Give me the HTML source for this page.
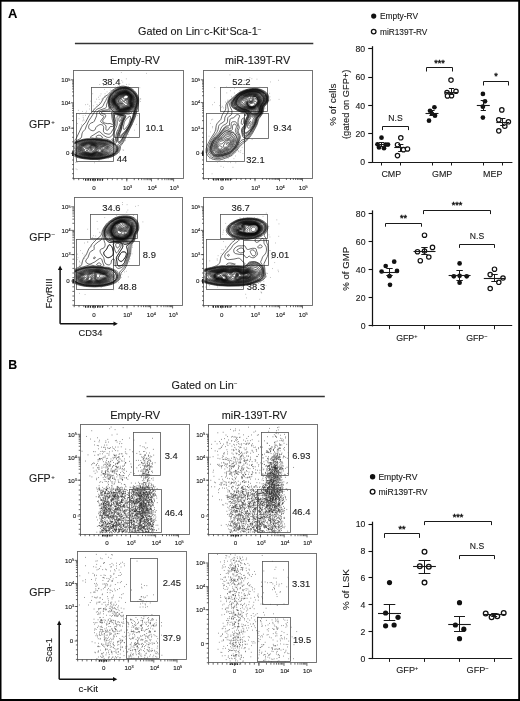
<!DOCTYPE html>
<html><head><meta charset="utf-8"><style>
html,body{margin:0;padding:0;background:#fff;}
body{width:520px;height:701px;overflow:hidden;position:relative;}
svg{position:absolute;left:0;top:0;will-change:transform;font-family:"Liberation Sans", sans-serif;}
text{stroke:#1a1a1a;stroke-width:0.12px;}
</style></head><body>
<svg width="520" height="701" viewBox="0 0 520 701" fill="#1a1a1a">
<rect x="0" y="0" width="520" height="1.7" fill="#000"/>
<rect x="0" y="0" width="1.5" height="701" fill="#000"/>
<rect x="518.2" y="0" width="1.8" height="701" fill="#000"/>
<rect x="0" y="699" width="520" height="2" fill="#000"/>
<text x="8.1" y="17.7" font-size="13" font-weight="bold" fill="#000">A</text>
<text x="8.3" y="368.9" font-size="12.4" font-weight="bold" fill="#000">B</text>
<text x="138" y="35.4" font-size="10.85">Gated on Lin<tspan font-size="6.5" dy="-3.6">&#8722;</tspan><tspan dy="3.6">c-Kit</tspan><tspan font-size="6.5" dy="-3.6">+</tspan><tspan dy="3.6">Sca-1</tspan><tspan font-size="6.5" dy="-3.6">&#8722;</tspan></text>
<path d="M74.9 43.5L313.3 43.5" stroke="#333" stroke-width="1.3"/>
<text x="134.9" y="64" font-size="11" text-anchor="middle">Empty-RV</text>
<text x="257.5" y="64" font-size="10.8" text-anchor="middle">miR-139T-RV</text>
<text x="28.9" y="127.6" font-size="10.6">GFP<tspan font-size="6" dy="-3.2" dx="0.6">+</tspan></text>
<text x="29.2" y="240.6" font-size="10.6">GFP<tspan font-size="6.5" dy="-3.6" dx="0.6">&#8722;</tspan></text>
<rect x="73.5" y="70.5" width="110" height="108" fill="none" stroke="#666" stroke-width="0.9"/>
<path d="M73.9 79.8h-3M73.9 102.8h-3M73.9 128.2h-3M73.9 153.3h-3M73.9 95.88h-1.8M73.9 91.83h-1.8M73.9 88.95h-1.8M73.9 86.72h-1.8M73.9 84.9h-1.8M73.9 83.36h-1.8M73.9 82.03h-1.8M73.9 80.85h-1.8M73.9 120.55h-1.8M73.9 116.08h-1.8M73.9 112.91h-1.8M73.9 110.45h-1.8M73.9 108.43h-1.8M73.9 106.73h-1.8M73.9 105.26h-1.8M73.9 103.96h-1.8M73.9 128.2h-1.8M73.9 132.75h-1.8M73.9 137.29h-1.8M73.9 141.84h-1.8M73.9 146.38h-1.8M73.9 150.93h-1.8M73.9 155.47h-1.8M73.9 160.02h-1.8M73.9 164.56h-1.8M73.9 169.11h-1.8M73.9 173.65h-1.8M73.9 178.2h-1.8M94 178.2v3.2M126.8 178.2v3.2M151.5 178.2v3.2M173.6 178.2v3.2M134.24 178.2v2M138.58 178.2v2M141.67 178.2v2M144.06 178.2v2M146.02 178.2v2M147.67 178.2v2M149.11 178.2v2M150.37 178.2v2M158.15 178.2v2M162.04 178.2v2M164.81 178.2v2M166.95 178.2v2M168.7 178.2v2M170.18 178.2v2M171.46 178.2v2M172.59 178.2v2M73.9 178.2v2M78.71 178.2v2M83.52 178.2v2M88.33 178.2v2M93.14 178.2v2M97.95 178.2v2M102.75 178.2v2M107.56 178.2v2M112.37 178.2v2M117.18 178.2v2M121.99 178.2v2M126.8 178.2v2" stroke="#444" stroke-width="0.8"/>
<path d="M72.9 151.3L72.9 155.9" stroke="#222" stroke-width="1.6"/>
<path d="M85 179.8H103" stroke="#222" stroke-width="2" stroke-dasharray="1.3 1.1"/>
<text x="70.3" y="82.1" font-size="6.2" text-anchor="end">10<tspan font-size="3.8" dy="-1.6">5</tspan></text>
<text x="70.3" y="105.1" font-size="6.2" text-anchor="end">10<tspan font-size="3.8" dy="-1.6">4</tspan></text>
<text x="70.3" y="130.5" font-size="6.2" text-anchor="end">10<tspan font-size="3.8" dy="-1.6">3</tspan></text>
<text x="69.5" y="155.3" font-size="6.2" text-anchor="end">0</text>
<text x="94" y="189.8" font-size="6.2" text-anchor="middle">0</text>
<text x="123" y="190" font-size="6.2">10<tspan font-size="3.8" dy="-1.6">3</tspan></text>
<text x="147.7" y="190" font-size="6.2">10<tspan font-size="3.8" dy="-1.6">4</tspan></text>
<text x="169.8" y="190" font-size="6.2">10<tspan font-size="3.8" dy="-1.6">5</tspan></text>
<rect x="203.5" y="70.5" width="109" height="108" fill="none" stroke="#666" stroke-width="0.9"/>
<path d="M203.8 79.8h-3M203.8 102.6h-3M203.8 128.4h-3M203.8 153.2h-3M203.8 95.74h-1.8M203.8 91.72h-1.8M203.8 88.87h-1.8M203.8 86.66h-1.8M203.8 84.86h-1.8M203.8 83.33h-1.8M203.8 82.01h-1.8M203.8 80.84h-1.8M203.8 120.63h-1.8M203.8 116.09h-1.8M203.8 112.87h-1.8M203.8 110.37h-1.8M203.8 108.32h-1.8M203.8 106.6h-1.8M203.8 105.1h-1.8M203.8 103.78h-1.8M203.8 128.4h-1.8M203.8 132.91h-1.8M203.8 137.42h-1.8M203.8 141.93h-1.8M203.8 146.44h-1.8M203.8 150.95h-1.8M203.8 155.45h-1.8M203.8 159.96h-1.8M203.8 164.47h-1.8M203.8 168.98h-1.8M203.8 173.49h-1.8M203.8 178h-1.8M222 178v3.2M255 178v3.2M279.5 178v3.2M302.5 178v3.2M262.38 178v2M266.69 178v2M269.75 178v2M272.12 178v2M274.06 178v2M275.7 178v2M277.13 178v2M278.38 178v2M286.42 178v2M290.47 178v2M293.35 178v2M295.58 178v2M297.4 178v2M298.94 178v2M300.27 178v2M301.45 178v2M203.8 178v2M208.45 178v2M213.11 178v2M217.76 178v2M222.42 178v2M227.07 178v2M231.73 178v2M236.38 178v2M241.04 178v2M245.69 178v2M250.35 178v2M255 178v2" stroke="#444" stroke-width="0.8"/>
<path d="M202.8 151.2L202.8 155.8" stroke="#222" stroke-width="1.6"/>
<path d="M213 179.6H231" stroke="#222" stroke-width="2" stroke-dasharray="1.3 1.1"/>
<text x="200.2" y="82.1" font-size="6.2" text-anchor="end">10<tspan font-size="3.8" dy="-1.6">5</tspan></text>
<text x="200.2" y="104.9" font-size="6.2" text-anchor="end">10<tspan font-size="3.8" dy="-1.6">4</tspan></text>
<text x="200.2" y="130.7" font-size="6.2" text-anchor="end">10<tspan font-size="3.8" dy="-1.6">3</tspan></text>
<text x="199.4" y="155.2" font-size="6.2" text-anchor="end">0</text>
<text x="222" y="189.6" font-size="6.2" text-anchor="middle">0</text>
<text x="251.2" y="189.8" font-size="6.2">10<tspan font-size="3.8" dy="-1.6">3</tspan></text>
<text x="275.7" y="189.8" font-size="6.2">10<tspan font-size="3.8" dy="-1.6">4</tspan></text>
<text x="298.7" y="189.8" font-size="6.2">10<tspan font-size="3.8" dy="-1.6">5</tspan></text>
<rect x="74.5" y="197.5" width="108" height="108" fill="none" stroke="#666" stroke-width="0.9"/>
<path d="M74.2 206.8h-3M74.2 230.4h-3M74.2 254.6h-3M74.2 281h-3M74.2 223.3h-1.8M74.2 219.14h-1.8M74.2 216.19h-1.8M74.2 213.9h-1.8M74.2 212.04h-1.8M74.2 210.46h-1.8M74.2 209.09h-1.8M74.2 207.88h-1.8M74.2 247.32h-1.8M74.2 243.05h-1.8M74.2 240.03h-1.8M74.2 237.68h-1.8M74.2 235.77h-1.8M74.2 234.15h-1.8M74.2 232.75h-1.8M74.2 231.51h-1.8M74.2 254.6h-1.8M74.2 259.2h-1.8M74.2 263.8h-1.8M74.2 268.4h-1.8M74.2 273h-1.8M74.2 277.6h-1.8M74.2 282.2h-1.8M74.2 286.8h-1.8M74.2 291.4h-1.8M74.2 296h-1.8M74.2 300.6h-1.8M74.2 305.2h-1.8M94 305.2v3.2M127 305.2v3.2M150.6 305.2v3.2M172.6 305.2v3.2M134.1 305.2v2M138.26 305.2v2M141.21 305.2v2M143.5 305.2v2M145.36 305.2v2M146.94 305.2v2M148.31 305.2v2M149.52 305.2v2M157.22 305.2v2M161.1 305.2v2M163.85 305.2v2M165.98 305.2v2M167.72 305.2v2M169.19 305.2v2M170.47 305.2v2M171.59 305.2v2M74.2 305.2v2M79 305.2v2M83.8 305.2v2M88.6 305.2v2M93.4 305.2v2M98.2 305.2v2M103 305.2v2M107.8 305.2v2M112.6 305.2v2M117.4 305.2v2M122.2 305.2v2M127 305.2v2" stroke="#444" stroke-width="0.8"/>
<path d="M73.2 279L73.2 283.6" stroke="#222" stroke-width="1.6"/>
<path d="M85 306.8H103" stroke="#222" stroke-width="2" stroke-dasharray="1.3 1.1"/>
<text x="70.6" y="209.1" font-size="6.2" text-anchor="end">10<tspan font-size="3.8" dy="-1.6">5</tspan></text>
<text x="70.6" y="232.7" font-size="6.2" text-anchor="end">10<tspan font-size="3.8" dy="-1.6">4</tspan></text>
<text x="70.6" y="256.9" font-size="6.2" text-anchor="end">10<tspan font-size="3.8" dy="-1.6">3</tspan></text>
<text x="69.8" y="283" font-size="6.2" text-anchor="end">0</text>
<text x="94" y="316.8" font-size="6.2" text-anchor="middle">0</text>
<text x="123.2" y="317" font-size="6.2">10<tspan font-size="3.8" dy="-1.6">3</tspan></text>
<text x="146.8" y="317" font-size="6.2">10<tspan font-size="3.8" dy="-1.6">4</tspan></text>
<text x="168.8" y="317" font-size="6.2">10<tspan font-size="3.8" dy="-1.6">5</tspan></text>
<rect x="203.5" y="197.5" width="109" height="108" fill="none" stroke="#666" stroke-width="0.9"/>
<path d="M203.8 206.8h-3M203.8 230.4h-3M203.8 254.6h-3M203.8 281h-3M203.8 223.3h-1.8M203.8 219.14h-1.8M203.8 216.19h-1.8M203.8 213.9h-1.8M203.8 212.04h-1.8M203.8 210.46h-1.8M203.8 209.09h-1.8M203.8 207.88h-1.8M203.8 247.32h-1.8M203.8 243.05h-1.8M203.8 240.03h-1.8M203.8 237.68h-1.8M203.8 235.77h-1.8M203.8 234.15h-1.8M203.8 232.75h-1.8M203.8 231.51h-1.8M203.8 254.6h-1.8M203.8 259.2h-1.8M203.8 263.8h-1.8M203.8 268.4h-1.8M203.8 273h-1.8M203.8 277.6h-1.8M203.8 282.2h-1.8M203.8 286.8h-1.8M203.8 291.4h-1.8M203.8 296h-1.8M203.8 300.6h-1.8M203.8 305.2h-1.8M221.7 305.2v3.2M254.6 305.2v3.2M279.6 305.2v3.2M302.5 305.2v3.2M262.13 305.2v2M266.53 305.2v2M269.65 305.2v2M272.07 305.2v2M274.05 305.2v2M275.73 305.2v2M277.18 305.2v2M278.46 305.2v2M286.49 305.2v2M290.53 305.2v2M293.39 305.2v2M295.61 305.2v2M297.42 305.2v2M298.95 305.2v2M300.28 305.2v2M301.45 305.2v2M203.8 305.2v2M208.42 305.2v2M213.04 305.2v2M217.65 305.2v2M222.27 305.2v2M226.89 305.2v2M231.51 305.2v2M236.13 305.2v2M240.75 305.2v2M245.36 305.2v2M249.98 305.2v2M254.6 305.2v2" stroke="#444" stroke-width="0.8"/>
<path d="M202.8 279L202.8 283.6" stroke="#222" stroke-width="1.6"/>
<path d="M212.7 306.8H230.7" stroke="#222" stroke-width="2" stroke-dasharray="1.3 1.1"/>
<text x="200.2" y="209.1" font-size="6.2" text-anchor="end">10<tspan font-size="3.8" dy="-1.6">5</tspan></text>
<text x="200.2" y="232.7" font-size="6.2" text-anchor="end">10<tspan font-size="3.8" dy="-1.6">4</tspan></text>
<text x="200.2" y="256.9" font-size="6.2" text-anchor="end">10<tspan font-size="3.8" dy="-1.6">3</tspan></text>
<text x="199.4" y="283" font-size="6.2" text-anchor="end">0</text>
<text x="221.7" y="316.8" font-size="6.2" text-anchor="middle">0</text>
<text x="250.8" y="317" font-size="6.2">10<tspan font-size="3.8" dy="-1.6">3</tspan></text>
<text x="275.8" y="317" font-size="6.2">10<tspan font-size="3.8" dy="-1.6">4</tspan></text>
<text x="298.7" y="317" font-size="6.2">10<tspan font-size="3.8" dy="-1.6">5</tspan></text>
<rect x="91.5" y="87.5" width="47" height="24" fill="none" stroke="#555" stroke-width="0.8"/>
<rect x="114.5" y="113.5" width="25" height="24" fill="none" stroke="#555" stroke-width="0.8"/>
<rect x="76.5" y="113.5" width="37" height="48" fill="none" stroke="#555" stroke-width="0.8"/>
<rect x="220.5" y="87.5" width="47" height="24" fill="none" stroke="#555" stroke-width="0.8"/>
<rect x="244.5" y="113.5" width="24" height="25" fill="none" stroke="#555" stroke-width="0.8"/>
<rect x="206.5" y="113.5" width="38" height="48" fill="none" stroke="#555" stroke-width="0.8"/>
<rect x="90.5" y="214.5" width="47" height="24" fill="none" stroke="#555" stroke-width="0.8"/>
<rect x="113.5" y="241.5" width="26" height="24" fill="none" stroke="#555" stroke-width="0.8"/>
<rect x="76.5" y="239.5" width="37" height="50" fill="none" stroke="#555" stroke-width="0.8"/>
<rect x="220.5" y="214.5" width="47" height="24" fill="none" stroke="#555" stroke-width="0.8"/>
<rect x="243.5" y="240.5" width="25" height="25" fill="none" stroke="#555" stroke-width="0.8"/>
<rect x="206.5" y="239.5" width="37" height="50" fill="none" stroke="#555" stroke-width="0.8"/>
<text x="102.15" y="84.8" font-size="9.4">38.4</text>
<text x="145.55" y="131" font-size="9.4">10.1</text>
<text x="116.75" y="162.1" font-size="9.4">44</text>
<text x="232.25" y="85" font-size="9.4">52.2</text>
<text x="273.35" y="130.5" font-size="9.4">9.34</text>
<text x="246.35" y="162.6" font-size="9.4">32.1</text>
<text x="102.25" y="211" font-size="9.4">34.6</text>
<text x="142.85" y="258" font-size="9.4">8.9</text>
<text x="118.35" y="289.6" font-size="9.4">48.8</text>
<text x="231.55" y="211" font-size="9.4">36.7</text>
<text x="271.05" y="258" font-size="9.4">9.01</text>
<text x="246.85" y="289.6" font-size="9.4">38.3</text>
<clipPath id="cA1"><rect x="74.3" y="70.4" width="108.1" height="106.6"/></clipPath>
<path clip-path="url(#cA1)" d="M126.05 98.68L124.55 98.84L123.55 98.73L123.27 98.4L123.28 97.9L123.67 96.9L124.52 95.9L125.55 95.32L126.55 95.24L127.3 95.49L127.8 95.88L128.11 96.4L128.17 96.9L128.01 97.4L127.55 97.95L126.8 98.43L126.05 98.68M121.3 101.94L120.8 101.88L120.3 101.56L120.07 101.15L120.08 100.65L120.39 100.15L120.8 99.84L121.3 99.62L122.05 99.55L122.3 99.65L122.44 99.9L122.39 100.9L121.98 101.65L121.3 101.94M122.55 102.68L121.8 102.88L121.05 102.86L120.3 102.65L119.55 102.18L119.14 101.65L118.99 101.15L119.05 100.57L119.39 99.9L120.05 99.26L121.8 98.13L123.55 96.15L124.8 95.19L125.55 94.89L126.3 94.83L127.05 94.98L127.8 95.37L128.33 95.9L128.63 96.65L128.55 97.35L128.25 97.9L127.05 98.94L124.17 100.15L123.77 100.65L123.13 102.15L122.55 102.68M126.55 105.47L126.05 105.57L125.3 105.4L124.68 104.9L123.95 103.9L123.55 103.62L121.05 103.41L119.8 102.98L118.73 102.15L118.33 101.15L118.57 100.15L119.4 99.15L121.55 97.62L124.05 95.33L125.05 94.77L125.8 94.59L126.8 94.66L127.8 95.1L128.55 95.8L128.91 96.65L128.8 97.54L128.25 98.4L127.05 99.45L125 100.65L124.52 101.4L124.47 102.15L124.8 102.64L126.3 103.16L127.06 103.9L127.24 104.4L127.18 104.9L126.55 105.47M126.05 106.17L125.55 106.14L124.8 105.88L122.8 104.43L120.55 103.84L119.05 103.15L117.96 102.15L117.63 101.15L117.69 100.65L118.04 99.9L119.24 98.65L124.19 94.9L125.05 94.48L126.05 94.32L127.3 94.59L128.24 95.15L128.91 95.9L129.21 96.9L129.08 97.65L128.8 98.2L126.84 100.4L126.39 101.15L126.55 101.9L127.84 103.9L127.99 104.65L127.88 105.15L127.55 105.58L127.08 105.9L126.05 106.17M126.55 106.66L125.55 106.75L124.8 106.6L122.55 105.37L120.3 104.53L119.05 103.9L118.05 103.26L117.41 102.65L116.95 101.9L116.78 101.15L116.83 100.65L117.19 99.9L119.05 98.04L123.93 94.65L124.8 94.21L125.8 94L127.05 94.21L128.35 94.9L129.25 95.9L129.56 96.9L129.3 98.09L127.94 100.15L127.61 101.15L127.7 101.9L128.61 104.15L128.65 105.15L128.05 105.98L126.55 106.66M126.3 107.15L125.3 107.22L124.55 107.09L120.55 105.6L117.98 103.9L117.09 103.15L116.39 102.15L116.1 101.15L116.2 100.4L116.63 99.65L119.3 97.16L124.05 94.21L125.55 93.72L127.05 93.94L128.4 94.65L129.4 95.65L129.87 96.9L129.75 97.9L128.54 100.15L128.29 101.15L128.43 102.15L129.21 104.4L129.17 105.4L128.89 105.9L128.29 106.4L126.3 107.15M93.55 150.4L92.79 150.4L92.51 150.15L92.36 149.65L92.58 148.65L92.8 148.34L93.3 148.08L93.73 148.15L94.05 148.37L94.42 149.15L94.22 149.9L93.55 150.4M126.55 107.44L124.8 107.57L122.55 107.06L121.05 106.95L120.55 106.73L118.96 105.15L116.76 103.4L116.05 102.4L115.63 101.15L115.77 100.15L116.26 99.4L119.3 96.58L124.05 93.91L125.55 93.48L127.05 93.73L128.71 94.65L129.8 95.9L130.14 97.15L129.97 98.15L128.97 100.15L128.75 101.15L128.88 102.15L129.61 104.4L129.55 105.61L129.21 106.15L128.55 106.65L126.55 107.44M92.8 151.43L92.05 151.29L91.66 150.9L91.48 150.15L91.55 149.4L91.88 148.4L92.34 147.65L92.8 147.29L93.55 147.2L94.3 147.58L94.82 148.15L95.16 148.9L95.19 149.65L94.81 150.4L94.3 150.85L93.55 151.24L92.8 151.43M125.8 107.9L124.8 107.94L122.55 107.67L121.05 107.81L120.3 107.6L118.81 105.65L116.3 103.4L115.54 102.15L115.22 100.9L115.34 100.15L115.8 99.36L119.3 96.04L124.05 93.64L125.55 93.25L127.05 93.52L128.8 94.5L129.88 95.65L130.24 96.4L130.39 97.15L130.26 98.15L129.36 100.15L129.15 101.15L129.27 102.15L130.01 104.65L130 105.4L129.83 105.9L129.3 106.53L128.55 106.99L127.05 107.59L125.8 107.9M92.55 152.17L91.69 152.15L91.05 151.76L90.72 151.15L90.71 150.15L91.26 148.4L91.98 147.15L92.66 146.65L93.55 146.58L94.31 146.9L95.12 147.65L95.69 148.65L95.84 149.65L95.56 150.4L94.8 151.15L93.55 151.84L92.55 152.17M121.3 108.42L120.44 108.4L119.8 108.02L118.45 105.9L116.55 104.17L115.89 103.4L115.3 102.4L114.94 101.4L114.86 100.65L115.03 99.9L115.97 98.65L118.55 96.11L119.55 95.37L124.64 93.15L125.8 93.03L127.05 93.32L128.3 93.94L129.3 94.69L130.11 95.65L130.55 96.65L130.65 97.4L130.56 98.15L129.75 100.15L129.55 101.15L129.66 102.15L130.35 104.65L130.22 105.9L129.92 106.4L129.3 106.93L126.55 108.05L125.3 108.29L122.8 108.19L121.3 108.42M92.8 152.69L91.8 152.89L90.78 152.65L89.94 151.9L89.64 150.9L89.92 149.9L91.46 146.9L92.3 146.16L93.3 145.99L94.3 146.31L95.35 147.15L96.2 148.4L96.53 149.65L96.33 150.4L95.66 151.15L94.5 151.9L92.8 152.69M120.8 108.91L120.05 108.76L119.55 108.4L118.19 106.15L116.3 104.32L115.56 103.4L115.01 102.4L114.65 101.4L114.56 100.65L114.7 99.9L115.55 98.65L118.3 95.86L119.3 95.09L124.55 92.94L125.8 92.82L127.05 93.13L128.3 93.75L129.5 94.65L130.32 95.65L130.77 96.65L130.89 97.4L130.84 98.15L130.1 100.15L129.91 101.15L130.01 102.15L130.65 104.65L130.54 105.9L130.09 106.65L129.45 107.15L126.55 108.32L125.3 108.58L122.8 108.61L120.8 108.91M92.8 153.15L91.55 153.38L90.47 153.15L89.59 152.65L87.8 151.26L86.45 150.65L86.38 150.4L87.8 150.22L88.8 149.75L89.8 148.72L91.42 146.15L92.24 145.65L93.05 145.53L94.42 145.9L95.71 146.9L96.96 148.65L97.33 149.9L97.06 150.65L96.54 151.15L94.88 152.15L92.8 153.15M121.05 109.18L120.05 109.07L119.42 108.65L117.89 106.15L115.55 103.73L114.52 101.65L114.35 100.65L114.47 99.9L115.3 98.62L118.17 95.65L119.15 94.9L124.55 92.78L125.55 92.66L126.8 92.9L128.3 93.61L129.55 94.54L130.48 95.65L130.93 96.65L131.03 98.15L130.29 100.4L130.17 101.15L130.26 102.15L130.86 104.65L130.75 105.9L130.36 106.65L129.8 107.15L126.8 108.43L125.3 108.79L122.8 108.89L121.05 109.18M91.8 153.67L90.3 153.45L88.05 152.33L85.3 151.44L84.53 150.65L84.43 149.65L84.8 148.97L85.3 148.75L87.8 149.08L88.8 148.86L89.55 148.23L90.71 146.4L91.3 145.75L92.3 145.29L93.55 145.29L94.8 145.78L96.17 146.9L98.65 150.15L98.81 150.4L98.75 150.65L93.3 153.24L91.8 153.67M120.8 109.41L120.05 109.3L119.3 108.83L117.83 106.4L116.05 104.6L115.31 103.65L114.64 102.4L114.29 101.4L114.2 100.4L114.38 99.65L115.05 98.64L117.8 95.73L119.19 94.65L124.55 92.64L125.8 92.56L127.05 92.87L128.55 93.65L129.8 94.64L130.61 95.65L131.06 96.65L131.2 98.15L130.39 101.15L130.47 102.15L131.03 104.65L131.03 105.4L130.84 106.15L130.35 106.9L129.7 107.4L126.55 108.68L125.3 108.97L123.05 109.08L120.8 109.41M91.55 153.9L90.3 153.71L88.05 152.77L85.55 152.1L84.3 151.43L83.71 150.65L83.49 149.9L83.5 148.4L83.8 147.68L84.3 147.41L84.8 147.41L87.3 148.34L88.05 148.41L88.55 148.31L89.3 147.82L90.44 146.15L91.05 145.53L92.05 145.07L93.3 145L94.05 145.18L95.05 145.65L96.33 146.65L98.3 148.65L99.05 149.07L100.3 149.41L100.87 149.9L101.01 150.4L100.9 151.15L100.61 151.65L100.3 151.87L99.8 151.98L98.3 151.74L97.3 151.79L95.8 152.31L92.86 153.65L91.55 153.9M122.3 109.41L121.05 109.61L120.3 109.58L119.55 109.3L119.05 108.88L117.76 106.65L115.64 104.4L114.82 103.15L114.12 101.4L114.02 100.65L114.11 99.9L114.44 99.15L115.02 98.4L117.8 95.44L118.8 94.64L119.8 94.16L121.8 93.55L124.3 92.56L125.3 92.4L126.3 92.51L127.8 93.09L129.42 94.15L130.4 95.15L131.12 96.4L131.37 97.4L131.38 98.15L130.76 100.4L130.63 101.4L131.18 104.4L131.11 105.9L130.8 106.61L130.34 107.15L128.8 108L125.8 109.06L122.3 109.41M92.8 153.9L91.55 154.12L90.55 154.01L87.8 153.06L85.19 152.4L84.1 151.9L83.27 151.15L82.77 150.15L82.48 148.15L82.8 147.18L83.8 146.48L84.8 146.34L85.55 146.57L87.3 147.57L88.3 147.66L89.05 147.25L90.3 145.66L90.97 145.15L92.05 144.78L93.3 144.76L94.3 145.01L95.54 145.65L98.55 148.05L99.3 148.33L101.05 148.65L101.71 149.15L101.81 149.9L101.58 151.15L101.22 151.9L100.64 152.4L99.8 152.56L97.8 152.22L96.8 152.31L95.55 152.71L92.8 153.9M122.05 109.68L120.8 109.83L120.05 109.74L119.33 109.4L118.81 108.9L117.51 106.65L115.62 104.65L114.77 103.4L113.95 101.4L113.85 100.65L113.93 99.9L114.24 99.15L114.8 98.38L117.55 95.4L118.8 94.41L124.3 92.41L125.3 92.27L126.3 92.38L127.8 92.97L129.55 94.12L130.55 95.15L131.26 96.4L131.53 97.4L131.57 98.15L130.87 101.4L131.37 104.4L131.28 105.9L130.98 106.65L130.55 107.19L129.05 108.07L125.8 109.24L122.05 109.68M92.55 154.18L91.55 154.32L90.3 154.17L87.55 153.3L84.85 152.65L83.55 152.04L82.6 151.15L82.1 150.15L81.78 148.4L81.85 147.65L82.06 147.15L82.48 146.65L83.24 146.15L84.8 145.71L85.8 145.8L87.55 146.7L88.3 146.73L88.8 146.46L89.86 145.4L90.65 144.9L91.8 144.55L92.8 144.48L94.05 144.68L95.2 145.15L98.8 147.48L99.8 147.73L102.3 147.94L102.85 148.15L102.96 148.65L102.01 151.4L101.63 152.15L101.05 152.7L100.55 152.91L99.8 152.98L97.8 152.64L96.55 152.71L92.55 154.18M121.8 109.94L120.8 110.03L120.05 109.94L119.3 109.62L118.76 109.15L117.3 106.72L115.39 104.65L114.58 103.4L113.78 101.4L113.75 99.9L114.05 99.12L114.77 98.15L117.3 95.37L118.55 94.33L119.55 93.84L124.05 92.32L125.3 92.13L126.3 92.25L127.8 92.83L129.55 93.97L130.7 95.15L131.41 96.4L131.7 97.4L131.76 98.15L131.13 101.4L131.55 104.4L131.46 105.9L131.17 106.65L130.8 107.17L130.24 107.65L129.27 108.15L125.8 109.42L121.8 109.94M92.3 154.44L91.3 154.5L90.05 154.32L84.61 152.9L83.01 152.15L81.99 151.15L81.44 149.9L81.22 148.15L81.37 147.4L81.64 146.9L82.8 145.95L84.3 145.37L85.8 145.18L87.8 145.52L88.3 145.49L90.8 144.47L92.55 144.23L93.8 144.37L94.8 144.7L98.05 146.49L99.3 146.97L101.05 147.15L103.55 147.03L104.17 147.15L104.48 147.4L104.57 147.9L104.36 148.4L103.2 149.9L102.05 152.27L101.3 152.99L100.05 153.33L97.55 152.99L96.55 153.03L92.3 154.44M121.8 110.17L120.8 110.25L119.8 110.09L119.05 109.71L118.48 109.15L117.14 106.9L115.3 104.88L114.49 103.65L113.59 101.4L113.55 99.9L113.81 99.15L114.55 98.09L117.2 95.15L118.43 94.15L119.55 93.61L124.05 92.14L125.3 91.97L126.3 92.09L128.05 92.81L129.8 94.01L130.88 95.15L131.69 96.65L131.98 98.15L131.44 101.4L131.77 104.4L131.66 105.9L131.05 107.18L130.55 107.66L129.55 108.23L125.8 109.63L121.8 110.17M92.05 154.68L90.3 154.59L84.8 153.28L83.62 152.9L82.55 152.33L81.54 151.4L80.92 150.15L80.68 148.15L80.83 147.4L81.08 146.9L81.51 146.4L82.3 145.82L84.55 144.93L86.05 144.67L88.55 144.58L90.8 144.11L92.3 143.96L93.55 144.06L94.55 144.32L97.8 145.76L99.3 146.25L101.05 146.47L104.3 146.37L104.8 146.51L105.3 146.9L105.5 147.65L105.28 148.4L103.55 150.48L102.31 152.65L101.55 153.29L100.8 153.58L100.05 153.68L97.3 153.37L96.3 153.42L92.05 154.68M121.8 110.43L120.8 110.48L119.8 110.33L118.93 109.9L118.3 109.29L117 107.15L115.05 104.94L114.25 103.65L113.39 101.4L113.28 100.4L113.39 99.65L113.8 98.73L114.55 97.75L117.05 94.96L118.41 93.9L119.55 93.37L124.05 91.94L125.3 91.8L126.3 91.92L128.05 92.64L129.9 93.9L131.08 95.15L131.89 96.65L132.23 98.4L131.78 101.4L132 104.4L131.87 105.9L131.62 106.65L131.14 107.4L130.55 107.92L129.68 108.4L126.05 109.8L121.8 110.43M92.05 154.9L90.3 154.81L84.55 153.53L83.29 153.15L81.92 152.4L80.8 151.25L80.29 149.9L80.19 147.9L80.41 147.15L80.72 146.65L81.53 145.9L82.37 145.4L84.8 144.5L86.55 144.18L92.3 143.68L94.3 143.95L97.3 145.04L99.3 145.54L101.3 145.81L104.8 145.88L105.47 146.15L105.95 146.65L106.18 147.65L105.8 148.9L104.05 150.87L102.87 152.65L102.05 153.42L101.05 153.87L100.05 154.02L97.3 153.76L96.05 153.83L92.05 154.9M122.05 110.68L120.8 110.74L119.8 110.58L118.8 110.12L118.05 109.4L116.8 107.38L114.87 105.15L114.05 103.79L113.15 101.4L113.05 100.4L113.15 99.65L113.57 98.65L114.55 97.36L116.73 94.9L118.3 93.67L119.55 93.1L123.8 91.78L125.05 91.6L126.3 91.73L128.05 92.44L130.05 93.81L131.31 95.15L132.12 96.65L132.42 97.65L132.52 98.65L132.15 101.65L132.26 104.4L132.11 105.9L131.87 106.65L131.44 107.4L130.8 108.04L130.05 108.49L126.05 110.06L122.05 110.68M91.55 155.15L90.05 155L83.8 153.68L82.37 153.15L81.3 152.5L80.24 151.4L79.75 150.15L79.64 148.15L79.78 147.4L80.16 146.65L80.89 145.9L81.8 145.32L84.8 144.15L87.05 143.71L92.05 143.37L94.05 143.58L97.05 144.49L98.3 144.74L101.8 145.22L105.05 145.39L105.8 145.69L106.51 146.4L106.78 147.15L106.82 147.9L106.38 149.4L103.29 152.9L102.3 153.72L101.55 154.07L100.55 154.31L99.3 154.37L96.3 154.18L92.8 155.02L91.55 155.15M122.55 110.91L121.05 111.02L119.8 110.85L118.76 110.4L117.9 109.65L116.55 107.58L114.8 105.55L113.93 104.15L112.96 101.65L112.85 99.9L113.28 98.65L114.05 97.54L116.33 94.9L117.85 93.65L119.55 92.82L123.55 91.6L124.8 91.39L126.05 91.47L127.8 92.09L130.05 93.56L131.37 94.9L132.27 96.4L132.7 97.65L132.85 98.9L132.55 101.65L132.42 105.65L132.14 106.65L131.75 107.4L131.07 108.15L130.3 108.65L126.3 110.27L122.55 110.91M93.3 155.18L91.55 155.39L89.8 155.2L83.55 153.96L82.3 153.53L81.11 152.9L79.94 151.9L79.27 150.65L79.11 148.4L79.27 147.4L79.6 146.65L80.26 145.9L81.39 145.15L84.55 143.88L87.05 143.34L91.55 143.06L93.8 143.21L97.55 144.14L102.3 144.71L105.05 144.9L106.3 145.39L107.02 146.15L107.33 146.9L107.47 147.9L107.41 148.9L107.1 149.9L106.55 150.65L103.05 153.7L101.8 154.34L100.55 154.65L99.3 154.73L96.3 154.57L93.3 155.18M123.05 111.18L121.3 111.32L119.91 111.15L118.65 110.65L117.73 109.9L116.16 107.65L114.55 105.77L113.8 104.57L112.75 101.9L112.57 100.9L112.58 99.9L112.97 98.65L113.8 97.39L115.9 94.9L117.55 93.52L119.3 92.62L123.05 91.46L124.55 91.18L125.8 91.2L127.55 91.72L129.8 93.1L131.3 94.46L132.43 96.15L133.01 97.65L133.2 98.9L132.78 105.15L132.5 106.4L132.07 107.4L131.55 108.09L130.8 108.69L126.55 110.5L123.05 111.18M93.55 155.41L91.8 155.63L89.8 155.45L83.3 154.24L82.05 153.83L80.71 153.15L79.24 151.9L78.65 150.65L78.57 148.4L78.73 147.4L79.04 146.65L79.63 145.9L80.65 145.15L82.19 144.4L84.22 143.65L87.05 142.99L91.05 142.75L93.3 142.82L97.3 143.66L105.3 144.49L106.55 144.97L107.5 145.9L107.96 146.9L108.23 148.4L108.21 149.65L107.94 150.4L107.05 151.35L103.5 153.9L102.05 154.61L100.55 154.98L99.05 155.08L96.05 154.98L93.55 155.41M123.8 111.43L121.8 111.64L120.05 111.49L118.55 110.93L117.52 110.15L114.35 106.15L113.58 104.9L112.51 102.15L112.27 100.15L112.55 98.87L113.4 97.4L115.44 94.9L117.19 93.4L118.8 92.5L121.05 91.73L123.8 91L125.55 90.92L127.05 91.25L128.55 91.98L130.3 93.18L131.58 94.4L132.47 95.65L133.19 97.15L133.55 98.65L133.56 100.15L133 105.65L132.53 107.15L131.91 108.15L130.55 109.21L127.55 110.5L125.8 111.05L123.8 111.43M93.8 155.67L91.8 155.89L89.8 155.72L83.05 154.54L81.8 154.14L80.27 153.4L78.71 152.15L78.05 150.9L77.93 149.9L78.02 148.15L78.23 147.15L78.57 146.4L79.21 145.65L80.29 144.9L81.88 144.15L84.05 143.36L87.01 142.65L90.8 142.41L93.3 142.47L97.05 143.19L100.05 143.39L105.3 144.03L106.95 144.65L108.01 145.65L108.75 147.15L109.28 149.4L109.19 150.15L108.97 150.65L107.97 151.65L103.55 154.35L101.8 155.05L99.55 155.43L96.05 155.38L93.8 155.67M123.05 111.93L121.3 112L119.55 111.69L118.05 111.02L117.01 110.15L114.18 106.65L113.25 105.15L112.16 102.15L111.95 100.9L111.97 99.9L112.39 98.4L113.3 96.94L115.17 94.65L116.98 93.15L119.05 92.04L121.8 91.14L124.05 90.66L125.8 90.66L127.8 91.26L129.8 92.46L131.52 93.9L132.83 95.65L133.65 97.4L133.98 98.9L133.98 100.4L133.6 104.15L133.29 105.9L132.8 107.35L132.15 108.4L131.35 109.15L130.05 109.87L127.05 111.09L125.3 111.55L123.05 111.93M92.3 156.16L90.05 156.04L83.05 154.91L80.8 154.15L79.02 153.15L77.77 151.9L77.3 150.65L77.26 149.65L77.43 147.9L77.67 146.9L78.04 146.15L78.8 145.33L80.05 144.54L82.05 143.68L84.55 142.83L87.3 142.26L91.8 142.05L93.55 142.14L97.05 142.75L100.3 142.96L105.8 143.67L106.8 144.03L107.8 144.65L108.56 145.4L109.24 146.4L110.3 148.65L110.44 149.9L110.17 150.65L109.82 151.15L108.56 152.15L103.88 154.65L101.55 155.47L99.3 155.82L95.55 155.8L92.3 156.16M122.8 112.4L120.8 112.34L118.8 111.81L117.3 110.98L116.17 109.9L113.8 107.04L112.8 105.29L112.18 103.65L111.71 101.9L111.57 100.65L111.63 99.65L112.21 97.9L113.38 96.15L115.05 94.18L116.8 92.82L118.8 91.74L121.55 90.8L123.8 90.33L125.8 90.33L127.55 90.79L129.8 92.05L131.75 93.65L133.1 95.4L133.99 97.15L134.43 98.9L134.44 100.65L134.13 103.65L133.69 105.9L133.2 107.4L132.49 108.65L131.55 109.56L130.3 110.27L127.3 111.5L125.3 112.01L122.8 112.4M93.3 156.41L90.55 156.42L83.3 155.35L80.8 154.63L78.55 153.47L77.13 152.15L76.71 151.4L76.51 150.65L76.49 149.4L76.71 147.65L76.97 146.65L77.36 145.9L78.3 144.98L79.75 144.15L82.05 143.23L85.05 142.29L88.3 141.78L93.3 141.71L97.05 142.27L104.8 143L106.55 143.4L107.8 144L108.96 144.9L110.43 146.65L111.57 148.4L111.83 149.4L111.72 150.15L111.34 150.9L110.67 151.65L109.19 152.65L104.3 154.95L102.3 155.67L100.05 156.14L98.55 156.26L95.3 156.23L93.3 156.41M122.8 112.91L121.55 112.9L120.3 112.7L117.8 111.83L116.13 110.65L114.28 108.65L112.97 106.9L111.97 104.65L111.24 101.9L111.2 99.65L111.71 97.9L112.98 95.9L114.55 94.01L116.3 92.63L118.55 91.39L121.05 90.47L123.55 89.95L125.8 89.95L127.8 90.47L129.8 91.57L131.82 93.15L133.28 94.9L134.38 96.9L134.9 98.65L134.98 100.4L134.73 103.15L134.36 105.15L133.69 107.4L132.92 108.9L132.05 109.88L130.55 110.81L127.55 112.03L125.3 112.55L122.8 112.91M99.05 156.67L95.3 156.67L92.05 156.86L90.55 156.79L83.05 155.73L81.3 155.29L79.55 154.62L78.2 153.9L77.16 153.15L76.42 152.4L75.81 151.4L75.56 150.4L75.56 149.4L75.83 147.4L76.21 146.15L76.95 145.15L78.45 144.15L80.55 143.25L84.05 142.1L87.55 141.42L93.05 141.25L104.55 142.45L106.55 142.86L108.05 143.51L109.39 144.4L111.31 146.15L112.6 147.65L113.18 148.9L113.13 150.15L112.35 151.4L111.05 152.5L109.55 153.31L103.8 155.65L101.55 156.28L99.05 156.67M124.3 113.4L121.8 113.52L119.3 113L117.05 112.08L115.09 110.65L113.19 108.65L111.99 106.65L110.9 103.4L110.57 100.65L110.77 98.9L111.46 97.15L113.18 94.65L114.8 93.02L117.05 91.54L119.8 90.28L122.3 89.58L124.55 89.38L126.55 89.59L128.55 90.26L130.55 91.45L132.3 92.87L133.76 94.65L134.89 96.65L135.48 98.4L135.62 100.15L135.38 103.15L134.85 105.65L133.91 108.4L132.8 110.23L131.55 111.3L128.8 112.56L127.3 112.98L124.3 113.4M74.3 149.44L74.61 147.15L75.15 145.65L76.04 144.65L77.55 143.75L80.8 142.49L85.3 141.22L88.05 140.85L92.3 140.7L94.3 140.79L104.55 141.85L106.05 142.11L107.3 142.49L110.01 143.9L112.92 146.15L113.8 147.14L114.27 147.9L114.54 148.65L114.64 149.4L114.34 150.65L113.63 151.65L112.3 152.79L110.8 153.69L103.3 156.35L100.3 157.02L98.05 157.23L90.8 157.26L83.8 156.37L81.05 155.77L78.3 154.67L76.01 153.15L74.75 151.65L74.44 150.9L74.3 150M128.55 114.17L125.8 114.03L121.55 114.04L119.3 113.54L117.05 112.72L115.05 111.54L113.05 109.73L111.89 108.15L111.02 106.15L110.23 103.4L110 101.15L110.21 98.9L110.98 96.9L112.68 94.4L114.3 92.73L117.05 90.96L119.8 89.72L122.3 89.05L124.55 88.91L127.05 89.23L129.05 89.97L131.3 91.37L133.05 92.92L134.67 95.15L135.77 97.4L136.09 98.65L136.19 99.65L135.97 103.15L135.36 105.9L134.23 109.15L133.14 111.15L132.05 112.42L130.05 113.71L128.55 114.17M124.05 129.42L123.55 129.18L123.3 128.74L123.18 127.15L124.33 122.4L124.8 121.16L125.8 119.69L128.05 117.28L129.55 116.31L130.05 116.24L130.3 116.34L130.59 116.9L130.55 117.9L129.6 121.65L128.8 123.78L128.05 125.06L125.55 128.4L124.8 129.14L124.05 129.42M74.3 145.12L75.32 144.15L77.05 143.23L80.3 142.02L84.05 140.97L86.3 140.54L88.55 140.34L92.3 140.22L94.8 140.33L105.05 141.38L106.8 141.76L108.3 142.32L111.3 143.9L113.8 145.67L114.55 146.44L115.2 147.4L115.59 148.4L115.69 149.15L115.5 150.4L114.77 151.65L113.3 153L111.3 154.25L109.8 154.84L103.8 156.69L101.3 157.27L99.05 157.62L91.05 157.69L82.3 156.55L80.05 155.95L77.8 155.02L75.91 153.9L74.3 152.58M120.55 137.72L120.05 137.73L119.8 137.55L119.32 136.65L119.15 135.4L119.3 134.07L119.76 132.65L120.96 129.9L121.75 126.15L123.12 121.65L123.63 120.4L125.19 117.4L125.43 116.65L125.43 115.9L125.09 115.4L124.55 115.13L120.3 114.52L116.3 113.28L114.3 112.31L112.37 110.9L111.48 109.9L110.88 108.9L109.66 105.4L109.19 103.15L109.22 100.4L109.61 98.15L110.41 96.4L112.37 93.65L114.05 92.04L116.8 90.33L119.8 88.99L122.55 88.33L125.05 88.31L127.55 88.74L129.55 89.51L132.05 91.11L133.9 92.9L135.43 95.15L136.58 97.65L136.91 99.65L136.79 102.4L136.19 105.65L133.87 112.65L132.94 116.4L129.78 124.4L128.85 126.15L125.8 130.92L124.8 132.17L122.85 134.15L121.3 136.98L120.55 137.72M74.3 143.69L76.55 142.52L80.05 141.27L83.8 140.28L86.8 139.8L93.8 139.63L104.8 140.67L106.8 141.06L108.8 141.77L111.55 143.07L114.4 144.65L115.36 145.4L116.16 146.4L116.75 147.65L116.96 148.9L116.7 150.4L115.84 151.9L114.3 153.31L112.05 154.77L110.05 155.58L104.8 157.01L99.55 158.1L97.8 158.22L91.3 158.22L83.05 157.26L80.8 156.78L78.55 156.06L76.3 155.01L74.3 153.82M119.05 142.46L118.55 142.5L118.05 142.34L117.65 141.9L117.43 141.15L117.42 140.15L117.99 134.4L118.66 132.15L120.16 128.9L120.99 125.65L122.41 121.4L124.03 117.65L124.21 116.9L124.09 116.15L123.8 115.84L123.05 115.53L120.05 114.99L114.8 113.65L113.8 113.5L113.05 113.66L112.69 114.4L112.72 116.4L113.08 118.15L114.1 120.9L114.5 122.4L114.57 123.65L114.3 124.82L113.8 125.7L113.05 126.32L112.3 126.52L110.8 126.5L110.05 126.78L109.5 127.4L108.8 128.97L108.32 129.65L107.55 130.15L106.8 130.28L106.3 130.12L105.98 129.65L105.9 128.9L106.05 126.65L105.91 125.9L105.51 125.15L104.55 124.31L101.34 122.4L100.65 121.65L100.68 121.15L100.93 120.65L103.59 117.15L103.77 116.65L103.72 116.15L103.12 115.65L101.3 115.02L100.3 114.4L99.55 113.46L99.44 112.65L99.67 112.15L100.2 111.65L101.77 110.9L103.8 110.3L107.8 109.69L108.48 109.4L108.8 109.08L109.02 108.4L109.02 107.65L108.34 104.9L108.18 103.65L108.74 98.9L109.22 97.4L109.9 96.15L111.69 93.65L112.8 92.41L114.05 91.41L115.8 90.31L117.8 89.26L119.55 88.55L121.3 88.04L122.55 87.84L125.55 87.92L128.3 88.51L130.55 89.54L132.8 91.13L134.49 92.9L136.24 95.65L137.16 97.9L137.41 99.9L137.21 103.15L136.71 105.65L135.01 111.4L133.84 116.15L130.23 124.9L126.3 131.78L123.84 135.4L122.3 139.03L121.55 140.46L121.05 141.16L120.3 141.87L119.05 142.46M74.3 142.95L76.8 141.78L80.3 140.56L83.55 139.72L86.55 139.27L94.05 139.18L105.3 140.24L106.8 140.54L108.8 141.22L116.05 144.49L116.71 145.15L117.25 146.15L117.68 147.4L117.84 148.65L117.51 150.4L117.01 151.4L116.46 152.15L115.05 153.44L112.55 155.07L111.05 155.77L109.55 156.23L103.3 157.75L99.55 158.45L97.55 158.58L91.3 158.57L83.55 157.72L81.05 157.24L78.55 156.52L76.8 155.8L74.3 154.51M74.3 140.5L75.35 139.65L76.14 138.65L81.55 127.13L82.8 125.32L85.55 122.38L89.02 115.65L89.8 114.4L93.05 110.96L95.8 107.55L96.8 106.64L99.05 104.98L100.13 103.9L101.3 102.26L103.38 98.4L104.3 97.1L105.3 96.24L107.3 95.11L108.3 94.37L110.72 91.65L111.8 90.67L114.8 88.72L117.3 87.51L121.05 86.29L123.3 86.12L127.05 86.75L130.05 87.78L131.55 88.58L133.05 89.62L134.3 90.72L135.35 91.9L136.73 93.9L137.94 96.15L138.59 98.15L138.77 99.9L138.67 102.4L138.38 104.65L135.71 115.65L134.93 117.9L132.48 123.65L126.55 135.58L124.42 140.4L123.14 142.65L120.8 145.68L120.48 146.65L120.27 148.9L119.94 150.15L119.29 151.4L118.32 152.65L117.05 153.8L115.55 154.82L113.05 156.25L111.3 156.99L109.3 157.54L105.8 158.26L100.55 159.25L98.8 159.46L91.3 159.53L84.05 158.82L78.55 157.81L74.3 156.34M119.66 121.4L120.55 120.21L121.44 118.15L121.39 117.4L120.8 116.99L120.05 116.92L119.55 117.04L119.09 117.4L118.89 117.9L118.85 119.4L119.01 120.9L119.3 121.45L119.66 121.4M102.24 138.15L102.55 137.9L102.61 137.65L102.4 137.15L101.95 136.65L100.55 135.65L99.3 135.23L98.3 135.26L97.23 135.65L96.17 136.4L95.74 137.15L96.19 137.65L97.94 138.15L100.55 138.4L102.24 138.15M113.13 140.65L113.61 140.4L113.77 139.65L113.55 138.93L113.05 138.68L112.05 139.15L111.76 139.65L111.8 139.9L112.29 140.4L113.13 140.65M74.3 141.72L79.83 138.9L81.13 137.9L81.58 136.9L81.96 133.9L82.5 132.4L83.3 131.24L85.14 129.4L86.41 125.9L89 120.4L91.24 117.15L93.59 113.4L95.56 110.65L96.8 109.42L98.05 108.73L101.09 107.65L102.55 106.57L103.15 105.65L104.27 103.15L105.76 100.65L106.59 98.65L107.15 97.65L111.16 92.65L112.55 91.29L115.3 89.49L118.3 88.02L121.3 87.1L123.8 86.92L126.8 87.33L129.8 88.28L132.55 89.93L133.8 90.98L134.88 92.15L136.42 94.4L137.46 96.4L138.03 98.15L138.22 100.15L138.09 102.65L137.75 104.9L135 115.9L134.37 117.65L131.13 125.15L125.57 135.65L123.24 140.9L122.11 142.65L120.07 144.65L119.55 145.4L119.36 146.15L119.35 148.4L119.15 149.65L118.51 151.15L117.38 152.65L116.05 153.79L114.3 154.96L112.55 155.94L111.05 156.57L104.8 158.04L101.05 158.79L98.8 159.09L91.05 159.13L83.55 158.33L78.55 157.28L74.3 155.57M114.71 141.9L115.05 141.5L115.24 140.9L115.89 135.9L116.88 131.65L118.55 128.34L119.62 124.9L120.8 122.3L122.53 117.9L122.6 117.15L122.36 116.65L121.3 116.16L118.3 115.86L117.55 116.01L117.08 116.4L116.95 117.15L117.33 123.15L117.01 125.15L115.22 129.9L114.61 131.15L112.39 135.15L111.55 136.14L110.8 136.73L109.8 137.21L108.8 137.42L107.55 137.35L106.55 137.04L105.05 136.25L103.3 135.02L100.05 131.96L99.55 131.68L99.05 131.61L98.05 131.99L93.8 134.79L91.08 136.4L90.26 137.15L90.28 137.4L90.62 137.65L91.53 137.9L98.55 138.9L101.51 139.15L105.3 139.08L106.8 139.23L108.3 139.74L112.8 141.85L114.05 142.09L114.71 141.9M74.3 142.49L78.8 140.56L83.3 139.24L86.55 138.78L91.3 138.77L94.3 138.89L100.55 139.58L106.05 139.99L108.55 140.72L113.8 142.95L115.3 143.22L116.05 143.02L116.36 142.4L116.55 139.65L117.15 135.4L117.57 133.4L118.16 131.65L119.55 128.76L120.66 124.9L123.36 117.9L123.55 117.15L123.52 116.65L123.05 116.05L121.8 115.65L116.3 114.67L115.3 114.69L114.8 114.9L114.58 115.15L114.43 115.65L114.47 116.4L115.37 119.4L115.79 121.9L115.84 123.4L115.63 124.65L114.55 127.13L112.68 129.9L111.05 132.74L110.3 133.6L109.3 134.13L108.05 134.15L105.8 133.6L104.73 133.15L103.88 132.4L103.5 131.65L103.36 130.9L103.67 127.65L103.58 126.65L103.05 125.64L102.53 125.15L101.8 124.74L100.8 124.52L99.8 124.67L98.74 125.15L97.14 126.15L96.05 127.24L95.2 129.4L94.8 130.03L94.05 130.56L93.3 130.72L92.3 130.65L91.05 130.26L90.05 129.7L89.3 129.01L88.8 128.17L88.61 127.4L88.62 126.65L88.85 125.65L89.5 124.4L90.3 123.49L91.05 123.01L93.3 122.21L94.32 121.15L96.61 115.9L96.8 112.9L97.08 112.15L97.6 111.4L98.8 110.55L104.68 108.4L105.67 107.9L106.24 107.4L106.53 106.65L106.44 105.15L106.56 104.4L107.55 101.87L108.23 98.65L108.68 97.4L109.41 96.15L111.41 93.4L112.3 92.39L113.55 91.32L116.55 89.5L119.3 88.27L122.05 87.56L124.3 87.49L127.55 87.99L129.8 88.81L132.55 90.53L134.47 92.4L135.87 94.4L137.15 96.9L137.58 98.4L137.73 100.15L137.59 102.65L137.23 104.9L135.37 111.65L134.44 115.65L133.82 117.4L130.4 125.4L126.66 132.15L124.52 135.65L122.3 140.73L121.03 142.4L120.05 143.14L118.55 143.99L118.05 144.5L117.94 145.15L118.4 147.9L118.38 149.15L117.82 150.9L116.77 152.4L115.67 153.4L114.05 154.54L112.3 155.55L111.05 156.09L104.3 157.77L100.55 158.53L98.55 158.77L91.05 158.79L83.55 157.96L81.05 157.49L78.55 156.82L76.55 156.03L74.3 154.92M119.55 141.48L119.05 141.58L118.55 141.44L118.29 141.15L118.14 140.65L118.16 136.15L118.35 134.4L118.93 132.4L120.42 129.15L121.28 125.65L122.67 121.4L124.44 117.4L124.59 116.4L124.39 115.9L123.51 115.4L119.8 114.75L116.3 113.77L112.3 112.4L111.55 112.39L111.43 112.9L112.08 118.65L112.45 120.4L113.29 123.15L113.27 123.65L113.05 124.16L112.8 124.36L112.3 124.43L110.05 123.48L107.8 123.7L105.55 123.26L104.05 122.73L103.05 122.01L102.67 121.15L102.83 120.4L103.42 119.4L105.3 117.11L105.69 116.15L105.69 115.4L105.52 114.9L105.05 114.35L104.3 114.02L102.8 113.79L102.05 113.54L101.6 113.15L101.51 112.65L101.8 112.22L102.23 111.9L103.61 111.4L107.05 111.03L109.55 111.05L109.98 110.9L110.07 110.4L109.79 108.65L108.63 103.9L108.61 102.15L108.86 99.65L109.18 98.15L109.7 96.9L111.16 94.65L112.56 92.9L113.8 91.8L115.3 90.8L117.55 89.57L119.3 88.82L120.8 88.33L122.3 88.04L125.3 88.04L127.8 88.51L129.8 89.3L132.05 90.72L134.09 92.65L135.93 95.4L136.92 97.65L137.24 99.65L137.1 102.65L136.6 105.4L134.63 111.9L133.59 116.15L130.13 124.65L129.22 126.4L126.21 131.4L123.49 135.15L122.05 138.43L121.3 139.83L120.44 140.9L119.55 141.48M74.3 143.19L76.8 142L80.3 140.78L83.3 140L86.55 139.47L93.8 139.32L104.8 140.35L106.8 140.72L108.55 141.31L115.3 144.49L116.12 145.15L116.83 146.15L117.34 147.4L117.54 148.65L117.24 150.4L116.39 151.9L114.8 153.4L112.3 155.02L111.05 155.59L109.55 156.07L103.8 157.52L99.8 158.3L97.8 158.46L91.3 158.45L83.3 157.56L80.55 156.99L78.3 156.28L76.55 155.51L74.3 154.29M120.8 136.18L120.3 136.34L120.05 136.18L119.8 135.7L119.71 134.9L119.84 133.9L121.18 130.4L121.93 126.4L123.25 121.9L123.86 120.4L125.62 117.15L125.84 116.4L125.78 115.65L125.3 115.15L124.8 114.96L120.8 114.5L116.8 113.31L114.45 112.15L112.55 110.67L111.18 108.9L109.88 105.4L109.36 102.9L109.39 100.15L109.77 98.15L110.57 96.4L112.54 93.65L114.3 92.01L117.3 90.21L120.05 89.03L122.55 88.46L125.3 88.45L127.55 88.85L129.8 89.77L132.22 91.4L133.95 93.15L135.44 95.4L136.46 97.65L136.78 99.65L136.66 102.4L136.42 104.15L135.98 105.9L135.12 108.65L133.54 112.9L132.61 116.65L129.58 124.4L128.62 126.15L125.55 130.81L124.55 131.94L122.26 133.9L120.8 136.18M74.3 143.9L76.3 142.79L79.55 141.58L83.3 140.54L86.55 139.96L90.05 139.75L93.8 139.74L104.8 140.79L106.8 141.19L108.55 141.8L111.3 143.1L114.05 144.66L115.05 145.44L115.87 146.4L116.5 147.65L116.73 148.9L116.49 150.4L115.62 151.9L114.05 153.32L111.8 154.74L110.05 155.44L104.3 157.04L99.3 158.03L91.05 158.11L82.8 157.11L80.3 156.54L78.3 155.84L76.55 155.01L74.3 153.63" fill="none" stroke="#111" stroke-width="0.62" stroke-linejoin="round"/>
<path d="M99.19 102.8h.7M75.86 157.3h.7M75.7 158.22h.7M77.97 110.33h.7M86.03 111.21h.7M98.12 97.28h.7M107.81 158.51h.7M122.65 149.89h.7M82.47 120.92h.7M99.4 84.47h.7M128.7 84.28h.7M94.77 102.01h.7M96.66 104.51h.7M87.43 104.37h.7M104.06 89.49h.7M136.02 124.4h.7M76.65 162.53h.7M90.06 101.16h.7M99.71 95.85h.7M85.19 104.67h.7M81.08 124.88h.7M112.46 78.66h.7M103.27 85.46h.7M137.19 115.57h.7M92.42 93.72h.7M119.32 152.92h.7M80.55 128.81h.7M96.2 99.2h.7M126.21 84.46h.7M105.13 96.72h.7M77.16 123.57h.7M109.98 87.66h.7M111.15 91.23h.7M102.3 98.37h.7M101.61 99.12h.7M120.92 118.64h.7M78.68 118.66h.7M128.04 86.65h.7M92.48 111.21h.7M98.66 160.56h.7M110.98 81.1h.7M113.12 79.31h.7M146.11 73.39h.7M125.14 140.61h.7M122.43 82.15h.7M115 87.1h.7M132.24 124.41h.7M104.98 96.74h.7M82.31 111.43h.7M140.21 98.88h.7M83.64 120.27h.7M119.26 85.67h.7M94.07 162.77h.7M106.65 85.02h.7M98.78 99.38h.7M139.97 101.45h.7M104.72 93.73h.7M75.7 168.89h.7M104.03 96.33h.7M82.75 115.78h.7M98.38 135.3h.7M101.65 136.56h.7M83.25 119.1h.7M117.51 86.38h.7M76.17 121.29h.7M121.4 80.64h.7M120.95 72.49h.7M126.15 137.31h.7M79.2 113.98h.7M128.66 137.11h.7M134.15 130.16h.7M89.29 109h.7M75.42 162.39h.7M125.91 78.84h.7M109.89 90.05h.7M85.59 112.59h.7M85.08 115.43h.7M93.07 109.22h.7M100.66 93.89h.7M92.88 105.84h.7M76.71 169.62h.7M139.5 87.72h.7M89.15 106.01h.7M82.83 117.6h.7M106.69 91.89h.7M123.37 150.25h.7M119.43 121.42h.7M140.44 98.98h.7M127.78 134.6h.7M100.51 135.16h.7" stroke="#888" stroke-width="0.7"/>
<clipPath id="cA2"><rect x="204.2" y="70.4" width="107.6" height="106.4"/></clipPath>
<path clip-path="url(#cA2)" d="M252.7 106.22L251.45 106.34L250.45 106.01L249.98 105.65L249.64 105.15L249.6 104.4L250.05 103.9L250.95 103.56L253.45 102.92L254.45 102.99L254.7 103.2L254.84 103.65L254.57 104.65L253.77 105.65L252.7 106.22M252.7 106.7L251.2 106.76L250.45 106.56L249.7 106.15L249.16 105.65L248.71 104.9L248.61 104.15L248.78 103.65L249.45 103.12L251.95 102.56L254.7 101.4L255.45 101.27L255.98 101.4L256.41 101.9L256.48 102.4L256.31 103.15L255.81 104.15L255.11 105.15L254.36 105.9L253.56 106.4L252.7 106.7M252.95 106.91L251.2 107.02L250.45 106.85L249.54 106.4L248.93 105.9L248.34 105.15L248.06 104.4L248.07 103.65L248.43 102.9L248.95 102.52L251.63 102.15L252.7 101.67L253.45 101.15L254.64 99.9L254.87 99.4L254.95 98.19L255.2 97.95L255.57 98.15L256.05 99.15L257.22 100.65L257.46 101.4L257.4 102.15L256.74 103.65L255.42 105.4L254.21 106.4L252.95 106.91M252.45 107.18L251.45 107.22L250.45 107.04L249.57 106.65L248.87 106.15L248.16 105.4L247.76 104.65L247.63 103.9L247.74 103.15L248.2 102.25L248.7 101.89L251.2 101.81L251.95 101.56L252.6 101.15L253.11 100.65L253.53 99.9L253.53 98.15L253.69 97.65L254.45 97.02L255.45 96.89L256.21 97.4L257.7 100.27L257.96 101.15L257.84 102.15L256.95 103.94L255.28 105.9L253.95 106.77L252.45 107.18M249.95 98.15L249.2 98.32L248.45 98.25L247.95 97.99L247.84 97.65L248.11 97.15L248.7 96.59L249.2 96.35L249.95 96.36L250.75 96.9L250.95 97.4L250.7 97.78L249.95 98.15M253.2 107.18L251.95 107.36L250.95 107.29L249.95 106.99L248.95 106.42L248.11 105.65L247.59 104.9L247.36 104.15L247.39 103.15L247.83 101.9L248.45 101.18L248.95 101.05L250.95 101.4L251.7 101.18L252.13 100.9L252.56 100.4L252.79 99.65L252.44 98.15L252.52 97.65L253.13 97.15L254.2 96.65L255.45 96.51L256.2 96.86L256.77 97.65L258.13 100.4L258.27 101.15L258.2 101.83L257.45 103.57L256.07 105.4L254.7 106.56L253.2 107.18M252.2 107.41L250.7 107.31L249.2 106.69L247.96 105.65L247.25 104.4L247.18 103.4L247.45 102.13L247.95 100.89L248.55 99.9L248.06 99.4L246.69 98.65L246.31 98.15L246.67 97.65L248.02 96.65L249.2 96.03L250.2 96.08L251.45 96.78L252.2 97.01L254.7 96.35L255.45 96.34L255.95 96.5L256.7 97.19L258.31 100.4L258.41 101.4L258.16 102.4L257.45 103.79L256.45 105.15L255.45 106.15L254.45 106.81L253.45 107.19L252.2 107.41M251.48 100.9L252.06 100.4L252.25 99.65L251.95 98.96L251.45 98.66L250.7 98.71L249.95 99L249.24 99.4L248.83 99.9L250.2 100.92L250.95 101.03L251.48 100.9M252.95 107.42L251.2 107.5L249.7 107.08L248 105.9L247.1 104.65L246.93 103.4L247.28 101.15L247.25 100.4L246.76 99.65L245.48 98.65L245.39 98.15L245.7 97.68L246.08 97.4L248.7 95.87L249.95 95.7L252.45 96.51L254.95 96.11L255.95 96.27L256.45 96.59L256.92 97.15L258.45 100.15L258.62 101.15L258.42 102.15L257.72 103.65L256.95 104.78L255.96 105.9L255.01 106.65L253.96 107.15L252.95 107.42M252.7 107.67L251.2 107.69L249.95 107.41L248.53 106.65L247.32 105.65L246.75 104.9L246.48 104.15L246.51 101.65L246.35 100.9L246.05 100.4L244.9 99.4L244.54 98.9L244.51 98.15L245.05 97.4L248.75 95.4L249.95 95.26L252.45 95.92L255.2 95.76L256.2 95.99L256.7 96.34L257.2 96.94L258.85 100.15L258.97 101.15L258.7 102.25L257.95 103.79L256.95 105.26L256.13 106.15L255.13 106.9L253.95 107.4L252.7 107.67M252.7 107.91L251.2 107.93L249.7 107.56L248.42 106.9L246.74 105.65L246.28 105.15L245.9 104.4L245.75 102.15L245.54 101.4L245.2 100.89L244.11 99.9L243.81 99.4L243.75 98.4L243.94 97.9L244.45 97.28L245.38 96.65L248.7 95.03L250.2 94.88L252.7 95.45L255.2 95.39L256.32 95.65L256.95 96.07L257.45 96.66L259.2 99.96L259.32 101.15L258.97 102.4L257.95 104.36L256.95 105.78L256.09 106.65L255.2 107.24L254.1 107.65L252.7 107.91M252.7 108.17L251.2 108.17L249.7 107.82L248.31 107.15L246.03 105.65L245.51 105.15L245.08 104.4L244.66 102.15L244.3 101.65L243.41 100.9L243.02 100.15L242.97 99.4L243.17 98.4L243.56 97.65L244 97.15L245.11 96.4L248.7 94.7L250.2 94.56L252.7 95.05L255.45 95.09L256.45 95.35L257.2 95.85L257.7 96.43L259.12 98.9L259.56 99.9L259.65 101.15L259.27 102.4L258.2 104.48L256.95 106.28L256.2 107.02L255.2 107.62L254.2 107.93L252.7 108.17M252.7 108.41L251.2 108.39L249.7 108.05L246.05 106.15L244.64 105.15L243.45 103.34L242.1 102.15L241.85 101.65L241.84 101.15L242.5 98.9L243.13 97.65L244.16 96.65L247.95 94.7L249.7 94.29L252.95 94.76L255.95 94.9L256.95 95.31L257.84 96.15L259.45 98.86L259.87 99.9L259.92 101.15L259.53 102.4L257.95 105.35L256.45 107.22L255.7 107.74L254.95 108.04L252.7 108.41M253.45 108.66L250.95 108.63L249.95 108.41L248.7 107.92L244.11 105.65L241.45 103.14L240.84 102.15L240.85 101.15L242.31 98.15L243.31 96.9L244.45 96.11L247.37 94.65L248.45 94.22L249.45 94.03L255.95 94.58L256.95 94.93L257.95 95.76L259.46 98.15L260.09 99.4L260.3 100.65L260.03 101.9L258.2 105.48L256.82 107.4L256.2 107.93L255.45 108.3L253.45 108.66M255.2 108.92L252.2 109.1L249.95 108.75L243.95 106.29L242.32 105.15L240.45 103.15L240.07 102.4L239.98 101.65L240.51 100.15L241.73 98.15L242.5 97.15L243.35 96.4L244.6 95.65L247.7 94.16L249.2 93.75L250.45 93.71L252.95 94.03L255.95 94.22L256.95 94.52L257.9 95.15L258.72 96.15L260.33 98.9L260.68 100.15L260.62 101.15L259.93 102.9L257.45 107.33L256.45 108.4L255.2 108.92M255.95 109.45L254.95 109.62L253.2 109.61L250.45 109.27L246.45 107.67L243.45 106.66L241.95 105.68L239.79 103.4L239.4 102.65L239.29 101.9L239.41 101.15L239.84 100.15L241.7 97.4L242.73 96.4L243.95 95.61L247.2 94.03L248.95 93.48L250.45 93.38L255.7 93.81L256.95 94.1L257.95 94.66L259.06 95.9L260.58 98.4L261.05 99.65L261.07 100.9L260.55 102.4L257.95 107.34L256.95 108.76L255.95 109.45M255.7 110.43L254.7 110.44L252.7 110.19L250.2 109.64L246.45 108.1L243.2 107.11L242.2 106.58L241.05 105.65L239.7 104.3L239.01 103.4L238.7 102.65L238.65 101.9L238.88 100.9L239.36 99.9L241.33 97.15L242.45 96.14L244.09 95.15L247.27 93.65L249.2 93.12L250.95 93.07L256.2 93.49L257.52 93.9L258.6 94.65L259.61 95.9L261.12 98.4L261.53 99.65L261.51 100.9L261.07 102.15L257.7 108.75L256.7 110.02L255.7 110.43M255.95 111.45L254.45 111.43L252.45 110.97L250.45 110.27L246.7 108.63L242.95 107.56L241.34 106.65L239.64 105.15L238.7 104.15L238.22 103.4L237.99 102.65L237.99 101.9L238.26 100.9L238.95 99.5L239.86 98.15L240.92 96.9L242.2 95.82L243.95 94.81L247.2 93.31L249.2 92.78L250.95 92.71L256.2 93.06L257.7 93.49L259.04 94.4L260.08 95.65L261.62 98.15L262.04 99.4L262.05 100.65L261.65 101.9L259.86 105.15L257.7 110.14L256.95 111.02L255.95 111.45M256.2 112.41L254.2 112.49L252.45 112.07L247.2 109.29L245.95 108.85L243.2 108.18L241.95 107.68L240.45 106.7L238.69 105.15L237.52 103.65L237.29 102.9L237.33 101.9L237.73 100.65L238.36 99.4L239.19 98.15L240.25 96.9L241.7 95.65L243.7 94.5L246.95 93.02L249.2 92.43L251.45 92.34L256.45 92.64L258.2 93.19L259.56 94.15L261 95.9L262.21 97.9L262.66 99.4L262.62 100.65L262.19 101.9L259.95 105.89L258.14 110.9L257.3 111.9L256.2 112.41M255.95 113.46L253.7 113.62L252.2 113.23L249.16 110.9L247.45 109.91L245.95 109.34L242.7 108.57L241.2 107.92L239.36 106.65L237.43 104.9L236.88 104.15L236.59 103.4L236.54 102.4L236.77 101.4L237.3 100.15L238.15 98.65L239.1 97.4L240.2 96.25L242.05 94.9L245.2 93.34L247.45 92.45L249.7 91.99L254.45 91.99L256.95 92.25L258.95 93L260.66 94.4L262.07 96.15L262.92 97.65L263.34 99.15L263.27 100.65L262.8 101.9L261.18 104.4L260.41 105.9L259.79 107.65L259 110.65L258.55 111.65L257.98 112.4L257.45 112.84L255.95 113.46M226.7 144.47L226.45 144.49L226.19 144.15L226.22 143.65L226.53 142.9L227.27 142.15L227.7 141.95L228.2 141.93L228.45 142.13L228.49 142.4L228.2 143.1L227.45 143.96L226.7 144.47M255.45 113.93L253.45 114.07L252.2 113.72L251.2 113.03L249.13 111.15L248 110.4L246.2 109.61L242.95 108.85L241.45 108.29L239.29 106.9L237.05 104.9L236.54 104.15L236.25 103.15L236.31 102.15L236.61 101.15L237.3 99.65L238.07 98.4L239.06 97.15L240.33 95.9L242.45 94.49L246.2 92.75L248.45 92.04L250.7 91.78L255.2 91.84L257.7 92.25L258.7 92.65L259.7 93.25L261.66 95.15L262.75 96.65L263.41 98.15L263.64 99.65L263.38 101.15L262.9 102.15L261.45 104.28L260.69 105.65L260.05 107.4L259.24 110.65L258.7 111.9L258.2 112.56L257.45 113.19L256.45 113.67L255.45 113.93M225.95 147.16L224.45 147.28L223.64 147.15L223.23 146.9L223.28 146.15L224.61 143.15L225.49 141.9L226.76 140.9L228.2 140.39L228.95 140.39L229.45 140.55L229.87 140.9L230.06 141.4L230.01 142.15L229.7 142.92L227.63 146.15L226.95 146.74L225.95 147.16M220.45 149.2L219.2 149L218.64 148.65L218.2 148.12L218.01 147.4L218.08 146.9L218.45 146.16L218.95 145.78L219.45 145.68L220.2 145.88L222.15 147.15L222.2 147.65L221.79 148.4L221.25 148.9L220.45 149.2M254.7 114.44L253.2 114.5L251.95 114.05L250.95 113.25L249.1 111.4L247.15 110.15L245.7 109.63L242.7 108.97L240.95 108.25L238.28 106.4L236.51 104.65L236.12 103.9L235.97 102.9L236.12 101.9L236.58 100.65L237.35 99.15L238.4 97.65L239.53 96.4L240.7 95.4L241.95 94.6L243.95 93.59L247.7 92.09L250.2 91.68L254.2 91.64L256.95 91.89L258.95 92.57L260.81 93.9L262.6 95.9L263.34 97.15L263.8 98.65L263.85 100.15L263.52 101.4L262.97 102.4L261.45 104.57L260.75 105.9L260.2 107.49L259.39 110.9L258.7 112.32L257.95 113.14L257.2 113.65L256.2 114.08L254.7 114.44M221.45 149.9L220.45 150.07L219.34 149.9L218.29 149.4L217.54 148.65L217.23 147.9L217.23 146.9L217.56 145.9L218.2 144.91L218.95 144.25L219.7 143.92L221.45 143.93L222.2 143.68L224.85 141.15L225.95 140.34L226.95 139.82L227.95 139.53L228.95 139.48L229.74 139.65L230.45 140.11L230.86 140.9L230.77 142.15L228.94 145.9L228.24 146.9L227.12 147.65L223.95 148.59L221.45 149.9M254.95 114.9L253.45 115.13L252.2 114.82L250.95 113.84L248.96 111.65L247.7 110.69L245.95 109.93L242.7 109.22L240.95 108.54L238.2 106.74L236.23 104.9L235.81 104.15L235.62 103.15L235.8 101.9L236.27 100.65L237.05 99.15L238.09 97.65L239.22 96.4L240.45 95.33L241.7 94.52L243.7 93.5L247.45 91.99L249.95 91.52L253.95 91.42L256.7 91.62L258.95 92.32L260.96 93.65L262.87 95.65L263.74 97.15L264.15 98.65L264.17 100.15L263.83 101.4L263.28 102.4L261.64 104.65L260.97 105.9L260.45 107.4L259.66 110.9L258.99 112.4L258.39 113.15L257.45 113.89L256.45 114.4L254.95 114.9M221.45 150.71L219.95 150.77L218.57 150.4L217.32 149.65L216.59 148.65L216.4 147.4L216.65 146.15L217.45 144.38L218.45 142.95L219.45 141.92L220.2 141.42L220.95 141.12L223.45 140.51L225.95 139.03L227.2 138.51L228.2 138.35L229.2 138.43L230.2 138.73L230.89 139.15L231.6 140.15L231.75 140.9L231.7 141.65L231.29 142.9L229.77 146.4L229.32 147.15L228.7 147.74L227.95 148.18L224.7 149.24L222.37 150.4L221.45 150.71M253.7 115.9L252.7 115.88L251.7 115.33L250.7 114.31L248.74 111.9L247.2 110.72L245.7 110.13L241.95 109.3L240.7 108.76L239.22 107.9L236.31 105.65L235.69 104.9L235.26 103.9L235.28 102.4L236.14 100.15L237.34 98.15L239.11 96.15L240.7 94.86L242.7 93.73L245.95 92.28L248.2 91.59L250.7 91.25L254.7 91.18L256.95 91.41L258.7 91.92L260.51 92.9L262.57 94.65L263.74 96.15L264.43 97.9L264.61 99.65L264.31 101.15L263.81 102.15L261.95 104.64L261.2 105.98L260.7 107.45L259.98 110.9L259.37 112.4L258.63 113.4L257.45 114.35L255.45 115.33L253.7 115.9M221.45 151.44L219.7 151.46L217.95 150.97L216.57 150.15L215.82 149.15L215.57 147.9L215.79 146.4L216.64 144.15L217.7 142.28L218.7 141.15L219.7 140.41L220.7 139.93L223.45 139.01L225.95 137.31L227.2 136.71L227.95 136.61L228.7 136.73L229.95 137.23L231.2 137.94L231.95 138.64L232.39 139.4L232.6 140.15L232.64 141.15L232.28 142.65L230.33 147.4L229.64 148.15L228.45 148.86L225.2 149.89L222.7 151.07L221.45 151.44M253.45 117L252.7 117.14L251.95 116.83L248.68 112.4L247.45 111.24L245.7 110.43L241.7 109.56L239.45 108.48L237.44 107.15L235.9 105.9L235.1 104.9L234.75 103.9L234.71 103.15L234.9 102.15L236 99.65L237.32 97.65L239.2 95.69L240.7 94.55L243.2 93.22L246.2 91.95L248.7 91.27L251.45 90.97L254.95 90.92L257.2 91.18L258.95 91.71L261.1 92.9L263.18 94.65L264.28 96.15L264.89 97.9L265.03 99.65L264.72 101.15L264.07 102.4L262.2 104.77L261.45 106.08L260.95 107.62L260.32 110.9L259.62 112.65L258.88 113.65L257.7 114.65L253.45 117M250.45 124.23L249.95 124.28L249.67 124.15L249.45 123.87L249.32 123.15L249.7 121.89L250.2 121.35L250.45 121.28L250.7 121.38L250.95 121.75L251.2 122.9L250.95 123.79L250.45 124.23M221.2 152.16L219.45 152.13L217.45 151.63L216.01 150.9L215.13 149.9L214.73 148.65L214.76 147.4L215.22 145.65L216.2 143.21L217.12 141.65L218.45 140.28L219.95 139.29L222.86 137.9L225.99 135.4L226.7 135.03L227.45 134.84L228.2 134.85L229.2 135.16L231.2 136.36L232.44 137.4L233.13 138.4L233.53 139.65L233.6 140.9L233.4 142.15L231.5 147.15L230.6 148.4L229.13 149.4L225.45 150.6L222.7 151.82L221.2 152.16M250.2 125.91L249.45 125.98L248.95 125.76L248.45 125.06L248.22 124.15L248.28 122.65L248.7 121.15L249.2 120.12L250.57 118.15L250.76 117.4L250.68 116.65L250.3 115.65L248.8 113.15L247.79 111.9L246.7 111.11L245.45 110.64L242.45 110.09L241.2 109.7L239.2 108.72L236.95 107.27L235.55 106.15L234.72 105.15L234.28 103.9L234.35 102.65L234.76 101.4L235.5 99.9L237.18 97.4L239.48 95.15L241.95 93.59L245.95 91.83L248.95 91.02L253.7 90.66L255.7 90.72L257.2 90.93L258.95 91.44L260.7 92.29L262.63 93.65L263.93 94.9L264.74 96.15L265.18 97.4L265.4 98.9L265.3 100.4L264.6 102.15L262.45 104.85L261.69 106.15L261.21 107.65L260.54 111.15L259.8 112.9L258.45 114.49L255.33 116.65L253.78 118.15L253.06 119.65L252.57 122.9L252.2 124.09L251.42 125.15L250.2 125.91M221.7 152.68L219.7 152.78L217.2 152.32L215.7 151.71L214.7 150.8L214.06 149.4L213.97 147.9L214.34 146.15L215.26 143.65L216.3 141.65L217.63 140.15L219.2 138.96L222.27 137.15L225.45 134.41L226.45 133.91L227.45 133.73L228.45 133.85L229.45 134.19L231.28 135.15L232.7 136.21L233.66 137.4L234.28 138.9L234.46 140.4L234.27 142.15L232.4 146.9L231.45 148.46L230.7 149.16L229.7 149.82L228.45 150.39L225.45 151.3L222.95 152.35L221.7 152.68M248.95 128.16L248.2 128.12L247.8 127.65L247.45 126.32L247.27 124.4L247.39 122.65L247.82 120.9L248.36 119.65L249.45 117.78L249.72 116.9L249.55 115.65L248.7 113.89L247.7 112.4L246.46 111.4L245.2 110.95L242.45 110.5L240.7 109.94L238.45 108.81L235.7 106.99L234.5 105.9L233.88 104.9L233.65 103.9L233.76 102.65L234.11 101.65L235 99.9L236.72 97.4L239.31 94.9L241.95 93.28L245.95 91.56L249.2 90.73L254.2 90.36L256.2 90.46L257.7 90.73L259.45 91.29L261.2 92.17L263.2 93.54L264.45 94.76L265.17 95.9L265.68 97.4L265.87 99.15L265.69 100.65L264.91 102.4L262.7 105.06L261.95 106.35L261.55 107.65L260.91 111.15L260.07 113.15L258.95 114.55L256.29 116.65L255.15 117.9L254.5 119.4L253.4 123.65L252.63 125.15L250.95 126.86L249.7 127.8L248.95 128.16M221.7 153.43L219.2 153.56L216.2 153.1L214.74 152.4L213.7 151.18L213.09 149.65L213.07 147.65L213.64 145.4L214.91 142.4L215.87 140.9L217.05 139.65L221.45 136.44L224.2 133.77L225.45 132.93L226.7 132.56L227.95 132.63L229.45 133.09L231.95 134.15L233.2 134.99L234.42 136.4L235.18 137.9L235.56 139.65L235.51 141.4L235.13 143.15L233.13 147.4L232.49 148.4L231.7 149.26L229.45 150.83L223.2 153.06L221.7 153.43M245.95 132.7L245.4 132.65L244.83 132.15L244.55 131.4L244.56 130.4L244.85 129.4L246.04 126.65L246.55 122.65L247.02 120.65L248.78 116.9L248.83 115.9L248.44 114.65L247.45 112.89L246.77 112.15L246.2 111.77L245.2 111.39L241.7 110.81L240.2 110.28L237.7 109.02L234.85 107.15L233.76 106.15L233.14 105.15L232.87 103.9L233.04 102.65L233.57 101.4L234.75 99.4L236.66 96.9L239.45 94.39L242.2 92.81L246.45 91.1L249.95 90.34L252.7 90.08L254.95 90.03L256.7 90.19L258.45 90.58L260.2 91.23L262.2 92.3L263.95 93.54L265.01 94.65L265.84 96.15L266.24 97.65L266.35 99.4L266.11 100.9L265.24 102.65L263.09 105.15L262.32 106.4L261.92 107.65L261.31 111.15L260.88 112.4L260.37 113.4L259.42 114.65L256.86 116.9L255.89 118.15L255.49 119.15L254.37 123.4L253.45 125.32L249.2 130.54L246.95 132.23L245.95 132.7M220.95 154.41L217.95 154.49L216.2 154.31L215.2 154.05L214.45 153.67L213.82 153.15L212.59 151.4L212 149.65L212.06 147.65L212.86 144.65L214.13 141.9L215.18 140.4L216.37 139.15L220.71 135.65L223.7 132.46L225.2 131.5L226.45 131.12L227.45 131.19L230.12 132.15L233.2 133.06L234.25 133.9L235.62 135.65L236.32 136.9L236.8 138.4L236.88 139.9L236.61 141.9L236.16 143.65L235.57 144.9L233.82 147.9L233.09 148.9L231.95 150.02L230.2 151.36L228.2 152.36L222.95 154.01L220.95 154.41M245.95 135.42L245.45 135.59L244.95 135.54L244.45 135.24L243.95 134.65L243.08 132.65L242.88 130.65L243.31 128.9L245.08 125.65L246.12 120.65L246.57 119.4L247.9 116.65L247.98 115.65L247.7 114.63L246.72 112.9L245.77 112.15L244.7 111.82L241.95 111.51L240.2 110.97L237.2 109.52L233.95 107.48L232.79 106.4L232.21 105.4L231.9 104.15L232.04 102.9L232.5 101.9L233.81 99.9L235.04 98.15L236.12 96.9L238.95 94.36L240.2 93.5L241.7 92.71L245.7 91.04L247.7 90.46L249.7 90.08L252.45 89.78L254.7 89.69L256.45 89.81L258.45 90.22L260.7 91.05L262.7 92.11L264.23 93.15L265.45 94.4L266.3 95.9L266.71 97.4L266.84 99.15L266.59 100.9L265.75 102.65L263.45 105.31L262.7 106.47L262.31 107.65L261.65 111.4L260.82 113.4L259.7 114.94L257.15 117.4L256.5 118.4L255.2 123.15L254.21 125.4L249.95 131.59L246.95 134.66L245.95 135.42M220.7 155.41L217.7 155.62L215.2 155.32L213.7 154.59L212.97 153.9L212.21 152.9L211.11 150.9L210.85 149.15L211.35 146.15L212.4 143.15L213.5 141.15L214.87 139.4L216.7 137.59L219.95 134.79L222.45 131.73L223.7 130.57L225.7 129.03L226.7 128.74L227.45 128.97L229.2 130.14L229.95 130.47L230.7 130.6L231.56 130.4L232.1 129.9L232.31 129.4L232.46 126.65L232.95 125.08L233.45 124.46L233.95 124.17L234.7 124.09L235.2 124.26L236.04 125.15L236.42 126.4L236.3 127.4L235.43 129.65L235.35 130.4L235.46 131.15L236.07 132.65L237.95 135.66L238.33 136.65L238.51 137.65L238.52 138.65L238.34 139.9L237.06 144.15L236.39 145.4L234.08 148.9L232.61 150.4L230.2 152.38L229.2 152.97L227.95 153.46L223.2 154.86L220.7 155.41M244.95 137.7L244.2 137.73L243.7 137.57L243.13 137.15L242.64 136.4L241.65 132.4L241.49 129.9L241.87 128.4L243.7 126.06L244.45 124.62L245.52 119.9L247.13 116.4L247.2 115.4L246.92 114.4L246.2 113.17L245.45 112.61L244.45 112.35L241.95 112.32L240.7 112.02L236.95 110.28L233.2 108.04L232.16 107.15L231.36 105.9L230.91 104.4L231.01 103.15L231.89 101.65L234.59 98.15L235.94 96.65L238.95 94.03L240.2 93.21L241.95 92.32L244.45 91.25L246.45 90.57L250.2 89.78L254.95 89.44L256.7 89.58L258.7 90.01L260.95 90.84L263.2 92.02L264.7 93.07L265.74 94.15L266.62 95.65L267.06 97.15L267.21 99.15L266.95 100.9L266.57 101.9L265.96 102.9L263.7 105.47L262.95 106.64L262.62 107.65L262.04 111.15L261.63 112.4L261.02 113.65L259.95 115.12L257.69 117.4L257.03 118.4L256.66 119.4L255.64 123.4L254.47 125.9L250.2 132.47L246.7 136.63L245.7 137.4L244.95 137.7M219.2 156.42L216.2 156.42L214.95 156.18L213.95 155.8L212.45 154.65L210.5 151.9L209.96 150.4L210 148.65L210.76 145.4L211.82 142.65L212.8 140.9L213.91 139.4L216.2 136.91L219.45 133.89L221.57 130.9L224.7 126.95L225.45 126.42L226.45 126.02L227.45 125.85L228.95 125.84L229.28 125.65L229.47 125.15L229.53 122.65L229.78 120.65L230 119.65L230.45 118.83L231.2 118.36L232.95 117.96L233.95 117.55L234.7 116.89L235.79 115.4L236.45 114.87L237.45 114.64L238.81 114.9L239.46 115.4L239.61 116.15L238.2 119.65L238 122.65L238.22 124.15L239.18 126.65L239.33 127.65L239.14 128.4L238.28 130.15L238.19 131.15L238.53 132.4L240.07 135.65L240.32 136.65L240.35 137.4L239.85 139.4L237.87 144.15L237.02 145.65L234.64 149.15L232.95 150.86L230.2 153.2L229.2 153.75L227.7 154.3L221.95 155.93L219.2 156.42M219.45 159.92L215.95 159.79L213.45 159.37L211.2 158.49L209.19 157.15L207.78 155.65L206.75 153.65L206.14 151.15L206.13 148.9L206.78 146.4L207.88 143.9L210.36 139.15L214.19 133.15L215.01 131.65L215.61 129.65L216.22 125.65L216.86 123.9L217.95 122.34L219.95 120.58L220.7 119.67L221.14 118.65L221.82 116.15L222.45 114.68L223.45 112.9L225.39 110.15L225.72 108.9L225.76 106.4L225.91 105.15L226.32 103.9L226.87 102.9L228.45 101.13L231.45 98.88L234.95 95.72L238.45 92.98L239.95 92.08L241.7 91.25L245.7 89.76L248.7 89.01L251.7 88.57L254.45 88.36L256.45 88.44L258.45 88.78L260.95 89.52L263.2 90.47L265.2 91.61L266.21 92.4L267.16 93.4L267.83 94.4L268.38 95.65L268.65 96.9L268.75 98.4L268.66 99.9L268.39 101.15L267.39 103.15L264.95 105.96L264.3 106.9L263.95 107.9L263.5 110.9L262.74 113.15L261.59 115.15L258.94 118.65L258.45 119.87L257.33 123.9L256.63 125.65L253.31 131.9L251.77 134.4L249.66 137.4L247.98 139.4L246.2 141.03L242.67 143.65L240.95 145.16L239.2 147.15L236.32 151.15L232.2 155.08L230.7 156.07L228.95 156.85L221.7 159.5L219.45 159.92M220.45 158.42L217.95 158.62L215.2 158.4L213.2 157.87L211.41 156.9L209.7 155.34L208.18 153.15L207.54 151.15L207.55 149.15L207.88 147.65L208.57 145.65L210.83 140.65L214.04 135.9L216.65 132.65L217.37 131.4L218.11 129.4L218.6 126.4L218.97 125.4L219.45 124.73L220.1 124.15L223.7 121.93L224.47 120.9L224.66 120.15L224.78 118.15L225.03 117.15L225.71 115.9L227.51 113.4L228.19 111.65L228.31 109.4L227.65 106.15L227.57 105.15L227.81 103.9L228.32 102.9L229.38 101.65L232.2 99.29L235.02 96.4L238.45 93.55L241.2 91.95L245.45 90.25L248.2 89.51L250.95 89.07L253.7 88.8L255.95 88.82L257.7 89.06L260.2 89.75L262.2 90.56L264.45 91.77L265.62 92.65L266.45 93.5L267.1 94.4L267.7 95.65L268.01 96.9L268.15 98.4L268.08 99.9L267.8 101.15L266.77 103.15L264.35 105.9L263.71 106.9L263.4 107.9L262.88 111.15L262.28 112.9L261.14 114.9L258.8 117.65L258.2 118.58L257.71 119.9L256.81 123.4L256.14 125.15L251.78 132.9L248.74 137.15L247.2 138.89L245.45 140.26L242.2 142.08L240.95 143.14L238.45 146.39L235.83 150.15L231.7 154.17L230.45 155.04L228.95 155.72L220.45 158.42M220.2 157.18L217.95 157.39L215.7 157.26L213.95 156.81L212.45 155.96L210.94 154.4L209.26 151.9L208.88 150.4L209.02 148.65L210.36 144.15L211.35 141.9L212.37 140.15L215.2 136.57L218.7 132.9L219.75 131.15L221.6 127.15L222.1 126.4L223.2 125.45L225.95 123.95L226.85 123.15L227.27 122.4L227.49 121.65L227.65 118.65L228.06 117.4L228.95 116.41L230.95 115.14L231.7 114.18L231.91 113.15L231.87 110.4L230.2 106.76L229.55 104.65L229.62 103.65L230.07 102.65L235.22 96.9L238.45 94.06L239.95 93.04L241.45 92.26L245.95 90.47L248.45 89.82L250.7 89.46L253.7 89.18L256.2 89.24L258.2 89.59L260.2 90.2L262.2 91.08L264.2 92.22L265.2 93L266.06 93.9L266.72 94.9L267.16 95.9L267.47 97.15L267.6 98.65L267.54 99.9L267.26 101.15L266.84 102.15L266.2 103.15L263.44 106.4L262.95 107.7L262.38 111.15L261.66 113.15L260.57 114.9L258.25 117.4L257.56 118.4L257.17 119.4L256.22 123.15L255.56 124.9L251.2 132.27L247.71 136.9L246.45 138.19L244.7 139.22L241.95 139.96L240.95 140.7L239.95 141.98L238.15 145.15L235.45 149.16L234.35 150.4L230.95 153.53L229.7 154.32L228.45 154.84L220.2 157.18M245.42 115.65L245.53 115.15L245.45 114.66L245.2 114.34L244.95 114.34L244.95 115.45L245.2 115.84L245.42 115.65M242.59 124.4L243.2 123.71L243.57 122.4L244.08 118.65L244.04 118.15L243.7 117.94L242.95 118.23L242.2 118.85L241.76 119.65L241.58 120.4L241.26 122.65L241.32 123.65L241.83 124.4L242.2 124.51L242.59 124.4M245.2 136.9L244.7 136.92L244.2 136.74L243.7 136.27L243.33 135.65L242.33 132.65L242.16 130.4L242.58 128.65L244.2 126.14L244.68 125.15L245.81 120.15L247.43 116.65L247.55 115.65L247.22 114.4L246.51 113.15L245.6 112.4L244.7 112.12L241.7 111.87L240.45 111.5L237.2 109.99L233.45 107.71L232.45 106.82L231.72 105.65L231.35 104.4L231.43 103.15L232.39 101.4L234.58 98.4L235.87 96.9L238.95 94.16L241.7 92.55L245.95 90.82L249.45 89.98L252.7 89.62L254.7 89.54L256.7 89.69L258.45 90.06L260.45 90.75L262.7 91.88L264.45 93.06L265.54 94.15L266.33 95.4L266.9 97.15L267.06 99.15L266.81 100.9L266.41 101.9L265.81 102.9L263.6 105.4L262.93 106.4L262.49 107.65L261.84 111.4L261.03 113.4L259.98 114.9L257.69 117.15L256.82 118.4L255.43 123.4L254.4 125.65L250.2 132.01L246.7 135.97L245.95 136.59L245.2 136.9M220.45 155.92L217.45 156.14L214.95 155.81L213.95 155.39L213.2 154.87L211.75 153.15L210.59 151.15L210.37 150.4L210.3 149.4L210.81 146.4L211.81 143.4L212.83 141.4L214.3 139.4L216.45 137.16L219.7 134.23L221.95 131.24L225.2 127.69L226.2 127.11L227.2 127.07L227.95 127.41L229.7 128.86L230.45 128.87L230.7 128.63L230.96 127.9L231.28 123.4L231.61 122.4L232.2 121.97L233.2 121.74L234.45 121.66L235.45 121.85L236.2 122.36L236.7 123.08L237.88 126.15L237.95 127.4L237.07 129.65L236.94 130.4L236.99 131.15L237.4 132.4L239.03 135.4L239.47 137.15L239.47 138.15L239.23 139.4L237.65 143.9L236.86 145.4L234.33 149.15L232.7 150.77L230.2 152.87L229.2 153.44L227.95 153.91L222.95 155.36L220.45 155.92M245.95 133.7L245.2 133.69L244.45 133.07L243.95 131.9L243.87 130.65L244.2 129.34L245.72 126.15L246.34 122.15L246.79 120.4L248.45 116.9L248.55 115.9L248.2 114.65L247.22 112.9L246.07 111.9L244.95 111.51L241.95 111.08L240.2 110.5L237.7 109.27L234.7 107.36L233.6 106.4L232.92 105.4L232.57 104.15L232.67 102.9L233.05 101.9L234.07 100.15L235.22 98.4L236.24 97.15L239.2 94.43L241.95 92.81L246.2 91.07L249.7 90.27L252.45 89.99L254.95 89.92L256.7 90.07L258.45 90.45L260.45 91.2L262.45 92.28L264.05 93.4L265.23 94.65L265.94 95.9L266.38 97.4L266.53 99.15L266.28 100.9L265.42 102.65L263.2 105.22L262.46 106.4L262.06 107.65L261.38 111.4L260.53 113.4L259.45 114.82L257.13 116.9L256.16 118.15L255.76 119.15L254.65 123.4L253.7 125.4L249.45 131L246.95 133.14L245.95 133.7M218.95 154.9L216.2 154.74L215.2 154.51L214.45 154.17L213.7 153.6L213.09 152.9L212.28 151.65L211.83 150.65L211.57 148.9L211.89 146.65L212.77 143.9L214.06 141.4L215.7 139.37L220.45 135.36L223.2 132.27L224.2 131.47L225.45 130.76L226.45 130.47L227.2 130.52L230.2 131.69L232.95 132.09L233.7 132.42L234.95 133.7L236.5 135.9L237.17 137.4L237.42 138.9L237.23 140.9L236.56 143.65L235.98 144.9L234.17 147.9L233.22 149.15L231.95 150.36L230.2 151.72L228.95 152.42L222.45 154.45L220.7 154.78L218.95 154.9" fill="none" stroke="#111" stroke-width="0.62" stroke-linejoin="round"/>
<path d="M227.78 101.89h.7M243.35 90.09h.7M217.01 162.08h.7M269.35 93.34h.7M210.08 138.44h.7M234.13 88.6h.7M212.07 127.74h.7M206.23 131.64h.7M270.12 81.94h.7M221.51 107.3h.7M219.14 105.63h.7M226.21 86.92h.7M227.59 102.28h.7M235.46 162.78h.7M232.6 167.31h.7M224.28 160.59h.7M209.97 131.91h.7M226.48 92.89h.7M251.52 78.71h.7M210.11 123.41h.7M227.43 100.97h.7M230.04 99.86h.7M243.87 80.24h.7M235.43 152.12h.7M239.53 90.61h.7M239.87 152.29h.7M212.41 119.28h.7M212.28 159.32h.7M234.08 93.05h.7M223.19 107.93h.7M214.25 102.4h.7M211.06 119.83h.7M235.19 156h.7M212.34 126.54h.7M228.22 157.03h.7M209.08 158.78h.7M225.72 158.22h.7M219.94 102.65h.7M251.74 139.53h.7M278.7 99.36h.7M221.99 159.39h.7M249.52 77.68h.7M230.9 155.86h.7M208.67 136.19h.7M215.62 130.28h.7M219.58 160.15h.7M222.81 161.14h.7M278.06 80.31h.7M211.7 173.8h.7M212.12 104.72h.7M223.14 167.31h.7M259.6 87.25h.7M240.45 150.64h.7M248.64 158.08h.7M227.63 162.01h.7M225.26 102.05h.7M231.35 96.44h.7M264.75 108.28h.7M231.27 98.09h.7M214.43 87.56h.7M241.76 147.33h.7M230.06 162.64h.7M256.62 79.2h.7M222.07 106.3h.7M229.99 90.76h.7M229.59 74.85h.7M270.22 99.88h.7M242.57 153.51h.7M269.41 100.74h.7M269.61 96.82h.7M220.62 166.26h.7M227.72 158.35h.7M215.92 129.05h.7M227.57 100.03h.7M211.14 137.39h.7M233.59 158.66h.7M205.32 152.25h.7M238.45 151.63h.7M248.46 89.02h.7M237.92 150.84h.7" stroke="#888" stroke-width="0.7"/>
<clipPath id="cA3"><rect x="74.6" y="197.9" width="107.3" height="106.9"/></clipPath>
<path clip-path="url(#cA3)" d="M120.85 233.68L120.1 233.82L119.35 233.78L118.6 233.53L118.05 233.15L117.66 232.65L117.37 231.9L117.35 231.15L117.6 230.62L118.1 230.4L118.85 230.57L121.96 232.4L122.18 232.65L122.19 232.9L121.55 233.4L120.85 233.68M126.35 233.73L125.6 233.87L124.6 233.7L123.97 233.4L123.5 232.9L123.96 232.4L124.6 232.09L125.6 231.8L126.35 231.8L126.96 232.15L127.17 232.65L126.89 233.4L126.35 233.73M121.85 234.41L120.6 234.58L119.6 234.51L118.42 234.15L117.6 233.61L117.07 232.9L116.69 231.65L116.73 230.65L117.1 229.95L117.6 229.66L118.35 229.72L121.1 231.06L122.6 231.47L123.6 231.48L125.85 231.12L126.6 231.18L127.1 231.4L127.6 232.03L127.71 232.65L127.6 233.17L127.29 233.65L126.6 234.12L125.35 234.37L123.1 234.26L121.85 234.41M121.35 235.41L120.1 235.34L118.6 234.93L117.52 234.4L116.73 233.65L116.16 232.4L115.98 230.9L116.22 229.9L116.85 229.08L117.35 228.83L118.1 228.88L120.35 230.1L121.85 230.6L123.35 230.7L126.35 230.4L127.26 230.65L127.85 231.21L128.14 231.9L128.16 232.9L127.84 233.65L127.1 234.33L125.6 234.83L121.35 235.41M121.6 236.16L120.1 236.03L117.85 235.25L116.6 234.48L115.95 233.65L115.37 231.9L115.35 230.44L115.86 229.15L116.85 228.06L117.35 227.87L117.85 227.92L120.1 229.36L121.35 229.86L122.85 230.01L126.6 229.65L127.6 229.96L128.23 230.65L128.58 231.65L128.61 232.65L128.28 233.65L127.63 234.4L126.1 235.14L121.6 236.16M122.1 236.69L120.35 236.64L117.6 235.7L116.2 234.9L115.35 233.83L114.68 231.65L114.77 230.15L115.17 229.15L115.85 228.02L116.6 227.1L117.1 226.7L117.6 226.58L117.85 226.65L119.64 228.4L121.1 229.2L122.6 229.36L125.35 228.89L126.85 228.91L127.85 229.24L128.6 230.08L128.93 231.15L129 232.4L128.76 233.4L128.11 234.4L127.48 234.9L126.6 235.34L122.1 236.69M121.85 237.17L120.85 237.15L119.61 236.9L116.46 235.65L115.25 234.65L114.47 233.15L114.05 231.15L114.35 229.65L116.16 226.4L116.85 225.62L117.6 225.18L118.1 225.05L118.6 225.15L118.85 225.52L119.15 226.65L119.53 227.4L120.1 228.04L120.85 228.5L122.1 228.74L124.85 228.1L126.85 228.21L127.67 228.4L128.35 228.75L128.85 229.35L129.08 229.9L129.34 231.4L129.28 232.65L128.96 233.65L128.24 234.65L127.6 235.16L126.6 235.67L123.17 236.9L121.85 237.17M122.6 237.42L121.35 237.53L119.85 237.32L117.79 236.65L116.1 235.91L115.35 235.39L114.69 234.65L113.79 232.65L113.53 231.4L113.66 230.15L114.04 229.15L115.35 226.61L115.97 225.65L116.6 225.03L117.6 224.42L118.6 224.04L119.85 223.84L120.14 223.9L120.35 224.13L119.97 225.65L119.94 226.4L120.35 227.35L121.07 227.9L121.6 228.04L122.35 228L124.1 227.21L125.1 227.16L128.35 228.01L129.06 228.65L129.4 229.4L129.64 230.9L129.59 232.4L129.23 233.65L128.6 234.63L127.85 235.29L126.85 235.86L123.85 237.06L122.6 237.42M122.85 237.65L121.35 237.79L119.85 237.59L117.63 236.9L115.85 236.13L114.86 235.4L114.26 234.65L113.64 233.4L113.17 231.9L113.11 230.9L113.41 229.65L114.99 226.4L115.6 225.45L116.35 224.72L117.35 224.1L118.93 223.4L120.35 223L121.1 222.96L121.9 223.15L122.59 223.65L123.01 224.4L123.04 224.65L122.85 224.88L121.85 225.05L121.06 225.65L120.87 226.4L121.09 226.9L121.35 227.09L121.85 227.18L122.35 227.02L122.96 226.4L123.35 225.55L123.6 225.42L123.85 225.48L126.1 226.75L128.24 227.4L128.85 227.71L129.43 228.4L129.81 229.65L129.91 231.15L129.77 232.65L129.45 233.65L128.84 234.65L128.1 235.36L127.1 235.99L124.35 237.19L122.85 237.65M123.1 237.91L121.6 238.07L119.85 237.88L117.37 237.15L115.6 236.39L114.6 235.67L113.95 234.9L113.16 233.4L112.68 231.9L112.63 230.9L112.93 229.65L114.46 226.4L115.29 225.15L116.12 224.4L117.35 223.67L119.1 222.87L120.6 222.42L122.1 222.48L123.49 223.15L124.33 223.9L126.1 225.9L127.03 226.4L128.64 226.9L129.35 227.35L129.85 228.12L130.13 229.15L130.22 230.9L130.08 232.4L129.71 233.65L129.1 234.68L128.35 235.46L127.1 236.29L124.72 237.4L123.1 237.91M123.35 238.16L121.6 238.33L119.85 238.15L117.35 237.46L115.35 236.63L114.33 235.9L113.51 234.9L112.6 233.15L112.2 231.9L112.2 230.65L112.57 229.4L113.99 226.4L114.79 225.15L115.6 224.37L116.85 223.57L119.35 222.4L120.6 222.04L121.6 221.98L122.35 222.09L124.12 222.9L125.01 223.65L126.61 225.4L127.35 225.83L129.02 226.4L129.6 226.8L130.1 227.51L130.44 228.65L130.54 230.4L130.38 232.15L129.95 233.65L129.35 234.71L128.35 235.77L127.1 236.6L124.96 237.65L123.35 238.16M98.1 277.68L97.6 277.65L97.1 277.34L96.65 276.65L96.46 275.9L96.48 275.15L96.75 274.4L97.1 273.99L97.6 273.78L98.1 273.8L98.85 274.16L99.6 274.9L99.96 275.65L99.89 276.15L99.35 276.9L98.6 277.49L98.1 277.68M122.85 238.43L121.1 238.47L119.1 238.15L116.6 237.4L114.98 236.65L114.02 235.9L113.23 234.9L112.2 232.9L111.86 231.65L111.96 230.4L112.39 229.15L113.83 226.15L114.71 224.9L115.85 223.94L117.23 223.15L119.35 222.19L120.85 221.79L122.35 221.85L123.85 222.4L125 223.15L127.04 225.15L129.4 226.15L129.85 226.53L130.26 227.15L130.68 228.65L130.74 230.4L130.5 232.4L130 233.9L129.35 234.95L128.35 235.96L126.6 237.09L124.6 238.01L122.85 238.43M98.35 278.7L97.6 278.72L97.02 278.4L96.41 277.65L95.99 276.65L95.82 275.65L95.92 274.65L96.35 273.69L96.85 273.25L97.6 273.06L98.35 273.18L101.1 274.86L103.6 275.15L104.46 275.65L104.56 276.15L104.1 276.65L103.1 276.97L100.85 277.19L98.35 278.7M121.85 238.65L120.1 238.51L118.1 238.07L116.06 237.4L114.59 236.65L113.6 235.78L112.65 234.4L111.79 232.65L111.53 231.4L111.73 230.15L112.43 228.4L113.68 225.9L114.65 224.65L115.94 223.65L118.35 222.41L120.1 221.75L121.35 221.55L122.85 221.74L124.35 222.36L125.53 223.15L127.35 224.78L129.74 225.9L130.2 226.4L130.6 227.17L130.86 228.15L130.97 229.4L130.84 231.4L130.45 233.15L129.85 234.47L128.92 235.65L127.6 236.71L125.35 237.94L123.6 238.49L121.85 238.65M98.6 279.68L97.6 279.69L96.85 279.32L96.1 278.44L95.52 277.15L95.22 275.9L95.26 274.65L95.6 273.63L96.35 272.83L97.35 272.53L98.35 272.65L101.1 274.05L104.35 274.66L105.1 275.05L105.6 275.64L105.69 276.4L105.1 277.16L103.85 277.69L100.85 278.39L98.6 279.68M90.1 277.79L89.85 277.64L89.83 276.9L90.08 276.4L90.35 276.33L90.53 276.9L90.35 277.47L90.1 277.79M123.35 238.66L121.35 238.75L119.35 238.49L116.85 237.82L114.85 236.98L113.74 236.15L112.92 235.15L111.78 233.15L111.36 231.9L111.39 230.65L111.79 229.4L113.2 226.4L114.21 224.9L115.33 223.9L116.85 223L119.24 221.9L120.85 221.46L122.35 221.48L124.1 222.04L125.59 222.9L127.6 224.52L129.6 225.43L130.47 226.4L131.03 228.15L131.12 229.9L130.84 232.15L130.38 233.65L129.6 235.03L128.35 236.31L126.85 237.34L125.1 238.21L123.35 238.66M98.85 280.18L97.6 280.2L96.6 279.74L95.83 278.9L95.23 277.65L94.76 276.15L94.69 274.9L95.04 273.65L95.36 273.15L95.9 272.65L97.1 272.24L98.35 272.35L101.35 273.72L104.66 274.4L105.56 274.9L106.01 275.4L106.29 276.15L106.26 276.65L105.98 277.15L105.6 277.47L104.35 278.03L101.35 278.93L98.85 280.18M89.35 280.16L88.6 280.1L88.32 279.65L88.77 276.15L89.1 275.54L89.6 275.11L90.35 274.81L91.1 274.84L91.55 275.15L91.77 275.65L91.77 276.4L91.51 277.4L90.6 279.35L89.99 279.9L89.35 280.16M124.1 238.65L122.1 238.87L120.1 238.72L117.5 238.15L115.1 237.26L114.1 236.64L113.1 235.64L111.83 233.65L111.19 232.15L111.13 230.9L111.5 229.65L113.02 226.4L114.03 224.9L115.1 223.91L116.31 223.15L118.85 221.93L120.35 221.43L121.6 221.29L122.6 221.39L123.85 221.77L125.18 222.4L127.6 224.12L129.85 225.26L130.6 226.19L131.11 227.65L131.28 229.4L131.1 231.4L130.67 233.15L129.97 234.65L128.97 235.9L127.6 237.02L125.85 238.04L124.1 238.65M99.35 280.47L98.35 280.65L97.6 280.58L96.85 280.34L96.15 279.9L95.17 278.65L93.94 275.9L93.8 275.15L94.25 273.9L94.98 272.9L96.1 272.19L97.1 271.99L98.35 272.1L101.6 273.46L104.8 274.15L105.85 274.71L106.61 275.65L106.79 276.4L106.72 276.9L106.1 277.7L105.1 278.2L101.85 279.32L99.35 280.47M89.35 280.66L88.12 280.65L87.57 280.15L87.52 279.65L87.87 277.9L87.93 275.9L88.4 275.15L89.6 274.36L90.85 274.02L91.89 274.15L92.6 274.65L92.91 275.15L92.78 276.15L91.26 279.4L90.52 280.15L89.35 280.66M82.35 277.01L81.85 277.1L81.38 276.9L81.27 276.65L81.35 276.31L81.85 276.01L82.67 276.15L82.84 276.4L82.79 276.65L82.35 277.01M123.1 238.91L121.1 238.92L118.85 238.58L116.37 237.9L114.66 237.15L113.63 236.4L112.76 235.4L111.39 233.15L110.94 231.9L111 230.65L111.54 229.15L113 226.15L114.1 224.65L115.29 223.65L116.85 222.76L119.31 221.65L120.85 221.25L122.35 221.25L124.1 221.74L125.51 222.4L127.85 223.93L129.6 224.77L130.35 225.46L130.78 226.15L131.34 228.15L131.39 229.9L131.05 232.15L130.47 233.9L129.6 235.33L128.35 236.58L126.35 237.92L124.85 238.57L123.1 238.91M98.6 280.9L97.1 280.72L95.96 280.15L95.17 279.4L93.85 277.43L93.35 277.28L92.85 277.68L91.6 279.65L90.73 280.4L89.1 280.99L87.7 280.9L87.1 280.4L86.97 279.9L87.21 277.9L86.89 276.15L87.04 275.65L88.08 274.65L89.6 273.88L91.1 273.49L93.35 273.56L95.55 272.15L97.1 271.79L98.6 271.97L101.6 273.2L104.85 273.94L105.85 274.41L106.66 275.15L107.06 275.9L107.18 276.65L106.94 277.4L106.47 277.9L105.6 278.37L102.35 279.54L99.85 280.62L98.6 280.9M82.6 277.7L81.6 277.79L80.85 277.41L80.54 276.65L80.81 275.9L81.35 275.56L82.35 275.39L83.35 275.55L84.1 275.9L84.33 276.4L84.02 276.9L83.32 277.4L82.6 277.7M123.85 238.92L121.85 239.04L119.6 238.81L116.85 238.16L114.85 237.38L113.73 236.65L112.79 235.65L111.2 233.15L110.74 231.9L110.76 230.9L111.26 229.4L112.85 226.15L113.94 224.65L115.1 223.66L116.6 222.77L119.04 221.65L120.6 221.19L122.1 221.11L123.85 221.51L125.38 222.15L129.35 224.3L130.1 224.85L130.6 225.45L131.1 226.48L131.4 227.65L131.54 229.4L131.31 231.4L130.77 233.4L130.01 234.9L128.85 236.28L127.1 237.62L125.35 238.53L123.85 238.92M89.35 281.18L87.85 281.24L87.35 281.09L86.76 280.65L86.45 279.9L86.39 278.15L86.11 277.65L85.85 277.47L85.1 277.44L82.35 278.26L81.6 278.28L80.85 278.02L80.35 277.5L80.12 276.9L80.1 276.4L80.28 275.9L80.85 275.37L81.85 275.06L82.85 275.01L85.1 275.21L85.85 275.12L89.85 273.37L91.1 273.07L93.35 272.86L95.6 271.87L97.35 271.61L98.85 271.85L101.85 273.03L105.35 273.9L106.26 274.4L106.81 274.9L107.48 276.15L107.53 276.9L107.39 277.4L106.6 278.23L99.85 280.91L98.35 281.15L96.85 280.9L95.43 280.15L93.85 278.68L93.35 278.57L92.85 278.9L91.29 280.4L90.32 280.9L89.35 281.18M122.85 239.16L120.85 239.09L118.35 238.69L116.1 238.06L114.35 237.28L113.22 236.4L112.21 235.15L110.81 232.9L110.45 231.65L110.72 230.15L111.86 227.65L112.96 225.65L113.98 224.4L115.35 223.34L117.35 222.26L119.36 221.4L121.1 220.99L122.6 221.04L124.1 221.43L125.87 222.15L129.6 224.02L130.35 224.66L130.99 225.65L131.44 226.9L131.66 228.15L131.65 230.15L131.22 232.4L130.57 234.15L129.6 235.65L128.1 237.1L126.35 238.27L124.74 238.9L122.85 239.16M98.6 281.41L97.6 281.36L96.6 281.12L93.6 279.71L93.1 279.78L91.1 280.9L90.1 281.26L88.6 281.53L87.35 281.44L86.68 281.15L86.15 280.65L85.46 279.15L85.1 278.78L84.35 278.61L81.85 278.8L81.1 278.68L80.6 278.44L80.1 277.96L79.8 277.4L79.65 276.65L79.69 276.15L80.12 275.4L81.35 274.79L85.35 274.4L90.1 272.83L93.35 272.3L95.6 271.59L96.85 271.39L98.85 271.62L101.85 272.73L105.35 273.62L106.6 274.27L107.45 275.15L107.92 276.15L108 276.9L107.78 277.65L107.1 278.4L106.1 278.93L100.86 280.9L98.6 281.41M124.35 239.18L122.1 239.31L119.6 239.06L116.85 238.47L114.65 237.65L113.48 236.9L112.5 235.9L110.76 233.4L110.18 232.15L110.12 231.15L110.51 229.9L112.26 226.4L113.49 224.65L114.61 223.65L116.1 222.72L118.6 221.53L120.35 220.96L121.85 220.81L123.35 221.02L125.31 221.65L129.1 223.21L130.1 223.86L130.78 224.65L131.3 225.65L131.68 226.9L131.93 228.9L131.78 230.65L131.23 232.9L130.35 234.84L129.1 236.43L127.6 237.72L125.85 238.75L124.35 239.18M99.1 281.67L97.1 281.58L93.6 280.49L92.85 280.6L90.85 281.36L89.6 281.67L88.1 281.82L86.89 281.65L85.96 281.15L84.85 279.95L84.35 279.6L83.6 279.41L81.35 279.25L80.35 278.86L79.84 278.4L79.41 277.65L79.19 276.65L79.26 275.9L79.52 275.4L80.08 274.9L81.35 274.4L84.85 273.83L87.6 272.96L90.6 272.24L96.85 271.14L99.02 271.4L102.1 272.47L105.6 273.39L106.85 274.01L107.79 274.9L108.36 275.9L108.54 276.9L108.23 277.9L107.54 278.65L106.35 279.3L101.95 280.9L99.1 281.67M124.35 239.41L122.1 239.48L119.35 239.18L116.6 238.58L114.6 237.85L113.43 237.15L112.4 236.15L110.37 233.4L109.77 232.15L109.73 231.15L110.15 229.9L112.13 226.15L113.22 224.65L114.35 223.62L115.86 222.65L118.49 221.4L120.35 220.79L121.85 220.63L123.35 220.82L127.72 222.15L129.35 222.77L130.25 223.4L130.9 224.15L131.44 225.15L131.91 226.65L132.18 228.65L132.05 230.4L131.41 232.9L130.51 234.9L129.35 236.44L127.6 238.03L126.1 238.93L124.35 239.41M99.6 281.9L97.35 281.93L93.6 281.08L89.1 282.02L87.85 282.09L86.6 281.9L85.56 281.4L83.85 280.21L81.03 279.65L79.85 279.06L79.29 278.4L78.87 277.4L78.71 276.4L78.83 275.65L79.37 274.9L80.35 274.34L84.1 273.44L86.85 272.5L91.1 271.7L96.6 270.89L97.85 270.93L99.13 271.15L102.6 272.26L105.6 273.05L107.1 273.71L108.19 274.65L108.93 275.9L109.1 276.9L108.83 277.9L107.98 278.9L107.2 279.4L106.01 279.9L101.62 281.4L99.6 281.9M124.35 239.67L121.85 239.66L118.6 239.24L116.1 238.66L114.16 237.9L113.01 237.15L112.03 236.15L109.9 233.4L109.3 232.15L109.27 231.15L109.73 229.9L111.81 226.15L113.14 224.4L114.35 223.36L116.1 222.29L118.6 221.15L120.35 220.6L121.85 220.44L123.35 220.6L128.35 221.85L129.6 222.33L130.6 223.08L131.24 223.9L131.83 225.15L132.23 226.65L132.48 228.65L132.32 230.4L131.54 233.15L130.58 235.15L129.1 237.05L127.35 238.58L125.85 239.36L124.35 239.67M99.85 282.18L97.6 282.28L93.6 281.6L88.6 282.34L87.35 282.35L86.29 282.15L83.6 280.76L80.6 279.98L79.6 279.44L79.07 278.9L78.55 277.9L78.24 276.65L78.27 275.65L78.68 274.9L79.79 274.15L83.6 273.05L86.6 271.92L96.35 270.62L97.85 270.66L99.32 270.9L105.85 272.75L107.43 273.4L108.65 274.4L109.46 275.65L109.72 276.9L109.45 277.9L108.6 279.01L107.6 279.71L105.95 280.4L102.95 281.4L99.85 282.18M124.85 239.93L122.35 239.92L118.85 239.49L116.35 238.97L114.1 238.18L112.85 237.41L111.81 236.4L109.35 233.4L108.79 232.15L108.77 231.15L109.11 230.15L111.62 225.9L112.79 224.4L114.1 223.26L115.6 222.31L118.1 221.12L120.1 220.44L121.35 220.24L122.85 220.28L128.1 221.3L129.35 221.66L130.35 222.22L131.27 223.15L131.86 224.15L132.37 225.65L132.77 227.9L132.77 229.65L132.13 232.15L131.12 234.65L129.85 236.61L128.1 238.46L126.6 239.45L124.85 239.93M87.85 282.65L85.85 282.37L83.35 281.23L80.5 280.4L79.35 279.81L78.52 278.9L77.89 277.4L77.65 275.9L77.98 274.9L78.6 274.32L79.6 273.79L83.1 272.71L86.36 271.4L95.1 270.4L97.1 270.32L100.1 270.77L107.35 272.85L108.35 273.4L109.1 274.07L109.74 274.9L110.22 275.9L110.37 276.9L110.21 277.65L109.82 278.4L109.1 279.23L107.35 280.34L103.85 281.56L100.85 282.32L98.85 282.6L97.1 282.56L93.35 282.08L87.85 282.65M125.85 240.16L124.1 240.31L120.85 240L116.85 239.36L114.35 238.62L113.1 238.01L112.1 237.25L108.74 233.4L108.35 232.56L108.21 231.65L108.3 230.9L108.71 229.9L111.96 224.9L113.19 223.65L114.6 222.61L116.6 221.51L119.1 220.48L120.85 220.05L122.35 219.98L128.1 220.83L129.35 221.14L130.72 221.9L131.83 223.15L132.67 225.15L133.2 228.15L133.1 229.9L132.44 232.15L131.15 235.15L129.35 237.77L127.6 239.4L125.85 240.16M99.1 282.91L97.35 282.93L93.35 282.54L87.6 282.94L86.35 282.83L85.1 282.49L82.85 281.55L80.1 280.7L78.76 279.9L77.97 278.9L77.43 277.65L77.04 276.15L77.12 275.15L77.65 274.4L78.84 273.65L82.85 272.28L86.1 270.94L87.6 270.68L95.85 270.01L97.6 270.04L99.6 270.32L106.76 272.15L108.6 272.9L109.75 273.9L110.72 275.4L110.98 276.15L111.06 276.9L110.91 277.65L110.6 278.3L109.41 279.65L107.79 280.65L105.01 281.65L101.85 282.48L99.1 282.91M125.6 240.68L123.6 240.66L117.6 239.8L115.35 239.3L113.5 238.65L112.35 238.01L111.34 237.15L108.6 234.17L107.85 232.81L107.69 231.4L108.14 229.9L110.96 225.65L111.96 224.4L113.33 223.15L115.1 221.97L117.1 220.97L119.35 220.12L121.1 219.74L122.6 219.7L128.1 220.34L129.35 220.62L130.6 221.21L131.6 222.06L132.4 223.15L133.03 224.65L133.61 227.65L133.62 229.4L133.16 231.15L131.75 234.65L130.35 237.14L128.85 239.08L127.35 240.15L125.6 240.68M100.1 283.16L97.6 283.3L92.85 283L87.6 283.26L86.1 283.12L84.85 282.81L79.85 281.06L78.34 280.15L77.53 279.15L76.93 277.9L76.35 276.15L76.35 275.15L76.57 274.65L77.02 274.15L78.1 273.47L82.35 271.94L85.85 270.5L87.6 270.2L94.6 269.72L97.85 269.73L101.35 270.31L107.85 271.95L108.91 272.4L109.91 273.15L111.21 274.9L111.64 275.9L111.78 276.65L111.74 277.4L111.47 278.15L110.53 279.4L109.1 280.53L107.2 281.4L103.85 282.43L100.1 283.16M126.1 241.17L124.1 241.18L117.1 240.04L115.1 239.62L113.35 239.07L112.1 238.47L111.02 237.65L108.36 234.9L107.66 233.9L107.27 232.9L107.13 231.65L107.35 230.4L107.8 229.4L111.44 224.4L113.1 222.9L115.1 221.58L117.35 220.5L119.6 219.71L121.35 219.4L123.1 219.39L128.1 219.84L129.6 220.17L130.6 220.62L131.38 221.15L132.15 221.9L132.87 222.9L133.6 224.65L134.16 227.65L134.17 229.15L133.72 230.9L131.69 235.65L129.87 238.9L129.1 239.75L128.2 240.4L127.1 240.91L126.1 241.17M98.85 283.66L96.85 283.69L92.35 283.47L87.85 283.6L86.35 283.52L84.58 283.15L79.85 281.55L78.17 280.65L77.02 279.4L75.62 276.4L75.47 275.65L75.57 274.9L76.3 273.9L77.51 273.15L85.35 270.14L87.6 269.7L93.85 269.34L97.85 269.36L102.85 270.18L108.6 271.58L109.85 272.22L110.86 273.15L112.15 275.15L112.5 276.15L112.59 276.9L112.51 277.65L112.22 278.4L110.96 279.9L109.1 281.16L106.35 282.2L102.85 283.11L98.85 283.66M125.85 241.9L124.35 241.85L120.32 240.9L115.85 240.25L113.6 239.72L112.1 239.2L110.42 238.15L108.37 236.15L107.37 234.9L106.79 233.65L106.57 232.65L106.52 231.65L106.9 229.9L107.75 228.4L110.6 224.65L112.35 222.96L114.35 221.55L116.35 220.49L118.85 219.53L120.85 219.06L122.6 218.95L127.85 219.26L129.6 219.59L131.1 220.26L132.49 221.4L133.58 222.9L134.2 224.4L134.81 227.65L134.7 229.65L134.28 230.9L131.07 238.4L130.3 239.65L129.1 240.72L127.6 241.48L125.85 241.9M74.6 274.91L74.83 274.4L75.35 273.77L76.85 272.78L85.6 269.52L87.1 269.23L88.85 269.08L94.1 268.83L97.1 268.87L103.1 269.68L108.35 270.8L109.85 271.36L111.26 272.4L112.44 273.9L113.29 275.65L113.54 277.15L113.35 278.15L112.97 278.9L112.11 279.9L111.19 280.65L108.85 281.92L105.1 283.1L101.85 283.77L98.6 284.11L87.35 284L85.6 283.83L84.1 283.48L79.6 282L78.31 281.4L77.3 280.65L76.22 279.4L75.21 277.65L74.6 276.17M126.85 242.7L125.6 242.89L124.35 242.8L120.07 241.4L115.1 240.75L111.6 239.99L110.26 239.4L108.88 238.4L107.39 236.9L106.6 235.7L105.96 233.9L105.77 232.15L105.97 230.4L106.56 228.9L108.72 225.9L110.43 223.9L112.6 222.07L115.1 220.48L117.85 219.29L120.85 218.52L123.1 218.39L128.1 218.6L130.1 219.04L131.85 219.9L133.28 221.15L134.5 222.9L135.16 224.65L135.63 227.4L135.63 228.9L135.24 230.4L133.6 233.98L131.99 238.65L131.35 239.87L130.6 240.73L129.6 241.51L128.35 242.18L126.85 242.7M74.6 273.24L75.85 272.4L77.85 271.5L83.35 269.51L86.1 268.73L88.1 268.46L92.35 268.23L95.35 268.21L98.1 268.37L104.35 269.19L108.6 270.03L110.6 270.74L112.25 271.9L113.72 273.65L114.55 275.4L114.85 277.15L114.48 278.65L113.59 279.9L112.04 281.15L110.1 282.19L107.85 282.99L103.85 284.02L100.85 284.48L97.35 284.73L87.1 284.51L85.35 284.33L83.85 284L79.35 282.58L77.85 281.9L76.2 280.65L74.6 278.81M126.1 244.18L125.1 244.32L124.1 244.16L120.98 242.4L119.35 241.9L111.85 241.2L109.85 240.73L108.35 239.89L106.85 238.58L106 237.4L105.39 235.9L104.97 233.4L105.07 230.9L105.69 228.9L106.95 226.9L109.2 224.15L111.85 221.85L115.1 219.77L118.35 218.49L120.6 217.96L123.1 217.74L127.6 217.83L130.1 218.29L132.1 219.17L133.71 220.4L135.09 222.15L135.98 224.15L136.52 227.15L136.54 228.4L136.4 229.4L135.98 230.65L134.06 234.65L132.97 238.65L132.56 239.65L131.6 241L130.1 242.31L128.1 243.47L126.1 244.18M121.6 261.17L121.1 261.24L120.35 261.08L119.6 260.7L118.85 260.07L118.25 258.9L118.21 258.15L118.4 257.4L120.36 253.9L120.9 253.15L121.6 252.48L122.35 252.09L123.1 251.94L124.35 251.96L125.1 252.13L125.85 252.7L126.23 253.65L126.25 254.65L125.92 255.9L125.1 257.46L123.85 259.17L122.6 260.55L121.6 261.17M74.6 272.16L76.85 271L80.6 269.52L84.85 268.3L87.35 267.82L91.1 267.53L94.35 267.51L103.35 268.24L109.35 269.3L111.1 269.94L112.8 270.9L114.4 272.15L115.47 273.4L116.2 275.15L116.43 276.9L116.21 278.15L115.32 279.65L113.85 281.06L112.1 282.12L109.85 283.09L106.6 284.02L103.35 284.75L100.35 285.12L94.85 285.39L87.1 285.06L84.6 284.77L82.6 284.28L78.1 282.81L76.6 281.98L74.6 280.43M120.35 265.9L119.35 266.06L118.35 265.91L117.85 265.6L117.35 264.9L117.11 263.9L116.94 261.65L116.31 258.9L116.28 257.9L116.45 257.15L116.82 256.4L122.16 248.15L122.78 246.4L122.79 245.65L122.56 244.9L122.09 244.15L121.37 243.4L120.6 242.88L119.34 242.4L117.6 242.19L113.85 242.13L109.85 242.53L109.1 242.33L108.35 241.84L106.1 239.8L105.46 238.9L105 237.9L104.59 236.4L104.37 234.65L104.33 232.65L104.49 230.9L104.89 229.4L105.48 228.15L106.65 226.4L108.26 224.4L110.85 222.05L114.6 219.53L117.6 218.27L120.85 217.48L125.35 217.27L128.85 217.51L130.85 218.03L132.6 218.85L134.1 219.97L135.34 221.4L136.2 222.9L136.77 224.65L137.13 227.15L137.03 229.15L136.45 230.9L134.56 234.65L133.57 238.65L132.94 240.15L132.23 241.15L131.35 242.07L127.46 245.15L126.75 246.15L126.75 247.15L127.35 249.37L127.6 250.96L127.7 252.65L127.62 253.9L127.21 255.65L125.59 259.4L124.52 262.65L123.85 263.74L122.85 264.72L121.6 265.46L120.35 265.9M109.1 257.71L108.35 257.84L107.6 257.78L106.85 257.49L105.85 256.8L104.85 255.84L104.18 254.9L103.76 253.9L103.66 253.15L103.77 252.4L104.1 251.77L105.96 249.9L106.68 248.9L108.35 245.33L108.85 244.8L109.35 244.62L110.1 244.85L110.85 245.44L111.6 246.27L112.1 247.09L112.47 248.15L113.21 251.4L113.38 252.9L113.1 254.53L112.35 255.81L110.89 256.9L109.1 257.71M74.6 271.49L77.1 270.25L80.35 268.95L84.85 267.76L87.6 267.25L90.85 266.99L93.6 266.98L104.6 267.8L108.1 268.31L110.1 268.8L112.35 269.77L114.85 271.23L116.1 272.24L116.91 273.4L117.37 274.9L117.54 276.65L117.27 278.15L116.55 279.4L115.1 280.9L113.35 282.1L111.35 283.04L109.1 283.82L104.35 284.99L101.85 285.37L95.1 285.81L87.35 285.46L85.1 285.24L82.85 284.77L78.35 283.42L76.85 282.73L74.6 281.26M74.6 269.48L79.99 266.4L81.04 265.65L81.47 265.15L81.78 264.4L82.54 260.9L83.23 258.9L84.07 257.4L85.77 255.4L86.56 254.15L88.72 248.9L90.51 246.65L91.86 244.4L92.84 243.15L96.57 239.4L99.35 237.25L100.6 235.77L101.6 233.99L102.75 229.9L103.68 227.9L106.32 224.15L107.35 223.03L108.6 221.96L113.1 218.77L114.85 217.79L116.85 217.04L118.85 216.5L122.6 215.92L127.1 215.86L128.85 216.06L131.1 216.58L132.85 217.23L134.35 218.06L135.6 219.04L136.62 220.15L137.87 222.15L138.58 224.4L138.85 227.4L138.77 228.65L138.51 229.9L137.89 231.4L136.35 233.98L135.85 235.09L135.06 238.9L134.51 240.4L133.76 241.65L132.1 243.9L131.37 245.4L131.09 246.9L130.72 252.4L130.41 254.4L127.16 264.15L126.1 266.49L124.83 268.65L123.71 270.15L121.61 272.4L121.09 273.15L120.6 274.62L120.11 278.15L119.66 279.15L118.85 280.15L117.6 281.24L115.85 282.48L114.35 283.3L112.1 284.22L109.6 285.01L106.1 285.81L103.6 286.29L101.1 286.57L94.6 286.91L87.85 286.6L85.1 286.35L82.1 285.82L78.1 284.81L76.6 284.28L74.6 283.32M99.85 265.65L100.83 265.4L101.15 264.9L101.04 264.4L100.6 263.69L100.1 263.2L99.6 262.94L98.85 262.88L98.1 263.13L97.32 263.65L96.72 264.4L96.78 264.9L97.6 265.37L98.85 265.62L99.85 265.65M74.6 270.24L79.85 267.78L84.07 266.65L89.35 265.01L90.85 265.03L94.87 265.9L99.35 266.48L102.35 266.41L103.34 266.15L103.73 265.9L103.88 265.65L103.85 265.15L102.79 262.65L101.86 259.65L101.35 258.86L100.6 258.44L99.85 258.48L99.1 258.78L94.6 262.04L90.85 263.79L89.85 264.1L89.1 264.11L88.35 263.92L86.85 263.08L86.35 262.61L85.88 261.9L85.74 260.9L86.12 259.9L88.04 257.4L89.35 253.71L90.15 252.15L91.1 251.17L93.31 250.15L94.04 249.4L94.18 248.65L94.09 246.4L94.26 245.65L94.6 245.03L98.1 241.95L100.6 240.42L101.35 239.49L101.85 238.32L102.35 236.57L103.26 231.15L103.93 228.9L104.89 227.15L106.5 224.9L107.6 223.64L109.1 222.29L112.85 219.58L115.1 218.29L118.85 217.03L122.35 216.47L127.1 216.41L128.6 216.57L130.6 216.99L132.1 217.52L133.6 218.28L134.85 219.2L136 220.4L137.26 222.4L137.96 224.65L138.24 227.65L137.91 229.9L137.41 231.15L135.4 234.9L134.52 238.9L134.04 240.15L133.27 241.4L131 244.15L130.3 245.4L130.03 246.65L129.79 251.9L129.48 254.15L128.99 255.9L127.76 259.15L126.49 263.4L125.6 265.26L124.35 267.11L122.85 268.86L120.36 271.15L119.81 271.9L119.48 273.15L119.38 276.65L119.2 277.9L118.62 279.15L117.78 280.15L116.1 281.58L114.6 282.56L112.6 283.51L110.35 284.32L103.85 285.83L96.6 286.49L94.35 286.52L88.35 286.23L84.1 285.79L78.1 284.26L76.35 283.53L74.6 282.59M117.51 247.9L118.1 247.65L118.85 246.97L119.44 246.15L119.74 245.4L119.78 244.65L119.56 244.15L119.1 243.75L118.6 243.55L117.6 243.46L116.6 243.64L116.06 243.9L115.65 244.4L115.7 245.4L116.35 247L116.85 247.69L117.51 247.9M118.85 268.4L117.85 268.33L117.1 267.94L116.55 267.4L115.9 266.4L115.2 264.4L115.05 261.65L114.85 260.51L114.35 259.47L113.85 259.07L113.35 258.99L112.85 259.12L111.84 259.9L111.37 260.9L111.16 262.65L110.92 263.4L110.41 264.15L109.85 264.6L109.1 264.88L108.1 264.86L106.85 264.45L105.85 263.83L105.1 263L104.6 261.95L104.09 258.9L103.69 257.65L103.1 256.62L100.98 253.65L100.3 252.4L100 250.9L100.35 249.72L101.1 249.07L103.1 248.39L103.88 247.9L104.63 246.9L105.07 245.4L105.07 243.65L104.11 240.65L103.73 237.65L103.68 233.9L104 230.65L104.45 229.15L105.21 227.65L106.41 225.9L107.85 224.15L110.6 221.72L114.6 219.06L117.85 217.77L121.35 217.02L126.35 216.85L129.6 217.23L131.6 217.84L133.35 218.75L134.77 219.9L136 221.4L136.91 223.15L137.44 225.15L137.68 227.65L137.49 229.4L136.97 230.9L135.58 233.4L134.92 234.9L134.07 238.65L133.48 240.15L132.35 241.74L129.55 244.65L128.93 245.65L128.72 246.9L128.8 251.9L128.53 254.15L128.04 255.9L126.76 259.15L125.94 262.15L125.45 263.4L124.35 265.13L122.85 266.56L120.85 267.77L118.85 268.4M117.01 252.65L118.1 251.4L120.68 247.15L121.16 245.9L121.15 244.65L120.54 243.65L119.84 243.15L119.1 242.87L116.85 242.7L114.1 243.06L113.41 243.4L113.2 243.65L113.08 244.15L113.19 244.65L114.15 246.9L114.85 249.96L115.6 252.04L115.98 252.65L116.35 252.88L117.01 252.65M94.35 258.7L93.85 258.7L93.6 258.54L93.48 257.9L94.1 257.2L94.6 257.03L95.1 257.07L95.38 257.4L95.29 257.9L94.91 258.4L94.35 258.7M74.6 270.9L77.35 269.55L80.35 268.35L85.85 266.99L88.35 266.58L92.85 266.43L100.1 267.04L107.85 267.34L109.1 267.55L110.35 267.98L115.85 270.5L116.85 271.13L117.53 271.9L118 272.9L118.32 274.4L118.46 276.4L118.18 278.15L117.47 279.4L115.99 280.9L114.1 282.25L111.85 283.31L109.6 284.09L104.85 285.25L102.1 285.7L95.1 286.15L87.6 285.82L85.1 285.58L82.35 285.01L78.1 283.77L76.6 283.1L74.6 281.91M119.6 265.92L118.85 265.91L118.15 265.65L117.64 265.15L117.39 264.65L117.04 261.65L116.4 258.9L116.42 257.65L116.93 256.4L120.1 251.34L122.31 248.15L122.91 246.4L122.76 245.15L122.16 244.15L121.43 243.4L120.6 242.84L119.45 242.4L117.85 242.17L114.35 242.09L109.85 242.35L108.85 242.01L107.85 241.29L105.88 239.4L105.27 238.4L104.89 237.4L104.55 235.9L104.38 234.15L104.38 232.15L104.57 230.65L105.02 229.15L105.65 227.9L108.3 224.4L110.85 222.08L114.6 219.55L117.6 218.29L120.85 217.5L122.85 217.32L125.6 217.29L129.1 217.58L130.85 218.05L132.85 219.03L134.24 220.15L135.47 221.65L136.27 223.15L136.79 224.9L137.11 227.4L137 229.15L136.53 230.65L134.54 234.65L133.54 238.65L132.91 240.15L131.35 242.03L127.33 245.15L126.58 246.15L126.53 246.9L127.23 249.4L127.53 251.15L127.56 253.9L127.07 255.9L125.53 259.4L124.43 262.65L123.61 263.9L122.6 264.79L121.1 265.56L119.6 265.92M109.1 257.46L108.1 257.58L107.35 257.45L106.6 257.12L105.6 256.41L104.3 254.9L103.88 253.9L103.79 253.15L103.93 252.4L104.18 251.9L105.91 250.15L106.69 249.15L108.35 245.71L108.85 245.16L109.6 244.96L110.1 245.13L110.85 245.68L111.51 246.4L111.98 247.15L112.34 248.15L113.04 251.15L113.25 252.9L112.97 254.4L112.25 255.65L110.95 256.65L109.1 257.46M74.6 271.52L77.1 270.28L80.35 268.98L84.85 267.79L87.6 267.27L90.85 267.02L93.6 267.01L104.35 267.8L107.85 268.3L109.85 268.76L111.85 269.56L114.65 271.15L115.93 272.15L116.84 273.4L117.31 274.9L117.49 276.65L117.22 278.15L116.5 279.4L115.05 280.9L113.35 282.07L111.35 283.02L109.1 283.8L104.85 284.86L101.85 285.35L95.1 285.79L87.35 285.44L85.1 285.22L82.85 284.75L78.1 283.3L76.6 282.55L74.6 281.22M126.35 244.19L125.1 244.4L124.1 244.24L121.35 242.62L119.35 241.93L111.85 241.25L109.85 240.8L108.35 239.97L107.06 238.9L106.1 237.7L105.49 236.4L104.97 233.9L104.96 231.4L105.44 229.4L106.38 227.65L108.71 224.65L110.85 222.6L114.1 220.3L115.6 219.5L117.35 218.79L120.1 218.02L122.35 217.74L127.1 217.77L129.85 218.19L131.85 218.99L133.49 220.15L134.98 221.9L135.85 223.65L136.5 226.65L136.58 227.9L136.48 229.15L136.01 230.65L134.09 234.65L132.72 239.4L131.74 240.9L130.35 242.17L128.6 243.28L126.35 244.19M121.35 261.66L120.85 261.62L120.1 261.3L119.35 260.79L118.6 260.01L118.26 259.4L118.08 258.65L118.27 257.4L120.35 253.73L121.35 252.52L122.1 252.03L122.85 251.81L124.1 251.77L125.1 251.95L125.85 252.47L126.29 253.4L126.33 254.65L126 255.9L125.1 257.61L123.35 260.01L122.1 261.33L121.35 261.66M74.6 272.12L76.6 271.07L80.35 269.57L84.85 268.27L87.35 267.79L91.1 267.5L94.1 267.48L103.35 268.21L109.35 269.26L111.1 269.9L112.88 270.9L114.49 272.15L115.55 273.4L116.21 274.9L116.5 276.9L116.17 278.4L115.38 279.65L114.1 280.92L112.35 282.03L110.1 283.03L107.6 283.78L103.6 284.73L100.6 285.12L94.85 285.41L87.1 285.08L84.6 284.79L82.35 284.23L78.1 282.84L76.6 282.01L74.6 280.49" fill="none" stroke="#111" stroke-width="0.62" stroke-linejoin="round"/>
<path d="M91.11 246.15h.7M142.54 221.9h.7M84.72 294.54h.7M97.5 228.96h.7M130.13 255.92h.7M91.29 244.67h.7M92.97 235.64h.7M99.09 232.3h.7M77.33 289.47h.7M77.38 284.6h.7M87.4 242.02h.7M85.16 255.93h.7M120.81 277.49h.7M93.34 239.72h.7M135.25 206.38h.7M136 236.82h.7M137.85 205.6h.7M96.77 221.43h.7M80.7 262.93h.7M119.25 214.78h.7M85.11 255.41h.7M129.08 259.04h.7M115.55 282.73h.7M114.8 205.7h.7M133.1 215.53h.7M84.39 258.3h.7M84.09 242.99h.7M118.06 282.24h.7M79.03 265.13h.7M131.62 253.83h.7M76.16 268.36h.7M87.37 229.24h.7M77.64 257.71h.7M126.48 212.08h.7M126.72 204.67h.7M92.97 239.88h.7M116.19 210.53h.7M121.49 274.53h.7M83.98 257.85h.7M129.54 258.81h.7M91.01 244.99h.7M125.95 271.25h.7M108.49 285.36h.7M79.07 293.39h.7M76.89 259.58h.7M127.9 276.92h.7M135.3 214.63h.7M113.4 289.71h.7M132.24 245.67h.7M83.77 255.07h.7M122.25 202.52h.7M119.11 207.45h.7M132.15 247.24h.7M85 255.31h.7M105.97 223.99h.7M81.03 264.35h.7M90.53 246.74h.7M79.01 261.14h.7M128.98 261.73h.7M92.1 237.61h.7M127.52 210.09h.7M134.99 241.26h.7M101.47 231.15h.7M125.23 214.36h.7M124.29 271.95h.7M82.15 253.33h.7M79.3 261.93h.7M95.39 236.09h.7M104.41 217.6h.7M91.53 238.36h.7M100.82 287.41h.7M87.44 242.03h.7M115.97 215.39h.7M84.7 286.28h.7M80.21 250.56h.7M77.02 254.17h.7M99.82 232.87h.7M122.2 204.58h.7M131.38 246.98h.7M96.31 239.08h.7" stroke="#888" stroke-width="0.7"/>
<clipPath id="cA4"><rect x="204.2" y="197.9" width="107.6" height="106.9"/></clipPath>
<path clip-path="url(#cA4)" d="M254.2 231.46L253.2 231.6L252.2 231.4L251.35 230.9L250.92 230.15L250.98 229.15L251.54 228.15L252.45 227.44L253.45 227.11L254.2 227.08L254.95 227.34L255.45 227.85L255.66 228.4L255.67 229.4L255.37 230.4L254.95 230.98L254.2 231.46M253.95 232.42L252.2 232.41L250.37 231.9L249.45 231.23L249.2 230.4L249.35 229.65L249.77 228.65L250.41 227.65L250.95 227.09L251.7 226.57L252.7 226.14L254.45 225.88L255.45 226.12L256.23 226.65L256.83 227.65L256.94 228.65L256.68 229.9L256.04 231.15L255.2 231.94L253.95 232.42M254.2 232.95L253.2 233.09L251.95 233.07L248.7 232.5L247.35 231.9L246.94 231.4L246.86 230.9L247.27 229.9L249.13 227.4L249.95 226.54L251.7 225.57L252.95 225.19L253.95 225.06L255.45 225.26L256.65 225.9L257.49 226.9L257.85 228.15L257.61 229.65L256.67 231.4L255.57 232.4L254.2 232.95M253.45 233.43L250.7 233.39L246.7 232.79L245.43 232.15L245.09 231.65L245.03 230.9L245.35 229.9L245.95 228.95L248.18 226.65L248.95 226.03L250.28 225.4L252.2 224.81L253.7 224.58L254.95 224.66L256.45 225.21L257.58 226.15L258.29 227.4L258.42 228.15L258.37 228.9L257.67 230.65L256.47 232.15L255.2 232.97L253.45 233.43M224.45 278.95L223.68 278.9L223.2 278.63L222.75 278.15L222.52 277.65L222.49 277.15L222.7 276.7L222.95 276.49L223.45 276.35L223.95 276.42L224.45 276.67L224.95 277.17L225.17 277.65L225.19 278.15L224.95 278.65L224.45 278.95M254.2 233.44L251.95 233.64L248.2 233.35L245.95 232.97L244.79 232.4L244.23 231.65L244.2 230.9L245.55 227.65L245.95 226.1L246.45 225.82L247.95 225.6L252.2 224.57L253.7 224.38L254.7 224.43L255.7 224.67L256.7 225.15L257.36 225.65L258.19 226.65L258.59 227.65L258.64 228.65L258.39 229.65L257.73 230.9L256.69 232.15L255.65 232.9L254.2 233.44M240.2 276.42L239.7 276.53L239.2 276.47L238.72 275.9L238.7 274.9L238.95 274.28L239.2 274.06L239.45 274L240 274.15L240.67 274.65L241.03 275.15L241.07 275.65L240.94 275.9L240.2 276.42M246.2 275.7L245.7 275.68L245.2 275.45L244.95 275.15L244.93 274.9L245.45 274.25L246.2 274L246.7 274.11L246.95 274.33L247.1 274.9L246.83 275.4L246.2 275.7M224.7 279.47L224.2 279.52L223.45 279.34L222.75 278.9L222.04 278.15L221.64 277.4L221.52 276.65L221.65 276.15L222.11 275.65L222.95 275.4L223.95 275.57L224.92 276.15L225.58 276.9L225.9 277.65L225.87 278.4L225.45 279.06L224.7 279.47M217.7 276.67L217.45 276.64L217.26 276.4L217.27 276.15L217.45 275.86L217.95 275.68L218.26 275.9L218.27 276.15L218.14 276.4L217.7 276.67M253.2 233.66L250.7 233.66L246.45 233.25L245.18 232.9L244.08 232.15L243.75 231.65L243.67 231.15L244.77 228.15L244.85 227.4L244.71 226.15L244.97 225.4L245.95 224.96L248.7 225.09L252.7 224.37L254.2 224.29L255.2 224.43L256.2 224.78L257.7 225.86L258.44 226.9L258.74 227.9L258.66 229.15L258.14 230.4L257.27 231.65L256.18 232.65L254.95 233.28L253.2 233.66M240.2 276.9L239.45 277.06L238.95 277.02L238.45 276.69L238.3 276.4L238.2 275.65L238.3 274.65L238.54 273.9L238.95 273.47L239.45 273.43L240.2 273.77L241.32 274.65L241.85 275.4L241.83 275.65L241.49 276.15L240.2 276.9M246.45 276.16L245.45 276.13L244.44 275.65L244.14 275.15L244.34 274.65L244.95 274.09L245.85 273.65L246.7 273.6L247.2 273.82L247.65 274.4L247.67 275.15L247.2 275.81L246.45 276.16M218.2 277.22L217.45 277.35L216.95 277.18L216.7 276.94L216.52 276.4L216.71 275.65L217.45 274.92L218.2 274.64L219.2 274.64L219.8 274.9L220.18 275.4L220.16 275.65L219.13 276.65L218.2 277.22M224.7 279.7L223.95 279.69L223.45 279.54L222.17 278.65L221.53 277.9L220.93 276.9L220.5 275.9L220.56 275.4L221.7 274.8L222.95 274.78L224.2 275.24L225.37 276.15L226.07 277.15L226.25 278.15L226.11 278.65L225.75 279.15L225.2 279.54L224.7 279.7M253.7 233.66L251.45 233.77L246.45 233.38L244.73 232.9L243.64 232.15L243.2 231.65L243.01 231.15L244.19 228.65L244.33 227.65L244.18 225.9L244.55 225.15L245.2 224.76L245.95 224.59L249.2 224.82L253.95 224.2L254.95 224.3L255.95 224.59L256.95 225.12L257.61 225.65L258.41 226.65L258.84 227.9L258.82 228.9L258.37 230.15L257.56 231.4L256.45 232.52L255.2 233.25L253.7 233.66M239.7 277.41L238.95 277.51L238.45 277.41L238.11 277.15L237.88 276.65L237.84 275.65L238.05 274.15L238.32 273.4L238.7 273.05L239.2 272.98L239.7 273.12L242.7 275.01L243.2 274.96L245.14 273.65L246.2 273.3L246.95 273.32L247.45 273.53L247.87 273.9L248.14 274.4L248.18 275.15L247.95 275.65L247.45 276.14L246.95 276.41L245.7 276.54L243.45 275.79L242.95 275.75L241.04 276.9L239.7 277.41M224.45 279.9L223.7 279.8L222.84 279.4L220.7 277.42L220.2 277.12L219.7 277.09L217.7 277.7L217.2 277.67L216.7 277.45L216.38 277.15L216.16 276.65L216.18 275.9L216.38 275.4L217.2 274.52L218.45 274L221.45 273.5L222.2 273.55L222.7 273.75L225.2 275.57L226.13 276.65L226.5 277.4L226.52 278.4L226.09 279.15L225.45 279.65L224.45 279.9M253.95 233.68L251.2 233.84L245.73 233.4L244.29 232.9L242.45 231.76L240.2 231.33L239.7 230.9L239.66 230.65L239.77 230.4L240.2 230.14L242.2 230.26L242.7 230.11L243.2 229.68L243.65 228.9L243.83 228.15L243.8 225.65L244.03 225.15L244.7 224.63L245.45 224.39L246.45 224.27L249.45 224.59L253.2 224.12L255.2 224.27L256.7 224.87L257.97 225.9L258.76 227.15L258.95 227.9L258.96 228.65L258.8 229.4L258.34 230.4L256.98 232.15L255.7 233.08L253.95 233.68M239.2 277.92L238.45 277.97L237.95 277.83L237.55 277.4L237.42 276.9L237.79 273.65L237.96 273.15L238.45 272.65L238.95 272.57L239.45 272.68L241.7 274.08L242.7 274.41L243.45 274.28L245.7 273.18L246.95 273.03L247.95 273.44L248.64 274.4L248.71 275.15L248.51 275.65L247.95 276.26L247.2 276.7L245.95 276.9L243.7 276.42L242.95 276.43L240.45 277.52L239.2 277.92M225.2 279.96L224.2 280.06L223.2 279.78L222.21 279.15L220.7 277.89L220.2 277.65L219.45 277.61L217.7 277.99L216.7 277.79L216.19 277.4L215.84 276.65L215.84 275.9L216.1 275.15L216.95 274.2L218.2 273.61L221.95 272.75L222.7 272.71L223.43 272.9L226.17 276.15L226.87 277.4L226.93 278.15L226.64 278.9L225.95 279.6L225.2 279.96M252.7 233.9L247.45 233.73L245.2 233.43L242.45 232.21L239.95 231.64L239.28 231.15L239.12 230.4L239.45 229.93L239.95 229.69L242.2 229.54L242.86 229.15L243.34 228.15L243.34 226.15L243.47 225.4L243.79 224.9L244.56 224.4L245.45 224.14L246.7 224.02L249.7 224.39L253.45 224.01L255.45 224.24L257.2 225.09L258.45 226.35L259.02 227.65L259.09 228.4L258.99 229.15L258.13 230.9L257.33 231.9L256.5 232.65L255.7 233.15L254.7 233.56L252.7 233.9M225.2 280.16L224.2 280.23L223.2 279.95L220.2 278.04L219.45 277.98L217.45 278.24L216.45 277.96L215.84 277.4L215.53 276.65L215.56 275.65L215.83 274.9L216.7 273.9L218.2 273.23L222.45 272.21L223.45 272.18L224.2 272.4L224.76 272.9L225.36 274.4L227.01 276.65L227.39 277.65L227.32 278.4L226.87 279.15L226.2 279.72L225.2 280.16M238.95 278.42L238.2 278.51L237.65 278.4L237.2 278.07L236.92 277.4L237.48 273.15L237.7 272.65L238.2 272.29L238.7 272.21L239.45 272.36L241.7 273.74L242.7 274.03L243.7 273.83L245.89 272.9L247.2 272.79L247.95 273.04L248.45 273.38L249.19 274.4L249.31 275.15L249.13 275.65L248.44 276.4L247.45 276.99L246.2 277.26L243.7 276.84L242.95 276.88L238.95 278.42M253.45 233.9L250.7 233.99L246.7 233.8L245.2 233.6L242.45 232.52L240.2 232.01L239.45 231.71L239.04 231.4L238.71 230.9L238.7 230.2L238.95 229.77L239.48 229.4L241.7 229.03L242.45 228.65L242.84 227.9L242.96 225.9L243.18 225.15L243.59 224.65L244.45 224.19L245.59 223.9L246.7 223.8L249.95 224.19L253.45 223.9L255.2 224.08L256.95 224.81L258.23 225.9L258.77 226.65L259.09 227.4L259.21 228.15L259.17 228.9L258.95 229.65L258.42 230.65L256.92 232.4L255.45 233.35L253.45 233.9M224.7 280.41L223.2 280.12L220.95 278.71L220.2 278.37L219.45 278.3L217.45 278.49L216.2 278.1L215.52 277.4L215.2 276.4L215.26 275.4L215.67 274.4L216.4 273.65L217.36 273.15L221.95 271.95L223.7 271.78L224.95 272.16L225.73 272.9L226.28 274.65L227.87 276.9L228.05 277.9L227.64 278.9L226.82 279.65L225.89 280.15L224.7 280.41M238.7 278.96L237.95 279.05L237.2 278.88L236.61 278.4L236.33 277.65L236.87 274.9L237 272.9L237.21 272.4L237.7 272.03L238.45 271.87L239.2 271.98L239.95 272.31L241.7 273.42L242.7 273.7L243.7 273.53L246.2 272.61L247.7 272.61L248.4 272.9L249.05 273.4L249.94 274.65L249.94 275.4L249.42 276.15L248.44 276.9L247.45 277.39L246.2 277.63L243.95 277.27L242.95 277.29L238.7 278.96M253.7 233.93L250.7 234.07L246.52 233.9L244.95 233.67L242.45 232.73L239.37 231.9L238.53 231.15L238.35 230.65L238.37 230.15L238.7 229.55L239.2 229.16L241.45 228.64L242.2 228.15L242.5 227.4L242.64 225.9L242.86 225.15L243.45 224.47L244.2 224.09L245.45 223.77L246.95 223.63L249.95 224.03L253.45 223.81L255.2 224L256.95 224.72L258.34 225.9L258.87 226.65L259.19 227.4L259.32 228.15L259.27 228.9L259.06 229.65L258.52 230.65L257.02 232.4L255.45 233.41L253.7 233.93M225.45 280.46L224.45 280.55L223.45 280.36L220.2 278.62L219.45 278.53L217.2 278.65L215.95 278.17L215.27 277.4L214.96 276.4L215.03 275.15L215.45 274.15L216.2 273.43L217.2 272.94L222.24 271.65L223.95 271.54L224.7 271.71L225.66 272.15L226.68 273.15L227.45 274.97L228.66 276.15L228.86 277.4L228.64 278.4L228.05 279.15L226.9 279.9L225.45 280.46M238.2 279.43L237.45 279.4L236.7 279.11L236.17 278.65L235.83 277.9L235.86 277.15L236.51 274.9L236.45 272.65L236.72 272.15L237.2 271.86L238.2 271.63L239.2 271.76L239.95 272.08L241.7 273.18L242.7 273.46L243.7 273.32L246.2 272.44L247.79 272.4L248.5 272.65L249.25 273.15L250.03 273.9L250.51 274.65L250.51 275.4L250 276.15L249.04 276.9L247.6 277.65L246.2 277.93L243.95 277.59L242.95 277.62L241.7 278.01L239.2 279.18L238.2 279.43M229.95 274.94L229.56 274.9L229.34 274.65L229.42 274.15L229.7 273.9L231.31 273.4L232.2 273.28L232.43 273.4L231.13 274.4L229.95 274.94M253.95 233.92L251.2 234.14L246.45 233.97L244.95 233.77L242.2 232.79L240.2 232.34L239.2 231.97L238.32 231.15L238.14 230.65L238.14 230.15L238.45 229.47L238.95 229.03L239.7 228.72L241.2 228.38L241.92 227.9L242.2 227.31L242.62 225.15L243.26 224.4L244.2 223.95L245.46 223.65L246.95 223.52L250.2 223.92L253.45 223.75L255.2 223.94L256.95 224.65L258.43 225.9L259.19 227.15L259.38 227.9L259.39 228.65L259.23 229.4L258.75 230.4L257.36 232.15L255.7 233.34L253.95 233.92M224.7 280.65L223.2 280.37L220.2 278.78L217.2 278.78L215.95 278.33L215.25 277.65L214.83 276.65L214.8 275.15L215.2 274.08L215.86 273.4L216.95 272.84L222.95 271.38L224.2 271.4L225.14 271.65L226.15 272.15L227.7 273.22L228.45 273.36L230.7 272.98L233.7 272.16L235.45 272.35L236.96 271.65L238.2 271.45L239.45 271.69L241.7 273.01L242.7 273.29L243.7 273.17L246.45 272.27L247.45 272.2L248.2 272.34L248.95 272.68L249.9 273.4L250.63 274.15L250.97 274.9L250.79 275.65L250.13 276.4L248.95 277.22L247.45 277.94L246.2 278.16L243.95 277.83L242.95 277.86L241.7 278.25L238.95 279.54L238.2 279.69L237.45 279.67L236.22 279.15L235.74 278.65L235.49 278.15L235.46 277.15L236.08 275.4L236.22 274.4L235.95 273.29L235.45 272.7L235.2 272.66L231.7 274.98L230.27 276.15L229.79 276.9L229.19 278.65L228.77 279.15L226.2 280.37L224.7 280.65M252.7 234.16L246.7 234.08L244.45 233.75L242.2 232.95L239.87 232.4L238.95 232.01L238.46 231.65L238.08 231.15L237.9 230.65L237.94 229.9L238.2 229.33L238.7 228.84L239.45 228.47L240.95 228.06L241.45 227.75L241.84 227.15L242.15 225.65L242.47 224.9L242.95 224.39L243.89 223.9L245.45 223.53L246.95 223.39L250.2 223.79L253.7 223.67L255.45 223.93L257.2 224.73L258.05 225.4L258.73 226.15L259.18 226.9L259.43 227.65L259.4 229.15L259.13 229.9L258.52 230.9L257.69 231.9L256.7 232.79L254.95 233.71L252.7 234.16M225.7 280.66L224.45 280.76L223.45 280.57L220.2 278.97L217.2 278.93L216.45 278.75L215.76 278.4L215.03 277.65L214.58 276.4L214.56 274.9L214.94 273.9L215.78 273.15L216.88 272.65L222.95 271.21L223.95 271.19L224.95 271.38L227.7 272.61L228.95 272.8L230.95 272.55L233.95 271.72L238.2 271.27L239.45 271.52L241.7 272.81L242.7 273.1L243.7 273L246.45 272.12L247.45 272.04L248.2 272.14L248.95 272.42L250.04 273.15L250.88 273.9L251.38 274.65L251.36 275.4L250.6 276.4L249.2 277.38L247.7 278.12L246.2 278.44L243.95 278.13L242.95 278.16L241.7 278.54L239.2 279.75L237.7 279.98L236.95 279.85L236.2 279.54L235.65 279.15L235.07 278.4L234.9 277.9L234.88 277.15L235.56 275.4L235.67 274.65L235.45 274.07L235.2 273.91L234.7 273.94L233.45 274.65L231.2 276.41L230.63 277.15L229.95 278.9L229.6 279.4L229.17 279.65L225.7 280.66M253.2 234.17L251.2 234.27L245.7 234.11L244.52 233.9L241.95 233.04L239.95 232.57L238.86 232.15L237.98 231.4L237.66 230.65L237.73 229.65L238.16 228.9L238.7 228.45L240.7 227.69L241.12 227.4L241.46 226.9L241.89 225.4L242.34 224.65L242.95 224.15L243.95 223.72L245.45 223.39L247.2 223.25L250.2 223.65L253.7 223.58L255.45 223.85L257.22 224.65L258.17 225.4L258.84 226.15L259.29 226.9L259.54 227.65L259.51 229.15L259.24 229.9L258.62 230.9L256.98 232.65L255.2 233.68L253.2 234.17M226.2 280.71L224.95 280.89L223.95 280.82L222.95 280.51L220.2 279.17L217.2 279.09L215.85 278.65L214.98 277.9L214.47 276.9L214.24 275.15L214.52 273.9L215.29 273.15L216.7 272.5L222.95 271.04L224.83 271.15L227.7 272.23L229.2 272.45L230.95 272.25L234.06 271.4L237.95 271.07L239.45 271.34L241.7 272.61L242.7 272.91L243.7 272.82L246.7 271.93L247.7 271.87L248.45 271.99L249.41 272.4L250.5 273.15L251.36 273.9L251.85 274.65L251.81 275.4L251.05 276.4L249.7 277.4L247.73 278.4L246.2 278.74L243.95 278.45L242.95 278.48L241.7 278.87L239.45 279.97L238.2 280.25L237.2 280.2L236.45 279.99L235.05 279.15L234.3 278.15L233.88 276.4L233.71 276.15L233.45 276.15L232.45 276.59L231.7 277.17L231.18 277.9L230.63 279.4L230.21 279.9L229.52 280.15L227.95 280.3L226.2 280.71M253.7 234.17L251.45 234.36L245.7 234.25L244.45 234.03L241.95 233.22L239.7 232.68L238.47 232.15L237.68 231.4L237.33 230.4L237.45 229.41L237.87 228.65L238.4 228.15L240.7 226.93L241.93 224.65L242.5 224.15L243.58 223.65L245.45 223.24L247.2 223.09L250.2 223.47L253.7 223.47L255.45 223.75L257.2 224.52L258.79 225.9L259.31 226.65L259.61 227.4L259.7 228.9L259.1 230.4L257.4 232.4L255.7 233.54L253.7 234.17M226.2 280.91L224.95 281.05L223.95 280.97L222.89 280.65L220.2 279.39L217.2 279.28L215.7 278.8L214.7 277.92L214.19 276.9L213.84 274.65L213.88 274.15L214.11 273.65L215.07 272.9L216.22 272.4L222.95 270.85L224.7 270.91L227.95 271.95L229.45 272.11L230.95 271.94L234.2 271.1L237.7 270.85L239.45 271.14L241.7 272.36L242.7 272.67L243.7 272.61L246.95 271.71L247.95 271.67L248.7 271.81L249.7 272.23L251.05 273.15L251.92 273.9L252.4 274.65L252.41 275.15L252.2 275.65L250.99 276.9L249.01 278.15L246.95 278.99L245.95 279.1L243.95 278.86L242.95 278.9L241.95 279.19L239.45 280.32L237.7 280.54L235.91 280.15L234.9 279.65L233.2 278.52L232.7 278.43L232.2 278.68L231.34 279.9L230.7 280.4L229.95 280.61L227.95 280.64L226.2 280.91M252.7 234.4L245.45 234.38L244.24 234.15L239.2 232.73L238.06 232.15L237.34 231.4L236.99 230.4L237.12 229.15L237.45 228.47L237.93 227.9L240.1 226.4L241.67 224.4L242.45 223.87L243.7 223.4L245.7 223.03L247.45 222.91L250.45 223.29L253.95 223.36L255.95 223.78L257.7 224.72L259.2 226.2L259.84 227.65L259.9 228.65L259.75 229.4L259.42 230.15L258.73 231.15L257.82 232.15L256.7 233.07L254.95 233.94L252.7 234.4M225.95 281.16L224.7 281.22L223.7 281.09L220.2 279.66L216.95 279.47L215.45 278.93L214.53 278.15L213.95 277.15L213.29 274.65L213.35 273.65L214.25 272.9L216.11 272.15L222.95 270.64L224.7 270.69L227.95 271.61L229.45 271.79L230.95 271.64L234.45 270.78L237.7 270.61L239.45 270.91L241.95 272.19L242.95 272.43L243.95 272.32L246.95 271.49L247.95 271.43L248.95 271.58L250.2 272.14L251.68 273.15L252.56 273.9L253.03 274.65L253.03 275.15L252.8 275.65L251.25 277.15L249.2 278.44L246.95 279.37L245.95 279.49L243.95 279.34L242.95 279.39L239.7 280.6L238.45 280.83L236.7 280.73L233.95 279.89L233.2 279.8L232.7 279.93L231.2 280.77L230.45 280.98L227.7 280.97L225.95 281.16M253.45 234.42L251.2 234.61L245.45 234.55L244.2 234.33L239.2 232.96L237.95 232.39L236.96 231.4L236.58 230.15L236.72 228.9L237.07 228.15L237.7 227.36L240.76 224.65L241.77 223.9L243.2 223.31L245.45 222.87L247.45 222.71L250.7 223.08L253.95 223.2L255.7 223.55L257.5 224.4L259.18 225.9L259.98 227.4L260.11 228.4L260.02 229.15L259.76 229.9L259.13 230.9L257.2 232.85L255.45 233.86L253.45 234.42M229.95 281.41L227.7 281.28L224.2 281.37L222.95 281.07L220.2 279.95L217.2 279.76L215.7 279.35L214.58 278.65L213.78 277.65L212.54 274.4L212.45 273.65L212.7 273.26L213.2 272.9L215.45 272.05L222.95 270.42L224.7 270.46L227.95 271.29L229.7 271.47L231.2 271.29L234.45 270.51L237.45 270.36L239.45 270.67L241.95 271.88L242.95 272.13L243.95 272.06L247.2 271.21L248.2 271.16L249.2 271.32L250.5 271.9L252.39 273.15L253.29 273.9L253.75 274.65L253.74 275.15L253.48 275.65L251.54 277.4L249.6 278.65L247.2 279.69L245.95 279.89L242.95 279.91L239.95 280.9L238.7 281.13L236.95 281.1L233.7 280.51L232.95 280.62L231.2 281.23L229.95 281.41M252.7 234.65L246.95 234.79L245.2 234.71L238.7 233.04L237.2 232.18L236.43 231.15L236.15 229.9L236.4 228.4L236.8 227.65L237.45 226.86L239.69 224.9L241.57 223.65L243.2 223.07L245.95 222.61L247.7 222.51L250.7 222.85L253.95 223.04L256.2 223.56L258.12 224.65L259.61 226.15L260.26 227.65L260.32 228.65L260.18 229.4L259.86 230.15L259.15 231.15L257 233.15L255.2 234.08L252.7 234.65M230.7 281.67L224.2 281.57L222.95 281.3L220.2 280.25L216.95 279.99L215.45 279.55L214.37 278.9L213.47 277.9L211.7 274.15L211.69 273.4L212.13 272.9L212.59 272.65L214.91 271.9L222.95 270.2L224.7 270.24L228.2 271.04L229.7 271.16L230.95 271.04L234.45 270.25L237.2 270.11L239.45 270.42L241.95 271.57L242.95 271.83L244.2 271.74L247.45 270.93L248.45 270.88L249.45 271.05L250.81 271.65L253.15 273.15L254.09 273.9L254.55 274.65L254.51 275.15L254 275.9L251.81 277.65L249.9 278.9L247.45 279.97L245.95 280.25L243.2 280.33L240.31 281.15L238.95 281.4L237.2 281.42L233.95 281L230.7 281.67M251.2 234.91L246.45 234.99L244.95 234.89L238.2 233.12L236.95 232.39L236.45 231.9L235.99 231.15L235.67 229.65L235.95 228.13L236.95 226.65L239.23 224.65L241.36 223.4L243.2 222.82L246.45 222.35L248.2 222.31L254.45 222.92L255.95 223.28L257.2 223.83L259 225.15L260.17 226.65L260.45 227.4L260.58 228.4L260.44 229.4L260.13 230.15L259.42 231.15L258.44 232.15L257.24 233.15L256.2 233.79L253.95 234.59L251.2 234.91M231.2 281.91L229.7 282L224.2 281.79L222.95 281.54L220.2 280.58L216.95 280.28L215.2 279.77L213.77 278.9L212.91 277.9L211.07 274.4L210.91 273.9L210.95 273.36L211.57 272.65L212.79 272.15L216.2 271.28L219.45 270.76L222.7 270L224.7 270L228.2 270.73L229.7 270.85L230.95 270.73L234.45 269.99L237.2 269.86L239.45 270.17L242.2 271.33L243.2 271.53L244.45 271.4L247.45 270.65L248.45 270.57L249.45 270.68L250.95 271.27L254.06 273.15L255.06 273.9L255.38 274.4L255.43 274.9L255.23 275.4L254.19 276.4L250.65 278.9L247.7 280.25L246.2 280.58L243.2 280.76L239.2 281.67L237.45 281.73L233.95 281.42L231.2 281.91M248.45 235.15L245.95 235.19L244.2 234.98L238.7 233.59L237.1 232.9L235.95 231.9L235.51 231.15L235.27 230.4L235.19 228.9L235.37 228.15L235.74 227.4L236.54 226.4L237.86 225.15L239.23 224.15L240.59 223.4L242.79 222.65L246.95 222.08L248.45 222.08L253.2 222.54L255.45 222.93L256.7 223.36L257.7 223.89L258.76 224.65L259.81 225.65L260.33 226.4L260.74 227.4L260.86 228.4L260.78 229.15L260.43 230.15L259.93 230.9L258.16 232.65L256.2 233.96L254.2 234.68L251.95 235.05L248.45 235.15M231.45 282.17L229.7 282.28L223.95 281.99L220.2 280.93L216.95 280.59L214.95 280.03L213.38 279.15L212.2 277.9L210.44 274.65L210.23 273.9L210.35 273.15L211.11 272.4L212.39 271.9L215.95 271.04L219.45 270.49L222.7 269.76L224.7 269.76L228.2 270.42L229.7 270.53L230.95 270.42L234.2 269.76L236.95 269.6L239.45 269.9L242.2 270.97L243.2 271.2L244.45 271.1L247.95 270.28L249.7 270.34L250.95 270.79L255.25 273.15L255.95 273.65L256.29 274.15L256.35 274.65L256.22 275.15L255.35 276.15L250.95 279.15L247.95 280.52L246.3 280.9L243.2 281.15L239.2 281.96L237.45 282.01L234.2 281.79L231.45 282.17M247.7 235.4L245.7 235.41L243.95 235.17L238.45 233.82L236.46 232.9L235.85 232.4L235.25 231.65L234.69 230.15L234.66 228.65L234.87 227.9L235.29 227.15L236.4 225.9L237.84 224.65L240.35 223.15L242.7 222.4L247.2 221.83L248.7 221.85L253.2 222.29L255.95 222.85L257.2 223.35L258.45 224.11L259.45 224.91L260.36 225.9L260.79 226.65L261.1 227.65L261.16 228.65L260.96 229.65L260.07 231.15L257.83 233.15L255.95 234.26L253.7 234.98L251.7 235.26L247.7 235.4M231.7 282.43L229.45 282.55L223.95 282.24L219.95 281.26L216.45 280.84L214.45 280.22L212.53 279.15L211.64 278.4L211.02 277.65L209.7 274.75L209.56 273.9L209.7 273.15L210.45 272.32L212.06 271.65L215.95 270.75L219.45 270.21L222.7 269.51L224.45 269.48L228.2 270.11L229.7 270.21L230.95 270.1L234.2 269.49L236.95 269.34L239.45 269.63L242.45 270.69L243.45 270.86L244.7 270.74L248.2 269.93L249.2 269.88L250.2 270.01L251.45 270.5L253.95 271.88L256.38 272.9L256.95 273.39L257.19 273.9L257.22 274.4L257.01 275.15L256.46 275.9L255.86 276.4L250.95 279.58L248.2 280.78L246.7 281.16L243.45 281.48L239.45 282.22L237.45 282.3L234.2 282.14L231.7 282.43M247.2 235.65L245.45 235.63L243.7 235.37L238.2 234.05L236.18 233.15L235.52 232.65L234.86 231.9L234.2 230.4L234.09 228.65L234.28 227.9L234.68 227.15L235.54 226.15L237.24 224.65L238.68 223.65L240.16 222.9L242.65 222.15L247.2 221.59L248.95 221.61L252.7 221.98L255.95 222.6L257.2 223.09L258.45 223.81L259.7 224.77L260.55 225.65L261.14 226.65L261.43 227.65L261.48 228.65L261.29 229.65L260.44 231.15L258.16 233.15L256.2 234.34L253.95 235.11L251.7 235.46L247.2 235.65M231.95 282.67L229.45 282.81L223.95 282.48L219.95 281.63L216.45 281.18L213.88 280.4L209.45 278.15L208.77 277.65L208.67 277.15L208.88 276.15L208.87 274.15L209.08 273.15L209.39 272.65L209.97 272.15L211.7 271.43L215.95 270.46L219.45 269.94L222.45 269.29L224.45 269.24L228.2 269.81L229.7 269.9L234.2 269.23L236.7 269.09L239.45 269.36L242.45 270.34L243.45 270.52L244.7 270.43L248.45 269.55L249.45 269.47L250.45 269.58L251.7 270.02L254.2 271.33L256.95 272.21L257.55 272.65L257.85 273.15L257.98 273.9L257.79 274.9L257.39 275.65L256.7 276.36L251.45 279.7L248.95 280.85L246.7 281.46L243.45 281.81L239.7 282.47L237.7 282.57L234.2 282.46L231.95 282.67M247.2 235.91L245.2 235.87L243.45 235.58L237.95 234.31L236.7 233.85L235.7 233.3L234.44 232.15L233.98 231.4L233.61 230.4L233.49 228.65L233.67 227.9L234.05 227.15L235.16 225.9L236.96 224.4L238.44 223.4L239.7 222.76L242.45 221.91L247.2 221.33L248.95 221.34L252.7 221.7L256.2 222.41L257.45 222.91L258.71 223.65L260.03 224.65L260.98 225.65L261.53 226.65L261.8 227.65L261.84 228.65L261.66 229.65L260.84 231.15L258.89 232.9L256.7 234.32L254.2 235.26L251.7 235.68L247.2 235.91M232.45 282.9L229.45 283.08L224.45 282.79L215.95 281.43L214.07 280.9L210.7 279.59L207.95 278.79L207.03 278.15L206.72 277.65L206.67 277.15L206.85 276.65L207.8 275.15L208.54 272.9L209.2 272.18L209.95 271.72L211.57 271.15L215.2 270.31L222.95 268.98L224.7 269L229.45 269.58L234.45 268.93L237.45 268.85L239.7 269.14L242.7 270.04L243.7 270.17L245.2 269.99L248.7 269.11L250.45 269L251.7 269.27L254.6 270.65L257.45 271.34L258.19 271.9L258.48 272.4L258.68 273.4L258.57 274.4L258.19 275.4L257.45 276.36L256.45 277.1L251.83 279.9L249.95 280.82L246.95 281.72L243.7 282.1L240.2 282.7L237.95 282.84L234.2 282.77L232.45 282.9M247.95 236.16L245.7 236.19L243.7 235.94L237.95 234.68L236.7 234.27L235.44 233.65L233.94 232.4L233.44 231.65L233.02 230.65L232.83 229.65L232.84 228.65L233.38 227.15L234.48 225.9L236.32 224.4L237.95 223.28L239.45 222.52L242.2 221.67L247.2 221.05L248.95 221.05L252.2 221.33L256.2 222.1L257.45 222.57L258.93 223.4L260.3 224.4L261.29 225.4L261.76 226.15L262.12 227.15L262.25 228.15L262.18 229.15L261.88 230.15L261.47 230.9L260.04 232.4L257.2 234.31L254.95 235.28L252.2 235.88L247.95 236.16M232.95 283.16L229.45 283.35L224.45 283.07L215.45 281.71L210.95 280.28L208.32 279.65L207.2 279.19L206.41 278.65L205.75 277.9L205.56 277.4L205.59 276.65L207.77 272.9L208.46 272.15L209.45 271.53L211.2 270.92L215.2 269.99L222.7 268.72L224.45 268.7L229.45 269.23L234.45 268.64L237.45 268.57L239.7 268.84L242.7 269.64L243.95 269.79L245.45 269.58L249.7 268.41L251.45 268.26L252.7 268.5L254.7 269.29L257.45 270.01L258.45 270.66L259.12 271.65L259.35 272.9L259.23 274.15L258.82 275.4L258.14 276.4L256.86 277.4L250.7 280.89L248.95 281.54L247.2 282L240.7 282.94L238.2 283.13L232.95 283.16M248.95 236.42L245.95 236.53L243.7 236.28L237.7 235.03L236.2 234.52L234.95 233.91L233.37 232.65L232.83 231.9L232.37 230.9L232.15 229.9L232.13 228.9L232.33 227.9L232.67 227.15L233.46 226.15L234.95 224.9L237.2 223.3L238.95 222.36L240.45 221.78L241.95 221.39L246.95 220.76L248.95 220.73L251.95 220.96L256.2 221.74L257.45 222.18L258.7 222.81L260.34 223.9L261.47 224.9L262.04 225.65L262.49 226.65L262.69 227.65L262.7 228.65L262.52 229.65L262.1 230.65L260.91 232.15L257.95 234.21L255.2 235.48L252.7 236.1L248.95 236.42M229.95 283.65L223.7 283.31L217.2 282.47L214.95 282.02L210.95 280.83L208.2 280.19L206.45 279.42L205.15 278.4L204.55 277.4L204.57 276.4L205.19 275.15L206.81 272.9L207.89 271.9L208.95 271.3L210.7 270.69L214.95 269.7L222.45 268.43L224.2 268.38L229.45 268.85L234.2 268.34L237.45 268.27L239.45 268.47L242.95 269.28L244.2 269.37L246.5 268.9L251.2 267.21L253.2 267.03L255.2 267.34L256.95 268.07L258.7 269.34L259.65 270.65L259.98 271.9L259.96 273.4L259.55 275.15L258.89 276.4L258.2 277.11L257.44 277.65L251.2 281.1L249.45 281.75L247.45 282.29L240.7 283.26L229.95 283.65M247.95 236.91L246.2 236.96L244.45 236.84L238.45 235.74L235.95 235.02L233.95 234.05L233.08 233.4L232.37 232.65L231.87 231.9L231.43 230.9L231.24 229.9L231.26 228.9L231.47 227.9L231.93 226.9L232.76 225.9L234 224.9L236.7 223.04L238.7 221.98L241.7 221.03L246.95 220.36L248.95 220.32L251.95 220.52L256.45 221.34L257.7 221.76L259.2 222.51L261.2 223.84L262.2 224.77L262.8 225.65L263.12 226.4L263.33 227.4L263.33 228.65L263.05 229.9L262.59 230.9L261.95 231.81L261.2 232.57L258.2 234.52L256.7 235.28L254.95 235.95L252.2 236.57L247.95 236.91M204.2 274.42L205.69 272.65L206.63 271.9L207.95 271.14L210.45 270.3L216.2 268.99L222.95 267.99L229.2 268.39L236.2 267.86L238.95 268L242.95 268.75L244.45 268.83L245.7 268.61L247.03 268.15L250.95 266.09L252.95 265.71L254.45 265.75L255.7 265.99L256.95 266.48L258.2 267.27L259.45 268.39L260.19 269.4L260.59 270.4L260.79 271.65L260.67 273.65L260.15 275.65L259.44 276.9L258.2 277.97L252.45 281.07L250.2 281.99L247.2 282.77L241.2 283.61L238.2 283.83L228.7 284.02L223.2 283.67L218.2 283.14L214.95 282.54L207.95 280.75L206.02 279.9L204.2 278.65M249.95 237.41L246.2 237.63L242.95 237.33L237.2 236.24L235.2 235.6L233.45 234.79L232.45 234.14L231.4 233.15L230.66 232.15L230.19 231.15L230 230.15L230.03 229.15L230.32 227.9L230.75 226.9L231.47 225.9L232.61 224.9L235.7 222.85L237.7 221.75L239.45 221.05L241.2 220.56L246.45 219.83L248.7 219.74L251.7 219.88L254.2 220.2L256.7 220.7L258.2 221.18L259.45 221.75L261.45 222.95L262.67 223.9L263.53 224.9L264.04 225.9L264.31 226.9L264.36 228.15L264.14 229.4L263.76 230.4L263.03 231.65L262.2 232.65L261.2 233.51L259.95 234.3L255.95 236.22L253.2 237.03L249.95 237.41M204.2 272.26L206.5 270.9L208.95 270.02L216.2 268.35L221.95 267.49L224.2 267.42L228.95 267.73L233.7 267.37L236.95 267.3L239.7 267.51L243.45 268.07L244.95 268L246.7 267.38L249.2 265.55L250.45 264.88L251.95 264.46L253.95 264.28L255.45 264.42L256.95 264.9L258.45 265.72L259.93 266.9L260.81 267.9L261.36 268.9L261.71 270.15L261.82 271.65L261.67 273.9L261.23 275.9L260.64 277.15L259.7 278.18L258.45 278.97L252.2 281.96L249.45 282.86L246.45 283.48L239.7 284.31L230.45 284.55L227.2 284.51L220.2 284.03L215.95 283.46L208.2 281.64L206.45 281.02L204.2 279.87M247.95 238.91L246.2 238.99L243.45 238.77L238.2 237.76L236.2 237.24L234.2 236.52L231.57 235.15L230.45 234.25L229.4 233.15L228.7 232.15L228.31 231.15L228.21 230.15L228.39 228.9L228.9 227.4L229.57 226.15L230.45 225.1L231.7 224.1L235.2 221.97L237.2 220.97L238.95 220.31L240.95 219.78L246.7 218.96L249.2 218.89L252.45 219.04L255.7 219.49L257.95 219.96L259.7 220.59L261.95 221.77L263.45 222.76L264.43 223.65L265.21 224.65L265.8 225.9L266.03 227.15L265.91 228.65L265.5 229.9L264.84 231.15L263.55 232.9L262.45 234.07L261.45 234.83L260.2 235.51L254.7 237.81L252.7 238.33L247.95 238.91M242.2 252.66L240.7 252.89L239.62 252.65L237.11 250.9L236.71 250.4L236.75 250.15L236.97 249.9L240 248.15L241.2 247.94L242.29 248.15L242.95 248.6L243.37 249.15L244.32 250.9L244.56 251.65L244.2 251.98L242.2 252.66M253.95 255.94L252.95 255.88L252.2 255.35L251.53 254.4L250.46 252.4L250.27 251.65L250.35 251.15L250.7 250.61L251.45 250.1L252.7 249.89L253.95 250.29L254.78 251.15L255.7 252.83L255.91 253.9L255.66 254.65L254.95 255.43L253.95 255.94M204.2 270.6L206.2 269.79L208.2 269.2L216.7 267.25L221.7 266.54L223.95 266.47L228.7 266.76L233.2 266.47L236.95 266.42L242.95 266.89L244.2 266.84L244.95 266.64L245.8 266.15L248.2 263.75L249.7 262.78L251.45 262.34L254.45 262.09L256.45 262.51L258.7 263.56L260.45 264.85L261.95 266.46L262.65 267.65L263.11 269.15L263.34 274.15L263.16 276.15L262.53 277.65L261.46 278.9L259.95 279.89L253.7 282.46L250.45 283.51L246.95 284.26L241.45 284.95L237.2 285.21L228.7 285.34L218.7 284.78L215.2 284.26L208.2 282.73L206.7 282.29L204.2 281.25M204.2 269.29L206.7 268.48L211.53 267.4L214.09 266.65L216.63 265.65L218.17 264.65L219.28 263.4L219.99 262.15L220.6 258.15L221.12 256.65L221.81 255.4L224.38 252.15L226.59 249.65L228.19 247.15L229.7 245.43L231.37 243.15L232.2 242.37L233.95 241.08L234.8 240.15L235 239.4L234.76 238.9L233.81 238.15L230.7 236.3L228.95 234.92L227.29 233.15L226.54 231.65L226.38 230.65L226.46 229.65L226.79 228.4L227.32 227.15L228.59 225.15L230.45 223.5L235.2 220.78L236.95 220.02L239.2 219.29L241.7 218.75L245.2 218.21L247.45 218.01L250.2 217.98L252.7 218.1L255.95 218.49L257.95 218.85L259.7 219.35L261.95 220.33L264.2 221.62L265.77 222.9L266.84 224.15L267.4 225.15L267.79 226.4L267.88 227.65L267.75 228.65L267.1 230.4L264.65 234.15L264.23 235.4L264.44 236.15L265.56 237.65L266.03 238.65L266.57 242.15L267.81 245.4L268.11 248.15L268.14 252.15L267.87 254.65L267.45 256.28L264.01 263.65L264.02 264.65L264.74 267.9L265.07 271.9L265.72 275.65L265.59 276.65L265.31 277.4L264.85 278.15L263.93 279.15L262.45 280.29L260.45 281.29L256.2 282.8L252.2 284.02L247.45 285.07L239.2 285.97L228.2 286.15L218.2 285.61L215.45 285.25L207.95 283.79L204.2 282.58M231.86 265.15L233.95 264.89L234.86 264.65L235.08 264.4L234.7 264.04L233.62 263.65L231.06 263.15L229.7 263.03L228.7 263.11L227.7 263.43L226.91 263.9L226.54 264.4L226.55 264.65L226.77 264.9L228.2 265.32L229.45 265.39L231.86 265.15M204.2 269.85L207.45 268.77L211.53 267.9L216.95 266.47L220.95 265.76L223.45 265.65L228.7 266.12L236.45 265.73L242.45 265.88L243.72 265.65L244.14 265.4L244.55 264.9L244.85 263.9L244.68 263.15L244.2 262.65L242.45 261.4L240.68 259.15L239.7 258.44L238.7 258.23L237.7 258.25L233.95 259.1L229.7 259.58L228.2 259.61L227.2 259.42L226.2 258.91L225.43 258.15L224.89 257.15L224.74 256.15L224.9 255.15L225.31 254.15L225.95 253.2L226.7 252.44L228.82 250.9L229.7 250.07L231.45 247.83L233.09 245.15L233.7 244.41L238.15 241.15L238.9 240.4L239.09 239.9L238.79 239.4L238.41 239.15L233.45 237.05L231.2 235.84L228.87 233.9L227.58 232.15L227.25 231.15L227.19 230.15L227.34 229.15L227.75 227.9L228.32 226.65L228.96 225.65L229.7 224.81L230.7 223.98L235.2 221.29L236.95 220.48L238.95 219.78L241.2 219.23L244.2 218.74L246.7 218.46L249.2 218.38L251.95 218.46L254.45 218.72L257.45 219.22L259.2 219.7L261.2 220.56L263.45 221.82L264.85 222.9L265.98 224.15L266.85 225.9L267.05 226.9L267.05 227.9L266.62 229.65L265.49 231.65L263.2 234.61L261.95 235.88L260.95 236.45L257.71 237.65L256.32 238.4L255.4 239.15L255.1 239.65L255 240.15L255.14 241.15L255.55 241.9L256.2 242.31L256.95 242.36L257.95 242.02L258.9 241.4L261.7 238.69L262.45 238.42L263.2 238.63L263.69 239.15L263.96 239.9L263.93 242.4L264.1 243.4L264.6 244.4L265.84 246.15L266.37 247.65L266.5 250.15L266.31 251.4L265.95 252.58L265.2 253.97L263.24 256.15L262.56 257.15L261.66 259.65L260.68 261.65L260.69 262.15L260.97 262.9L263.38 266.65L263.84 267.9L264.07 269.15L264.59 274.9L264.54 276.15L263.98 277.65L262.71 279.15L261.45 280.08L259.95 280.82L254.7 282.76L251.45 283.79L246.95 284.75L239.2 285.6L228.2 285.8L218.45 285.26L215.2 284.79L207.95 283.3L204.2 282.01M246.95 239.4L244.95 239.33L242.7 239.05L237.2 237.76L233.2 236.31L230.87 234.9L228.88 232.9L228.27 231.9L227.97 230.9L227.97 229.65L228.27 228.4L228.87 226.9L229.67 225.65L230.7 224.62L232.2 223.56L235.7 221.51L237.95 220.51L241.7 219.49L247.45 218.78L250.2 218.77L252.95 218.94L255.7 219.33L258.2 219.86L259.95 220.51L262.45 221.83L263.95 222.89L264.96 223.9L265.66 224.9L266.15 226.15L266.32 227.4L266.12 228.9L265.65 230.15L264.76 231.65L263.45 233.33L262.2 234.58L260.2 235.77L254.2 238.26L251.95 238.78L246.95 239.4M260.45 247.9L258.51 247.9L257.95 247.72L257.71 247.4L257.91 246.65L258.74 245.65L259.7 245.03L260.45 244.87L260.95 244.97L261.59 245.4L261.98 245.9L262.2 246.65L262.04 247.15L261.81 247.4L261.2 247.72L260.45 247.9M253.95 257.67L252.95 257.8L251.45 257.52L250.64 257.15L249.2 256L248.85 256.15L247.67 257.4L246.95 257.6L246.2 257.54L245.7 257.31L245.27 256.9L244.15 255.15L243.2 254.52L242.45 254.39L239.45 254.43L235.2 253.51L234.45 252.98L233.89 251.9L233.68 250.65L233.92 249.4L234.79 248.15L236.45 246.81L237.95 246.02L239.2 245.82L241.7 245.88L243.95 245.72L244.7 245.83L245.17 246.15L245.45 246.55L246.32 248.65L246.9 249.15L247.7 249.44L248.7 249.43L251.2 248.56L252.45 248.32L254.45 248.33L255.7 248.57L256.18 249.15L256.61 251.15L257.54 253.4L257.58 254.15L257.26 254.9L256.61 255.65L254.95 257.11L253.95 257.67M228.7 256.17L227.95 256.16L227.54 255.65L227.6 254.9L228.2 254.36L228.9 254.4L229.29 254.9L229.22 255.65L228.7 256.17M204.2 270.39L207.45 269.22L215.7 267.29L218.2 266.81L221.7 266.35L223.95 266.29L228.7 266.6L233.2 266.31L236.95 266.25L242.7 266.66L243.95 266.62L244.79 266.4L245.58 265.9L247.95 263.28L249.45 262.06L250.45 261.75L254.45 261.49L256.45 262L258.95 263.24L260.7 264.62L262.27 266.4L262.95 267.65L263.37 269.15L263.65 274.65L263.46 276.4L262.75 277.9L261.59 279.15L259.95 280.15L253.95 282.55L250.95 283.52L247.45 284.31L241.7 285.05L237.7 285.32L228.7 285.47L219.2 284.97L215.7 284.5L207.95 282.84L204.2 281.46M248.45 238.41L246.45 238.53L243.95 238.37L238.7 237.48L235.2 236.54L233.45 235.83L232.2 235.15L230.95 234.21L229.92 233.15L229.22 232.15L228.79 231.15L228.67 230.15L228.83 228.9L229.32 227.4L229.83 226.4L230.7 225.32L231.95 224.3L235.2 222.28L237.7 221.02L241.2 219.95L246.7 219.19L249.2 219.12L252.45 219.28L255.45 219.7L257.7 220.18L259.45 220.81L261.45 221.86L263.05 222.9L264.14 223.9L264.88 224.9L265.33 225.9L265.57 227.15L265.51 228.4L265.17 229.65L264.58 230.9L263.54 232.4L262.45 233.6L260.45 234.99L255.2 237.28L252.45 237.97L248.45 238.41M204.2 270.98L206.45 270L208.7 269.35L216.7 267.53L221.95 266.8L223.95 266.74L228.95 267.02L233.2 266.73L236.95 266.67L242.95 267.21L244.45 267.18L245.95 266.61L248.45 264.37L249.95 263.49L251.95 262.98L254.45 262.79L256.2 263.09L257.95 263.8L259.7 264.91L261.2 266.29L262.02 267.4L262.56 268.65L262.83 270.15L262.9 272.15L262.81 274.9L262.51 276.4L261.74 277.9L260.7 278.94L259.2 279.81L252.7 282.55L249.7 283.47L246.95 284.03L240.95 284.79L236.95 285L228.2 285.13L220.2 284.68L215.7 284.11L208.45 282.51L206.7 281.99L204.2 280.9M248.2 237.9L246.2 237.99L243.95 237.83L237.95 236.8L234.7 235.82L232.45 234.67L231.47 233.9L230.54 232.9L229.88 231.9L229.51 230.9L229.41 229.9L229.58 228.65L229.98 227.4L230.51 226.4L231.37 225.4L232.66 224.4L235.95 222.32L237.95 221.32L239.45 220.76L241.45 220.24L246.95 219.51L249.45 219.48L252.45 219.66L254.95 220.02L257.45 220.56L258.95 221.1L260.7 222.01L262.45 223.14L263.56 224.15L264.26 225.15L264.68 226.15L264.88 227.4L264.79 228.65L264.44 229.9L263.82 231.15L262.92 232.4L261.95 233.39L259.7 234.82L257.2 236.02L255.2 236.81L252.45 237.48L248.2 237.9M204.2 271.64L206.45 270.5L208.7 269.76L216.2 268.04L221.95 267.2L223.95 267.13L228.95 267.43L233.45 267.09L236.95 267.03L239.7 267.22L243.2 267.7L244.7 267.67L245.69 267.4L246.45 267.02L248.95 265.02L250.2 264.33L251.95 263.85L254.2 263.66L255.7 263.83L257.45 264.45L258.95 265.33L260.45 266.58L261.33 267.65L261.85 268.65L262.17 269.9L262.29 271.65L262.15 274.15L261.82 275.9L261.15 277.4L260.2 278.46L258.7 279.37L252.45 282.2L249.7 283.09L246.7 283.72L240.7 284.49L236.95 284.67L228.2 284.8L219.95 284.3L215.7 283.72L208.2 282L206.7 281.51L204.2 280.34" fill="none" stroke="#111" stroke-width="0.62" stroke-linejoin="round"/>
<path d="M274.14 255.09h.7M249.94 287.89h.7M245.38 294.27h.7M267.48 224.99h.7M254.02 217.6h.7M271.47 258.45h.7M209.11 285.67h.7M265.89 213.14h.7M246.15 297.88h.7M258.21 283.51h.7M278.43 236.34h.7M268.64 234.85h.7M222.74 232.19h.7M209.43 260.85h.7M234.34 264.63h.7M276.48 219.86h.7M239.62 217.75h.7M259.44 299.27h.7M223.28 241.59h.7M260.93 292.51h.7M216.83 258.83h.7M260.2 282.2h.7M278.62 223.92h.7M225.33 247.2h.7M220.69 253.64h.7M247.18 217.58h.7M265.67 285.61h.7M267.12 237.65h.7M266.11 232.82h.7M231.09 264.3h.7M241.57 218.52h.7M267.83 226.07h.7M274.4 262.55h.7M222.51 234.35h.7M225.44 246.33h.7M226.21 234.66h.7M260.65 291.9h.7M225.39 223.38h.7M270.16 277.47h.7M221.57 249.59h.7M259.4 282.21h.7M226.59 232.62h.7M220.51 257.88h.7M262.67 216.33h.7M269.85 250.67h.7M263.51 281.21h.7M267.6 256.49h.7M268.53 226.5h.7M268.81 250.47h.7M216.87 260.15h.7M225.63 230.31h.7M248.25 207.39h.7M205.28 287.05h.7M256.97 218.25h.7M231.6 239.83h.7M235.02 263.81h.7M217.75 255.65h.7M213.19 266.65h.7M245.34 285.32h.7M217.2 286.95h.7M266.45 273.11h.7M240.97 287.19h.7M231.24 238.05h.7M223.13 249.74h.7M275.03 242.98h.7M243.39 217.55h.7M240.25 218.46h.7M277.69 270.18h.7M225.73 228.22h.7M232.69 264.32h.7M261.38 293h.7M226.7 226.42h.7M266.09 276.71h.7M272.02 268.55h.7M242.25 286.44h.7M269.57 236.97h.7M223.2 230.19h.7M266.93 273.52h.7M278.16 271.66h.7M245.1 285.48h.7" stroke="#888" stroke-width="0.7"/>
<path d="M60.1 323.7L60.1 269" stroke="#111" stroke-width="1.5"/>
<path d="M57.9 270L60.1 265.6L62.3 270Z" fill="#111"/>
<path d="M60.1 323.7L114 323.7" stroke="#111" stroke-width="1.5"/>
<path d="M113.5 321.5L117.8 323.7L113.5 325.9Z" fill="#111"/>
<text x="52.2" y="293.5" font-size="9.5" text-anchor="middle" transform="rotate(-90 52.2 293.5)">Fc&#947;RIII</text>
<text x="78.6" y="336.3" font-size="9.3">CD34</text>
<text x="171.6" y="389.2" font-size="10.85">Gated on Lin<tspan font-size="6.5" dy="-3.6">&#8722;</tspan></text>
<path d="M86.5 396.5L324.8 396.5" stroke="#333" stroke-width="1.3"/>
<text x="135.1" y="418.8" font-size="11" text-anchor="middle">Empty-RV</text>
<text x="254.4" y="418.8" font-size="10.8" text-anchor="middle">miR-139T-RV</text>
<text x="28.9" y="482.4" font-size="10.6">GFP<tspan font-size="6" dy="-3.2" dx="0.6">+</tspan></text>
<text x="29.2" y="595.6" font-size="10.6">GFP<tspan font-size="6.5" dy="-3" dx="0.6">&#8722;</tspan></text>
<rect x="80.5" y="424.5" width="109" height="110" fill="none" stroke="#666" stroke-width="0.9"/>
<path d="M80.5 434.3h-3M80.5 457.2h-3M80.5 480.2h-3M80.5 516h-3M80.5 450.31h-1.8M80.5 446.27h-1.8M80.5 443.41h-1.8M80.5 441.19h-1.8M80.5 439.38h-1.8M80.5 437.85h-1.8M80.5 436.52h-1.8M80.5 435.35h-1.8M80.5 473.28h-1.8M80.5 469.23h-1.8M80.5 466.35h-1.8M80.5 464.12h-1.8M80.5 462.3h-1.8M80.5 460.76h-1.8M80.5 459.43h-1.8M80.5 458.25h-1.8M80.5 480.2h-1.8M80.5 485.11h-1.8M80.5 490.02h-1.8M80.5 494.93h-1.8M80.5 499.84h-1.8M80.5 504.75h-1.8M80.5 509.65h-1.8M80.5 514.56h-1.8M80.5 519.47h-1.8M80.5 524.38h-1.8M80.5 529.29h-1.8M80.5 534.2h-1.8M107 534.2v3.2M130.5 534.2v3.2M155.6 534.2v3.2M178.5 534.2v3.2M138.06 534.2v2M142.48 534.2v2M145.61 534.2v2M148.04 534.2v2M150.03 534.2v2M151.71 534.2v2M153.17 534.2v2M154.45 534.2v2M162.49 534.2v2M166.53 534.2v2M169.39 534.2v2M171.61 534.2v2M173.42 534.2v2M174.95 534.2v2M176.28 534.2v2M177.45 534.2v2M80.5 534.2v2M85.05 534.2v2M89.59 534.2v2M94.14 534.2v2M98.68 534.2v2M103.23 534.2v2M107.77 534.2v2M112.32 534.2v2M116.86 534.2v2M121.41 534.2v2M125.95 534.2v2M130.5 534.2v2" stroke="#444" stroke-width="0.8"/>
<path d="M102 535.7H112" stroke="#222" stroke-width="1.8" stroke-dasharray="1.3 1.1"/>
<text x="76.9" y="436.6" font-size="6.2" text-anchor="end">10<tspan font-size="3.8" dy="-1.6">5</tspan></text>
<text x="76.9" y="459.5" font-size="6.2" text-anchor="end">10<tspan font-size="3.8" dy="-1.6">4</tspan></text>
<text x="76.9" y="482.5" font-size="6.2" text-anchor="end">10<tspan font-size="3.8" dy="-1.6">3</tspan></text>
<text x="76.1" y="518" font-size="6.2" text-anchor="end">0</text>
<text x="107" y="544.6" font-size="6.2" text-anchor="middle">0</text>
<text x="126.7" y="544.8" font-size="6.2">10<tspan font-size="3.8" dy="-1.6">3</tspan></text>
<text x="151.8" y="544.8" font-size="6.2">10<tspan font-size="3.8" dy="-1.6">4</tspan></text>
<text x="174.7" y="544.8" font-size="6.2">10<tspan font-size="3.8" dy="-1.6">5</tspan></text>
<rect x="208.5" y="424.5" width="109" height="110" fill="none" stroke="#666" stroke-width="0.9"/>
<path d="M208.8 434.3h-3M208.8 457.2h-3M208.8 480.2h-3M208.8 516h-3M208.8 450.31h-1.8M208.8 446.27h-1.8M208.8 443.41h-1.8M208.8 441.19h-1.8M208.8 439.38h-1.8M208.8 437.85h-1.8M208.8 436.52h-1.8M208.8 435.35h-1.8M208.8 473.28h-1.8M208.8 469.23h-1.8M208.8 466.35h-1.8M208.8 464.12h-1.8M208.8 462.3h-1.8M208.8 460.76h-1.8M208.8 459.43h-1.8M208.8 458.25h-1.8M208.8 480.2h-1.8M208.8 485.11h-1.8M208.8 490.02h-1.8M208.8 494.93h-1.8M208.8 499.84h-1.8M208.8 504.75h-1.8M208.8 509.65h-1.8M208.8 514.56h-1.8M208.8 519.47h-1.8M208.8 524.38h-1.8M208.8 529.29h-1.8M208.8 534.2h-1.8M235.5 534.2v3.2M260.5 534.2v3.2M284.2 534.2v3.2M307 534.2v3.2M267.63 534.2v2M271.81 534.2v2M274.77 534.2v2M277.07 534.2v2M278.94 534.2v2M280.53 534.2v2M281.9 534.2v2M283.12 534.2v2M291.06 534.2v2M295.08 534.2v2M297.93 534.2v2M300.14 534.2v2M301.94 534.2v2M303.47 534.2v2M304.79 534.2v2M305.96 534.2v2M208.8 534.2v2M213.5 534.2v2M218.2 534.2v2M222.9 534.2v2M227.6 534.2v2M232.3 534.2v2M237 534.2v2M241.7 534.2v2M246.4 534.2v2M251.1 534.2v2M255.8 534.2v2M260.5 534.2v2" stroke="#444" stroke-width="0.8"/>
<path d="M230.5 535.7H240.5" stroke="#222" stroke-width="1.8" stroke-dasharray="1.3 1.1"/>
<text x="205.2" y="436.6" font-size="6.2" text-anchor="end">10<tspan font-size="3.8" dy="-1.6">5</tspan></text>
<text x="205.2" y="459.5" font-size="6.2" text-anchor="end">10<tspan font-size="3.8" dy="-1.6">4</tspan></text>
<text x="205.2" y="482.5" font-size="6.2" text-anchor="end">10<tspan font-size="3.8" dy="-1.6">3</tspan></text>
<text x="204.4" y="518" font-size="6.2" text-anchor="end">0</text>
<text x="235.5" y="544.6" font-size="6.2" text-anchor="middle">0</text>
<text x="256.7" y="544.8" font-size="6.2">10<tspan font-size="3.8" dy="-1.6">3</tspan></text>
<text x="280.4" y="544.8" font-size="6.2">10<tspan font-size="3.8" dy="-1.6">4</tspan></text>
<text x="303.2" y="544.8" font-size="6.2">10<tspan font-size="3.8" dy="-1.6">5</tspan></text>
<rect x="77.5" y="551.5" width="109" height="108" fill="none" stroke="#666" stroke-width="0.9"/>
<path d="M77.7 560.4h-3M77.7 583.5h-3M77.7 606.5h-3M77.7 641h-3M77.7 576.55h-1.8M77.7 572.48h-1.8M77.7 569.59h-1.8M77.7 567.35h-1.8M77.7 565.52h-1.8M77.7 563.98h-1.8M77.7 562.64h-1.8M77.7 561.46h-1.8M77.7 599.58h-1.8M77.7 595.53h-1.8M77.7 592.65h-1.8M77.7 590.42h-1.8M77.7 588.6h-1.8M77.7 587.06h-1.8M77.7 585.73h-1.8M77.7 584.55h-1.8M77.7 606.5h-1.8M77.7 611.31h-1.8M77.7 616.12h-1.8M77.7 620.93h-1.8M77.7 625.74h-1.8M77.7 630.55h-1.8M77.7 635.35h-1.8M77.7 640.16h-1.8M77.7 644.97h-1.8M77.7 649.78h-1.8M77.7 654.59h-1.8M77.7 659.4h-1.8M103.7 659.4v3.2M128.3 659.4v3.2M153.8 659.4v3.2M177 659.4v3.2M135.98 659.4v2M140.47 659.4v2M143.65 659.4v2M146.12 659.4v2M148.14 659.4v2M149.85 659.4v2M151.33 659.4v2M152.63 659.4v2M160.78 659.4v2M164.87 659.4v2M167.77 659.4v2M170.02 659.4v2M171.85 659.4v2M173.41 659.4v2M174.75 659.4v2M175.94 659.4v2M77.7 659.4v2M82.3 659.4v2M86.9 659.4v2M91.5 659.4v2M96.1 659.4v2M100.7 659.4v2M105.3 659.4v2M109.9 659.4v2M114.5 659.4v2M119.1 659.4v2M123.7 659.4v2M128.3 659.4v2" stroke="#444" stroke-width="0.8"/>
<path d="M98.7 660.9H108.7" stroke="#222" stroke-width="1.8" stroke-dasharray="1.3 1.1"/>
<text x="74.1" y="562.7" font-size="6.2" text-anchor="end">10<tspan font-size="3.8" dy="-1.6">5</tspan></text>
<text x="74.1" y="585.8" font-size="6.2" text-anchor="end">10<tspan font-size="3.8" dy="-1.6">4</tspan></text>
<text x="74.1" y="608.8" font-size="6.2" text-anchor="end">10<tspan font-size="3.8" dy="-1.6">3</tspan></text>
<text x="73.3" y="643" font-size="6.2" text-anchor="end">0</text>
<text x="103.7" y="669.8" font-size="6.2" text-anchor="middle">0</text>
<text x="124.5" y="670" font-size="6.2">10<tspan font-size="3.8" dy="-1.6">3</tspan></text>
<text x="150" y="670" font-size="6.2">10<tspan font-size="3.8" dy="-1.6">4</tspan></text>
<text x="173.2" y="670" font-size="6.2">10<tspan font-size="3.8" dy="-1.6">5</tspan></text>
<rect x="208.5" y="553.5" width="108" height="109" fill="none" stroke="#666" stroke-width="0.9"/>
<path d="M208.6 563h-3M208.6 586.6h-3M208.6 609.7h-3M208.6 643.7h-3M208.6 579.5h-1.8M208.6 575.34h-1.8M208.6 572.39h-1.8M208.6 570.1h-1.8M208.6 568.24h-1.8M208.6 566.66h-1.8M208.6 565.29h-1.8M208.6 564.08h-1.8M208.6 602.75h-1.8M208.6 598.68h-1.8M208.6 595.79h-1.8M208.6 593.55h-1.8M208.6 591.72h-1.8M208.6 590.18h-1.8M208.6 588.84h-1.8M208.6 587.66h-1.8M208.6 609.7h-1.8M208.6 614.52h-1.8M208.6 619.34h-1.8M208.6 624.15h-1.8M208.6 628.97h-1.8M208.6 633.79h-1.8M208.6 638.61h-1.8M208.6 643.43h-1.8M208.6 648.25h-1.8M208.6 653.06h-1.8M208.6 657.88h-1.8M208.6 662.7h-1.8M234.6 662.7v3.2M258.9 662.7v3.2M284 662.7v3.2M306.9 662.7v3.2M266.46 662.7v2M270.88 662.7v2M274.01 662.7v2M276.44 662.7v2M278.43 662.7v2M280.11 662.7v2M281.57 662.7v2M282.85 662.7v2M290.89 662.7v2M294.93 662.7v2M297.79 662.7v2M300.01 662.7v2M301.82 662.7v2M303.35 662.7v2M304.68 662.7v2M305.85 662.7v2M208.6 662.7v2M213.17 662.7v2M217.75 662.7v2M222.32 662.7v2M226.89 662.7v2M231.46 662.7v2M236.04 662.7v2M240.61 662.7v2M245.18 662.7v2M249.75 662.7v2M254.33 662.7v2M258.9 662.7v2" stroke="#444" stroke-width="0.8"/>
<path d="M229.6 664.2H239.6" stroke="#222" stroke-width="1.8" stroke-dasharray="1.3 1.1"/>
<text x="205" y="565.3" font-size="6.2" text-anchor="end">10<tspan font-size="3.8" dy="-1.6">5</tspan></text>
<text x="205" y="588.9" font-size="6.2" text-anchor="end">10<tspan font-size="3.8" dy="-1.6">4</tspan></text>
<text x="205" y="612" font-size="6.2" text-anchor="end">10<tspan font-size="3.8" dy="-1.6">3</tspan></text>
<text x="204.2" y="645.7" font-size="6.2" text-anchor="end">0</text>
<text x="234.6" y="673.1" font-size="6.2" text-anchor="middle">0</text>
<text x="255.1" y="673.3" font-size="6.2">10<tspan font-size="3.8" dy="-1.6">3</tspan></text>
<text x="280.2" y="673.3" font-size="6.2">10<tspan font-size="3.8" dy="-1.6">4</tspan></text>
<text x="303.1" y="673.3" font-size="6.2">10<tspan font-size="3.8" dy="-1.6">5</tspan></text>
<path d="M150.55 514.06h0.7M145.19 497.16h0.7M141.07 513.19h0.7M108.17 501.09h0.7M114.22 528.89h0.7M114.28 518.69h0.7M109.13 492.12h0.7M104.85 471.28h0.7M127.76 523.37h0.7M129.42 501.7h0.7M99.95 528.57h0.7M137.15 515.74h0.7M125.04 521.01h0.7M146.89 481.47h0.7M103.7 479.52h0.7M115.53 526.78h0.7M136.85 494.41h0.7M118.43 507.28h0.7M135.52 486.68h0.7M133.01 501.98h0.7M142.47 518.88h0.7M102.55 526.06h0.7M107.7 517.21h0.7M145.97 505.94h0.7M130.54 498.69h0.7M115.28 525.27h0.7M139.62 502.16h0.7M139.42 513.8h0.7M113.57 502.04h0.7M131.61 504.92h0.7M129.14 499.3h0.7M141.03 507.6h0.7M124.2 505.26h0.7M139.32 483.96h0.7M143.99 455.1h0.7M136.74 485.66h0.7M146.16 477.68h0.7M148.93 504.8h0.7M113.21 511.04h0.7M114.09 522.97h0.7M129.18 461.35h0.7M118.84 496.75h0.7M149.18 515.81h0.7M113.66 495.82h0.7M111.82 521.26h0.7M100.37 499.02h0.7M152.89 524.31h0.7M131.09 498.62h0.7M114.81 501.63h0.7M116.53 518.32h0.7M145.29 506.08h0.7M104.51 510.49h0.7M99.02 487.8h0.7M146.14 453.03h0.7M111.66 527.97h0.7M116.63 492.76h0.7M132.93 518.03h0.7M128.94 519.01h0.7M99.51 532.85h0.7M149.5 469.58h0.7M105.01 515.85h0.7M124.67 518.98h0.7M112.07 522.15h0.7M100.88 492.12h0.7M112.3 516.96h0.7M101.87 513.4h0.7M109.31 523.35h0.7M131.09 519.93h0.7M112.71 512.4h0.7M119.26 531.16h0.7M106.63 502.44h0.7M133.82 491.39h0.7M129.49 500.92h0.7M145 521.07h0.7M114.98 490.77h0.7M143.66 473.94h0.7M144.5 489.75h0.7M142.07 504.76h0.7M127.04 503.93h0.7M146.66 470.58h0.7M145.97 489.52h0.7M134.57 491.84h0.7M138.22 502.08h0.7M142.67 523.07h0.7M136.87 514.01h0.7M112.69 526.46h0.7M148.97 492.4h0.7M114.91 492.52h0.7M138.76 531.25h0.7M121.03 525.87h0.7M142.54 485.99h0.7M142.26 508.35h0.7M146.18 482.93h0.7M146.28 485.69h0.7M141.33 509.18h0.7M148.21 531.48h0.7M105.84 531.45h0.7M102.32 524.36h0.7M108.72 505.49h0.7M113.39 529.04h0.7M119.73 507.52h0.7M117.09 503.45h0.7M151.7 489.35h0.7M140.74 503.9h0.7M147.52 510.43h0.7M149.8 507.94h0.7M146.33 503.19h0.7M112.99 498.22h0.7M86.12 436.44h0.7M121.32 527.62h0.7M149.58 524.89h0.7M104.44 526.33h0.7M126.36 505.06h0.7M98.73 495.19h0.7M127.52 513.11h0.7M137.69 529.2h0.7M155.58 520.46h0.7M140.68 530.99h0.7M139.66 454.29h0.7M113.79 478.89h0.7M141.3 528.39h0.7M133.37 498.36h0.7M115.32 498.34h0.7M103.31 503.99h0.7M128.06 475.86h0.7M132.33 451.73h0.7M101.73 525.11h0.7M105.78 495.73h0.7M115.85 500.86h0.7M138.84 525.33h0.7M132.66 528.86h0.7M139.71 503.75h0.7M101.43 522.04h0.7M131.04 517.97h0.7M103.65 447.16h0.7M137.27 500.29h0.7M138.39 465.35h0.7M143.73 497.03h0.7M117.46 521.12h0.7M91.58 476.9h0.7M148.87 499.17h0.7M99.54 459.72h0.7M116.1 529.31h0.7M103.6 467.24h0.7M121.39 493.92h0.7M141.76 512.77h0.7M117.01 502.4h0.7M113.26 503.35h0.7M96.95 526.41h0.7M150.61 521.47h0.7M103.75 523.65h0.7M131.69 504.84h0.7M135.67 518.91h0.7M115.05 494.19h0.7M109.39 465.7h0.7M97 463.43h0.7M119.63 525h0.7M154.09 493.09h0.7M112.71 457.4h0.7M120.18 490.45h0.7M124.13 510.61h0.7M110.78 531.39h0.7M132.72 500.96h0.7M146.2 491.54h0.7M108.81 529.93h0.7M119.35 509.77h0.7M131.77 490.92h0.7M98.94 505.49h0.7M120.67 495.95h0.7M117.03 488.79h0.7M142.72 497.98h0.7M109.94 478h0.7M134.09 500.09h0.7M112.78 499.16h0.7M122.46 477.3h0.7M113.12 462.47h0.7M134 504.38h0.7M135.04 493.96h0.7M110.46 506.61h0.7M107.29 474.86h0.7M147.93 524.66h0.7M154.07 509.41h0.7M137.34 511.55h0.7M106.94 523.79h0.7M97.71 454.72h0.7M143.99 496.01h0.7M134.91 507.07h0.7M124.42 530.6h0.7M106.02 524.54h0.7M138.95 522.74h0.7M115.74 508.89h0.7M108.07 515.63h0.7M145.51 476.54h0.7M112.06 526.61h0.7M146.49 520.05h0.7M123.33 505.17h0.7M141.28 495.86h0.7M106.31 514.92h0.7M107.9 505.66h0.7M124.46 513.01h0.7M104.05 529.47h0.7M114.77 496.55h0.7M138.93 497.87h0.7M105.36 498.61h0.7M141.43 492.22h0.7M136.7 494.69h0.7M113.86 479.12h0.7M143.34 456.88h0.7M144.08 519.13h0.7M144.08 526.39h0.7M150.88 505.53h0.7M114.94 532.03h0.7M151.27 501.47h0.7M106.42 502.02h0.7M117.23 463.03h0.7M100.95 507.4h0.7M141.67 509.77h0.7M123.34 530.76h0.7M105.19 472.72h0.7M132.53 509.83h0.7M141.99 511.59h0.7M113.9 513.75h0.7M144.17 493.42h0.7M103.15 506.48h0.7M109.37 521.05h0.7M137.15 530.63h0.7M146.79 487.17h0.7M145.66 522.72h0.7M141.97 518.68h0.7M141.49 469.96h0.7M115.43 521.4h0.7M128.84 528.46h0.7M139.68 504.42h0.7M122.97 500.22h0.7M134.57 531.12h0.7M108.78 525.13h0.7M153.08 496.12h0.7M148.69 494.47h0.7M143.79 519.46h0.7M153.66 494.72h0.7M136.9 518.19h0.7M111.45 493.1h0.7M142.66 491.83h0.7M152.35 488.48h0.7M142.04 529.89h0.7M140.39 491.82h0.7M148.01 458.67h0.7M93.16 462.99h0.7M115.44 512.54h0.7M154.49 490.38h0.7M98.72 467.27h0.7M133 527.08h0.7M144.98 491.8h0.7M104.01 445.1h0.7M117 501.1h0.7M136.79 513.39h0.7M111.66 435.01h0.7M144.96 513.16h0.7M129.8 526.44h0.7M133.48 491.75h0.7M111.51 521.6h0.7M143.75 489.08h0.7M114.86 531.44h0.7M122.53 489.54h0.7M131.26 496.87h0.7M135.93 512.02h0.7M143.55 501.74h0.7M104.49 508.91h0.7M142.55 495.9h0.7M153.95 507.65h0.7M122.78 506.34h0.7M152.95 486.66h0.7M122.2 479.18h0.7M100.45 500.18h0.7M133.49 516.59h0.7M117.59 467.13h0.7M142.86 504.13h0.7M148.98 524.23h0.7M106.88 514.99h0.7M133.24 485.77h0.7M123.87 484.44h0.7M139.87 490.16h0.7M149.28 511.1h0.7M142.86 511.72h0.7M105.27 530.57h0.7M108.63 488.79h0.7M126.2 510.77h0.7M143.93 489.24h0.7M142.63 487.32h0.7M144.36 526.1h0.7M110.67 509.72h0.7M110.09 516.31h0.7M139.67 497.98h0.7M141.21 498.4h0.7M152.09 500.97h0.7M151.65 512.71h0.7M144.22 521.82h0.7M141.6 487.69h0.7M122.76 506.38h0.7M148.4 518.78h0.7M123.08 521.29h0.7M143.75 521.16h0.7M135.73 499.28h0.7M122.54 502.49h0.7M115.9 530.75h0.7M103.32 513.48h0.7M144.91 454.62h0.7M139.31 526.15h0.7M138.26 501.51h0.7M140.37 498.95h0.7M136.59 502.86h0.7M145.83 473.33h0.7M119.89 510.46h0.7M98.71 441.86h0.7M104.83 474.59h0.7M115.65 529.83h0.7M144.63 488.73h0.7M105.01 512.87h0.7M130.67 492.88h0.7M129.2 518.16h0.7M142.62 532.59h0.7M120.38 514.71h0.7M130.29 508.72h0.7M113.23 492.68h0.7M135.2 504h0.7M142.92 490.04h0.7M100.61 500.19h0.7M110.89 518.23h0.7M152.28 526.28h0.7M149.94 460.37h0.7M117.54 520.82h0.7M143.1 482.35h0.7M112.86 448.45h0.7M133.99 528.47h0.7M118.6 532.62h0.7M107.48 488.15h0.7M139.94 487.32h0.7M149.31 491.82h0.7M108.54 530.64h0.7M109.57 508.62h0.7M99.62 531.28h0.7M101.32 458.51h0.7M126.81 520.53h0.7M145.47 498.62h0.7M111.48 499.85h0.7M144.9 494.07h0.7M135.61 517.32h0.7M118.61 529.59h0.7M117.07 460.64h0.7M121.05 523.88h0.7M127.73 492.52h0.7M144.54 519.92h0.7M143.16 506.15h0.7M118.31 505.21h0.7M133.11 518.38h0.7M133.3 506.81h0.7M116.06 524.93h0.7M115.62 509.21h0.7M103.46 507.61h0.7M117.08 486.64h0.7M146.11 496.36h0.7M142.56 530.49h0.7M142.99 528.79h0.7M134.06 510.67h0.7M106.79 530.55h0.7M135.92 532.8h0.7M154.76 462.7h0.7M152.03 502.52h0.7M87.66 454.86h0.7M111.88 504.57h0.7M148.8 460.45h0.7M148.21 496.75h0.7M98.63 469.04h0.7M106.39 502.47h0.7M144.75 508.92h0.7M117.27 495.26h0.7M118.16 507.91h0.7M143.34 526.95h0.7M115.2 464.64h0.7M145.58 466.83h0.7M129.69 497.6h0.7M151.42 506.96h0.7M117.01 499.31h0.7M128.88 522.92h0.7M145.31 504.24h0.7M131.81 509.85h0.7M115.92 459.05h0.7M144.47 469.3h0.7M148.55 497.1h0.7M116.02 518.57h0.7M153.99 496.02h0.7M112 518.9h0.7M146.81 514.39h0.7M140 494.86h0.7M136.36 500.76h0.7M111.97 525.78h0.7M152.35 529.11h0.7M141.48 471.27h0.7M140.22 514.95h0.7M147.36 492.36h0.7M135.92 460.44h0.7M144.4 528.76h0.7M113.81 495.39h0.7M137.97 528.79h0.7M119.24 491.67h0.7M110.33 505.35h0.7M117.68 514.53h0.7M138.81 514.56h0.7M135.69 505.26h0.7M131.36 525.65h0.7M108.04 468.47h0.7M125.39 489.8h0.7M99.48 525.38h0.7M146.34 522.08h0.7M118.45 523.47h0.7M150.15 494.68h0.7M125.45 462.52h0.7M101.68 530.37h0.7M116.04 466.71h0.7M137.99 471.01h0.7M110.65 521.86h0.7M142.09 527.39h0.7M104.35 493.63h0.7M142.35 503.39h0.7M120.94 501.38h0.7M145.1 482.59h0.7M135.94 522.47h0.7M102.69 518.23h0.7M149.43 499.42h0.7M145.25 510.44h0.7M143.15 532.54h0.7M116.62 463.36h0.7M121.08 496.38h0.7M105.27 505.45h0.7M124.44 507.29h0.7M107.26 501.52h0.7M116.97 495.5h0.7M103.19 524.21h0.7M136.65 515.74h0.7M101.43 530.83h0.7M98.33 477.57h0.7M123.77 517.25h0.7M144.93 487.88h0.7M131.31 498.42h0.7M107.89 530.95h0.7M145.98 494.84h0.7M106.93 499.6h0.7M104.59 512.42h0.7M154.03 521.32h0.7M108.18 461.75h0.7M114.03 513.82h0.7M145 505.46h0.7M122.36 479.69h0.7M103.51 511.41h0.7M132.52 496.38h0.7M129.38 525.31h0.7M139.17 507.61h0.7M105.1 492.54h0.7M131.83 513.45h0.7M133.09 509.29h0.7M107.31 464.5h0.7M135.72 512.53h0.7M97.2 491.31h0.7M152.1 532.86h0.7M131.79 531.54h0.7M142.55 530.33h0.7M140.74 521.64h0.7M137.54 530.34h0.7M141.63 525.09h0.7M137.27 490.42h0.7M132.92 488.4h0.7M138.54 491.12h0.7M136.8 525.95h0.7M116.14 440.36h0.7M107.64 526.33h0.7M109.74 474.78h0.7M101.44 522.82h0.7M125.74 516.38h0.7M153.04 494.94h0.7M112.63 497.12h0.7M148.38 455.73h0.7M102 451.27h0.7M104.76 508.15h0.7M143.14 501.57h0.7M116.58 522.94h0.7M127.15 507.6h0.7M102.47 515.53h0.7M103.55 510.48h0.7M132.74 532.11h0.7M138.01 482.27h0.7M151.6 529.22h0.7M145.56 509.37h0.7M104.25 512.56h0.7M110.24 491.94h0.7M149.11 528.68h0.7M142.67 507.02h0.7M114.17 529.32h0.7M108.95 513.53h0.7M104.34 493.85h0.7M148.45 497.95h0.7M145.22 503.27h0.7M143.95 488.02h0.7M137.95 527.46h0.7M120.3 487.44h0.7M144.23 498.84h0.7M127.22 531.1h0.7M141 495.46h0.7M128.04 502.35h0.7M154.97 518.86h0.7M109.35 530.65h0.7M137.95 525.98h0.7M110.42 461.75h0.7M113.26 531.47h0.7M116.42 488.82h0.7M121.57 453.91h0.7M131.56 505.71h0.7M98.31 445.76h0.7M139.79 528.11h0.7M108.12 503.57h0.7M145.41 503.8h0.7M115.45 466.5h0.7M106.12 512.28h0.7M100.37 459.08h0.7M137.9 492.33h0.7M103.13 522.24h0.7M108.21 504.96h0.7M140.31 496.91h0.7M141.21 510.46h0.7M122 500.79h0.7M133.84 532.51h0.7M142.6 446.69h0.7M139.12 491.09h0.7M153.05 505.74h0.7M114.08 509.29h0.7M138.24 507.59h0.7M110.86 468.46h0.7M124.44 498.36h0.7M111.17 528.29h0.7M106.99 516.26h0.7M119.88 520.12h0.7M146.64 529.77h0.7M143.08 499.84h0.7M108.37 504.04h0.7M120.47 504.42h0.7M147.18 481.09h0.7M148.25 502.49h0.7M145.38 512.23h0.7M121.27 514.41h0.7M123.27 475.63h0.7M101.06 499.49h0.7M151.45 511.48h0.7M102.7 518.45h0.7M147.51 479.34h0.7M144.18 512.75h0.7M111.22 500.54h0.7M103.95 493.57h0.7M112.25 516.85h0.7M102.31 459.81h0.7M140.15 512.04h0.7M101.85 508.47h0.7M132.64 492.27h0.7M150.72 467.02h0.7M113.02 496.11h0.7M95.87 470.18h0.7M114.79 525.46h0.7M145.87 531.79h0.7M142.13 513.36h0.7M114.09 511.28h0.7M137.81 517.22h0.7M145.76 470.71h0.7M150.7 518.24h0.7M147.75 520.34h0.7M140.92 505.55h0.7M102.89 514.42h0.7M142.06 525.09h0.7M143.59 492.18h0.7M144.87 494.83h0.7M108.54 474.32h0.7M150.22 493.47h0.7M134.78 508.43h0.7M119.65 513.19h0.7M108.71 472.88h0.7M136.03 514.1h0.7M144.4 504.83h0.7M121.02 530.1h0.7M141.79 496.8h0.7M121.03 501.98h0.7M102.92 490.44h0.7M146.57 475.51h0.7M141.68 474.72h0.7M134.68 514.28h0.7M129.25 456.82h0.7M140.83 511h0.7M103.1 503.37h0.7M103.63 495.07h0.7M116.3 516.19h0.7M150.85 520.71h0.7M143.44 523.14h0.7M109.73 494.25h0.7M97.24 519.98h0.7M106.77 488.44h0.7M109.22 523.54h0.7M107.08 447.86h0.7M119.67 502.46h0.7M81.67 451.25h0.7M139.87 485.51h0.7M144.87 494.31h0.7M123.83 506.43h0.7M103.8 504.65h0.7M113.39 489.25h0.7M119.79 459.05h0.7M141.71 526.71h0.7M147.73 472.58h0.7M114.7 530.54h0.7M117.39 509.74h0.7M110.66 528.54h0.7M138.92 496.19h0.7M133.36 521.02h0.7M103.51 513.46h0.7M136.73 521.78h0.7M142.92 509.61h0.7M112.67 524.5h0.7M140.29 523.55h0.7M116.22 496.44h0.7M103.37 528.37h0.7M134.23 511.56h0.7M107.74 527.21h0.7M103.55 505.72h0.7M118.71 493.65h0.7M113.86 514.31h0.7M148.28 512.4h0.7M127.13 506.26h0.7M126.39 523.06h0.7M121.51 521.04h0.7M113.05 525.28h0.7M140.32 471.12h0.7M123.84 494.06h0.7M122.29 524.51h0.7M122.19 494.47h0.7M106.26 460.37h0.7M151.28 525.53h0.7M143.09 502.07h0.7M116.16 503.83h0.7M141.14 518.59h0.7M140.72 505.34h0.7M149.28 501.95h0.7M152.93 529.02h0.7M124.85 532.09h0.7M142.89 521.12h0.7M116.41 502.42h0.7M102.84 504.34h0.7M124.12 510.58h0.7M148.86 469.18h0.7M135.34 531.22h0.7M120.54 527.57h0.7M138.54 523.44h0.7M134.4 527.4h0.7M109.28 496.79h0.7M102.79 503.94h0.7M139.1 488.33h0.7M138.44 507.6h0.7M104.85 464.68h0.7M116.58 522.1h0.7M151.14 496.98h0.7M155.32 495.01h0.7M114.84 516.04h0.7M139.79 505.47h0.7M118.5 513.91h0.7M127.76 510.54h0.7M111.4 492.05h0.7M109.13 495.37h0.7M131.7 491.32h0.7M130.72 521.67h0.7M130.64 517.52h0.7M148.21 504.86h0.7M133.89 503.35h0.7M117.51 450.84h0.7M111.95 499.73h0.7M139.94 487.98h0.7M119.16 488.87h0.7M150.77 509.77h0.7M139.95 521.79h0.7M135.34 511.51h0.7M136.5 492.5h0.7M111.41 505.91h0.7M149.45 459.19h0.7M101.34 518.69h0.7M139.88 501.88h0.7M117.83 495.96h0.7M149.48 513.68h0.7M117.19 488.94h0.7M124.86 531.31h0.7M150.32 490.39h0.7M141.12 516.57h0.7M138.81 493.01h0.7M150.58 524.6h0.7M151.39 497.56h0.7M109.62 466.01h0.7M142.72 517.88h0.7M143.94 507.59h0.7M146.78 491.96h0.7M110.79 490.79h0.7M118.09 509.61h0.7M124.61 493.15h0.7M107.01 500.96h0.7M105.26 472.42h0.7M142.69 459.2h0.7M147.78 531.2h0.7M108.64 453.92h0.7M148.84 528.52h0.7M120.66 526.38h0.7M132.66 502.86h0.7M147.23 465.69h0.7M128.6 512.56h0.7M111.64 508.99h0.7M118.23 531.96h0.7M123.21 524.98h0.7M146.63 498.27h0.7M144.37 522.19h0.7M114.23 483.26h0.7M108.05 529.13h0.7M135.44 499.32h0.7M146.38 494.23h0.7M136.96 511.81h0.7M143.6 506.51h0.7M143.46 527.58h0.7M148.25 497.81h0.7M105.48 493.63h0.7M146.72 474.39h0.7M124.61 504.08h0.7M135.07 510.63h0.7M125.25 462.61h0.7M105.64 496.99h0.7M139.84 493.16h0.7M104.93 513.07h0.7M112.08 471.43h0.7M108.01 509.56h0.7M141.57 511.34h0.7M143.86 502.33h0.7M131.66 513.78h0.7M123.09 472.46h0.7M127.25 529.28h0.7M120.88 446.82h0.7M126.35 506.74h0.7M121.54 531.77h0.7M146.84 505.04h0.7M151.18 492.95h0.7M138.8 504.68h0.7M142.49 523.62h0.7M105.46 496.33h0.7M141.02 496.71h0.7M104.73 498.15h0.7M132.77 486.97h0.7M109.01 512.11h0.7M148.54 489.1h0.7M142.6 516.59h0.7M121.49 501.79h0.7M147.03 529.28h0.7M146.34 495.86h0.7M156.47 498.15h0.7M121.7 491.48h0.7M150.14 523.22h0.7M139.34 507.81h0.7M144 527.04h0.7M130.65 510.35h0.7M117.44 524.5h0.7M120.69 506.46h0.7M111.57 499.1h0.7M115.44 522.09h0.7M140.42 507.76h0.7M152.41 497.11h0.7M122.68 526.38h0.7M145.17 515.94h0.7M110.14 447.63h0.7M106.49 445.04h0.7M137.9 500.34h0.7M130.77 527.29h0.7M150.47 492.54h0.7M146.32 517.58h0.7M134.3 511.22h0.7M108.73 497.57h0.7M105.3 447.97h0.7M105.58 529.24h0.7M89.55 475.94h0.7M141.17 489.87h0.7M137.67 502.49h0.7M110.04 520.18h0.7M133.17 492.45h0.7M109.37 428.67h0.7M150.86 500.23h0.7M150.39 511.82h0.7M107.45 497.74h0.7M116.24 529.71h0.7M103.12 508.91h0.7M143.81 463.26h0.7M143.69 489.92h0.7M108.49 497.69h0.7M118.59 499.22h0.7M140.23 506.86h0.7M118.41 491.57h0.7M101.21 494.91h0.7M143.63 510.4h0.7M105.65 467.93h0.7M122.71 528.31h0.7M105.34 473.01h0.7M142.99 469.78h0.7M124.98 493.03h0.7M108.45 530.72h0.7M147.49 509.47h0.7M146.81 502.59h0.7M107.66 494.25h0.7M118.22 529.44h0.7M146.5 497.62h0.7M103.88 473.5h0.7M105.31 508.44h0.7M150.03 508.34h0.7M140.88 504.36h0.7M128.42 513h0.7M147.22 532.06h0.7M120.82 522.39h0.7M101.61 466.98h0.7M141.06 493.88h0.7M139.42 511.26h0.7M110.92 505.3h0.7M136.89 490.77h0.7M140.18 521.26h0.7M120.78 496.79h0.7M142.13 486.39h0.7M112.72 502.29h0.7M139.22 526.82h0.7M110.96 501.55h0.7M110.12 496.42h0.7M111.2 485.71h0.7M141.01 526.91h0.7M134.16 529.14h0.7M136.46 532.18h0.7M115.56 499.54h0.7M98.63 512.11h0.7M139.55 496.36h0.7M139.53 513.58h0.7M118.47 514.41h0.7M150.06 508.58h0.7M139.05 524.96h0.7M133.14 518.71h0.7M106.71 520.23h0.7M148.2 492.73h0.7M103.95 528.13h0.7M120.04 506.53h0.7M134.8 510.42h0.7M139.58 532.59h0.7M117.59 520.87h0.7M105.76 511.69h0.7M147.13 494.57h0.7M127.39 526.93h0.7M103.66 507.34h0.7M133.84 509.01h0.7M116.22 494.25h0.7M151.81 491.86h0.7M138.57 521.22h0.7M135.9 515.87h0.7M147.52 500.14h0.7M112.53 525.93h0.7M117.4 525.83h0.7M92.26 463.65h0.7M147.91 522.31h0.7M116.26 508.26h0.7M140.06 525.65h0.7M146.54 512.75h0.7M154.68 486.71h0.7M150.32 500h0.7M109.59 479.09h0.7M137.35 489.63h0.7M151.55 531.07h0.7M110.76 512.27h0.7M118.83 491.55h0.7M140.08 487.09h0.7M128.37 532.67h0.7M131.86 507.94h0.7M121.8 532.31h0.7M143.96 522.65h0.7M140.05 489.7h0.7M105.24 518.85h0.7M144.65 529.82h0.7M113.11 494.47h0.7M121.68 461.27h0.7M129.23 518.99h0.7M138.17 512.96h0.7M115.55 489.35h0.7M108.36 471.62h0.7M110.27 477.39h0.7M99.45 518.13h0.7M142.63 484.46h0.7M115.63 457.56h0.7M99.62 514.89h0.7M98.07 497.36h0.7M119.22 443.68h0.7M109.34 518.53h0.7M107.04 510.2h0.7M115.18 530.83h0.7M112.11 515.34h0.7M145.92 496.54h0.7M143.47 468.62h0.7M106.61 496.87h0.7M135.47 511.77h0.7M125.33 509.36h0.7M106.73 496.7h0.7M149.35 523.15h0.7M100.41 520.7h0.7M115.7 492.25h0.7M145.78 499.79h0.7M121.03 501.47h0.7M138.21 527.92h0.7M107.27 527.02h0.7M108.13 442.06h0.7M113.79 510.18h0.7M151.01 526.79h0.7M145.79 524.32h0.7M106.23 489.45h0.7M126.83 521.97h0.7M107.73 493.67h0.7M150.3 505.67h0.7M138.37 527.05h0.7M139.4 532.42h0.7M146.07 507.89h0.7M144.38 496.21h0.7M111.27 523.96h0.7M131.38 523.72h0.7M149.08 512.52h0.7M107.2 493.02h0.7M112.55 493.17h0.7M116.32 504.49h0.7M150.48 520.09h0.7M150.04 522.84h0.7M134.39 525.14h0.7M141.19 529.28h0.7M141.28 521.9h0.7M115.31 502.97h0.7M128.26 514.96h0.7M110.06 525.07h0.7M122.2 502.61h0.7M116.73 434.2h0.7M132.69 494.3h0.7M114.3 497.34h0.7M106.4 506.88h0.7M113.12 525.07h0.7M124.44 527.4h0.7M138.83 523.75h0.7M139.17 512.01h0.7M134.83 525.87h0.7M121.99 529.62h0.7M119.44 529.84h0.7M103.91 530.8h0.7M115.58 526.3h0.7M140.18 500.68h0.7M151.91 464.26h0.7M153.8 499.24h0.7M156.15 530.6h0.7M142.8 518.08h0.7M108.48 526.22h0.7M103.11 503.11h0.7M101.9 529.93h0.7M144.64 513.6h0.7M151.28 471.36h0.7M124.57 526.45h0.7M113.35 503.78h0.7M137.71 495.41h0.7M135.86 515.69h0.7M113.91 525.49h0.7M139.21 493.22h0.7M138.77 489.97h0.7M119.46 502.54h0.7M101.09 517.59h0.7M142.04 532.56h0.7M104.19 521.51h0.7M145.91 499.04h0.7M147.59 494.51h0.7M105.38 529.96h0.7M106.43 531.43h0.7M139.83 500.01h0.7M146.68 516.76h0.7M144.78 500.53h0.7M130.04 515.8h0.7M100.6 505.75h0.7M137.3 514.11h0.7M118.24 520.3h0.7M124.05 465.42h0.7M97.32 467.79h0.7M121.62 524.26h0.7M145.58 525.56h0.7M137.76 490.4h0.7M139.93 498.51h0.7M147.89 504.52h0.7M132.48 522.31h0.7M146.54 497.93h0.7M104.29 529.3h0.7M146.98 519.54h0.7M149.89 519.69h0.7M108.65 506.51h0.7M109 529.98h0.7M139.97 503.82h0.7M136.55 501h0.7M118.37 522.5h0.7M114.72 456.82h0.7M100.99 508.58h0.7M140.56 500.36h0.7M95.84 496.69h0.7M97.66 459.64h0.7M102.82 477.62h0.7M120.22 502.54h0.7M114.85 516.09h0.7M143.66 505.86h0.7M100.3 494.96h0.7M142.78 520.79h0.7M130.45 529.52h0.7M106.95 496.61h0.7M147.33 521h0.7M133.55 520.91h0.7M143.16 505.42h0.7M151.19 509.81h0.7M135.14 501h0.7M102.46 509.62h0.7M118.76 456.77h0.7M133.32 501.56h0.7M105.17 521.24h0.7M139.95 486.61h0.7M137.37 500.33h0.7M102.97 530.09h0.7M124.58 507.78h0.7M135.12 511.42h0.7M144.02 507.67h0.7M137.08 527.34h0.7M107.87 517.19h0.7M102.79 507.38h0.7M108.4 465.71h0.7M141.01 500.06h0.7M142.54 513.41h0.7M100.14 514.8h0.7M125.66 501.48h0.7M122.54 496.52h0.7M117.27 492.83h0.7M131.56 522.03h0.7M105.19 471.38h0.7M123.23 525.96h0.7M140.74 520.81h0.7M117.22 467.4h0.7M139.52 495.65h0.7M129.38 499.75h0.7M139.77 514.08h0.7M138 530.39h0.7M124.17 458.92h0.7M142.1 493.99h0.7M104.55 464.26h0.7M140.79 496.11h0.7M106.18 507.29h0.7M136.13 499.26h0.7M97.26 501.54h0.7M139.92 521.18h0.7M118.76 497.44h0.7M102.82 528.2h0.7M144.52 503.83h0.7M137.54 508.58h0.7M128.09 520.69h0.7M151.81 496.24h0.7M98.47 465.61h0.7M107.7 515.67h0.7M152.48 523.56h0.7M134.52 503.65h0.7M150.14 495.35h0.7M129.26 500.03h0.7M134.28 490.57h0.7M141.83 515.91h0.7M114.62 521.61h0.7M142.9 494.33h0.7M135.75 494.61h0.7M140.48 503.17h0.7M114.64 522.77h0.7M136.78 493.34h0.7M152.12 523.06h0.7M105.61 528.59h0.7M122.98 491.82h0.7M112.37 478.24h0.7M116.21 523.55h0.7M116.58 504.42h0.7M111.55 513.07h0.7M123.84 517.69h0.7M119.53 476.94h0.7M102.08 453.8h0.7M129.87 514.79h0.7M130.91 483h0.7M130.78 522.89h0.7M125.99 489.72h0.7M100.02 492.81h0.7M118.85 510.18h0.7M121.11 504.73h0.7M146.64 500.46h0.7M118.54 530.68h0.7M106.07 495.09h0.7M102.24 522.23h0.7M100.13 512.19h0.7M141.55 513.24h0.7M104.69 501.26h0.7M132.21 498.16h0.7M142.52 512.57h0.7M145.52 522.33h0.7M146.81 508.4h0.7M143.53 465.72h0.7M147.23 529.38h0.7M129.2 527.35h0.7M110.64 458.91h0.7M132.98 511.81h0.7M139.33 529.47h0.7M104.77 456h0.7M137.45 508.29h0.7M143.76 528.78h0.7M123.78 513.72h0.7M145.53 493.11h0.7M153.21 490.74h0.7M135.19 509.03h0.7M110.45 513.18h0.7M138.86 517.02h0.7M153.14 490.65h0.7M148.66 491.24h0.7M116.2 506.57h0.7M108.47 514.51h0.7M134.04 489.21h0.7M132.74 518.93h0.7M126 502.78h0.7M129.27 508.98h0.7M140.92 518.88h0.7M133.32 488.1h0.7M106.39 506.24h0.7M150.58 502.41h0.7M118.53 531.52h0.7M140.05 490.89h0.7M126.54 517.72h0.7M143.42 494.27h0.7M146.4 519.05h0.7M117.37 519.76h0.7M113.55 523.6h0.7M105.25 498.34h0.7M141.59 462.64h0.7M120.02 491.08h0.7M138.05 526.22h0.7M134.24 494.57h0.7M138.43 514.92h0.7M101.9 507.09h0.7M112.91 458.79h0.7M109.91 527.23h0.7M137.53 511.2h0.7M103.03 497.17h0.7M144.15 525.12h0.7M137.29 490.7h0.7M98.13 496.51h0.7M111.34 501.23h0.7M131.78 495.07h0.7M130.91 522.68h0.7M146.61 492.66h0.7M91.18 464.76h0.7M94.42 455.32h0.7M121.77 500.7h0.7M99.19 496.21h0.7M153.74 495.17h0.7M117.62 513.96h0.7M145.77 522.42h0.7M123.19 491.13h0.7M148.08 472.51h0.7M121.52 506.85h0.7M105.06 449.54h0.7M148.05 487.93h0.7M139.93 498.39h0.7M105.53 512.88h0.7M107.35 507.77h0.7M117.3 507.9h0.7M111.9 472.08h0.7M152.97 524.46h0.7M111.81 475.57h0.7M113.89 516.83h0.7M119.68 441.69h0.7M117.14 457.48h0.7M104.52 451.56h0.7M144.37 512.21h0.7M113.58 496.47h0.7M145.06 465.65h0.7M119.08 508.4h0.7M123.84 461.12h0.7M139.68 516.22h0.7M142.94 512.39h0.7M133.05 521.68h0.7M116.71 470.04h0.7M151.93 530.32h0.7M133.37 513.55h0.7M108.47 526.38h0.7M123.09 511.09h0.7M145.75 519.18h0.7M148.38 509.04h0.7M117.05 471.17h0.7M103.7 502.66h0.7M120.66 495.79h0.7M148.12 465.24h0.7M113.4 489.15h0.7M105.55 493.83h0.7M143.27 497.68h0.7M149.52 525.04h0.7M142.28 532.36h0.7M115.72 506.63h0.7M118.28 524.85h0.7M151.16 478.66h0.7M117.88 520.74h0.7M146.75 515.08h0.7M148.86 516.43h0.7M145.1 469.13h0.7M128.52 507.62h0.7M152.09 489.83h0.7M133.17 492.25h0.7M138.56 511.9h0.7M109.79 516.65h0.7M151.72 530.95h0.7M118.57 512.09h0.7M125.47 453.33h0.7M104.37 475.04h0.7M118.43 530.95h0.7M144.79 503.19h0.7M134.98 514.13h0.7M131.1 523.12h0.7M124.59 527.7h0.7M104.69 503.39h0.7M148.47 478.42h0.7M145.92 486.89h0.7M150.85 500.19h0.7M102.97 461.7h0.7M139.72 520.55h0.7M119.35 530.28h0.7M116.76 504.13h0.7M150.38 524.23h0.7M103.97 517.32h0.7M109.76 510.99h0.7M149.14 522.93h0.7M105.3 522.29h0.7M113.88 496.65h0.7M106.05 486.77h0.7M136.52 504.58h0.7M148.47 486.91h0.7M142.84 526.96h0.7M151.95 529.43h0.7M112.67 527.09h0.7M140.77 518.28h0.7M144.94 486.2h0.7M127.08 525.1h0.7M149.31 527.73h0.7M145.02 484.78h0.7M152.8 519.41h0.7M140.11 529.34h0.7M106.12 504.46h0.7M147.57 487.68h0.7M111.05 508.19h0.7M116.04 510.95h0.7M124.44 477.8h0.7M131.5 527.37h0.7M120.75 506.53h0.7M141.46 518.7h0.7M152.12 497.81h0.7M115.7 519.74h0.7M143.51 498.02h0.7M105.6 498.96h0.7M144.16 482.56h0.7M146.9 510.04h0.7M143.11 526.8h0.7M139.63 497.56h0.7M147.22 486.75h0.7M138.25 495.41h0.7M140.51 508.25h0.7M142.62 514.51h0.7M146.58 517.47h0.7M140.52 493.9h0.7M112.84 525.32h0.7M115.25 522.89h0.7M109.43 463.05h0.7M149.79 504.33h0.7M134.19 493.88h0.7M125.78 523.74h0.7M113.52 465.55h0.7M134.59 495.49h0.7M142.89 495.99h0.7M111.76 483.69h0.7M103.16 522.3h0.7M152.75 478.02h0.7M108.61 501.81h0.7M100 491.2h0.7M115.72 491.85h0.7M146.74 531.98h0.7M111.88 500.6h0.7M146.99 479.92h0.7M143.23 506.56h0.7M108.99 523.88h0.7M121.23 529.73h0.7M119.76 516.93h0.7M152.4 487.5h0.7M133.14 525.61h0.7M143.03 507.04h0.7M101.67 524.58h0.7M112.25 530.2h0.7M124.07 530.29h0.7M104.01 513.78h0.7M118.76 520.11h0.7M142.9 471.87h0.7M111.82 526.41h0.7M144.66 504.07h0.7M158.44 528.96h0.7M102.05 511.65h0.7M147.17 509.98h0.7M141.06 456.88h0.7M141.8 507h0.7M123.74 501.7h0.7M144.9 478.78h0.7M144.19 465.76h0.7M117.41 498.1h0.7M141.06 504.14h0.7M109.01 513.14h0.7M114.7 504.87h0.7M135.04 508.23h0.7M104.88 505.51h0.7M153.3 503.22h0.7M149.39 527.03h0.7M101.44 521.3h0.7M120.12 472.59h0.7M116.45 492.88h0.7M115.9 501.61h0.7M98.85 505.86h0.7M99.5 490.23h0.7M140.77 516.77h0.7M128.95 529.5h0.7M124.16 525.17h0.7M113.36 475.31h0.7M105.35 477.39h0.7M142.43 511.85h0.7M103.78 501.25h0.7M134.93 517.96h0.7M106.67 476.76h0.7M153.27 520.81h0.7M116.26 474.35h0.7M106.34 501.66h0.7M104.98 503.27h0.7M126.89 523.33h0.7M140.2 522.54h0.7M134.33 501.19h0.7M114.79 509.63h0.7M118.05 504.39h0.7M148.36 505.22h0.7M138.95 451.73h0.7M137.64 506.48h0.7M116.21 523.39h0.7M143.69 499.23h0.7M110.88 515.75h0.7M112.46 515.93h0.7M139.47 499.25h0.7M96.77 471.91h0.7M138.26 505.76h0.7M108.1 484.51h0.7M108.17 481.47h0.7M115.42 463.68h0.7M113.82 477.21h0.7M116.96 512.41h0.7M105.67 532.11h0.7M100.35 521.69h0.7M142.57 470.12h0.7M147.33 511.25h0.7M139.71 528.32h0.7M155.72 525.23h0.7M117.78 525.59h0.7M113.68 522.8h0.7M144.6 487.47h0.7M114.96 440.67h0.7M146.85 466.44h0.7M121.4 502.34h0.7M134.59 526.55h0.7M136.61 513.94h0.7M126.67 513.75h0.7M144.97 512.31h0.7M133.42 523.56h0.7M101.6 492.49h0.7M117.79 505.26h0.7M152.1 494.14h0.7M145.76 506.84h0.7M116.3 503.46h0.7M140.91 503.64h0.7M148.71 500.14h0.7M131.27 520.91h0.7M114.89 525.14h0.7M115.76 466.19h0.7M141.2 476.79h0.7M145.42 529.4h0.7M142.66 498.55h0.7M120.21 496.65h0.7M148.11 502.63h0.7M133.89 523.8h0.7M120.18 528.87h0.7M144.83 470.22h0.7M119.04 474.93h0.7M133.1 510.92h0.7M135.33 525.46h0.7M112.47 525.88h0.7M123.56 524.65h0.7M99.67 523.42h0.7M140.29 524.31h0.7M114.8 469.26h0.7M115.42 494.81h0.7M141.68 513.49h0.7M149.9 513.02h0.7M129.7 511.82h0.7M112.25 524.91h0.7M116.18 467.16h0.7M99.75 458.58h0.7M151.99 520.3h0.7M109.14 509.03h0.7M130.26 514.92h0.7M106.4 481.51h0.7M146.75 510.28h0.7M115.93 522.47h0.7M113.11 499.38h0.7M124.76 506.14h0.7M133.82 515.56h0.7M116.5 524.42h0.7M99.9 513.37h0.7M109.08 492.41h0.7M117.1 494.48h0.7M150.83 509.91h0.7M122.2 509.55h0.7M102.37 530.47h0.7M139.32 525.97h0.7M151.51 526.57h0.7M153.82 529.65h0.7M128.16 501.69h0.7M129.74 496.37h0.7M128.44 515.29h0.7M108.83 517.21h0.7M136 510.09h0.7M126.76 517.57h0.7M120.43 525.23h0.7M119.48 453.69h0.7M148.34 510.38h0.7M118.11 502.97h0.7M148.01 512.82h0.7M135.85 493.04h0.7M116.49 526.96h0.7M121.7 516.05h0.7M127.52 479.33h0.7M114.33 529.43h0.7M107.62 509.87h0.7M126.75 526.08h0.7M104.77 515.08h0.7M143.6 506.06h0.7M114.63 494.29h0.7M126.6 530.05h0.7M113.19 516.93h0.7M113.26 465.65h0.7M111.21 528.07h0.7M146.66 510.32h0.7M148.38 480.76h0.7M145.47 448.74h0.7M148.86 516.02h0.7M117.93 498.2h0.7M135.51 522.68h0.7M152.69 491.41h0.7M144.89 519.46h0.7M144.8 510.02h0.7M104.26 506.48h0.7M112.01 466.42h0.7M125.02 493.52h0.7M114.61 500.99h0.7M123.71 522.96h0.7M113.58 454.43h0.7M142.56 516.88h0.7M119.63 501.29h0.7M119.9 466.23h0.7M132.47 526.24h0.7M150.3 497.43h0.7M119.83 510.94h0.7M106.01 517.72h0.7M111.3 499.72h0.7M143.59 502.18h0.7M100.21 493.22h0.7M101.69 500.09h0.7M145.71 514.96h0.7M109.1 532.84h0.7M116.63 499.57h0.7M116.34 505.19h0.7M151.84 495.62h0.7M118.71 454.35h0.7M110.47 470.11h0.7M112.79 488.28h0.7M115.59 511.45h0.7M134.58 503.14h0.7M111.38 492.43h0.7M154.28 488.02h0.7M114.4 511h0.7M138.2 502.04h0.7M108.75 511.98h0.7M135.71 490.55h0.7M137.98 496.31h0.7M104.91 493.33h0.7M103.52 447.48h0.7M126.11 500.69h0.7M148.41 530.89h0.7M113.9 455.48h0.7M129.2 500.8h0.7M148.84 509.67h0.7M141.17 524.58h0.7M139.57 518.23h0.7M135.6 490.36h0.7M134.11 510.24h0.7M117.17 508.88h0.7M144.2 520h0.7M142.64 515.36h0.7M119.01 505.58h0.7M106.6 490.09h0.7M104.63 457.22h0.7M102.6 517.04h0.7M127.69 518.13h0.7M145.21 499.99h0.7M119.58 519.89h0.7M114.99 515.81h0.7M150.96 513.3h0.7M151.58 514.03h0.7M143.54 487.12h0.7M128.73 501.52h0.7M96.01 517.07h0.7M142.72 510.35h0.7M126.48 453.92h0.7M148.21 495.27h0.7M132.96 494.27h0.7M118.98 515.23h0.7M100.43 481.64h0.7M148 520.51h0.7M148.41 504.06h0.7M146.55 486.42h0.7M130.4 520.46h0.7M141.17 499.64h0.7M100.71 490.6h0.7M105.82 463.68h0.7M149.54 475.41h0.7M138.09 501.26h0.7M143.46 508.73h0.7M134.91 489.52h0.7M149.26 452.95h0.7M155.22 512.11h0.7M136.49 467.83h0.7M128.58 523.48h0.7M118.24 513.69h0.7M103.29 474h0.7M138.74 498.41h0.7M147.57 465.94h0.7M105.56 527.49h0.7M124.34 504.01h0.7M152.84 502.59h0.7M143.98 496.13h0.7M113.53 505.25h0.7M105.38 522.75h0.7M107.06 515.51h0.7M145.37 530.77h0.7M114.6 510.04h0.7M128.19 520.74h0.7M116.68 513.47h0.7M143.4 526.7h0.7M131.88 491.8h0.7M149.46 500.28h0.7M134.99 515.49h0.7M109.19 532.39h0.7M141.09 505.06h0.7M115.42 508.35h0.7M147.77 487.11h0.7M122.11 499.01h0.7M139.22 507.11h0.7M109.25 451.84h0.7M127.54 494.72h0.7M139.51 511.97h0.7M123.38 531.68h0.7M139.32 522.3h0.7M149.18 465.21h0.7M144.1 492.41h0.7M120.54 520.03h0.7M121.01 489.72h0.7M115.61 509.67h0.7M101.54 527.41h0.7M107.16 493.65h0.7M140.79 528.04h0.7M130.27 511.48h0.7M139.71 505.21h0.7M100.53 451.47h0.7M140.43 514.22h0.7M142.34 514.73h0.7M104.3 507.21h0.7M143.17 492.56h0.7M116.51 476.85h0.7M102.22 521.74h0.7M151.17 466.09h0.7M142.41 508.02h0.7M145.95 525.51h0.7M142.47 488.07h0.7M121.4 487.18h0.7M130.46 520.26h0.7M124.65 495.92h0.7M117.09 508.06h0.7M147.41 524.19h0.7M136.36 499.44h0.7M138.26 517.72h0.7M144.28 506.59h0.7M115.3 493.91h0.7M115.7 455.88h0.7M143.93 473.46h0.7M117.7 490.88h0.7M145.86 474.8h0.7M147.31 523.33h0.7M111.72 526.57h0.7M107.05 530.31h0.7M119.78 529.44h0.7M102.73 491.51h0.7M136.31 506.39h0.7M145.65 517.59h0.7M106.09 511.67h0.7M141.65 518.79h0.7M116.45 522.63h0.7M151.25 516.06h0.7M139.12 499.55h0.7M135.67 501.8h0.7M104.83 524.72h0.7M118.88 505.49h0.7M137.6 518.19h0.7M145.19 526.46h0.7M103.57 526.77h0.7M101.21 512.37h0.7M139.84 486.39h0.7M113.77 492.55h0.7M149.09 482.94h0.7M101.95 473.77h0.7M145.43 508.06h0.7M121.21 500.26h0.7M114.54 496.66h0.7M129.76 530.35h0.7M132.35 524.44h0.7M112.23 512.68h0.7M105.93 509.56h0.7M143.15 499.98h0.7M107.79 504.63h0.7M122.6 499.29h0.7M99.44 482.38h0.7M135.62 490.66h0.7M145.91 531.51h0.7M102.13 495.55h0.7M143.12 517.01h0.7M126.47 519.91h0.7M138.87 523.55h0.7M107.09 467.96h0.7M102.2 520.54h0.7M139.46 483.45h0.7M135.13 494.69h0.7M112.35 475.86h0.7M141.43 492.98h0.7M106.68 520.92h0.7M110.6 515.74h0.7M104.72 505.93h0.7M133.14 524.67h0.7M141.08 507.66h0.7M111.4 524.59h0.7M123.53 497.43h0.7M99.06 489.14h0.7M139.68 511.79h0.7M147.61 515.39h0.7M98.58 525.63h0.7M103.66 498.74h0.7M131.11 505.95h0.7M96.5 532.19h0.7M146.87 447.68h0.7M122.94 499.94h0.7M106.76 478.08h0.7M141.44 518.55h0.7M108.52 503.82h0.7M113.23 525.1h0.7M107.88 526.73h0.7M142.31 508.43h0.7M139.67 512.4h0.7M148.59 503.12h0.7M145.7 515.57h0.7M149.55 487.19h0.7M148.37 516.21h0.7M113.65 492.8h0.7M143.53 517.18h0.7M145.97 522.1h0.7M116.03 509.67h0.7M110.95 493.63h0.7M151.13 497.18h0.7M121.74 516.07h0.7M118.52 492.77h0.7M144.4 498.12h0.7M144.44 451.44h0.7M143.09 484.14h0.7M120.84 527.28h0.7M141.7 520.11h0.7M152.75 494.27h0.7M136.07 487.4h0.7M136.52 521.69h0.7M114.3 455.39h0.7M112.97 508.13h0.7M117.3 463.75h0.7M131.28 507.12h0.7M135.79 525.59h0.7M142.33 531.02h0.7M146.72 508.91h0.7M141.13 502.63h0.7M131.3 489.64h0.7M114.91 512.25h0.7M121.83 475.43h0.7M109.47 507.31h0.7M107.59 498.62h0.7M126.06 515.89h0.7M140.15 493.62h0.7M109.45 477.64h0.7M142.85 517.54h0.7M124.76 500.36h0.7M126.96 502.56h0.7M144.23 494.03h0.7M114.75 455.45h0.7M142.03 516.05h0.7M138.72 522.92h0.7M114.33 529.31h0.7M152.56 525.3h0.7M141.52 502.69h0.7M117.75 524.56h0.7M146.81 470.1h0.7M84.98 461.05h0.7M117.41 508.45h0.7M117.18 518.03h0.7M118.08 519.4h0.7M131.91 530.69h0.7M129.33 438.06h0.7M117.71 462.96h0.7M133.92 532.07h0.7M142.14 521.69h0.7M126.15 471.32h0.7M140.48 524.75h0.7M140.88 477h0.7M153.49 520.75h0.7M123.55 475.53h0.7M145.57 516.23h0.7M103.27 530.65h0.7M122.5 530.25h0.7M147.33 506.25h0.7M137.85 495.37h0.7M116.78 510.32h0.7M106.55 500.39h0.7M128.55 497.64h0.7M141.92 510.33h0.7M124.82 520.81h0.7M152.39 526.24h0.7M147.13 493.91h0.7M142.44 472.07h0.7M129.45 497.39h0.7M142.42 488.82h0.7M105.64 526.53h0.7M109.07 528.92h0.7M149.41 502.04h0.7M148.66 530.1h0.7M135.41 506.22h0.7M131.45 503.43h0.7M134.79 527.94h0.7M140.74 506.2h0.7M115.08 506.34h0.7M105.52 442.53h0.7M131.07 523.12h0.7M141.86 515.06h0.7M114.18 520.16h0.7M129.67 512.11h0.7M122.44 507.01h0.7M140.49 519.06h0.7M114.51 511.9h0.7M144.66 474.13h0.7M128.9 495.46h0.7M110.4 476.53h0.7M109.84 464.85h0.7M148.55 519.28h0.7M118.36 518.72h0.7M135.65 510.78h0.7M115.75 520.08h0.7M105.46 522.62h0.7M151.77 504.99h0.7M148.66 526.2h0.7M135.88 510.46h0.7M117.45 475.02h0.7M102.73 500.78h0.7M100.93 510.53h0.7M144.35 517.97h0.7M111.09 492.9h0.7M142.41 517.46h0.7M150.32 466.92h0.7M139.69 517.22h0.7M140.48 514.23h0.7M114.21 497.8h0.7M109.1 510.09h0.7M121.46 443.53h0.7M105.59 489h0.7M149.43 488.91h0.7M107.82 516.93h0.7M151.05 528.55h0.7M148.27 485.96h0.7M122.9 531.16h0.7M134.02 497.96h0.7M115.72 502.51h0.7M118.31 487.79h0.7M147.55 516.57h0.7M91.44 430.72h0.7M143.05 483.1h0.7M149.2 522.85h0.7M143.27 512h0.7M141.08 504.15h0.7M126.74 494.49h0.7M135.46 502.58h0.7M148.14 478.93h0.7M105.05 489.74h0.7M137.49 499.06h0.7M118.49 459.94h0.7M143.66 492.63h0.7M127.02 503.23h0.7M140.55 521.03h0.7M144.63 523.79h0.7M111.5 515.17h0.7M101.46 504.2h0.7M109.55 505.11h0.7M105.6 493.45h0.7M143.82 506.9h0.7M149.56 468.26h0.7M106.29 489.67h0.7M145.16 489.62h0.7M139.76 514.36h0.7M122.38 520.5h0.7M144.5 501.03h0.7M145.86 465.39h0.7M110.2 480.8h0.7M153.44 516.91h0.7M111.28 513.46h0.7M112.52 521.58h0.7M121.13 516.99h0.7M136.13 499.69h0.7M119.78 478.78h0.7M104.38 500.18h0.7M145.36 506.1h0.7M104.17 488.69h0.7M113.97 525.74h0.7M151.9 466.96h0.7M148.17 531.27h0.7M148.42 491.58h0.7M145.14 516.71h0.7M138.68 505.37h0.7M151.72 529.79h0.7M140.88 520.77h0.7M151.46 510.99h0.7M139.23 508.67h0.7M109.09 496.11h0.7M144.49 462.71h0.7M142.4 465.23h0.7M135 493.21h0.7M111.91 451.09h0.7M137.12 493.27h0.7M119.09 523.98h0.7M146.06 487.22h0.7M131.36 531.32h0.7M111.83 460.45h0.7M138.66 493.77h0.7M129.87 527.72h0.7M132.41 516.67h0.7M107.66 526.46h0.7M141.09 502.25h0.7M122.2 480.3h0.7M101.16 490.1h0.7M145.95 509.83h0.7M121.93 508.38h0.7M141.38 514.99h0.7M152.54 526.71h0.7M149.48 507.71h0.7M117.45 505.05h0.7M127.35 529.03h0.7M144.22 505.48h0.7M149.99 492.05h0.7M134.89 492.35h0.7M105.12 503.66h0.7M152.65 504.73h0.7M105.47 508.81h0.7M150.79 516.54h0.7M134.99 528.67h0.7M152.44 510.75h0.7M146 504.85h0.7M141.67 506.17h0.7M131.26 500.6h0.7M106.76 453.41h0.7M139.42 532.29h0.7M127.84 526.1h0.7M120.82 510.93h0.7M109.99 521.2h0.7M121.73 502.7h0.7M145.03 532.02h0.7M147.94 474.01h0.7M100.76 521.63h0.7M110.36 517.26h0.7M144.88 459.04h0.7M141.93 494.68h0.7M111.05 526.68h0.7M149.18 462.85h0.7M111.85 498.75h0.7M132.37 513.96h0.7M117.53 497.09h0.7M103.51 512.44h0.7M112.14 478.2h0.7M128.5 525.65h0.7M104.85 501.1h0.7M131.16 525.01h0.7M111.08 497.86h0.7M124.07 511.46h0.7M115.41 490.51h0.7M108.41 493.62h0.7M142.03 526.92h0.7M98.7 525.6h0.7M135.74 488.55h0.7M113.88 496.03h0.7M154.15 515.15h0.7M105.26 528.42h0.7M140.32 495.34h0.7M106.44 489.61h0.7M111.19 511.54h0.7M149.04 515.95h0.7M144.9 506.64h0.7M132.52 489.31h0.7M104.96 491.39h0.7M120.84 513.22h0.7M117.67 497.45h0.7M138.96 506.57h0.7M126.46 527.14h0.7M111.27 503.78h0.7M100.4 531.91h0.7M143.72 499.96h0.7M118.06 481.24h0.7M98.04 513.69h0.7M142.74 489.72h0.7M138.4 526.77h0.7M116.8 493.5h0.7M142.09 530.35h0.7M135.43 518.25h0.7M133.09 495.48h0.7M140.18 519.43h0.7M107.77 510.96h0.7M136.86 492.03h0.7M145.72 466.41h0.7M138.53 492.56h0.7M145.74 525.37h0.7M130.56 472.44h0.7M153.43 530.26h0.7M149.39 513.37h0.7M110.97 532.75h0.7M94.79 473.3h0.7M121.39 492.62h0.7M122.83 523.29h0.7M124.1 523.85h0.7M103.04 503.85h0.7M100.83 532.41h0.7M145.06 521.35h0.7M101.31 500.13h0.7M121.84 510.65h0.7M108.72 475.15h0.7M141.63 496.17h0.7M101.67 470.64h0.7M133.38 501.36h0.7M113.69 484.22h0.7M123.2 524.67h0.7M143.59 487.55h0.7M103.32 512.14h0.7M145.5 495.81h0.7M142.21 463.3h0.7M121.62 499.71h0.7M136.75 502.09h0.7M129.27 496.45h0.7M117.48 496.32h0.7M103.22 498.74h0.7M153.59 493.47h0.7M142.44 510.34h0.7M140.5 488.81h0.7M152.11 505.12h0.7M136.06 514.09h0.7M128.83 527.66h0.7M138.57 487.63h0.7M139.43 506.7h0.7M121.98 493.7h0.7M142.06 531.56h0.7M136.69 519.84h0.7M140.7 513.52h0.7M147.58 513.36h0.7M135.41 513.81h0.7M108.2 518.18h0.7M121.53 500.82h0.7M136.8 502.83h0.7M123.28 518.68h0.7M136.49 453.43h0.7M123.04 525.35h0.7M143.53 498.28h0.7M131.01 512.08h0.7M109.64 466.15h0.7M121.49 497.22h0.7M143.68 499.92h0.7M147.88 483.17h0.7M140.29 493.7h0.7M137.21 508.94h0.7M111.11 488.97h0.7M119.12 516.45h0.7M121.72 488.96h0.7M150.27 490.45h0.7M101.54 504.23h0.7M116.33 512.11h0.7M117.03 520.49h0.7M147.44 507.82h0.7M118.35 462.72h0.7M142.13 488.38h0.7M143.4 501.29h0.7M148.22 510.13h0.7M112.88 515.04h0.7M149.39 463.62h0.7M144.6 528.56h0.7M140.44 502.75h0.7M111 500.49h0.7M148.95 491.97h0.7M141.48 518.78h0.7M143.85 500.16h0.7M142.72 492.87h0.7M133.57 440.13h0.7M125.49 495.02h0.7M102.8 530.51h0.7M144.91 531.31h0.7M117.84 519.29h0.7M139.44 500.24h0.7M142.81 492.18h0.7M103.14 513.28h0.7M136.49 495.17h0.7M132.99 513.09h0.7M141.11 506.97h0.7M134.76 515h0.7M145.97 507.92h0.7M110.29 516.22h0.7M97.2 437.77h0.7M139.67 492.95h0.7M149.52 517.08h0.7M137.06 518.18h0.7M124.98 510.58h0.7M102.24 517.65h0.7M113.26 515.5h0.7M121.97 532.68h0.7M112.88 491.42h0.7M139.28 509.62h0.7M148.9 474.87h0.7M150.81 485.54h0.7M137.82 509.37h0.7M106.96 495.02h0.7M137.46 507.69h0.7M141.2 462.36h0.7M118.38 521.05h0.7M115.94 473.45h0.7M150.08 499.22h0.7M144.58 524.53h0.7M115.67 521.91h0.7M118.76 458.08h0.7M151.8 485.08h0.7M137.48 514.14h0.7M127.56 509.29h0.7M106.41 524.23h0.7M152.01 472.62h0.7M136.35 492.45h0.7M99 522.64h0.7M124.93 517.86h0.7M115.15 495.9h0.7M130.51 487.4h0.7M150.77 528.21h0.7M109.19 516.91h0.7M152.16 515.46h0.7M128.25 497.4h0.7M129.51 510.59h0.7M113.12 516.37h0.7M140.87 504.7h0.7M141.19 512.98h0.7M131.76 516.35h0.7M137.46 496.21h0.7M150.66 506.48h0.7M135.91 500.06h0.7M111.52 487.34h0.7M100.98 492.63h0.7M107.94 522.82h0.7M118.3 525.46h0.7M104.62 511.52h0.7M117.8 512.2h0.7M114.71 479.28h0.7M135.51 495.56h0.7M143.35 527h0.7M109.78 527.25h0.7M120.08 503.3h0.7M98.15 488.22h0.7M149.47 488.19h0.7M123.42 520.27h0.7M103.66 506h0.7M129.45 497.58h0.7M119.15 503.23h0.7M136.24 511.12h0.7M141.11 525.32h0.7M109.4 510h0.7M106.5 516.4h0.7M120.99 518.89h0.7M103.47 504.5h0.7M146.5 518.12h0.7M139.49 496.61h0.7M138.37 501.86h0.7M112.17 530.54h0.7M104.32 521.7h0.7M115.79 531.71h0.7M129.28 510.74h0.7M144.87 498.43h0.7M123.14 526.44h0.7M135.63 531.24h0.7M119.06 519.82h0.7M143.81 527.41h0.7M150.77 520.99h0.7M110.81 532.42h0.7M123.98 468.69h0.7M105.59 466.94h0.7M110.39 509.96h0.7M133.02 524.26h0.7M152.23 462.82h0.7M150.56 509.16h0.7M143.68 521.73h0.7M117.68 447.06h0.7M131.74 507.57h0.7M100.14 526.66h0.7M103.78 525.04h0.7M140.71 527.95h0.7M106.09 465.26h0.7M111.75 522.09h0.7M142.35 500.54h0.7M110.64 517.15h0.7M148.21 471.31h0.7M119.61 482.45h0.7M108.26 514.17h0.7M137.64 523.27h0.7M125.25 515.27h0.7M146.76 459.23h0.7M115.62 490.49h0.7M149.69 529.4h0.7M122.4 531.68h0.7M123.04 525.54h0.7M149.45 504.58h0.7M106.25 489.61h0.7M136.78 503.09h0.7M124.46 512.71h0.7M140.25 496.78h0.7M108.19 508.66h0.7M108.43 502.51h0.7M117.11 463.66h0.7M133.26 528.25h0.7M145.05 494.73h0.7M151.08 501.16h0.7M110.69 509.8h0.7M121.95 531.53h0.7M144.52 511.69h0.7M142.96 504.83h0.7M140.56 526.25h0.7M148.35 518.45h0.7M140.16 522.58h0.7M142.28 503.01h0.7M147.37 512.9h0.7M143.51 495.41h0.7M106.79 473.8h0.7M110.76 518.85h0.7M141.9 506.47h0.7M116.65 529.34h0.7M98.61 469.25h0.7M120.73 517.8h0.7M132.62 487.44h0.7M105.82 525.58h0.7M110.08 523.32h0.7M150.39 523.19h0.7M121.59 508h0.7M101.24 519.72h0.7M113.04 527.89h0.7M148.73 464.99h0.7M107.17 504.53h0.7M104.08 510.5h0.7M145.45 488.36h0.7M123 493.23h0.7M129.83 504.72h0.7M140.2 522.38h0.7M150.5 461.38h0.7M137.05 513.19h0.7M127.44 497.66h0.7M120.06 529.69h0.7M143.19 459.11h0.7M114.33 496.34h0.7M110.75 475.1h0.7M121.46 460.39h0.7M108.32 478.84h0.7M125.39 449.14h0.7M134.34 505.88h0.7M139.96 519.79h0.7M132.86 524.82h0.7M107.36 523.96h0.7M143.02 532.17h0.7M145.93 510.65h0.7M100.77 475.06h0.7M97.78 461.12h0.7M133.52 496.87h0.7M139.72 509h0.7M114.83 501.32h0.7M112.14 528.76h0.7M108.5 448.38h0.7M144.25 512.96h0.7M107.71 475h0.7M137.36 493.75h0.7M140.2 504.04h0.7M132.48 512.3h0.7M143.03 479.28h0.7M131.95 509.79h0.7M128.41 495.29h0.7M147.91 520.02h0.7M150.61 475.22h0.7M149.14 525.38h0.7M104.67 479.74h0.7M152.89 510.46h0.7M123 492.79h0.7M148.5 506.49h0.7M132.53 529.42h0.7M104.53 476.73h0.7M126.58 505.54h0.7M122.24 487.83h0.7M108.79 495.52h0.7M133.11 493.79h0.7M113 502.83h0.7M112.47 498.6h0.7M104.03 517.51h0.7M102.36 525.1h0.7M140.52 526.04h0.7M114.96 469.91h0.7M153.06 485.17h0.7M150.5 524.26h0.7M110.54 527.4h0.7M107.68 493.45h0.7M146.92 526.67h0.7M155.53 517.03h0.7M122.63 490.87h0.7M106.43 462.35h0.7M140.65 491.71h0.7M137.27 520.57h0.7M146.85 462.26h0.7M96.88 489.28h0.7M113.11 531.33h0.7M143.41 504.12h0.7M133.66 530.97h0.7M133.51 499.96h0.7M129.38 524.17h0.7M106.03 513.52h0.7M141.11 484h0.7M139.19 498.29h0.7M130.19 527.22h0.7M137.66 498.76h0.7M123.11 530.21h0.7M103.98 510.19h0.7M114.95 529.88h0.7M133.2 488.25h0.7M121.94 516.3h0.7M151.72 526.08h0.7M143.62 480.61h0.7M119.51 488.88h0.7M119.14 519.15h0.7M136.37 496.17h0.7M103.23 488.97h0.7M101.06 516.39h0.7M129.47 522.67h0.7M99.5 497.73h0.7M148.86 501.98h0.7M110.37 501.95h0.7M141.51 497.65h0.7M142.72 504.51h0.7M104.07 475.91h0.7M142.56 511.22h0.7M150.2 456.08h0.7M114.68 511.46h0.7M99.49 512.79h0.7M141.15 511.08h0.7M133.26 509.08h0.7M114.29 519.86h0.7M108.79 493.49h0.7M136.89 528.6h0.7M142.64 505.17h0.7M103.78 497.66h0.7M109.85 489.26h0.7M136.52 503.31h0.7M115.96 519.65h0.7M142.93 523.64h0.7M143.6 485.28h0.7M131.74 517.94h0.7M110.17 510.51h0.7M132.4 531.72h0.7M113.25 518.3h0.7M118.35 482.47h0.7M103.44 525.13h0.7M99.2 504.1h0.7M146.56 497.85h0.7M138.76 492.67h0.7M151.43 526.37h0.7M147.76 494.68h0.7M108.92 528.8h0.7M148.66 475.06h0.7M131.3 502.84h0.7M139.6 464.66h0.7M124.12 488.22h0.7M110.55 516.83h0.7M107.49 524.36h0.7M118.73 462.33h0.7M107.09 512.29h0.7M143.37 493.77h0.7M121.27 478.93h0.7M144.87 505.57h0.7M121.61 493.28h0.7M147.29 518.95h0.7M101.42 493.75h0.7M144.44 492.97h0.7M124.55 506.81h0.7M114.5 496.36h0.7M154.9 515.03h0.7M132.98 506.25h0.7M142.96 502.08h0.7M102.66 532.18h0.7M108.34 528.22h0.7M134.06 521.37h0.7M140.01 489.87h0.7M104.35 505.35h0.7M129.45 492.37h0.7M108.58 455.27h0.7M131.12 523.98h0.7M119.59 526.21h0.7M135.3 508.91h0.7M114.8 506.78h0.7M119.69 494.03h0.7M151.14 518.24h0.7M118.98 519.11h0.7M124.89 496.22h0.7M146.32 506.37h0.7M106.78 514.5h0.7M105.64 530.08h0.7M134.19 486.66h0.7M128.87 518.07h0.7M107.24 502.25h0.7M118.93 488.03h0.7M147.61 526.68h0.7M140.87 525.52h0.7M148.23 520.89h0.7M118.93 490.56h0.7M132.26 510.74h0.7M116.59 519.19h0.7M105.65 504.46h0.7M117.61 532.33h0.7M108.22 492.12h0.7M150.12 508.18h0.7M129.76 515.32h0.7M146.93 527.36h0.7M147.8 522.12h0.7M147.94 522.31h0.7M138.86 494.68h0.7M138.99 495.96h0.7M147.43 499.04h0.7M124.93 498.68h0.7M134.51 497.15h0.7M124.69 529.55h0.7M136.5 520.28h0.7M119.05 489.96h0.7M106.61 466.35h0.7M118.5 507.12h0.7M105.08 507.61h0.7M147.7 514.9h0.7M114.14 532.52h0.7M139.36 490.14h0.7M104.17 496.21h0.7M150.32 524.86h0.7M113.85 529.8h0.7M131.79 524.52h0.7M105.57 523.62h0.7M127.99 517.63h0.7M117.76 479.85h0.7M118.64 492.29h0.7M117.45 504.43h0.7M134.56 511.9h0.7M143.63 517.55h0.7M115.47 526.64h0.7M147.84 528.13h0.7M129.18 511.74h0.7M117.57 486.43h0.7M147.64 474.05h0.7M153.32 512.02h0.7M140.9 506.99h0.7M111.67 517.63h0.7M110.71 494.96h0.7M107.51 463.75h0.7M121.97 479.57h0.7M129.34 474.35h0.7M122.21 495.72h0.7M134.79 514.74h0.7M108.61 476h0.7M113.84 515.71h0.7M143.92 532.37h0.7M133.06 520.14h0.7M149.52 509.84h0.7M114.72 429.64h0.7M111.82 485.94h0.7M136.19 513.34h0.7M111.71 498.72h0.7M114.42 499.37h0.7M146.2 528.12h0.7M112.9 498.06h0.7M134.82 506.58h0.7M123.92 473.39h0.7M131.35 520.63h0.7M119.53 503.66h0.7M104.73 517.55h0.7M150.27 519.25h0.7M151.14 492.86h0.7M128.8 520.43h0.7M151.13 502.94h0.7M148.92 467.96h0.7M138.02 531.01h0.7M124.7 511.08h0.7M118.48 507.19h0.7M125.52 530.31h0.7M137.97 488.48h0.7M134.41 521.36h0.7M140.26 505.97h0.7M139.73 505.73h0.7M145.05 477.68h0.7M141.28 504.23h0.7M154.24 500.5h0.7M116.97 501.7h0.7M120.43 475.39h0.7M141.02 491.36h0.7M105.67 525.46h0.7M131.52 513.23h0.7M116.88 503.32h0.7M141.46 526.39h0.7M131.21 493.68h0.7M145.27 513.56h0.7M146.33 496.46h0.7M104.74 507.9h0.7M124.7 519.63h0.7M98.76 485.69h0.7M105.03 497.47h0.7M112.69 495.31h0.7M139.37 525.34h0.7M151.65 521.57h0.7M112 496.79h0.7M112.08 495.17h0.7M115.82 471.52h0.7M143.09 493.89h0.7M131.9 489.59h0.7M148.65 471.65h0.7M149.79 518.78h0.7M148.46 510.86h0.7M132.05 497.26h0.7M148.95 505.51h0.7M124.38 522.49h0.7M145.19 483.74h0.7M121.06 520.85h0.7M106.34 510.77h0.7M148.71 532.16h0.7M144.7 473.9h0.7M102.56 520.58h0.7M140.33 508.81h0.7M143.96 508.7h0.7M146.67 525.3h0.7M121.13 492.37h0.7M146.25 520.5h0.7M121.98 439.56h0.7M142.48 491.95h0.7M111.5 504.53h0.7M112.94 502.25h0.7M148.59 484.13h0.7M146.88 469.87h0.7M137.2 488.72h0.7M138.58 493.84h0.7M142.27 494.39h0.7M150.36 516.93h0.7M146.49 467.29h0.7M117.16 489.95h0.7M137.16 530.12h0.7M131.73 500.9h0.7M104.04 509.66h0.7M99.78 508.6h0.7M147.64 508.65h0.7M148.39 513.69h0.7M131.57 516.14h0.7M139.96 515.34h0.7M126.71 522.22h0.7M101.28 516.07h0.7M125.25 514.01h0.7M107.47 439.39h0.7M124.08 513.35h0.7M141.08 510.49h0.7M139.6 494.64h0.7M115.74 517.26h0.7M140.93 515.08h0.7M148.21 493.1h0.7M117.65 498.16h0.7M134.97 530.21h0.7M148.03 497.77h0.7M102.46 517.83h0.7M139.65 517h0.7M116.68 517.26h0.7M116.22 458.7h0.7M140.48 528.21h0.7M119.95 510.2h0.7M114.46 516.92h0.7M105.01 501.2h0.7M140.31 529.43h0.7M112.51 517.93h0.7M147.99 455.12h0.7M132.15 501.95h0.7M118.71 468.94h0.7M108.66 479.17h0.7M146.23 511.96h0.7M122.17 506.02h0.7M140.48 504.19h0.7M128.31 527.61h0.7M110.69 490.91h0.7M137.8 511.87h0.7M109.95 523.55h0.7M99.68 453.83h0.7M141.78 512.13h0.7M124.84 502.27h0.7M114.32 512.7h0.7M114.99 450.55h0.7M102.91 528.59h0.7M101.53 529.61h0.7M153.78 529.83h0.7M133.92 502.8h0.7M99.8 511.3h0.7M131.25 492.95h0.7M147.54 529.24h0.7M131.64 519.37h0.7M125.91 515.01h0.7M148.52 511.58h0.7M142.6 517.35h0.7M112.01 521.38h0.7M113.88 472.96h0.7M148.7 474.84h0.7M111.93 467.32h0.7M152.19 491.03h0.7M114.9 498.4h0.7M118.71 500.54h0.7M107.93 518.32h0.7M103.86 532.34h0.7M102.36 487.39h0.7M116.28 526.18h0.7M111.37 481.98h0.7M150.48 502.9h0.7M94.09 444.9h0.7M101 500.23h0.7M151.52 500.97h0.7M147.98 528.08h0.7M120.07 523.23h0.7M143.65 514.52h0.7M108.88 496.63h0.7M113.59 498.74h0.7M147.04 496.42h0.7M153.46 527.48h0.7M128.09 508.06h0.7M147.22 495.01h0.7M133.9 504h0.7M119.28 529.63h0.7M142.41 508.46h0.7M105.22 515.49h0.7M133.36 507.02h0.7M136.74 510.16h0.7M110.36 500.54h0.7M119.89 468.1h0.7M111.77 499.1h0.7M96.4 478.3h0.7M104.39 495.4h0.7M112.65 493.2h0.7M118.75 513.52h0.7M133.54 525.94h0.7M152.26 488.79h0.7M115.98 498.47h0.7M101.53 519.6h0.7M109.9 508.78h0.7M100.88 503.47h0.7M147.03 502.25h0.7M139.95 492.62h0.7M155.03 495.28h0.7M111.23 503.69h0.7M150.9 493.1h0.7M117.37 532.66h0.7M118.56 523.86h0.7M143.04 531.55h0.7M145.37 472.16h0.7M97.7 501.12h0.7M140.45 491.8h0.7M139.69 506.57h0.7M141.76 499.48h0.7M100.35 504.91h0.7M102.21 491.59h0.7M145.95 508.27h0.7M140.39 499.13h0.7M119.77 515.6h0.7M140.89 487.28h0.7M138.49 530.63h0.7M148.47 502.43h0.7M111.59 489.03h0.7M146.97 500.59h0.7M141.95 509.09h0.7M142.21 527.5h0.7M139.88 511.42h0.7M117.65 498.28h0.7M131.07 503.86h0.7M102.47 458.04h0.7M94.41 441.35h0.7M132.08 494.57h0.7M103.13 473.91h0.7M142.69 508.97h0.7M140.95 496.35h0.7M148.46 495.17h0.7M116.58 514.21h0.7M126.46 531.13h0.7M112.75 499.53h0.7M137 516.22h0.7M149.01 519.8h0.7M149.76 491.03h0.7M145.17 532.3h0.7M135.39 509.37h0.7M142.13 505.55h0.7M98.28 501.03h0.7M140.93 515.6h0.7M119.08 474.81h0.7M101.15 447.13h0.7M109.15 527.69h0.7M136.75 501.39h0.7M110.99 522.65h0.7M133.25 501.36h0.7M151.53 496.58h0.7M108.64 508.49h0.7M143.46 478.25h0.7M101.78 526.96h0.7M122 493.67h0.7M157.5 525.2h0.7M140.82 488.46h0.7M114.63 505.88h0.7M107.84 479.09h0.7M110.83 505.16h0.7M143.22 526.32h0.7M150.7 499.8h0.7M129.61 518.6h0.7M143.01 510.61h0.7M125.38 463.27h0.7M133.39 527.1h0.7M146.27 502.31h0.7M117.07 505.68h0.7M114.09 449.18h0.7M121.07 499.99h0.7M130.86 527.34h0.7M120.58 516.16h0.7M139.22 495.61h0.7M130.57 500.33h0.7M124.14 489.48h0.7M154.62 511.98h0.7M140.12 520.4h0.7M127.71 532.41h0.7M132.86 494.97h0.7M143.5 503.47h0.7M148.49 500.48h0.7M125.13 502.96h0.7M100.82 504.05h0.7M138.31 494.86h0.7M130.55 463.93h0.7M112.35 512.96h0.7M117.59 509.28h0.7M145.18 500.13h0.7M104.63 514.74h0.7M110.69 471.51h0.7M137.8 517.06h0.7M133.53 487.01h0.7M143.74 514.94h0.7M115.02 506.29h0.7M144.38 493.69h0.7M128.71 504.38h0.7M108.46 477.99h0.7M102.97 503.44h0.7M132.86 491.24h0.7M115.1 495.88h0.7M132.78 490.52h0.7M115.75 525.27h0.7M132.16 515.49h0.7M139.27 509.66h0.7M107.17 469.74h0.7M121.28 499.44h0.7M109.19 504.91h0.7M132.23 500.65h0.7M140.96 495.28h0.7M116.43 497.35h0.7M137.75 532.19h0.7M131.41 531.02h0.7M134.01 492.49h0.7M115.79 469.15h0.7M104.99 526.64h0.7M144.28 509.1h0.7M148.06 516.28h0.7M105.81 509.14h0.7M141.25 527.93h0.7M111.34 496.62h0.7M111.7 492.54h0.7M134.05 515.51h0.7M109.65 511.48h0.7M139.38 498.94h0.7M125.1 486.01h0.7M119.43 503.39h0.7M144.15 460.76h0.7M146.31 531.83h0.7M142.45 473.34h0.7M122.63 528.34h0.7M115.49 519.5h0.7M116.06 522.44h0.7M131.98 520.23h0.7M148.77 477.43h0.7M132.08 498.25h0.7M134.92 531.29h0.7M107.85 508.7h0.7M138.5 514.67h0.7M147.06 523.45h0.7M107.91 511.03h0.7M130.07 499.32h0.7M109.13 487.48h0.7M144.84 514.3h0.7M118.82 530.98h0.7M105.24 462.15h0.7M101.95 530.65h0.7M124.08 497.83h0.7M126.76 507.57h0.7M114.71 481.87h0.7M109.88 525.96h0.7M140.56 454.33h0.7M113.37 526.53h0.7M139.57 505.33h0.7M142.78 517.47h0.7M93.33 451.6h0.7M147.11 464.71h0.7M147.52 493.52h0.7M141.67 517.64h0.7M102.04 516.48h0.7M150.71 483.35h0.7M109.22 523.65h0.7M110.73 476.02h0.7M146.13 491.43h0.7M140.48 460.59h0.7M135.79 500.84h0.7M146.49 506.98h0.7M115.7 509.17h0.7M136.49 503.34h0.7M107.62 466.99h0.7M116.71 442.07h0.7M137.88 516.66h0.7M119.84 506.92h0.7M142.55 497.3h0.7M144.28 467.22h0.7M147.05 468.97h0.7M112.67 513.06h0.7M136.22 510.32h0.7M122.3 466.14h0.7M108.78 513.48h0.7M121.1 529.16h0.7M109.46 519.64h0.7M107.62 485.98h0.7M113.24 524.91h0.7M115.41 509.94h0.7M121.64 496.37h0.7M101.88 510.34h0.7M120.63 507.81h0.7M130.8 515.9h0.7M128.65 507.42h0.7M99.38 495.8h0.7M139.77 503.63h0.7M139.79 445.73h0.7M111.26 512.58h0.7M119.03 526.64h0.7M145.43 471.74h0.7M103.22 510.58h0.7M146.69 523.7h0.7M140.2 492.56h0.7M138.17 502.92h0.7M145.12 508h0.7M138.17 460.35h0.7M92.8 467.91h0.7M107.53 498.98h0.7M126.51 517.15h0.7M136.05 509.58h0.7M118.73 530.97h0.7M138.41 518.77h0.7M102.88 499.45h0.7M122.15 468.43h0.7M96.92 445.46h0.7M125.82 523.31h0.7M130.93 466.44h0.7M134.83 527.52h0.7M142.27 515.51h0.7M133.42 502.58h0.7M111.93 472h0.7M136.67 498.12h0.7M139.33 503.97h0.7M151.63 518.33h0.7M118.5 495.94h0.7M139.25 524.51h0.7M142.72 521.29h0.7M152.77 480.12h0.7M123.7 529.5h0.7M146.14 503.84h0.7M126.4 509.52h0.7M108.26 491.52h0.7M138.81 510.89h0.7M112.37 478.2h0.7M101.86 509.02h0.7M146.27 492.38h0.7M122.86 505.13h0.7M125.96 503.72h0.7M113.78 523.76h0.7M102.59 494.78h0.7M142.84 492.94h0.7M146.32 458.61h0.7M130.03 500.11h0.7M141.09 530.33h0.7M122.3 496.32h0.7M103.41 457.29h0.7M108.44 512.09h0.7M122.94 531.54h0.7M138.76 491.6h0.7M146.33 518.39h0.7M122.21 528.34h0.7M146.94 518.93h0.7M126.09 477.64h0.7M143.47 460.7h0.7M130.45 526.55h0.7M102.67 505.11h0.7M118.53 490.03h0.7M126.2 531.82h0.7M115.99 516.14h0.7M123.2 517.66h0.7M103.51 503.12h0.7M126.94 499.98h0.7M102.02 494.17h0.7M114.03 506.38h0.7M94.8 451.66h0.7M129.99 516.27h0.7M102.45 515.66h0.7M109.91 505.56h0.7M139.18 509.12h0.7M147.7 474.91h0.7M143.43 502.77h0.7M117.88 487.63h0.7M140.86 503.86h0.7M96.05 479.66h0.7M144.12 526.13h0.7M104.46 492.52h0.7M150.63 524.73h0.7M130.58 513.69h0.7M142.37 498.76h0.7M136.83 514.22h0.7M122.53 493.62h0.7M142.56 496.84h0.7M139.34 501.61h0.7M134.26 526.27h0.7M114.61 497.54h0.7M110.62 506.82h0.7M106.38 509.17h0.7M117.97 515.09h0.7M143.97 488.75h0.7M119.89 505.24h0.7M152.95 449.33h0.7M105.62 530.22h0.7M147.6 487.1h0.7M102.05 501.93h0.7M102.2 525.58h0.7M121.04 496.93h0.7M149.29 496.88h0.7M149.47 490.1h0.7M105.51 440.94h0.7M114.01 494.72h0.7M133.86 473.59h0.7M142.12 501.79h0.7M146.13 500.54h0.7M114.87 527.46h0.7M123.24 493.81h0.7M125.67 526.92h0.7M111.23 521.82h0.7M117.19 487.41h0.7M121.53 453.7h0.7M111.45 528.12h0.7M108.23 497.52h0.7M152.57 504.87h0.7M148.09 530.24h0.7M107.75 504.98h0.7M109.17 479.03h0.7M116.13 528.65h0.7M126.87 515.05h0.7M107.57 511.58h0.7M114.32 503.79h0.7M153.1 486.43h0.7M118.51 508.72h0.7M114.82 506.26h0.7M108.65 496.82h0.7M144.79 525.96h0.7M103.57 508.87h0.7M137.2 525.72h0.7M103.03 473.44h0.7M111.96 519.42h0.7M112.05 532.89h0.7M106.09 530.52h0.7M138.55 499.42h0.7M123.58 496.55h0.7M133.29 528.39h0.7M144.81 515h0.7M102.19 497.78h0.7M142.91 495.03h0.7M142.88 509.66h0.7M155.25 494.09h0.7M107.69 496.59h0.7M132.55 518.37h0.7M112.85 500.51h0.7M153.57 522.64h0.7M146.23 509.43h0.7M121.87 531.45h0.7M144.58 511.21h0.7M139.7 503.16h0.7M98.38 494.2h0.7M132.5 527.93h0.7M118.45 528.07h0.7M102.56 502.79h0.7M143.5 493.28h0.7M140.15 467.41h0.7M143.02 492.7h0.7M111.16 505.09h0.7M145.73 528.69h0.7M140.05 525.58h0.7M147.23 489.73h0.7M103.09 527.67h0.7M122.88 525.31h0.7M146.48 510.71h0.7M133.86 508.99h0.7M145.57 471.37h0.7M106.45 531.7h0.7M125.15 529.23h0.7M136.88 489.84h0.7M114.06 492.92h0.7M137.5 494.95h0.7M148.26 485.2h0.7M143.78 472.16h0.7M114.4 519.61h0.7M152.41 524.23h0.7M133.76 505.8h0.7M120.61 519.07h0.7M127.05 501.79h0.7M114.85 530.29h0.7M109.57 493.53h0.7M118.33 489.42h0.7M130.11 520.12h0.7M135.65 530.74h0.7M103.25 528.8h0.7M104.83 491.77h0.7M112.07 509.96h0.7M149.36 469.36h0.7M116.67 502.46h0.7M117.9 466.87h0.7M106.83 470.91h0.7M106.42 505.66h0.7M115.02 447.05h0.7M98.64 459.28h0.7M130.69 526.72h0.7M135.32 483.17h0.7M107.33 458.37h0.7M115.76 528.77h0.7M141.43 505.89h0.7M122.27 494.29h0.7M114.97 495.17h0.7M124.13 505.12h0.7M146.71 510.14h0.7M109.91 531.78h0.7M129.2 495.21h0.7M99.37 515.38h0.7M120.95 516.51h0.7M146.45 458.07h0.7M127 490.42h0.7M137.7 488.6h0.7M145.38 531.64h0.7M114.06 457.63h0.7M107.6 517.45h0.7M128.55 493.72h0.7M149.49 480.72h0.7M107.78 523.92h0.7M135.03 489.76h0.7M112.5 507.67h0.7M150.01 461.1h0.7M124.34 470.04h0.7M126.31 510.97h0.7M135.64 509.1h0.7M102.81 523.29h0.7M107.7 469.98h0.7M131.03 495.63h0.7M150.61 506.4h0.7M127.08 516.2h0.7M134.55 516.36h0.7M123.54 493.67h0.7M107.64 469.35h0.7M106.64 496.08h0.7M109.63 475.86h0.7M142.75 516.43h0.7M135.04 503.07h0.7M94.04 463.33h0.7M146.32 469.56h0.7M141.64 503.83h0.7M143.87 490.47h0.7M138.59 530.16h0.7M124.94 523.97h0.7M146.43 519.6h0.7M138.23 494.96h0.7M138.16 494.08h0.7M125.46 526.07h0.7M117.75 496.21h0.7M138.03 485.99h0.7M101.95 500.2h0.7M103.23 514.45h0.7M134.47 530.46h0.7M101.39 525.55h0.7M121.3 483.79h0.7M146.33 494.21h0.7M117.9 510.21h0.7M132.07 510.62h0.7M131.72 529.07h0.7M105.19 499.68h0.7M118.36 457.07h0.7M111.51 469.97h0.7M140.73 515.71h0.7M148.23 497.99h0.7M144.68 494.55h0.7M143.3 492.26h0.7M141.79 516h0.7M104.76 507.63h0.7M147.56 495.6h0.7M127.45 523.42h0.7M149.28 493.81h0.7M132.07 490.24h0.7M107.23 523.93h0.7M123.22 469.77h0.7M132.04 516.17h0.7M130.74 501.75h0.7M150.41 497.18h0.7M105.03 505.07h0.7M145 492.34h0.7M150.97 487.18h0.7M108.76 464.26h0.7M110.05 526.15h0.7M148.36 503.16h0.7M144.8 523.39h0.7M116.64 503.52h0.7M110.67 517.09h0.7M142.67 527.99h0.7M150.05 466.26h0.7M127.33 498.17h0.7M139.22 500.95h0.7M149.15 508.99h0.7M121.5 494.86h0.7M134.17 503.64h0.7M121.09 522.38h0.7M151.53 512.63h0.7M148.01 525.23h0.7M141.2 495.34h0.7M117.62 500.56h0.7M139.49 485.27h0.7M123.63 507.44h0.7M150.4 526.69h0.7M105.68 511.55h0.7M116.68 513.26h0.7M139.49 475.15h0.7M122.07 518.43h0.7M108.81 528.83h0.7M147.86 488.22h0.7M149.25 492.77h0.7M140.56 507.61h0.7M125.18 511.72h0.7M146.11 475.24h0.7M106.96 471.74h0.7M143.03 458.46h0.7M134.69 511.47h0.7M126.82 499.11h0.7M120.24 492.32h0.7M119.29 524.28h0.7M147.72 465.65h0.7M115.31 508.84h0.7M144.46 490.92h0.7M143.16 463.73h0.7M136.79 502.33h0.7M119.23 531.62h0.7M105.41 510.85h0.7M121.94 498.06h0.7M119.29 518.94h0.7M154.03 501.37h0.7M155.17 491.26h0.7M141.94 483.7h0.7M142.81 509.84h0.7M144.16 466.67h0.7M121.03 502.47h0.7M136.52 501.81h0.7M110.27 499.63h0.7M145.38 499.4h0.7M118.34 505.9h0.7M102.87 500.88h0.7M143.82 512.89h0.7M118.19 461.7h0.7M116.61 497h0.7M120.25 489.7h0.7M120.19 509.05h0.7M147.45 501.23h0.7M118.18 457h0.7M109.75 507.08h0.7M106.3 515.54h0.7M115.62 507.79h0.7M129.44 507.18h0.7M141.98 496.93h0.7M123.51 505.7h0.7M105.78 531.35h0.7M139.48 519.71h0.7M131.38 520.18h0.7M135.72 519.8h0.7M145.71 474.44h0.7M121.55 516.82h0.7M131.4 522.83h0.7M135.13 488.14h0.7M140.43 523.95h0.7M123.53 505.65h0.7M122.06 520.01h0.7M107.6 521.79h0.7M98.41 502.76h0.7M142.59 512.4h0.7M104.76 481.43h0.7M106.92 503.05h0.7M137.69 497.91h0.7M109.92 528.28h0.7M145.29 464.23h0.7M147.71 496.78h0.7M121.7 469.21h0.7M132.76 521.62h0.7M105.89 487.52h0.7M110.16 521.74h0.7M132.76 504.01h0.7M127.42 509.87h0.7M149.55 457.42h0.7M124.72 491.52h0.7M150.51 529.06h0.7M146.08 512.98h0.7M100.09 526.27h0.7M107.62 482.94h0.7M138.22 511.57h0.7M139 528.57h0.7M125.43 522.7h0.7M138.94 505.58h0.7M136.8 487.64h0.7M131.49 501.49h0.7M99.84 508.88h0.7M115.16 524.96h0.7M143.33 500.52h0.7M150.94 498.82h0.7M143.7 502.14h0.7M104.61 473.91h0.7M130.45 511.14h0.7M102.44 532.53h0.7M112.66 526.92h0.7M104 511.41h0.7M141.85 500.59h0.7M101.11 508.54h0.7M143.35 516.46h0.7M101.58 468.24h0.7M108.55 502.28h0.7M139.74 495.82h0.7M123.68 512.51h0.7M121.84 496.58h0.7M98.89 489.03h0.7M103.26 452h0.7M129.56 521.94h0.7M113.25 492.44h0.7M128.15 493.12h0.7M134.09 524.36h0.7M134.62 511.56h0.7M151.62 463.49h0.7M141.14 507.14h0.7M136.68 516.46h0.7M143.59 495.2h0.7M150.1 494.72h0.7M103.57 507.34h0.7M121.7 515.01h0.7M139.68 518.97h0.7M144.61 520.07h0.7M135.25 501.04h0.7M145.66 476.9h0.7M134.03 517.3h0.7M136.75 503.08h0.7M141.15 501.77h0.7M102.62 531.63h0.7M136.15 525.51h0.7M148.51 494.5h0.7M104.91 523.58h0.7M139.82 493.37h0.7M144.96 503.75h0.7M152.05 501.71h0.7M121.87 471.18h0.7M129.79 499.93h0.7M125.09 527.64h0.7M139.37 520.45h0.7M128.46 495.48h0.7M146.76 463.44h0.7M135.47 507.59h0.7M131.87 513.88h0.7M132.45 507.07h0.7M135.48 490.86h0.7M104.93 496.15h0.7M128.47 522.54h0.7M119.38 493.77h0.7M118.36 519.16h0.7M152.4 526.22h0.7M139.65 486.65h0.7M142.18 474.01h0.7M137.45 512.02h0.7M110.58 514.73h0.7M112.38 481.95h0.7M137.02 488.25h0.7M140.39 522.22h0.7M113.05 526.77h0.7M118.69 492.01h0.7M149.11 499.81h0.7M101.08 531.4h0.7M146.94 476.42h0.7M150.3 506.24h0.7M138.89 512.76h0.7M112.55 524.14h0.7M146.74 488.07h0.7M109.19 503.91h0.7M128.26 497.59h0.7M133.1 520.9h0.7M144.34 520.89h0.7M150.01 497.33h0.7M113.15 493.34h0.7M153.13 522.42h0.7M106.48 490.53h0.7M129.91 502.23h0.7M143.01 513.44h0.7M143.75 489.74h0.7M132.55 503.14h0.7M120.04 512.19h0.7M122.58 456.02h0.7M146.11 501.36h0.7M113.05 495.94h0.7M117.19 525.83h0.7M152.75 524.9h0.7M115.16 530.7h0.7M114.86 489.07h0.7M148.07 472.41h0.7M126.53 532.17h0.7M131.48 502h0.7M143.76 515.45h0.7M148.03 523.75h0.7M97.73 467.7h0.7M142.19 508.06h0.7M115.47 489.87h0.7M142.33 507.72h0.7M139.67 496.79h0.7M113.5 470.36h0.7M146.55 505.52h0.7M145.55 504.59h0.7M106.74 532.6h0.7M151.35 521.48h0.7M136.83 499.17h0.7M143.44 511.35h0.7M147 501.05h0.7M134 486.88h0.7M147.28 477.36h0.7M142.95 488.36h0.7M140.54 518.05h0.7M116.51 495.77h0.7M108.97 514.74h0.7M120.14 505.65h0.7M124.66 495.61h0.7M104.77 514.42h0.7M147.68 520.9h0.7M147.89 511.61h0.7M143.87 527.73h0.7M117.27 509.62h0.7M133.89 511.21h0.7M116.85 507.89h0.7M101.68 518.12h0.7M99.92 519.13h0.7M147.79 498.04h0.7M108.11 508.43h0.7M105.95 458.69h0.7M143.72 506.33h0.7M125.63 486.83h0.7M107.65 491.28h0.7M149.24 466.38h0.7M119.08 508.82h0.7M103.72 512.63h0.7M147.33 521.69h0.7M156.26 530.29h0.7M120.26 501.79h0.7M122.86 491h0.7M139.82 498.29h0.7M150.86 487.82h0.7M118.62 529.61h0.7M133.87 520.95h0.7M145.82 497.15h0.7M102.06 482.33h0.7M105.34 522.49h0.7M119.07 515.73h0.7M145.08 455.57h0.7M140.67 505.9h0.7M140.96 519.27h0.7M138.44 528.84h0.7M145.85 491.12h0.7M117.98 528.84h0.7M120.41 524.87h0.7M125.26 503.37h0.7M143.29 528.43h0.7M103.4 522.74h0.7M114.16 492.68h0.7M104.96 532.54h0.7M131.93 496.97h0.7M136.31 496.15h0.7M140.69 495.59h0.7M150.75 498.94h0.7M112.18 446.98h0.7M151.82 471.08h0.7M116.73 489.59h0.7M140.09 500.35h0.7M153.94 519.33h0.7M114.45 492.68h0.7M146.47 492.19h0.7M138.91 501.73h0.7M143.12 509.07h0.7M147.23 493.84h0.7M109.58 497.5h0.7M144.19 496.98h0.7M143.96 489.71h0.7M141.17 494.29h0.7M142 501.64h0.7M145.49 442.94h0.7M139.13 511.32h0.7M147.24 495.02h0.7M107.75 522.91h0.7M102.22 515.03h0.7M142.52 512.78h0.7M147.08 461.48h0.7M136.85 524.03h0.7M139.65 520.21h0.7M102.9 512.48h0.7M136.71 530.95h0.7M133.14 491.6h0.7M129.96 500.85h0.7M108.4 461.88h0.7M99.23 458.43h0.7M108.26 515.91h0.7M106.23 530.42h0.7M141.93 480.64h0.7M104.87 503.43h0.7M147.07 463.3h0.7M112.62 516.86h0.7M105.29 499.63h0.7M153.39 455.12h0.7M139.67 518.06h0.7M147.66 508.08h0.7M93.61 471.15h0.7M118.86 523.98h0.7M113.06 527.44h0.7M149.88 516.37h0.7M145.46 504.52h0.7M119.85 489.17h0.7M104.11 515.88h0.7M109.29 448.41h0.7M96.31 464.58h0.7M119.07 474.53h0.7M110.39 491.34h0.7M107.52 507.22h0.7M120.58 495.93h0.7M115.08 479.99h0.7M143 475.05h0.7M146.5 497.2h0.7M102.02 490.23h0.7M137.65 520.14h0.7M131.22 496.02h0.7M142.07 487.44h0.7M104.01 501.41h0.7M146.68 512.85h0.7M143.98 489.65h0.7M146.96 480.33h0.7M101.4 472.42h0.7M144.61 515.24h0.7M143.47 520.19h0.7M145.59 488.8h0.7M116.34 525.24h0.7M147.95 500.94h0.7M110.73 427.04h0.7M105.21 509.37h0.7M112.72 516.69h0.7M146.09 509.97h0.7M126.43 516.74h0.7M116.51 487h0.7M123.39 515.15h0.7M136.09 493.1h0.7M109.66 511.35h0.7M152.47 522.06h0.7M104.19 528.14h0.7M107.73 501.5h0.7M106.19 509.04h0.7M105.58 474.26h0.7M116.42 527.35h0.7M145.7 507.64h0.7M124.13 510.01h0.7M105.16 501.22h0.7M113.56 504.31h0.7M143.32 473.7h0.7M144.17 511.27h0.7M138.15 513.49h0.7M141.71 490.34h0.7M151.15 499.42h0.7M120.24 516.97h0.7M106.62 515.08h0.7M115.37 520.89h0.7M122.27 512.04h0.7M125.81 526.75h0.7M117.92 491.23h0.7M141.49 490.64h0.7M139.25 501.79h0.7M106.66 527.69h0.7M144.6 512.33h0.7M151.07 518.95h0.7M113.31 518.77h0.7M149.22 532.26h0.7M106.94 475.91h0.7M146.95 474.52h0.7M109.68 509.41h0.7M105.92 526.74h0.7M147.23 512.11h0.7M144.26 456.04h0.7M123.34 511.81h0.7M144.57 529.81h0.7M122.77 427.63h0.7M133.96 488.68h0.7M153.51 498.91h0.7M118.47 513.08h0.7M145.46 529.32h0.7M138.37 524.53h0.7M130.94 509.28h0.7M142.37 457.35h0.7M115.18 494.94h0.7M116.51 524.67h0.7M149.89 509.44h0.7M150.74 521.11h0.7M107.55 526.73h0.7M139.81 497.12h0.7M104.09 515.03h0.7M107.95 506.21h0.7M101.65 506.3h0.7M143.45 476.84h0.7M114.2 496.13h0.7M114.56 473.04h0.7M145.77 492.21h0.7M147.45 524.67h0.7M147.79 461.99h0.7M96.36 487.9h0.7M137.68 498.48h0.7M138.18 491.07h0.7M124.32 497.15h0.7M110.34 461.21h0.7M143.28 523.41h0.7M143.66 503.51h0.7M119.23 524.17h0.7M136.24 527.3h0.7M116.58 492.95h0.7M124.41 498.8h0.7M117.86 500.27h0.7M123.1 497.11h0.7M105.54 526.43h0.7M119.69 524.16h0.7M113.09 514.28h0.7M98.16 448.8h0.7M126.22 527.84h0.7M144.26 524.28h0.7M122.96 511.84h0.7M144.8 487.26h0.7M103.64 500.49h0.7M148.71 467.86h0.7M112.57 526.89h0.7M135.79 509.07h0.7M147.74 489.32h0.7M151.06 484.46h0.7M147.76 501.57h0.7M153.17 514.3h0.7M138.76 495.07h0.7M133.55 500.6h0.7M143.19 502.65h0.7M147.11 528.34h0.7M114.88 496.94h0.7M141.16 508.74h0.7M124.61 515.2h0.7M107.45 515.38h0.7M136.67 499.41h0.7M131.5 514.35h0.7M116.74 489.24h0.7M147.32 487.31h0.7M130.17 502.23h0.7M135.9 515.83h0.7M156.89 502.63h0.7M90.02 439.05h0.7M131.18 510.11h0.7M148.89 493.61h0.7M100.9 493.99h0.7M105.63 508.21h0.7M124.91 451.81h0.7M126.64 520.49h0.7M112.07 490.02h0.7M101.93 492.64h0.7M140.36 526.98h0.7M142.65 504.2h0.7M106.1 515.93h0.7M148.33 476h0.7M130.48 508.81h0.7M115.82 454.95h0.7M152.77 531.6h0.7M103.32 513.29h0.7M113.19 525.49h0.7M148.43 485.25h0.7M108.4 522.98h0.7M143.01 473.51h0.7M121.1 514.35h0.7M126.3 478.18h0.7M113.29 531.05h0.7M150.88 501.25h0.7M145.91 499.59h0.7M109.21 502.98h0.7M110.37 464.67h0.7M144.11 447.18h0.7M107.79 530.69h0.7M103.33 465.12h0.7M153.29 494.86h0.7M141.09 462.9h0.7M123.02 466.18h0.7M137.97 526.79h0.7M148.5 523.4h0.7M108.93 516.86h0.7M148.31 531.99h0.7M136.33 488.47h0.7M104.62 492.06h0.7M124.53 489.57h0.7M145.44 492.91h0.7M142.18 487.71h0.7M117.46 514.57h0.7M113.46 517.61h0.7M144.72 521.82h0.7M156.23 496.06h0.7M134.53 518.59h0.7M150.41 529.49h0.7M143.76 513.25h0.7M103.33 504.91h0.7M138.61 488.36h0.7M131.53 507.8h0.7M134.4 528h0.7M101.08 525.5h0.7M143.53 486.11h0.7M112.74 531.02h0.7M148.57 503.07h0.7M145.29 503.48h0.7M136.54 501.34h0.7M145.11 499.48h0.7M134.7 502.03h0.7M105.78 530.76h0.7M107.17 510.1h0.7M145.58 484.31h0.7M108.55 498.33h0.7M118.05 496.64h0.7M121.26 522.24h0.7M106.94 504.97h0.7M139.55 503.21h0.7M136.82 488.79h0.7M123.07 521.01h0.7M99.49 516.02h0.7M144.25 457.8h0.7M114.16 495.9h0.7M122.8 506.21h0.7M145.39 512.09h0.7M138.62 513.45h0.7M132.43 502.9h0.7M136.27 515.7h0.7M147.27 508.76h0.7M122.65 510.33h0.7M150.61 518.88h0.7M99.17 440.22h0.7M131 496.08h0.7M99.08 458.66h0.7M111.39 502.04h0.7M119.63 526.09h0.7M147.85 525.59h0.7M102.98 491.56h0.7M112.28 470.83h0.7M109.86 529.47h0.7M119.36 461.62h0.7M104.22 502.85h0.7M147.68 470.39h0.7M112.83 510.56h0.7M129.87 522.24h0.7M116.01 529.87h0.7M119.83 518.12h0.7M129.58 449.71h0.7M156.75 488.66h0.7M142.87 489.47h0.7M141 500.05h0.7M134.89 528.54h0.7M119.54 514.83h0.7M116.56 517.38h0.7M105.99 503.63h0.7M144.88 490.35h0.7M119.55 491.61h0.7M120.69 531.12h0.7M113.28 496.59h0.7M108.63 508.21h0.7M151.02 532h0.7M117.86 503.21h0.7M119.77 505.44h0.7M141.19 495.18h0.7M106.34 489.89h0.7M100.7 515.56h0.7M125.03 491.67h0.7M104.26 502.72h0.7M155.8 510.54h0.7M118.71 522.58h0.7M103.99 519.86h0.7M153.57 490.94h0.7M144.72 477.72h0.7M102.69 518.43h0.7M124.43 491.39h0.7M142.05 475.35h0.7M139.62 521.43h0.7M114.06 512.98h0.7M135.1 503.17h0.7M113.36 471.67h0.7M121.32 500.62h0.7M119.7 520.11h0.7M104.69 517.74h0.7M146.37 514.06h0.7M119.72 493.81h0.7M145.44 511.13h0.7M123.04 518.57h0.7M110.85 517.28h0.7M135.61 501.8h0.7M138.61 511.52h0.7M99.55 489.12h0.7M145.7 515.4h0.7M133.88 511.63h0.7M139.63 519.69h0.7M106.31 509.99h0.7M152.85 493.69h0.7M101.37 520.23h0.7M120.51 509.73h0.7M134.6 532.61h0.7M135.14 529.48h0.7M99.97 511.24h0.7M140.34 513.5h0.7M101.31 526.72h0.7M119.66 528.54h0.7M123.33 504.68h0.7M151.04 519.24h0.7M144.7 461.04h0.7M100.22 532.75h0.7M115.47 508.7h0.7M133.48 502.42h0.7M148.66 505.11h0.7M146.7 519.34h0.7M134.23 522.35h0.7M143.04 451.52h0.7M114.26 526.09h0.7M112.3 495.36h0.7M105.58 470.44h0.7M133.56 527.56h0.7M117.74 516.42h0.7M140.67 529.89h0.7M126.9 524.69h0.7M149.81 518h0.7M146.59 469.62h0.7M151.37 501.72h0.7M144.24 482.6h0.7M151.73 503.81h0.7M151.24 496.18h0.7M124.03 464.04h0.7M100.23 497.92h0.7M122.14 456.52h0.7M129.92 531.14h0.7M137.23 506.8h0.7M117.51 523.65h0.7M106.85 488.53h0.7M130.97 520.84h0.7M120.35 467.95h0.7M109.67 508.86h0.7M149.27 499.59h0.7M111.41 521.26h0.7M95.8 465.59h0.7M131.17 467.4h0.7M148.95 493.3h0.7M134.07 503.91h0.7M146.39 526.59h0.7M142.5 528.19h0.7M140.53 505.15h0.7M115.44 528.86h0.7M152.18 438.31h0.7M146.72 508.25h0.7M100.35 515.4h0.7M114.31 471.38h0.7M120.06 527.14h0.7M138.42 495.95h0.7M101.49 515.18h0.7M123.25 531.49h0.7M150.33 532.72h0.7M122.78 506.45h0.7M101.8 525.59h0.7M107.68 515.82h0.7M125.17 514.13h0.7M150.74 508.75h0.7M112.46 499.26h0.7M133.2 499.32h0.7M101.62 471.69h0.7M136.11 517.99h0.7M143.11 508.3h0.7M97.83 455.05h0.7M110.47 495.35h0.7M139.84 509.06h0.7M148.75 464.89h0.7M139.6 529.73h0.7M104.33 513.45h0.7M139.5 512.61h0.7M115.53 529.47h0.7M135.26 514.76h0.7M129.67 487.14h0.7M135.09 526.4h0.7M147.46 506.2h0.7M105.56 506.21h0.7M116.83 516.52h0.7M141.53 489.22h0.7M132.92 501.68h0.7M144.19 503.08h0.7M139.59 528.32h0.7M120.72 477.01h0.7M143.92 468.21h0.7M102.92 498.02h0.7M135.85 510.38h0.7M142.52 490.74h0.7M136.51 493.3h0.7M151.36 456.71h0.7M102.28 532.61h0.7M99.2 525.79h0.7M124.78 532.38h0.7M150.97 508.94h0.7M151.73 492.17h0.7M144.84 495.64h0.7M147.88 532.56h0.7M104.55 492.09h0.7M124.64 513.4h0.7M132.09 497.72h0.7M101.05 508.04h0.7M125.46 522.67h0.7M126.64 502.55h0.7M147.98 460.3h0.7M141.55 490.28h0.7M147.98 456.24h0.7M129.47 510.1h0.7M147.35 495.83h0.7M124.54 484.52h0.7M141.51 516.32h0.7M149.51 487.44h0.7M148.74 523.02h0.7M111.92 494.82h0.7M130.55 520.34h0.7M152.2 514.15h0.7M140.33 487.6h0.7M131.2 500.44h0.7M140.79 497.7h0.7M113.85 470.58h0.7M101.14 495.62h0.7M144.31 488.94h0.7M105.83 529.01h0.7M148.87 489.01h0.7M116.72 468.08h0.7M110.84 522.4h0.7M133.34 493.57h0.7M105.14 513.97h0.7M110.39 506.07h0.7M98.59 489.85h0.7M146.92 521.17h0.7" stroke="#2a2a2a" stroke-width="0.7"/>
<path d="M266.24 495h0.7M234.09 482.83h0.7M277.25 492.53h0.7M257.92 532.39h0.7M267.04 511.87h0.7M225.87 482.96h0.7M263.81 474.98h0.7M235.17 522.08h0.7M257.69 515.26h0.7M284.24 523.94h0.7M249.63 468.71h0.7M234.99 517.74h0.7M279.47 472.88h0.7M287.87 452.74h0.7M266.74 494.43h0.7M248.91 503.64h0.7M272.37 510.61h0.7M229.09 478.69h0.7M265.73 484.26h0.7M242.25 477.83h0.7M282.7 484.73h0.7M251.9 532.08h0.7M262.41 503.38h0.7M231.66 507.21h0.7M270.69 498.41h0.7M276.91 496.57h0.7M269.72 514.59h0.7M239.22 525.63h0.7M235.63 437.36h0.7M275.83 494.5h0.7M271.78 492.2h0.7M249.97 440.65h0.7M231.62 453.11h0.7M279.24 487.49h0.7M277.11 485.2h0.7M242.93 493.73h0.7M269.79 463.89h0.7M271.66 493.42h0.7M281.75 469.12h0.7M276.72 507.81h0.7M259.99 503.68h0.7M270.93 515.51h0.7M274.8 447.49h0.7M267.58 505.48h0.7M265.14 473.22h0.7M236.71 524.94h0.7M254.23 530.07h0.7M213.61 476.34h0.7M235.85 462.06h0.7M271.75 501.54h0.7M263.54 492.78h0.7M273.5 475h0.7M278.33 499.16h0.7M277.32 475.77h0.7M243.94 531.24h0.7M279.61 445.12h0.7M267.25 489.79h0.7M232.32 522.97h0.7M245.83 520.94h0.7M272.65 528.1h0.7M236.71 495.12h0.7M211.35 444.31h0.7M268.22 487.71h0.7M269.46 492.93h0.7M245.92 515.94h0.7M236.84 523.59h0.7M270.94 469.05h0.7M272.25 531.6h0.7M280.52 477.49h0.7M277.94 508.26h0.7M273.56 509.93h0.7M231.73 520.78h0.7M271.52 532.79h0.7M275.02 499.48h0.7M273.88 512.97h0.7M279.34 498.47h0.7M252.18 523.46h0.7M267.26 504.88h0.7M242.93 458.22h0.7M259.52 508h0.7M258.45 493.18h0.7M274.68 514.47h0.7M245.1 498.94h0.7M271.7 505.13h0.7M257.5 489.73h0.7M278.25 504.89h0.7M252.74 445.79h0.7M224.59 472.81h0.7M274.39 467.05h0.7M279.31 458.9h0.7M272.03 498.87h0.7M237.28 473.77h0.7M231.18 499.41h0.7M275.52 483.12h0.7M276.59 489.89h0.7M275.37 468.54h0.7M281.31 526.46h0.7M226.62 464.02h0.7M269.75 462.64h0.7M242.7 487.75h0.7M258.86 518.92h0.7M272.36 507.07h0.7M272.74 463.63h0.7M247.85 501.43h0.7M256.05 499.33h0.7M224.52 481.62h0.7M261.42 490.51h0.7M266.39 530.29h0.7M279.05 443.76h0.7M272.63 497.22h0.7M264.7 511.75h0.7M253.39 504.99h0.7M245.58 491.55h0.7M275.73 463.72h0.7M276.1 467.88h0.7M279.6 495.04h0.7M268.73 503.38h0.7M275.14 480.33h0.7M271.5 495.77h0.7M257.08 522.23h0.7M266.35 485.91h0.7M274.57 525.29h0.7M232.69 508.62h0.7M235.29 514.24h0.7M262.52 511.68h0.7M238.81 529.55h0.7M268.53 477.17h0.7M275.3 457.92h0.7M275.88 483.42h0.7M231.59 449.77h0.7M218.33 492.64h0.7M253.13 489.57h0.7M258.49 526.31h0.7M227.55 491.95h0.7M266.87 487.89h0.7M281.77 489.42h0.7M269.02 498.39h0.7M257.18 518.17h0.7M273.94 484h0.7M233.54 480.12h0.7M261.99 454.44h0.7M254.06 493.41h0.7M274.71 455.19h0.7M267.58 491.65h0.7M273.25 470.97h0.7M275.89 506.05h0.7M274.89 504.08h0.7M256.92 530.55h0.7M276.91 476.88h0.7M272.94 522.84h0.7M249.74 529.21h0.7M273.1 474.66h0.7M275.82 476.03h0.7M273.59 474.61h0.7M275.78 453.77h0.7M277.06 468.06h0.7M268.7 518.75h0.7M269.23 514.82h0.7M271.76 528.82h0.7M245.09 503.23h0.7M275.04 489.16h0.7M244.52 508.4h0.7M252.85 495.01h0.7M267.31 472.01h0.7M262.7 485.39h0.7M271.95 516.24h0.7M269.33 449.39h0.7M263.52 519.69h0.7M266.86 501.01h0.7M249.21 518.01h0.7M239.63 463.25h0.7M230.23 498.76h0.7M274.05 487.19h0.7M283.25 502.36h0.7M264.14 531.4h0.7M274.61 523.33h0.7M212.72 472.19h0.7M254.1 518.86h0.7M234.19 441.48h0.7M277.39 490.66h0.7M265.68 499.76h0.7M246.65 512.97h0.7M228.84 466.18h0.7M280.93 499.98h0.7M267.83 510.83h0.7M236 511.08h0.7M241.93 506.08h0.7M273.31 481.44h0.7M235.18 478.62h0.7M280.09 485.12h0.7M271.29 481.15h0.7M229.54 466.92h0.7M274.54 507.52h0.7M273.15 523.79h0.7M259.73 529.97h0.7M245.43 513.06h0.7M239.11 451.58h0.7M275.07 468.07h0.7M229.04 514.97h0.7M250.84 498.63h0.7M279.6 440.61h0.7M248.14 506.58h0.7M279.01 509.5h0.7M266.79 491.49h0.7M275.28 475.27h0.7M270.98 493.02h0.7M267.17 508.47h0.7M253.78 516.46h0.7M240.41 462.54h0.7M278.79 511.95h0.7M280.7 454.48h0.7M254.71 530.03h0.7M240.91 507.74h0.7M280.72 497.33h0.7M235.46 505.75h0.7M266.91 469.28h0.7M274.86 507.98h0.7M272.06 528.26h0.7M246.77 527.89h0.7M258.58 529.38h0.7M270.97 500.91h0.7M271.53 511.56h0.7M235.45 506.54h0.7M234.02 498.71h0.7M279.17 515.67h0.7M267.9 528.55h0.7M231.87 466.44h0.7M259.82 502.56h0.7M275.86 485.59h0.7M268.6 493.79h0.7M268.49 475.37h0.7M235.45 495.84h0.7M276.43 460.01h0.7M280.26 487.52h0.7M274.67 487.26h0.7M265.1 512.41h0.7M245.26 515.23h0.7M251.83 439.72h0.7M269.9 462.82h0.7M217.97 465.42h0.7M273.15 484.09h0.7M244.2 500.34h0.7M270.06 494.45h0.7M274.39 470.93h0.7M266.78 466.39h0.7M225.38 464.33h0.7M271.18 494.87h0.7M270.89 508.38h0.7M263.78 532.26h0.7M214.22 482.17h0.7M245.86 481.85h0.7M279.77 490.17h0.7M263.62 504.12h0.7M270.68 482.01h0.7M266.39 452.09h0.7M266.73 477.36h0.7M264.35 487.58h0.7M252.29 494.91h0.7M276.72 469.09h0.7M268.08 456.66h0.7M268.19 500.16h0.7M275.69 498.92h0.7M262.83 502h0.7M283.7 518.17h0.7M220.74 485.31h0.7M248.09 529.63h0.7M266.7 465.91h0.7M240.39 482.99h0.7M253.75 496.68h0.7M274.54 522.61h0.7M259.35 511.47h0.7M271.32 493.47h0.7M219.07 499.69h0.7M284.34 508.08h0.7M242.37 481.72h0.7M227.17 442.24h0.7M272.33 473.19h0.7M238.32 508.61h0.7M269.33 510.59h0.7M247.78 456.04h0.7M255.81 524.87h0.7M211.03 448.45h0.7M246.1 507.37h0.7M246.4 443.95h0.7M273.31 449.63h0.7M239.01 524.11h0.7M272.61 505.74h0.7M267.45 480.52h0.7M277.51 492.77h0.7M279.66 500.3h0.7M268.41 505.25h0.7M270.61 473.4h0.7M269.38 485.7h0.7M250.34 453.21h0.7M229.3 465.58h0.7M269.92 499.88h0.7M263.58 526.61h0.7M228.87 516.27h0.7M236.42 525.89h0.7M270.76 492.06h0.7M272.45 511.79h0.7M273.99 464.41h0.7M273.83 478.49h0.7M277.41 505.47h0.7M276.02 495.68h0.7M266.43 492.8h0.7M247.19 524.58h0.7M223.18 459.47h0.7M229.07 468.86h0.7M276.91 475.75h0.7M245.68 490.09h0.7M231.44 522.36h0.7M276.89 476.49h0.7M228.61 486.39h0.7M271.1 477.7h0.7M258.89 506.04h0.7M275.54 490.67h0.7M270.1 451.34h0.7M248.25 474.27h0.7M286.49 489.09h0.7M261.97 487.2h0.7M283.02 448.86h0.7M257.49 522.07h0.7M270.16 503.26h0.7M249.41 506.63h0.7M241.59 512.48h0.7M231.26 515.89h0.7M260.93 522.41h0.7M260.59 508.45h0.7M237.93 509.05h0.7M247.48 440.72h0.7M274.23 455.23h0.7M265.24 507.07h0.7M275.55 459.83h0.7M269.05 532.48h0.7M280.04 519.4h0.7M248.69 477.22h0.7M241.45 452.15h0.7M245.5 474.48h0.7M282.68 441.17h0.7M273.86 528.79h0.7M252.08 510.92h0.7M263.06 485.61h0.7M265.01 472.37h0.7M227.04 495.84h0.7M276.57 468.6h0.7M263.61 502.88h0.7M271.31 446.87h0.7M254.53 503.17h0.7M276.44 465.72h0.7M267.69 487.8h0.7M255.29 530.54h0.7M246.12 493.27h0.7M253.96 486.93h0.7M274.22 499.7h0.7M232.16 466.14h0.7M263.94 516.82h0.7M262.46 494.3h0.7M228.22 497.1h0.7M235.99 510.44h0.7M271.01 476.62h0.7M231.23 475.14h0.7M263.23 493.21h0.7M271 509.72h0.7M234.92 471.13h0.7M251.3 445.04h0.7M278.48 504.94h0.7M227.02 514.43h0.7M265.94 478.41h0.7M225.69 482.24h0.7M248.22 505.65h0.7M267.46 521.93h0.7M268.15 519.88h0.7M270.87 531.27h0.7M273.52 474.85h0.7M281.4 480.73h0.7M220.15 443.32h0.7M227.14 497.88h0.7M229.95 505.54h0.7M248.41 531.93h0.7M256.16 527.57h0.7M252.87 518.03h0.7M235.01 510.49h0.7M274.6 500.19h0.7M226.12 472.72h0.7M242.28 465.9h0.7M273.09 486.31h0.7M273.12 510.77h0.7M269.74 510.75h0.7M269.53 503.08h0.7M250.56 523.65h0.7M271.7 473.08h0.7M242.42 502.53h0.7M263.08 487.92h0.7M265.96 510.47h0.7M280.95 513.93h0.7M273.8 507.31h0.7M265.42 511.99h0.7M251.95 507.13h0.7M229.87 465.49h0.7M234.49 523.72h0.7M272.65 458.2h0.7M275.13 466.26h0.7M228.9 521.58h0.7M258.82 522.29h0.7M260.64 507.98h0.7M244.25 514.53h0.7M278.28 476.66h0.7M269.28 520.39h0.7M239.95 484.44h0.7M271.79 472.78h0.7M236.94 515.65h0.7M266.18 511.66h0.7M269.65 468.76h0.7M240.42 499.33h0.7M239.05 462.3h0.7M246.96 496.5h0.7M247.95 529.57h0.7M268.59 495.02h0.7M272.47 468.98h0.7M273.7 473.43h0.7M266.18 505.25h0.7M275.82 519.95h0.7M276.57 459.1h0.7M268.69 465.41h0.7M235.38 500.49h0.7M252.33 517.07h0.7M273.14 467.26h0.7M276.73 468.85h0.7M232.97 457.06h0.7M238.08 451.37h0.7M268.7 493.55h0.7M260.05 528.71h0.7M276.07 432.97h0.7M240.94 525.85h0.7M269.99 471.84h0.7M275.24 499.6h0.7M240.29 492.83h0.7M263.63 492.82h0.7M272.93 466.93h0.7M280.9 484.89h0.7M268.53 465.89h0.7M258.8 512.16h0.7M252.41 505.38h0.7M272.9 449.55h0.7M261.01 531.16h0.7M257.6 505.75h0.7M277.21 468.08h0.7M236.99 512.09h0.7M264.91 487.61h0.7M267.55 482.29h0.7M230.83 511.7h0.7M271.9 484.33h0.7M267.7 491.55h0.7M261.43 532.61h0.7M252.49 507.52h0.7M240.76 497.67h0.7M271.85 518.17h0.7M233.22 450.72h0.7M277.28 496.68h0.7M276.81 491.3h0.7M241.96 502.59h0.7M272.44 499.82h0.7M257.81 525.99h0.7M272.11 482.71h0.7M230.32 493.34h0.7M275.98 481.16h0.7M269.27 469.7h0.7M256.72 494.92h0.7M235.31 428.9h0.7M240.47 470.56h0.7M279.59 483.03h0.7M274.02 495.64h0.7M244.06 480.89h0.7M272.79 487.02h0.7M274.5 506.57h0.7M270.65 501.49h0.7M243.26 468.89h0.7M277.39 463.13h0.7M258.17 434.72h0.7M271.97 475.32h0.7M279.91 492.43h0.7M266.17 480.8h0.7M271.33 530.51h0.7M262.98 514.74h0.7M248.51 507.62h0.7M251.75 461.66h0.7M274.9 526.72h0.7M248.11 520.95h0.7M233.38 465.93h0.7M262.62 516.67h0.7M232.32 482.51h0.7M244.51 457.8h0.7M282.39 527.26h0.7M231.24 458.23h0.7M273.34 492.97h0.7M267.34 493.3h0.7M219.03 488.64h0.7M273.6 530.39h0.7M270.82 503.35h0.7M279.31 518.64h0.7M271.19 486.82h0.7M252.44 525.37h0.7M271.02 492.21h0.7M242.67 504.71h0.7M275.15 473.56h0.7M248.59 496.36h0.7M283.93 508.38h0.7M237.05 458.99h0.7M232.45 486.15h0.7M278.22 473.32h0.7M268.25 493.88h0.7M279.82 473.21h0.7M274.6 505h0.7M253.21 490.66h0.7M266.1 499.63h0.7M280.27 438.27h0.7M275.34 469.1h0.7M258.94 500.23h0.7M245.34 524.78h0.7M249.76 492.44h0.7M247.63 519.6h0.7M216.72 443.88h0.7M259.88 493.45h0.7M235.54 494.42h0.7M255.05 509.42h0.7M253.74 500.68h0.7M283.15 466.03h0.7M229.96 471.89h0.7M258.72 516.14h0.7M263.46 521.1h0.7M280.26 482.31h0.7M281.59 520.88h0.7M253.83 493.54h0.7M275.54 453.28h0.7M250.5 523.78h0.7M272.5 504.83h0.7M238.68 504.23h0.7M272.89 480.48h0.7M268.15 486.5h0.7M230.16 532.5h0.7M265.42 485.22h0.7M257.73 511.18h0.7M268.4 466.59h0.7M273.6 470.47h0.7M280.17 460h0.7M250.46 525.63h0.7M275.41 466.25h0.7M265.66 482.33h0.7M269.04 469.36h0.7M228.74 490.62h0.7M269.3 469.5h0.7M280.22 488.15h0.7M228.86 510.16h0.7M280.21 472.87h0.7M267.99 452.28h0.7M236.13 530.05h0.7M266.25 507.09h0.7M276.85 482.78h0.7M247.38 492.89h0.7M245.15 481.98h0.7M269.58 505.43h0.7M273.71 501.98h0.7M277.69 467.1h0.7M256.6 522.97h0.7M253.45 503.3h0.7M272.05 528.36h0.7M265.84 476.27h0.7M256.95 435.24h0.7M270.31 529.03h0.7M270.13 486.88h0.7M278.29 485.16h0.7M277.65 532.03h0.7M278.39 494.7h0.7M258.28 447.71h0.7M226.54 511.25h0.7M267.93 502.41h0.7M277.69 452.82h0.7M279.38 507.4h0.7M249.9 532.04h0.7M273.41 488.9h0.7M279.01 504.39h0.7M247.94 507.82h0.7M268.74 500.56h0.7M277.48 524.55h0.7M247.84 532.32h0.7M239.41 497.25h0.7M275.2 495.99h0.7M240.45 505.25h0.7M271.23 472.44h0.7M278.69 530.67h0.7M276.16 437.21h0.7M256.14 456.42h0.7M252.68 499.23h0.7M261.45 501.28h0.7M269.94 520.51h0.7M250.84 489.91h0.7M266.26 527.63h0.7M247.47 452.21h0.7M242.5 531.18h0.7M242.07 467.81h0.7M259.77 505.68h0.7M278.53 474.16h0.7M274.57 525.65h0.7M243.65 528.82h0.7M270.1 498.38h0.7M269.28 483.83h0.7M243.5 465.18h0.7M273.44 475.35h0.7M249.68 523.15h0.7M275.92 528.27h0.7M219.21 466.04h0.7M268.84 514.57h0.7M244.78 495.3h0.7M231.9 503.26h0.7M232.43 521.13h0.7M239.6 458.69h0.7M215.33 482.73h0.7M255.35 497.65h0.7M272.73 484.6h0.7M262.21 507.88h0.7M269.76 470.9h0.7M233.25 494.72h0.7M245.19 495.38h0.7M222.1 504.78h0.7M213.11 470.19h0.7M232.23 476.22h0.7M242.42 508.06h0.7M212.1 496.21h0.7M258.39 525.3h0.7M234.98 470.37h0.7M269.55 478.85h0.7M280.6 505.24h0.7M269.3 486.08h0.7M252.09 466.57h0.7M273.77 477.71h0.7M262.35 521.27h0.7M267.47 497.15h0.7M244.59 472.1h0.7M243.71 485.47h0.7M238.44 496.82h0.7M264.62 508.76h0.7M276.27 479.93h0.7M272.68 473.15h0.7M241.42 487.3h0.7M257.31 531.7h0.7M252.96 466.78h0.7M279.57 454.69h0.7M264.39 484.34h0.7M279.24 522.07h0.7M242.44 489.45h0.7M256.57 496.45h0.7M273.5 491.91h0.7M275.06 465.43h0.7M267.22 458.61h0.7M244.55 460.41h0.7M225.99 484.96h0.7M258.81 501.58h0.7M276.21 497.64h0.7M273.56 494.44h0.7M252.1 473.97h0.7M270.4 469.56h0.7M260.63 498.61h0.7M248.03 484.85h0.7M252.05 488.79h0.7M254.19 509.09h0.7M270.58 499.51h0.7M276.45 502.58h0.7M279.14 531.05h0.7M274.01 471.25h0.7M271.45 479.95h0.7M254.91 495.12h0.7M270.36 488.73h0.7M236.08 449.73h0.7M260.94 530.55h0.7M270.15 459.34h0.7M270.9 471.78h0.7M277.12 520.7h0.7M270.26 480.47h0.7M277.81 491.33h0.7M277.87 520.64h0.7M226.06 476.1h0.7M264.36 501.62h0.7M275.89 501.17h0.7M256.54 526.89h0.7M278.68 472.33h0.7M264.71 503.02h0.7M221 462.92h0.7M271.37 494.93h0.7M272.44 500.07h0.7M265.23 509.9h0.7M265.01 489.69h0.7M260.3 511.54h0.7M273.27 485.19h0.7M272.58 462.22h0.7M272.49 493.55h0.7M276.02 508.46h0.7M267.93 480.82h0.7M261.38 521.79h0.7M264.59 501.27h0.7M269.1 502.9h0.7M247.74 502.31h0.7M269.38 493.79h0.7M263.93 498.71h0.7M273.83 480.21h0.7M280.49 476.06h0.7M234.65 504.74h0.7M224.17 452.8h0.7M249.12 526.67h0.7M241.43 522.19h0.7M253.26 503.07h0.7M233.37 507.68h0.7M271.86 468.12h0.7M274.1 459.67h0.7M260.66 505.56h0.7M261.52 516.95h0.7M275.24 463.37h0.7M237.34 511.35h0.7M249.18 519.63h0.7M281.84 503.31h0.7M262.54 474.59h0.7M281.5 504.51h0.7M266.98 491.07h0.7M220.87 525.32h0.7M275.58 498.47h0.7M244.39 482.6h0.7M277.11 477.72h0.7M273.06 469.01h0.7M271.74 484.96h0.7M267.64 505.45h0.7M273.09 450.31h0.7M243.23 469.43h0.7M275.54 470.57h0.7M241.95 488.87h0.7M274.39 474.25h0.7M277.76 496.44h0.7M231.5 502.33h0.7M263.55 461.78h0.7M257.59 490.79h0.7M225.76 457.65h0.7M235.75 524.53h0.7M273.99 471.34h0.7M232.11 521.74h0.7M230.99 511.17h0.7M232.68 528.16h0.7M279.61 468.01h0.7M229.29 490.94h0.7M239.16 518.36h0.7M253.69 487.27h0.7M271.64 464.12h0.7M267.04 515.34h0.7M276.75 456.2h0.7M274.2 468.69h0.7M270.52 474.26h0.7M272.58 473.7h0.7M270.41 472.43h0.7M259.59 523.64h0.7M278.29 474.53h0.7M271.35 492.91h0.7M231.65 526.55h0.7M261.47 504.4h0.7M273.98 506.21h0.7M266.95 522.19h0.7M267.79 474.66h0.7M251.99 516.34h0.7M254.95 498.58h0.7M270.54 519.29h0.7M280.05 479.98h0.7M281.6 508.77h0.7M252.5 502.91h0.7M272.64 497.71h0.7M278.02 506.39h0.7M273.88 520.05h0.7M239.43 494.8h0.7M234.38 511.09h0.7M276.48 468.85h0.7M263.83 493.66h0.7M214.74 441.36h0.7M252.19 511.07h0.7M272.67 500.82h0.7M278.39 527.24h0.7M231.83 494.53h0.7M263.21 530.77h0.7M274.85 479.09h0.7M276.49 512.7h0.7M259.51 526.25h0.7M266.09 503.19h0.7M248.9 526.74h0.7M274.99 498.88h0.7M278.91 505.64h0.7M278.97 477.98h0.7M257.75 505.72h0.7M252.83 518.89h0.7M236.15 526h0.7M272.24 478h0.7M241.78 510.15h0.7M235.26 516.65h0.7M283.29 456.01h0.7M245.23 521.89h0.7M252.61 527.54h0.7M268.43 478.14h0.7M239.22 520.3h0.7M258.25 503.47h0.7M263.55 492.37h0.7M276.13 485.47h0.7M253.59 432.15h0.7M285.11 437.99h0.7M266.09 522.61h0.7M283.78 494.76h0.7M245.58 462.76h0.7M273.06 462.6h0.7M253.46 516.18h0.7M272.4 490.58h0.7M271.05 504.69h0.7M231.28 531.13h0.7M257.24 531.33h0.7M273.58 485.38h0.7M271.88 515.14h0.7M269.12 486.64h0.7M273.05 457.16h0.7M280.9 516.37h0.7M246.28 530.13h0.7M250.58 505.59h0.7M233.14 507.16h0.7M270.47 501.35h0.7M268.93 512.22h0.7M252.71 498.7h0.7M270.78 486.33h0.7M225.86 524.59h0.7M272.23 525.55h0.7M258.46 499.36h0.7M259.18 509.61h0.7M237.41 518.41h0.7M269.37 494.8h0.7M276.95 455.74h0.7M269.09 500.01h0.7M267.18 523.74h0.7M237.7 530.04h0.7M274.11 451.61h0.7M246.92 499.5h0.7M252 497.17h0.7M276.68 513.26h0.7M231.03 516.34h0.7M274.03 488.75h0.7M269.56 493.11h0.7M269.25 480.44h0.7M274.03 532.61h0.7M258.82 493.77h0.7M270.82 487.99h0.7M274.33 458.03h0.7M236.89 510.89h0.7M276.86 451.77h0.7M271.81 529.64h0.7M280.63 522.38h0.7M274.15 492.95h0.7M270.19 516.24h0.7M241.04 487.89h0.7M272.43 486.97h0.7M231.69 511.96h0.7M268.56 495.52h0.7M262.97 494.93h0.7M281.3 528.47h0.7M268.36 497.17h0.7M222.17 479.28h0.7M273.08 505.53h0.7M272.57 497.95h0.7M226.57 449.71h0.7M277.67 504.44h0.7M269.71 473.6h0.7M242.42 503.8h0.7M248.7 487.98h0.7M235.29 470.76h0.7M278.3 524.28h0.7M226.38 488.02h0.7M273.56 520.19h0.7M239.01 525.97h0.7M258.42 493.71h0.7M271.63 508.04h0.7M268.92 511.59h0.7M251.74 505.41h0.7M272.65 502.05h0.7M258.72 518.89h0.7M219.52 484.46h0.7M235.03 460.91h0.7M249.7 489.71h0.7M274.73 466.79h0.7M262.86 476.3h0.7M274.33 485.79h0.7M239.29 513.82h0.7M265.05 472.88h0.7M235.14 505.37h0.7M273.28 510.33h0.7M270.03 494.29h0.7M241.38 490.69h0.7M270.64 508.63h0.7M242.9 516.02h0.7M227.97 528.9h0.7M242.85 475.56h0.7M248.31 503.4h0.7M277.07 458.33h0.7M264.37 494.45h0.7M273.4 487.52h0.7M259.36 512.71h0.7M232.76 496.97h0.7M224.7 463.58h0.7M270.87 509.24h0.7M279.9 459.44h0.7M241.09 476.49h0.7M246.35 513.16h0.7M278.09 504.28h0.7M264 495.87h0.7M235.26 523.81h0.7M271.6 477.3h0.7M217.49 432.78h0.7M260.55 503.61h0.7M277.95 449.25h0.7M227.65 460.42h0.7M262.32 518.85h0.7M264.74 525.88h0.7M253.7 521.97h0.7M271.37 502.98h0.7M277.07 477.61h0.7M253.45 517.66h0.7M253.27 528.79h0.7M239.04 526.48h0.7M230.63 496.87h0.7M247.96 436.46h0.7M259.51 528h0.7M235.5 508.27h0.7M247.75 519.86h0.7M245.68 523.51h0.7M281.25 467.34h0.7M276.9 488.49h0.7M270.65 479.62h0.7M240.66 520.04h0.7M273.99 491.6h0.7M255.67 519.4h0.7M284.2 510.6h0.7M231.33 495.83h0.7M271.63 479.56h0.7M248.23 517.16h0.7M278.23 494.24h0.7M273.72 509.81h0.7M235.61 531.38h0.7M266.46 489.3h0.7M249.24 504.83h0.7M281.04 521.98h0.7M275.43 493.53h0.7M237.85 481.25h0.7M265.68 493.87h0.7M270.45 462.73h0.7M253.24 519h0.7M233.26 511.14h0.7M277.66 478.72h0.7M270.61 471.02h0.7M278.12 485.66h0.7M274.63 444.11h0.7M265.45 484.88h0.7M280.12 487.74h0.7M223.47 484.72h0.7M281.65 479.57h0.7M249.88 494.96h0.7M257.81 500.64h0.7M280.04 496.3h0.7M266.31 489.5h0.7M243.27 489.22h0.7M249.96 501.87h0.7M270.78 489.35h0.7M236.18 490.07h0.7M257.49 493.67h0.7M279.27 472.14h0.7M252.61 527.63h0.7M257.43 499h0.7M267.86 492.58h0.7M276.94 517.96h0.7M242.31 493.61h0.7M244.72 496.04h0.7M265.98 495.53h0.7M277.6 481.14h0.7M267 481.01h0.7M260.24 513.3h0.7M283.53 481.88h0.7M278.84 530.04h0.7M255.94 530.53h0.7M251.07 465.12h0.7M274.54 456.38h0.7M249.34 503.85h0.7M265.13 489.42h0.7M231.85 514.53h0.7M270.95 491.71h0.7M264.78 519.93h0.7M221.15 439.4h0.7M274.22 490.22h0.7M263.64 524.47h0.7M230.45 503.67h0.7M275.47 497.27h0.7M256.73 507.63h0.7M231.47 460.88h0.7M283.34 499.7h0.7M227.18 463.89h0.7M262.88 488.51h0.7M278.17 510.29h0.7M263.27 489.31h0.7M276.63 479.8h0.7M242.81 518.12h0.7M275.25 470.47h0.7M256.54 516.79h0.7M238.7 472.47h0.7M239.79 457.52h0.7M274.94 520.67h0.7M274.06 472.41h0.7M275.23 515.14h0.7M269.56 511.18h0.7M237.52 488.58h0.7M236.5 514.94h0.7M243.93 526.37h0.7M282.98 497.49h0.7M259.83 526.6h0.7M272.53 527.74h0.7M227.43 507.25h0.7M217.6 458.36h0.7M260.86 526.36h0.7M249.19 515.08h0.7M255.18 529.93h0.7M267.09 462.05h0.7M247.35 494.89h0.7M274.06 464.74h0.7M281.07 440.19h0.7M264.3 440.84h0.7M276.05 513.71h0.7M253.08 526.58h0.7M268.71 448.64h0.7M262.86 505.47h0.7M275.15 461.38h0.7M279.75 448.29h0.7M225.9 485.3h0.7M233.79 501.14h0.7M265.15 490.37h0.7M255.05 519.04h0.7M274.95 476.72h0.7M253.78 507.72h0.7M272.19 499.49h0.7M246.1 518h0.7M272.54 472.98h0.7M244.02 459.69h0.7M276.14 510.21h0.7M267.37 489.83h0.7M267.68 458.06h0.7M278.44 477.54h0.7M277.95 450.83h0.7M267.25 517.36h0.7M236.67 453.42h0.7M234.55 491.14h0.7M283.65 512.07h0.7M278.59 517.81h0.7M261.14 490.73h0.7M247 497.99h0.7M244.89 531.73h0.7M233.83 465.14h0.7M267.74 460.07h0.7M269.91 493.7h0.7M234.31 495.52h0.7M246.07 514.79h0.7M273.1 512.57h0.7M242.67 498.96h0.7M271.8 471.71h0.7M268.78 476.89h0.7M276.13 506.36h0.7M250.93 474.33h0.7M272.08 474.15h0.7M277.94 467.28h0.7M268.94 466.09h0.7M277.85 457.69h0.7M263.03 498.16h0.7M265.88 452.29h0.7M276.53 457.54h0.7M278.13 481.91h0.7M247.92 514.49h0.7M272.34 530.44h0.7M269.66 480.79h0.7M237.39 528.88h0.7M266.96 499.28h0.7M267.93 506.99h0.7M254.15 502.38h0.7M254.24 513.89h0.7M276.27 523.08h0.7M272.94 521.14h0.7M272.03 499.7h0.7M277.04 499.47h0.7M225.16 446.64h0.7M237.4 508.51h0.7M266.38 507.43h0.7M244.2 489.34h0.7M243.99 473.02h0.7M277.25 482.13h0.7M243.86 461.2h0.7M280.7 496.31h0.7M272.82 504.22h0.7M257.01 517.39h0.7M220.99 467.91h0.7M265.58 499.18h0.7M269.95 523.49h0.7M279.11 456.52h0.7M278.33 471.28h0.7M246 456.02h0.7M234.3 503.54h0.7M264.99 487.22h0.7M280.55 516.73h0.7M284.15 450.11h0.7M272.45 500.41h0.7M243.68 467.96h0.7M264.88 511.86h0.7M239.53 499.95h0.7M274.67 465.18h0.7M260.95 509.68h0.7M256.24 501.59h0.7M230.96 464.08h0.7M239.21 450.53h0.7M281.24 463.03h0.7M257.26 456.46h0.7M274.49 465.1h0.7M265.65 507.19h0.7M286.93 458.32h0.7M261.61 517.37h0.7M223.36 505.01h0.7M234.95 472.1h0.7M270.72 479.5h0.7M246.36 448.03h0.7M282.3 504.02h0.7M248.75 521.5h0.7M229.74 525.34h0.7M265.86 498.5h0.7M279.22 485.26h0.7M224.79 458.99h0.7M269.6 500.97h0.7M276.31 481.75h0.7M280.38 469.67h0.7M242.66 502.6h0.7M239.82 472.19h0.7M264.77 495.57h0.7M254.64 508.76h0.7M269.07 473.41h0.7M277.66 493.26h0.7M269.08 475.05h0.7M277.4 453.65h0.7M272.93 497.01h0.7M268.94 504.63h0.7M261.74 514.68h0.7M269.74 479.87h0.7M272.11 480.75h0.7M264.2 527.83h0.7M273.59 498.25h0.7M244.21 507.25h0.7M269.84 476.75h0.7M277.97 509.17h0.7M273.96 507.06h0.7M234.79 527.98h0.7M238.92 514.57h0.7M268.33 529.65h0.7M276.51 523.13h0.7M269.45 501.06h0.7M250.85 509.02h0.7M245.66 477.68h0.7M274.22 466.65h0.7M258.74 510.66h0.7M240.07 515.84h0.7M260.91 501.28h0.7M254.29 514.63h0.7M257.06 527.45h0.7M237.62 469.38h0.7M269.17 482.46h0.7M268.64 487.8h0.7M257.12 500.17h0.7M250.81 494.69h0.7M233.84 517.72h0.7M275.55 441.72h0.7M265.46 517.14h0.7M253.08 500.22h0.7M266.74 482.99h0.7M269.19 492.66h0.7M258.57 517.95h0.7M262.5 478.22h0.7M269.12 482.62h0.7M258.66 527.01h0.7M255.09 505.22h0.7M236.61 525.15h0.7M251.31 503.78h0.7M280.32 512.04h0.7M277.21 491.57h0.7M260.39 516.95h0.7M279.29 495.52h0.7M277.34 491.09h0.7M273.78 487.07h0.7M228.62 508.14h0.7M260.44 524.19h0.7M271.22 487.57h0.7M278.37 516.81h0.7M241.99 528.64h0.7M262.33 495.82h0.7M257.67 531.58h0.7M269.93 491.03h0.7M224.35 465.26h0.7M271.09 464.04h0.7M265.38 520.41h0.7M257.12 470.28h0.7M243.24 502.86h0.7M274.96 477.74h0.7M277.07 446.15h0.7M239.77 461.8h0.7M243.25 489.24h0.7M276.66 467.14h0.7M276.58 515.09h0.7M228.94 473.96h0.7M239.55 444.19h0.7M283.16 513.67h0.7M264.2 517.17h0.7M251.03 506.69h0.7M244.81 495.58h0.7M259.56 499.68h0.7M269.51 465.33h0.7M231.29 466.2h0.7M276.57 471.48h0.7M272.27 526.65h0.7M266.89 497.41h0.7M243.45 520.17h0.7M237.99 441.6h0.7M281.9 491.43h0.7M279.67 499.41h0.7M267.68 500.8h0.7M236.15 473.18h0.7M241.63 503.05h0.7M263.85 464.51h0.7M269.41 490.83h0.7M230.19 501.71h0.7M270.77 506.4h0.7M241.32 444.93h0.7M272.97 450.46h0.7M236.81 508.38h0.7M279.23 482.96h0.7M284.99 468.35h0.7M265.57 484.87h0.7M279.79 450.81h0.7M272.96 482.17h0.7M268.08 496.8h0.7M269.25 476.14h0.7M268.2 510.67h0.7M259.62 506.54h0.7M257.24 519.48h0.7M276.58 496.53h0.7M256.34 527.05h0.7M255.72 486.91h0.7M232.5 463.44h0.7M239.09 523h0.7M260.49 519.38h0.7M260.19 514.26h0.7M258.99 521.65h0.7M253.76 512.91h0.7M279.84 475.8h0.7M274.31 485.65h0.7M279.6 510.97h0.7M268.96 487.25h0.7M241.29 512.29h0.7M229.52 470.72h0.7M280.88 474.73h0.7M270.94 493.57h0.7M273.1 459.76h0.7M266.05 516.71h0.7M238.12 501.64h0.7M241.02 521.85h0.7M219.8 448.56h0.7M263.29 515.01h0.7M266.95 488.38h0.7M271.32 527.48h0.7M271.39 467.25h0.7M266.06 478.23h0.7M265.92 498.21h0.7M277.43 504.09h0.7M245.02 486.71h0.7M268.51 529.83h0.7M239.24 501.67h0.7M264.72 500.12h0.7M263.18 502.78h0.7M276.5 464.43h0.7M251.3 434.94h0.7M247.52 506.16h0.7M276.78 483.09h0.7M237.36 514.33h0.7M278.07 501.2h0.7M260.02 503.81h0.7M269.36 505.14h0.7M244.22 509.69h0.7M270.99 493.13h0.7M278.58 498.62h0.7M276.64 481.81h0.7M243.53 507.78h0.7M238.57 529.25h0.7M249.39 519.5h0.7M274.91 467.2h0.7M275.91 504.4h0.7M227.88 471.29h0.7M276.54 492.47h0.7M227.52 495.07h0.7M234.68 495.94h0.7M276.57 485.76h0.7M251.91 527.69h0.7M273.32 499.2h0.7M255.24 485.84h0.7M273.45 495.03h0.7M273.01 488.08h0.7M242.05 477.24h0.7M243.42 523.1h0.7M274.47 491.36h0.7M276.32 490.06h0.7M242.93 517.68h0.7M257.94 498.81h0.7M283.75 475.4h0.7M273.47 526.05h0.7M260.31 518.41h0.7M236.8 510.83h0.7M257.42 530.59h0.7M269.07 506.37h0.7M267.79 488.29h0.7M273.67 527.04h0.7M251.35 465.39h0.7M243.23 474.57h0.7M278.26 504.07h0.7M274.94 526.98h0.7M285.84 499.66h0.7M271.02 470.33h0.7M269.83 499.77h0.7M274.86 532.97h0.7M255.34 431.13h0.7M267.23 490.73h0.7M242.53 509.93h0.7M231.64 514.91h0.7M239.94 507.15h0.7M230.34 532.12h0.7M272.49 507.58h0.7M238.13 529.03h0.7M271.46 498.22h0.7M251.17 445.88h0.7M234.49 505.96h0.7M274.66 490.94h0.7M260.28 508.44h0.7M261.69 483.86h0.7M260.77 492.38h0.7M273.81 481.05h0.7M269.74 503.07h0.7M278.35 456.77h0.7M279.66 502.42h0.7M244.07 476.68h0.7M236.25 492.43h0.7M280.99 491.43h0.7M275.88 516.41h0.7M263.29 492.48h0.7M235.62 528.88h0.7M264.6 526.65h0.7M241.78 469.13h0.7M219.55 458.82h0.7M276.74 496.99h0.7M277.36 522.87h0.7M242.44 491.36h0.7M267.67 531.13h0.7M269.98 497.78h0.7M273.3 455.76h0.7M254.92 499.58h0.7M237.51 485.67h0.7M277.15 449.67h0.7M241.79 498.05h0.7M270.02 507.47h0.7M280.75 486.39h0.7M249.43 513.73h0.7M280.44 520.9h0.7M281.46 444.99h0.7M278.72 530.36h0.7M247.1 477.83h0.7M250.04 528.81h0.7M263.68 519h0.7M277.84 482.89h0.7M238.26 466.86h0.7M244.05 496.19h0.7M246.09 528.69h0.7M231.47 440.55h0.7M234.32 474.11h0.7M258.65 521.21h0.7M254.2 505.71h0.7M272.03 485.21h0.7M267.48 513.29h0.7M235.19 495.68h0.7M275.71 486.74h0.7M273.69 472.97h0.7M243.77 448.08h0.7M269.35 488.79h0.7M270.75 492.12h0.7M237.57 498.89h0.7M243.78 518.61h0.7M277.56 463.75h0.7M218.69 448.79h0.7M274.93 498.35h0.7M238.14 515.76h0.7M272.62 490.25h0.7M240.71 459.5h0.7M240.29 508.17h0.7M267.38 512.25h0.7M251.58 500.7h0.7M275.12 527.38h0.7M259.73 530.48h0.7M275.98 474.78h0.7M248.09 494.2h0.7M274.8 465.11h0.7M248.29 493.94h0.7M248.76 477.61h0.7M250.74 501.74h0.7M275.4 493.15h0.7M267.28 487.7h0.7M267.43 452.09h0.7M272.7 509.89h0.7M272.46 498.06h0.7M229.98 501.43h0.7M273.78 489.2h0.7M251.69 523h0.7M271.68 484.86h0.7M238.08 490.61h0.7M273.53 486.72h0.7M275.55 472.27h0.7M275.01 492.77h0.7M278.3 485.83h0.7M279.7 531.75h0.7M237.6 474.11h0.7M265.36 502.41h0.7M227.13 436.58h0.7M268.14 476.14h0.7M256.92 501.28h0.7M259.89 508.86h0.7M262.59 531.25h0.7M280.25 463.96h0.7M271.99 500.32h0.7M277.75 511.6h0.7M272.51 484.73h0.7M278.4 503.77h0.7M274.74 474.52h0.7M263.13 499.2h0.7M259.59 506.92h0.7M273.85 482.58h0.7M254.48 512.74h0.7M277.47 472.36h0.7M257.61 521.63h0.7M266.14 496.78h0.7M267.79 483.04h0.7M239.75 500.91h0.7M265.33 514.29h0.7M269.33 520.43h0.7M256.31 507.4h0.7M259.82 527.27h0.7M271.3 470.12h0.7M236.2 476.99h0.7M257.41 495.32h0.7M237.59 515.69h0.7M247.05 467.95h0.7M286.68 467.26h0.7M273.8 510.78h0.7M275.15 508.59h0.7M274.35 489.79h0.7M245.84 512.85h0.7M270.44 481.75h0.7M265.24 494.91h0.7M261.72 498.91h0.7M265.56 507.84h0.7M261.56 517.75h0.7M271.69 519.02h0.7M277.96 459.1h0.7M222.13 465.61h0.7M273.02 482.18h0.7M229.75 473.23h0.7M229.1 461.78h0.7M275.83 501.74h0.7M249.11 509.64h0.7M268.36 501.06h0.7M244.26 501.07h0.7M231.19 513.38h0.7M282.1 502.69h0.7M261.03 514.08h0.7M227.67 496.47h0.7M282.33 468.34h0.7M273.16 476.49h0.7M274.27 495.14h0.7M243.12 434.85h0.7M268.74 489.4h0.7M226.29 473.68h0.7M272.8 508.83h0.7M265.57 493.33h0.7M265.66 456.36h0.7M270.2 502.31h0.7M275.86 478.03h0.7M220.97 447.22h0.7M257.26 495.42h0.7M275.36 532.28h0.7M270.72 494.86h0.7M244.7 449.75h0.7M257.7 498.3h0.7M225.15 477.12h0.7M268.14 483.02h0.7M269.12 485.35h0.7M272.01 512.71h0.7M269.08 465.69h0.7M274.39 471.61h0.7M218.76 464.32h0.7M241.8 478.71h0.7M271.72 502.95h0.7M279.66 524.7h0.7M228.65 460.41h0.7M275.11 482.16h0.7M276.18 456.5h0.7M274.33 502.78h0.7M272.18 499.3h0.7M281.78 490.47h0.7M272.09 496.17h0.7M276.76 495.34h0.7M234.85 512.6h0.7M274.92 480.86h0.7M272.54 459.69h0.7M269.64 481.43h0.7M222.44 459.31h0.7M249.23 499.14h0.7M267.61 525.97h0.7M279.26 504.07h0.7M256.7 493.15h0.7M274.72 470.22h0.7M259.3 487.55h0.7M269.3 511.35h0.7M271.08 466.74h0.7M278.38 470.51h0.7M231.29 530.05h0.7M277.18 490.67h0.7M254.31 527.93h0.7M264.83 485.27h0.7M263.9 516.82h0.7M272.71 487.73h0.7M231.81 486.77h0.7M256.93 526.11h0.7M268.53 492.32h0.7M278.52 502.61h0.7M254.05 530.95h0.7M230.07 525.72h0.7M258.38 503.01h0.7M269.56 477.6h0.7M266.35 492.23h0.7M274.48 494.83h0.7M269.8 512.76h0.7M248.66 524.93h0.7M221.16 465.95h0.7M268.05 503.55h0.7M266.4 503.08h0.7M273.83 495.24h0.7M243.05 521.41h0.7M253.66 502.6h0.7M258.09 466.14h0.7M233.99 523.02h0.7M260.44 532.36h0.7M233.09 463.35h0.7M255.23 509.01h0.7M270.49 501.4h0.7M275.36 485.25h0.7M271.02 479.22h0.7M273.38 530.9h0.7M246.45 438.45h0.7M232.5 512.38h0.7M255.7 525.19h0.7M270.4 521.3h0.7M263.85 487.45h0.7M238.97 527.53h0.7M240.04 526.88h0.7M272.82 476.69h0.7M259.63 526.43h0.7M266.14 527.05h0.7M246.77 511.35h0.7M258.96 504.77h0.7M256.33 517.29h0.7M273.46 489.21h0.7M235.75 498.29h0.7M235.35 478.92h0.7M231.76 495.13h0.7M264.5 527.65h0.7M270.86 492.48h0.7M255.25 491.79h0.7M219.06 441.6h0.7M278.02 510.04h0.7M275.18 436.33h0.7M257.95 479.38h0.7M269.86 473.93h0.7M278.34 521.63h0.7M247.78 506.26h0.7M250.55 507.15h0.7M276.49 506.41h0.7M241.67 521.25h0.7M275.31 466.93h0.7M236.52 508.57h0.7M270.19 475.76h0.7M273.85 517.85h0.7M267.09 506.71h0.7M240.93 507.95h0.7M252.81 515.7h0.7M264.16 522.77h0.7M240.78 499.88h0.7M272 469.26h0.7M279.12 512.75h0.7M252.99 511.51h0.7M269.71 521.11h0.7M242.96 500.88h0.7M250.14 502.79h0.7M234.22 520.16h0.7M260.1 446.67h0.7M265.96 492.45h0.7M252.97 510.04h0.7M282.9 498.32h0.7M226.9 467.66h0.7M272.27 470.32h0.7M243.53 460.77h0.7M269.35 482.9h0.7M277.34 488.05h0.7M287.1 490.34h0.7M248.96 465.1h0.7M234.85 507.31h0.7M262.19 492.91h0.7M262.44 532.04h0.7M274.95 458.96h0.7M251.96 500.41h0.7M220.86 447.28h0.7M258.33 500.96h0.7M270.44 473.53h0.7M252.42 524.44h0.7M265.81 510.27h0.7M278.85 491.76h0.7M264.09 516.73h0.7M250.24 514.11h0.7M272.75 497.82h0.7M267.34 466.41h0.7M279.62 490.09h0.7M279.08 490.45h0.7M248.15 456.23h0.7M274.19 487.31h0.7M267.96 473.02h0.7M269.61 449.76h0.7M274.33 477.05h0.7M274.04 446.93h0.7M259.4 518.71h0.7M273.35 504.49h0.7M277.58 487.98h0.7M243.02 480.71h0.7M275.04 506.95h0.7M273.36 531.08h0.7M243.67 443.51h0.7M276.74 491.13h0.7M274.09 442.23h0.7M260.12 520.72h0.7M267.59 458.61h0.7M241.47 519.05h0.7M273.2 484.47h0.7M241.36 443.78h0.7M262.66 493.23h0.7M236.64 526.84h0.7M263.35 483.72h0.7M259.26 521.16h0.7M271.62 457.4h0.7M273.22 481.48h0.7M281.58 470.94h0.7M276.91 511.97h0.7M263.58 487.86h0.7M281.18 487.81h0.7M241.3 477.81h0.7M270.54 504.31h0.7M268.38 503.18h0.7M279.81 489.19h0.7M269.93 505.53h0.7M270.79 494.89h0.7M263.34 502.35h0.7M251.22 498.96h0.7M247.33 499.48h0.7M270.22 520.36h0.7M223.29 444.14h0.7M240.73 511.86h0.7M271.25 489.53h0.7M272.37 479.46h0.7M269.54 475.1h0.7M238.7 528.32h0.7M270.49 513.95h0.7M250.31 479.14h0.7M283.3 506.4h0.7M253.06 506.92h0.7M266.07 527.54h0.7M276.26 487.83h0.7M246.4 532.85h0.7M267.94 488.01h0.7M278.81 476.16h0.7M278.02 510.14h0.7M236.83 527.51h0.7M269.03 474.02h0.7M269.02 493.9h0.7M274.3 489.27h0.7M256.99 500.3h0.7M244.8 513.27h0.7M230.71 472.77h0.7M271.37 522.04h0.7M271.49 473.88h0.7M271.96 477.5h0.7M251.42 516.59h0.7M283.34 468.96h0.7M262.72 501.24h0.7M250.53 476.94h0.7M251.39 494.06h0.7M273.09 502.46h0.7M252.24 443.75h0.7M264.59 527.58h0.7M274.56 532.76h0.7M272.28 491.88h0.7M273.03 497.57h0.7M244.63 519.19h0.7M267.16 493.18h0.7M276.45 506.16h0.7M256.8 504.93h0.7M243.54 500.61h0.7M273.3 532.31h0.7M256.1 491.47h0.7M231.25 487.55h0.7M281.28 530.44h0.7M293.33 467.44h0.7M239.5 509.19h0.7M276.46 502.23h0.7M236.02 506.06h0.7M259.31 524.03h0.7M259.44 493.78h0.7M273.87 491.16h0.7M269.14 493.72h0.7M267.64 528.79h0.7M262 463.63h0.7M261.72 504.57h0.7M263.84 490.81h0.7M246.75 443.08h0.7M263.07 527.01h0.7M233.66 482.07h0.7M284.36 501.4h0.7M233.51 500.19h0.7M274.62 462.69h0.7M276.79 492.82h0.7M268.31 512.16h0.7M228.81 502.04h0.7M238.05 491.44h0.7M246.25 492.29h0.7M279.12 492.37h0.7M267.31 499.75h0.7M253.24 512.01h0.7M227.65 499.54h0.7M275.85 526.26h0.7M276.63 491.17h0.7M278.06 502.01h0.7M231.06 437.02h0.7M228.32 482.28h0.7M281.52 523.72h0.7M268.39 476.36h0.7M240.65 511.76h0.7M227.21 453.94h0.7M274.13 517.32h0.7M255.72 514.66h0.7M279.37 498.4h0.7M237.49 500.99h0.7M253.94 491.11h0.7M266.56 506.62h0.7M269.97 518.57h0.7M279.74 497.55h0.7M273.72 505.12h0.7M271.31 458.72h0.7M271.99 469.32h0.7M266.66 476.53h0.7M242.39 517.15h0.7M277.93 488.34h0.7M257.52 500.01h0.7M276.74 465.48h0.7M263.79 525.49h0.7M251.27 529.64h0.7M255.06 502.85h0.7M257.89 510.76h0.7M227.52 489.84h0.7M279.54 506.04h0.7M267.88 501.31h0.7M249.51 498.72h0.7M279.15 466.74h0.7M274.4 526.28h0.7M246.3 470.51h0.7M258.43 493.32h0.7M266.72 506.55h0.7M239.13 466.26h0.7M233.93 524.44h0.7M279.87 491.68h0.7M274.51 484.95h0.7M266.17 517.89h0.7M226.91 503.98h0.7M275.25 474.64h0.7M231.7 507.73h0.7M247.04 510.5h0.7M257.4 490.75h0.7M253.95 494.62h0.7M267.19 474.45h0.7M275.48 499.29h0.7M259.38 524.21h0.7M258.81 507.79h0.7M279.67 448.25h0.7M258.31 498.18h0.7M281.93 511.68h0.7M278.97 447.92h0.7M230.44 513.03h0.7M260.75 514.68h0.7M277.28 506.21h0.7M275.04 467.59h0.7M275.48 477.72h0.7M275 477.58h0.7M242.29 481.77h0.7M276.9 508.54h0.7M254.84 466.77h0.7M217.64 454.97h0.7M247.25 495.96h0.7M253.47 505.03h0.7M269.44 494.15h0.7M258.84 522.55h0.7M240.66 490.94h0.7M283.42 456.79h0.7M235.64 526.58h0.7M233.27 482.96h0.7M276.31 462.52h0.7M242.93 519.02h0.7M239.58 508.69h0.7M254.66 511.6h0.7M243.58 529.89h0.7M263.73 490.89h0.7M270.55 498.56h0.7M259.43 482.92h0.7M267.6 504.06h0.7M273.25 498.79h0.7M282.43 463.21h0.7M271.66 465.21h0.7M272.01 511.33h0.7M277.7 494.49h0.7M280.42 523.61h0.7M277.72 448.19h0.7M267.31 450.96h0.7M261.61 510.1h0.7M251.91 471.56h0.7M235.85 440.39h0.7M273.26 490.51h0.7M230.1 513.05h0.7M231.27 488.03h0.7M235.76 457.94h0.7M238.02 501.99h0.7M229.01 471.04h0.7M245.11 474.27h0.7M277.21 471.7h0.7M277.33 490.71h0.7M283.29 439.96h0.7M269.86 472.52h0.7M268.88 502.57h0.7M269.14 467.96h0.7M238.96 510.36h0.7M248.5 512.84h0.7M276.57 472.15h0.7M270.06 518.97h0.7M254.25 525.48h0.7M274.05 509.43h0.7M261.56 517.71h0.7M269.15 492.98h0.7M255.33 479.07h0.7M270.02 493.24h0.7M254.98 531.41h0.7M252.49 493.28h0.7M256.3 494.89h0.7M270.8 478.89h0.7M235.97 510.51h0.7M280.4 467.28h0.7M282.16 493.35h0.7M266.44 493.37h0.7M232.44 499.59h0.7M273.76 467.44h0.7M280.34 457.02h0.7M243.57 464.06h0.7M273.11 489.53h0.7M271.24 481.36h0.7M231.01 472.29h0.7M275.77 476.69h0.7M274.86 522.8h0.7M273.51 515.84h0.7M264.19 504.63h0.7M280.99 512.24h0.7M272.35 477.03h0.7M233.93 518.26h0.7M274.71 505.26h0.7M272.22 488.24h0.7M270.85 486.62h0.7M267.95 519.16h0.7M273.97 521.55h0.7M228.28 524.32h0.7M247.59 495.25h0.7M232.19 479.45h0.7M244.04 509.84h0.7M227.57 445.46h0.7M282.65 499.98h0.7M234.78 471.98h0.7M272.74 520.61h0.7M272.49 467.42h0.7M266.8 473.72h0.7M236.03 438.56h0.7M229.36 496.36h0.7M270.43 508.68h0.7M269.33 466.23h0.7M251.5 476.27h0.7M244.14 504.3h0.7M268.91 486.22h0.7M239.13 505.08h0.7M272.04 502.01h0.7M230.23 516.71h0.7M265.64 497.98h0.7M255.36 508.61h0.7M278.11 522.92h0.7M247.7 526.14h0.7M276.52 491.16h0.7M275.69 479.86h0.7M226.03 474.95h0.7M233.43 525.86h0.7M231.46 473.8h0.7M271.48 529.28h0.7M270.32 483.24h0.7M273.6 491.33h0.7M262.25 509.98h0.7M235.32 527.24h0.7M245.42 444.22h0.7M235.18 525.13h0.7M271.11 448.23h0.7M253.11 504.54h0.7M267.71 489.02h0.7M285.73 488.94h0.7M279.5 499.99h0.7M273.94 494.03h0.7M235.65 484.98h0.7M274.08 492.74h0.7M278.02 484.78h0.7M270.07 527.88h0.7M240.03 506.1h0.7M271.7 526.93h0.7M274.48 471.9h0.7M228.85 501.57h0.7M264.65 504.6h0.7M254 508.85h0.7M266.54 499.44h0.7M275.49 512.32h0.7M270.25 515.99h0.7M275.15 489.52h0.7M268.57 512.27h0.7M246.11 521.95h0.7M269.97 448.52h0.7M258.76 511.83h0.7M268.66 494.48h0.7M236.15 473.26h0.7M279.35 504.68h0.7M267.45 498.62h0.7M231.12 468.08h0.7M273.54 464h0.7M277.89 496.67h0.7M268.26 466.18h0.7M267.74 495.98h0.7M282.73 487.91h0.7M237.94 465.35h0.7M269.39 516.55h0.7M279.14 525.98h0.7M256.37 527.68h0.7M235.37 494.62h0.7M258.79 522.89h0.7M247.55 527.61h0.7M243.9 482.37h0.7M248.05 487.5h0.7M249.41 518.6h0.7M268.2 465.7h0.7M228.61 497.05h0.7M242.88 513.43h0.7M261.9 447.17h0.7M270.29 482.4h0.7M234.89 511.42h0.7M253.19 529.64h0.7M263.19 516.3h0.7M282.98 485.08h0.7M235.67 453.04h0.7M238.95 511.6h0.7M282.2 492.36h0.7M265.51 495.81h0.7M239.26 452.42h0.7M275.89 474.57h0.7M275.63 511.41h0.7M234.55 462.26h0.7M274.17 486.62h0.7M274.37 481.27h0.7M278.52 509.6h0.7M239.21 526.97h0.7M263.46 513.21h0.7M272.38 494.21h0.7M275.74 461.79h0.7M279.56 444.82h0.7M239.86 460.85h0.7M275.69 469.81h0.7M241.88 523.81h0.7M246.66 471.49h0.7M275.83 530.95h0.7M244.04 518.54h0.7M251.68 450.28h0.7M259.79 524.85h0.7M271.27 526.25h0.7M239.54 529.08h0.7M269.84 499.16h0.7M241.9 491.88h0.7M233.79 510.06h0.7M272.3 496.21h0.7M238.22 514.87h0.7M220.89 484.36h0.7M234.36 457.09h0.7M240.64 500.64h0.7M243.58 532.15h0.7M258.1 448.69h0.7M237.54 495.17h0.7M279.26 485.63h0.7M272.32 505.32h0.7M272.21 500.56h0.7M275.88 478.39h0.7M233.52 491.09h0.7M269.68 519.13h0.7M226.42 465.07h0.7M235 487.85h0.7M273.86 469.65h0.7M276.14 430.73h0.7M240.7 522.06h0.7M266.26 475.59h0.7M277.04 478.91h0.7M233.59 459.05h0.7M281.49 473.04h0.7M278.45 481.98h0.7M240.29 521.24h0.7M242.4 503.81h0.7M266.28 497.51h0.7M269.85 517.03h0.7M233.67 471.54h0.7M231.83 497.86h0.7M255.51 489.5h0.7M240.73 496h0.7M231.72 478.65h0.7M235.78 516.09h0.7M239.92 456.68h0.7M259.75 532.17h0.7M224.46 484.4h0.7M236.73 508.08h0.7M272.82 523.23h0.7M267.44 489.32h0.7M250.23 512h0.7M259.9 507.61h0.7M265.66 480.09h0.7M266.37 490.69h0.7M229.05 506.21h0.7M238.38 449.83h0.7M271.72 486.06h0.7M266.28 505.46h0.7M248.65 443.3h0.7M253.52 511.77h0.7M256.69 521.97h0.7M258.83 503.83h0.7M261.97 504.82h0.7M236.22 508.09h0.7M279.26 475.23h0.7M273.06 481.34h0.7M239.62 493.92h0.7M233.9 509.45h0.7M253.08 491.55h0.7M274.12 530.04h0.7M278.02 499.96h0.7M260.32 512.05h0.7M229.99 519.01h0.7M238.35 516.88h0.7M232.64 497.15h0.7M268.98 489.66h0.7M241.14 455.89h0.7M270.76 478.86h0.7M278.97 499.23h0.7M270.4 514.34h0.7M261.91 505.65h0.7M273.39 495.9h0.7M250.95 489.34h0.7M251.45 501.07h0.7M249.85 502.6h0.7M237.42 498.53h0.7M277.08 472.73h0.7M275.3 476.63h0.7M270.55 505.81h0.7M229.83 483.99h0.7M257.05 529.19h0.7M264.19 526.27h0.7M270.03 484.25h0.7M274.57 491.55h0.7M266.76 443.09h0.7M263.27 512.88h0.7M280.21 459.44h0.7M274.4 480.54h0.7M247.66 495.3h0.7M281.6 453.05h0.7M264.36 502.66h0.7M233.15 523.82h0.7M269.53 452.63h0.7M255.55 473.24h0.7M241.19 466.87h0.7M241.56 495.75h0.7M231.06 493.4h0.7M256.57 482.61h0.7M240.39 462.67h0.7M275.84 488.73h0.7M255.67 516.34h0.7M278.27 473.21h0.7M274.91 493.04h0.7M276.86 441h0.7M262.19 499.33h0.7M276.89 479.94h0.7M251.38 464.93h0.7M238.38 513.45h0.7M234.55 530.56h0.7M242.22 507.15h0.7M264.26 486.54h0.7M243.3 456.17h0.7M279.52 510.44h0.7M253.12 490.33h0.7M221.86 457.59h0.7M259.81 532.35h0.7M272.92 499.07h0.7M249.95 530.32h0.7M249.25 513.65h0.7M277.15 475.75h0.7M236.48 471.54h0.7M266.58 499.43h0.7M245.34 463.37h0.7M241.51 472.16h0.7M226.69 497.13h0.7M274.88 456.66h0.7M255.52 523.4h0.7M243.35 516.32h0.7M231.32 441.15h0.7M272.22 499.64h0.7M222.79 432.25h0.7M277.1 514.18h0.7M266.12 526.86h0.7M246.15 453.13h0.7M272.15 502.47h0.7M259.89 498.5h0.7M262.83 518.64h0.7M266.48 482.93h0.7M232.23 489.28h0.7M276.11 495.81h0.7M259 531.64h0.7M242.02 474.59h0.7M275.17 524.07h0.7M264.58 494.93h0.7M274.2 506.6h0.7M259.63 470.23h0.7M243.1 497.27h0.7M275 498.46h0.7M275.04 509.78h0.7M225.52 503.34h0.7M254.91 525.08h0.7M260.42 447.41h0.7M275.69 510.52h0.7M241.99 455.05h0.7M239.9 531.86h0.7M279.7 489.01h0.7M269.37 472.8h0.7M255.89 508.76h0.7M273.12 460.44h0.7M268.17 473.81h0.7M273.84 510.74h0.7M270.62 458.59h0.7M266.6 500.32h0.7M230.06 460.42h0.7M261.4 493.23h0.7M273.13 493.82h0.7M279.95 489.07h0.7M270.99 491.45h0.7M243.04 507.78h0.7M241.6 515.8h0.7M261.06 504.02h0.7M270.99 462.57h0.7M262.67 492.45h0.7M271.14 474.97h0.7M230.97 482.15h0.7M253.1 494h0.7M268.39 459.14h0.7M272.89 489.67h0.7M270.6 489.26h0.7M234.21 491.12h0.7M227.11 478.3h0.7M276.69 495.54h0.7M246.93 459.36h0.7M235.71 504.89h0.7M239.23 454.63h0.7M261.87 517.31h0.7M274.77 501.24h0.7M263.82 524.81h0.7M235.32 439.87h0.7M258.9 472.92h0.7M218.31 489.88h0.7M270.97 460.38h0.7M273.99 465.08h0.7M226.45 442.23h0.7M268.65 511.6h0.7M270.37 517.89h0.7M272.64 495.11h0.7M275.99 486.82h0.7M271.96 447.04h0.7M278.71 457.46h0.7M255.44 460.36h0.7M234.21 530.23h0.7M270.28 526.09h0.7M275.3 494.65h0.7M276.49 495.08h0.7M258.74 526.92h0.7M242.89 503.6h0.7M248.31 444.15h0.7M282.01 486.06h0.7M235.03 524.78h0.7M276.69 468.09h0.7M281.62 438.72h0.7M233.23 430.93h0.7M231.68 497.19h0.7M279.26 494.93h0.7M265.29 477.63h0.7M241.88 493.03h0.7M278.86 468.79h0.7M277.49 494.07h0.7M250.17 457.18h0.7M259.36 504.53h0.7M269.37 500.53h0.7M231.83 497.38h0.7M249.37 502.62h0.7M263.24 490.36h0.7M286.47 509.55h0.7M229.33 498.46h0.7M275.37 468.89h0.7M234.24 507.72h0.7M267.84 506.62h0.7M258.27 499.39h0.7M226.75 443.9h0.7M268.42 470.75h0.7M248.04 498.43h0.7M226.54 471.62h0.7M267.83 463.04h0.7M271.15 482.27h0.7M274.31 469.47h0.7M272.68 488.88h0.7M273.47 502.53h0.7M276.86 450.11h0.7M241.13 468.97h0.7M248.42 505.95h0.7M274.43 519.65h0.7M266.22 501.98h0.7M258.39 520.49h0.7M243.32 527.15h0.7M260.36 508.41h0.7M232.98 517.74h0.7M268 468.49h0.7M269.58 499.09h0.7M271.34 483.66h0.7M282.68 527.01h0.7M230.45 474h0.7M269.94 497.78h0.7M249.43 521.46h0.7M256.31 499.52h0.7M243.34 494.7h0.7M264.11 508.72h0.7M280.75 467.98h0.7M242.56 470.21h0.7M266.49 525.97h0.7M227.32 458.67h0.7M282.36 491.7h0.7M234.83 430.62h0.7M273.92 500.26h0.7M269.01 470.38h0.7M244.94 504.17h0.7M273.57 499.51h0.7M275.29 480.18h0.7M276.75 484.34h0.7M234.45 494.43h0.7M247.86 521.73h0.7M234.66 497.14h0.7M238.86 511.4h0.7M272.61 459.27h0.7M272.85 497.72h0.7M265.5 493.79h0.7M275.45 498.07h0.7M275.71 484.91h0.7M272.36 482.12h0.7M282.47 495.79h0.7M274.24 514.51h0.7M261.82 523.05h0.7M210.5 480.31h0.7M266.13 501.18h0.7M238.38 484.62h0.7M234.52 512.14h0.7M268.39 431.26h0.7M287.38 531.13h0.7M237.44 492.32h0.7M274.72 468.87h0.7M264.29 514.6h0.7M269.93 480.2h0.7M250.4 516.42h0.7M279.77 480.33h0.7M238.87 526.01h0.7M231.1 468.75h0.7M243.56 494.03h0.7M274.01 531.46h0.7M278.2 514.92h0.7M262.78 513.82h0.7M274.57 494.61h0.7M255.47 507.49h0.7M248.4 532.23h0.7M228.8 525.7h0.7M249.85 459.77h0.7M240.42 514.14h0.7M270.97 509.5h0.7M257.85 517.73h0.7M273.35 497.79h0.7M271.91 511.81h0.7M272.9 482.06h0.7M271.03 496.57h0.7M238.99 437.45h0.7M274.94 491.93h0.7M260.55 514.07h0.7M270.03 498.88h0.7M242.46 453.82h0.7M261.58 499.68h0.7M273.37 493.76h0.7M257 517.98h0.7M238.11 491.95h0.7M271.02 467.12h0.7M237.53 461.1h0.7M259.55 528.65h0.7M236.09 491.43h0.7M267.62 491.4h0.7M269.76 475.29h0.7M274.31 496.64h0.7M237.4 496.81h0.7M236.9 439.52h0.7M275.36 465.89h0.7M271.95 504.67h0.7M247.45 529.71h0.7M270.81 489.96h0.7M268.04 490.25h0.7M237.76 508.38h0.7M250.95 487.12h0.7M270.21 498.65h0.7M248.36 482.43h0.7M287.37 473.44h0.7M264.1 498.52h0.7M281.84 466.98h0.7M229.63 469.32h0.7M241.09 513.7h0.7M256.34 451.25h0.7M266.98 505.41h0.7M275.7 477.42h0.7M276.89 517.78h0.7M275.63 514.65h0.7M275.35 468.37h0.7M247.21 510.83h0.7M239.15 528.62h0.7M237.6 520.35h0.7M231.87 494.31h0.7M264.64 490.28h0.7M231.47 482.49h0.7M275.35 506.41h0.7M272.5 482.64h0.7M235.65 511.25h0.7M273.87 490.53h0.7M264.67 488.84h0.7M274.5 452.76h0.7M237.33 497.43h0.7M279.46 469.27h0.7M254.72 509.7h0.7M277.87 433.71h0.7M266.02 491.73h0.7M274.07 474.99h0.7M273.76 485.74h0.7M253.9 497.1h0.7M235.54 449.07h0.7M263.7 487.13h0.7M269.17 445.51h0.7M269.84 464.77h0.7M256.62 521.58h0.7M250.18 523.8h0.7M245.57 504.45h0.7M276.17 445.2h0.7M268.06 502.22h0.7M274.91 505.72h0.7M274.64 470.96h0.7M247.21 516.57h0.7M272.72 500.41h0.7M237.62 522.58h0.7M248.13 492.74h0.7M273.06 461.55h0.7M242.2 491.47h0.7M261.4 490.39h0.7M269.67 468.41h0.7M265.87 513.79h0.7M252.01 521.38h0.7M257.4 521.28h0.7M251.77 519.54h0.7M269.86 509.38h0.7M227.3 451.85h0.7M244.83 488.68h0.7M238.64 519.41h0.7M242 528.91h0.7M233.98 529.28h0.7M276.64 480.04h0.7M240.19 507.25h0.7M262.52 503.35h0.7M245.1 517.95h0.7M278.52 503.48h0.7M284.13 434.33h0.7M274.8 446.03h0.7M272.6 467.5h0.7M266.6 506.36h0.7M274.04 521.49h0.7M259.72 523.19h0.7M281.29 484.28h0.7M270.26 511.17h0.7M259.81 493.22h0.7M274.76 468.34h0.7M275.09 505.58h0.7M260.44 462.88h0.7M256.95 526.96h0.7M273.44 476.73h0.7M268.5 462.74h0.7M278.55 427.15h0.7M230.67 494.12h0.7M271.74 503.01h0.7M260.24 511.81h0.7M242.95 525.56h0.7M223.43 453.3h0.7M272.7 523.61h0.7M249.65 503.91h0.7M261.71 522.87h0.7M233.33 462.03h0.7M258.43 441.14h0.7M272.58 509.54h0.7M223.55 454.16h0.7M276.88 505.17h0.7M269.63 478.9h0.7M252.08 524.43h0.7M274.22 458.2h0.7M262.63 486.98h0.7M271.78 490.02h0.7M278.2 517.98h0.7M249.3 461.39h0.7M246.92 511.53h0.7M269.53 508.43h0.7M246.92 513.44h0.7M234.98 502.88h0.7M279.46 465.12h0.7M234.51 447.46h0.7M277.63 488.27h0.7M282.3 503.74h0.7M234.56 519.21h0.7M244.24 501.61h0.7M282.87 503.15h0.7M242.1 526.95h0.7M241.33 505.2h0.7M281.52 469.37h0.7M233.7 450.34h0.7M242.1 490.97h0.7M239.59 491.74h0.7M271.91 456.6h0.7M273.89 531.08h0.7M269.95 476.88h0.7M258.05 497.28h0.7M261.73 524.24h0.7M268.93 529.4h0.7M264.67 512.72h0.7M232.8 506.77h0.7M269.16 507.94h0.7M240.91 523.95h0.7M248.52 519.83h0.7M241.08 494.69h0.7M258.97 511.21h0.7M268.83 509.12h0.7M267.11 467.95h0.7M269.77 500.51h0.7M267.71 477.68h0.7M267.65 480.86h0.7M265.1 466.12h0.7M222.03 455.95h0.7M272.75 488.02h0.7M277.28 454.06h0.7M253.85 495.7h0.7M267.32 489.54h0.7M238.37 514.49h0.7M234.46 506.62h0.7M239.42 515.28h0.7M244.59 520.52h0.7M272.56 488.59h0.7M277.51 477.58h0.7M258.43 518.67h0.7M259.61 493h0.7M273.52 474.67h0.7M242.54 530.99h0.7M236.59 502.5h0.7M279.17 500.71h0.7M275.59 465.24h0.7M243.97 505.16h0.7M242.61 506.37h0.7M266.39 465.39h0.7M274.94 485.75h0.7M242.95 497.06h0.7M263.33 489.45h0.7M279.84 528.33h0.7M277.48 473.7h0.7M240.55 508.34h0.7M269.11 496.85h0.7M248.11 481.32h0.7M276.24 518.61h0.7M268.27 483.12h0.7M257.73 491.79h0.7M235.91 518.28h0.7M266.2 450.7h0.7M241.02 471.05h0.7M233.89 506.01h0.7M252.83 515.07h0.7M265.81 492.39h0.7M238.74 459.47h0.7M272.04 487.6h0.7M228.58 497.54h0.7M252.51 472.49h0.7M246.97 504.9h0.7M258.04 532.16h0.7M232.98 519.9h0.7M278.56 497.48h0.7M278.14 509.09h0.7M275.69 500.52h0.7M234.61 501.18h0.7M241.47 502.05h0.7M281.41 513.79h0.7M256.9 500.21h0.7M269.47 507.08h0.7M261.98 492.73h0.7M277.99 510.88h0.7M258.71 499.42h0.7M221.42 482.99h0.7M251.79 513.35h0.7M232.76 522.01h0.7M275.99 491.97h0.7M273.93 484.95h0.7M272.19 531.42h0.7M267.09 467.01h0.7M258.39 529.21h0.7M266.56 511.33h0.7M260.02 518.25h0.7M272.96 453.98h0.7M270.43 522.7h0.7M237.93 487.4h0.7M265.16 483.92h0.7M275.91 475.93h0.7M272.93 524.49h0.7M271.95 498.68h0.7M280.74 511.14h0.7M269.17 508.34h0.7M277.28 510.13h0.7M267.57 473.35h0.7M240.27 453.47h0.7M249.19 504.84h0.7M269.11 510.57h0.7M272.24 482.91h0.7M258.83 510.42h0.7M252.44 494.94h0.7M273.53 526.09h0.7M275.59 494.85h0.7M282.56 484.26h0.7M243.62 503.92h0.7M271.19 495.74h0.7M281.25 509.55h0.7M256 528.18h0.7M276.37 498.79h0.7M287.08 482.73h0.7M258.04 501.16h0.7M269.49 491.98h0.7M248.07 427.2h0.7M266.01 511.86h0.7M270.63 498.82h0.7M281.23 498.18h0.7M253.58 517.64h0.7M234.71 527.14h0.7M252.96 468.56h0.7M243.27 504.59h0.7M230.64 466.9h0.7M275.31 526.38h0.7M272.35 497.44h0.7M270.98 466.16h0.7M279.48 503.44h0.7M275.76 511.89h0.7M273.66 492.41h0.7M271.09 463.96h0.7M247.95 514.07h0.7M275.07 496.29h0.7M243.72 523.71h0.7M276.65 470.34h0.7M275.78 500.04h0.7M274.58 476.67h0.7M257.7 494.62h0.7M265.07 498.68h0.7M283.1 510.97h0.7M273.24 524.23h0.7M243.43 531.43h0.7M238.63 433.73h0.7M231.37 521.7h0.7M278.31 491.63h0.7M253.91 496.12h0.7M240.88 528.89h0.7M259.71 486.57h0.7M239.46 513.06h0.7M245.58 529.33h0.7M267.14 488.26h0.7M276.68 471.05h0.7M267.74 473.52h0.7M286.44 444.36h0.7M246.44 460.49h0.7M285.33 436.86h0.7M277.14 497.86h0.7M266.84 470.18h0.7M254.49 532.72h0.7M256.93 528.58h0.7M281.79 440.82h0.7M244.6 500.04h0.7M229.46 529.66h0.7M284.96 477.3h0.7M282.41 510.85h0.7M263.65 505.68h0.7M275.41 461.38h0.7M232.74 514.62h0.7M263.97 487.24h0.7M247.06 486.77h0.7M235.86 495.39h0.7M247.93 514.12h0.7M285.28 497.96h0.7M260.66 518.48h0.7M278.75 495.26h0.7M273.19 496.21h0.7M272.84 490.96h0.7M271.54 491.56h0.7M272.24 496h0.7M251.93 451.08h0.7M250.06 459.05h0.7M238.05 468.39h0.7M242.62 504.89h0.7M281.14 517.92h0.7M236.23 492.73h0.7M267.66 516.96h0.7M240.81 458.3h0.7M236.84 499.65h0.7M274.88 501.51h0.7M233.06 486.7h0.7M268.67 488.11h0.7M263.79 506.26h0.7M281.99 489.11h0.7M259.02 525.29h0.7M265.15 526.06h0.7M230.32 523.19h0.7M277.96 487.79h0.7M269.96 450.63h0.7M274.52 484.02h0.7M269.95 480.89h0.7M241.52 519.62h0.7M279.31 469.65h0.7M271.68 487.61h0.7M228.6 458.95h0.7M236.91 472.21h0.7M265.5 489.8h0.7M240.65 447.45h0.7M268.96 517.58h0.7M253.26 503.94h0.7M274.72 497.63h0.7M243.34 489.46h0.7M277.49 485.13h0.7M258.21 497.87h0.7M230.25 524.23h0.7M233.09 495.53h0.7M273.75 497.04h0.7M280.86 465.07h0.7M271.63 499.01h0.7M237.24 506.25h0.7M251.66 493.89h0.7M224.22 488.29h0.7M241.82 488.18h0.7M272.69 463.18h0.7M245.27 529.33h0.7M280.1 526.65h0.7M273.78 478.43h0.7M280.8 482.36h0.7M267.93 517.43h0.7M259.68 502.82h0.7M278.41 471.87h0.7M267.54 509.57h0.7M283.68 443.28h0.7M281.12 461.84h0.7M271.18 479.32h0.7M272.79 493.51h0.7M274.17 474.19h0.7M271.22 484.8h0.7M265.47 508.81h0.7M266.32 481.19h0.7M234.57 502.74h0.7M247.87 516.76h0.7M241.39 468.18h0.7M242.44 486.37h0.7M279.53 490.65h0.7M278.68 510.44h0.7M249.91 506.58h0.7M245.99 444.02h0.7M274.5 496.58h0.7M259.69 532.36h0.7M256.02 494.63h0.7M254 522.34h0.7M237.93 530.14h0.7M273.27 477.86h0.7M240.38 517.32h0.7M271.1 524.42h0.7M275.15 469.12h0.7M264.75 521.56h0.7M279.39 502.77h0.7M259.65 514.3h0.7M267.36 495.09h0.7M266.03 495.26h0.7M269.35 487.24h0.7M273.39 466.19h0.7M249.18 476.8h0.7M273.33 505.19h0.7M279.3 479.32h0.7M260.85 522.85h0.7M270.22 473.57h0.7M268.12 529.48h0.7M275.17 512.51h0.7M271.8 471.43h0.7M273.08 486.23h0.7M254.46 510.71h0.7M271.46 485.24h0.7M276.05 437.09h0.7M257.22 513.31h0.7M230.03 429.43h0.7M236.52 510.12h0.7M261.82 475.05h0.7M272.25 492.4h0.7M275.9 495.06h0.7M268.06 528.7h0.7M276.9 485.28h0.7M268.2 514.03h0.7M243.88 453.19h0.7M279.63 479.28h0.7M266.57 490.56h0.7M253.01 505.54h0.7M258.5 495.03h0.7M211.24 486.77h0.7M237.93 499.91h0.7M278.21 480.27h0.7M235.98 483.04h0.7M229.56 531.95h0.7M260.05 499.71h0.7M278.35 522.03h0.7M279.98 461.4h0.7M267.77 489.49h0.7M270.97 493.06h0.7M256.39 531.43h0.7M282.53 509.46h0.7M278.47 479.46h0.7M238.35 527.22h0.7M243.36 523.63h0.7M244.07 528.28h0.7M268.5 505.68h0.7M233.18 449.45h0.7M256.88 513.44h0.7M249.13 506.13h0.7M266.28 482.34h0.7M271.36 487.29h0.7M279.15 521.71h0.7M232.87 467.48h0.7M239.36 496.1h0.7M253.68 447.51h0.7M273.35 473h0.7M240.19 447.1h0.7M262.11 486.94h0.7M241.5 530.52h0.7M265.95 514.74h0.7M270.52 520.13h0.7M250.51 528.84h0.7M274.09 461.21h0.7M282.16 468.62h0.7M272.23 512.6h0.7M264.86 496.21h0.7M239.93 470.29h0.7M271.08 464.83h0.7M233.06 528.05h0.7M249.42 486.82h0.7M275.45 493.01h0.7M255.34 526.41h0.7M270.02 448.22h0.7M230.47 513.99h0.7M260.13 524.36h0.7M253.6 517.16h0.7M252.58 527.1h0.7M235.87 470.51h0.7M269.18 492.59h0.7M268.97 489.92h0.7M248.79 503.35h0.7M269.75 495.05h0.7M236.15 492.6h0.7M277.94 486.1h0.7M233.19 506.68h0.7M259 514.48h0.7M282.34 487.18h0.7M237.87 528.04h0.7M236.82 488.84h0.7M239.67 519.32h0.7M268.92 484.18h0.7M265.42 491.2h0.7M280.6 490.35h0.7M269.79 504.63h0.7M232.72 472.32h0.7M275.33 509.94h0.7M238.72 507.05h0.7M268.9 491.33h0.7M255.4 521.69h0.7M247.91 529.01h0.7M263.15 521.48h0.7M244.86 516.46h0.7M267.29 491.86h0.7M255.14 498.15h0.7M270.78 449.71h0.7M264.72 493.76h0.7M234.07 492.05h0.7M240.32 527.79h0.7M279.7 445.31h0.7M236.82 488.73h0.7M269.79 497.26h0.7M248.97 508.02h0.7M276.3 477.84h0.7M245.27 508.28h0.7M266.6 491.86h0.7M242.17 517.65h0.7M233.98 466.15h0.7M268.74 480.83h0.7M269.44 531.72h0.7M270.12 522.73h0.7M271.26 480.63h0.7M236.74 437.43h0.7M277.82 531.27h0.7M282.12 525.09h0.7M276.46 459.26h0.7M277.36 457.89h0.7M251.54 523.05h0.7M253.59 502.04h0.7M279.5 493.54h0.7M269.58 500.56h0.7M235.75 501.36h0.7M240.2 456.27h0.7M243.55 519.62h0.7M234.34 457.5h0.7M233.58 437.07h0.7M271.72 474.63h0.7M230.66 525.92h0.7M237.33 500.9h0.7M245.18 441.23h0.7M263.46 495.84h0.7M260.56 516.58h0.7M259.23 518.41h0.7M269.12 490.76h0.7M268.31 480.23h0.7M274.37 502.84h0.7M220.49 482.9h0.7M277.96 497.56h0.7M267.96 505.15h0.7M284.07 447.56h0.7M235.03 505.24h0.7M282.67 513.5h0.7M261.95 495.63h0.7M275.53 487.64h0.7M278.31 526.47h0.7M283.91 518.4h0.7M268.47 498.06h0.7M252.68 489.62h0.7M242.48 521.08h0.7M278.53 521.93h0.7M278.18 484.41h0.7M258.71 495.73h0.7M233.47 523.58h0.7M228.98 462.98h0.7M267.24 476.61h0.7M275.17 516.7h0.7M272.92 460.13h0.7M271.06 484.99h0.7M244.84 518.12h0.7M282.2 500.45h0.7M273.13 519.82h0.7M209.67 457.28h0.7M271.13 498.12h0.7M273.75 478.94h0.7M267.59 504.99h0.7M269.72 514.01h0.7M257.2 502.04h0.7M260.97 491.63h0.7M275.78 528.1h0.7M237.13 520.61h0.7M256.27 528.58h0.7M276.04 471.69h0.7M265.61 474.09h0.7M275.79 516.14h0.7M281.88 500.76h0.7M276.66 496.65h0.7M279.81 508.08h0.7M276.3 465.31h0.7M269.72 479.08h0.7M273.2 465.74h0.7M247.38 493.89h0.7M256.26 497.84h0.7M275.25 493.81h0.7M268.1 500.27h0.7M281.16 518.75h0.7M270.91 529.39h0.7M278.03 493.07h0.7M272.73 497.59h0.7M278.9 454.73h0.7M270.61 505.25h0.7M273.94 487.06h0.7M229.52 474.24h0.7M242.8 495.06h0.7M251.28 486.03h0.7M281.25 492.3h0.7M263.37 487.53h0.7M260.67 515.27h0.7M280.64 472.15h0.7M242.54 491.97h0.7M237.67 532.65h0.7M245.45 512.26h0.7M266.91 514.99h0.7M254.96 521.55h0.7M237.01 529.25h0.7M253.93 532.23h0.7M239.7 437.21h0.7M260.36 532.58h0.7M232.08 436.42h0.7M285.11 497.21h0.7M271.88 506.43h0.7M279.17 500.71h0.7M272.14 507.16h0.7M281.16 514.4h0.7M231.31 483.56h0.7M276.08 488.84h0.7M261.63 467.81h0.7M272.34 517.9h0.7M264.05 454.12h0.7M224.8 459.58h0.7M269.2 467.89h0.7M257.11 520.33h0.7M267.17 501.67h0.7M274.22 502.54h0.7M232.81 454.21h0.7M247.86 490.66h0.7M275.64 469.31h0.7M268.84 528.83h0.7M273 479.78h0.7M254.13 499.31h0.7M270.04 463.12h0.7M259.61 493.62h0.7M238.3 497.75h0.7M246.18 511.14h0.7M275.75 512.48h0.7M249.92 511.43h0.7M240.46 520.88h0.7M234.23 522.34h0.7M281.77 488.63h0.7M257.8 495.77h0.7M279.13 453.98h0.7M268.64 484.05h0.7M271.33 481.61h0.7M280.86 507.45h0.7M273.78 488.28h0.7M275.37 475.36h0.7M279.29 499.93h0.7M235.76 515.8h0.7M271.05 501.01h0.7M267.43 491.3h0.7M272.13 483.03h0.7M266.91 505.65h0.7M259.72 511.22h0.7M244.6 497.14h0.7M272.52 483.5h0.7M274.12 474.12h0.7M275.15 503.7h0.7M239.46 505.8h0.7M267.81 452.67h0.7M260.71 495.49h0.7M235.93 463.31h0.7M272.53 469.76h0.7M278.85 462.49h0.7M282.25 498.22h0.7M277.62 489.6h0.7M272.81 478.52h0.7M268.62 487.46h0.7M275.57 523.5h0.7M269.22 489.61h0.7M275.82 484.17h0.7M240.6 532.02h0.7M268.68 523.87h0.7M274.66 467.76h0.7M267.39 528.38h0.7M258.74 505.46h0.7M246.64 451.51h0.7M255.36 469.81h0.7M241.08 510.3h0.7M273.64 480.33h0.7M249.06 443.2h0.7M277.03 469.88h0.7M257.07 525.8h0.7M275.64 499.96h0.7M265.43 525.45h0.7M266.89 507.2h0.7M272.76 480.04h0.7M272.52 460.04h0.7M225.62 435h0.7M279.37 459.91h0.7M254.41 501.79h0.7M262.1 455.01h0.7M275.23 489.6h0.7M262.8 522.73h0.7M262.16 530.61h0.7M274.98 498.13h0.7M279.37 502.89h0.7M276.78 462.46h0.7M278.25 503.42h0.7M238.19 467.69h0.7M235.68 530.31h0.7M259.58 491.14h0.7M256.08 491.66h0.7M279.59 490.46h0.7M241.26 452.74h0.7M262.87 525.19h0.7M271.66 491.65h0.7M262.47 530.75h0.7M249.46 501.43h0.7M234.3 527.02h0.7M269.84 497.26h0.7M275.49 496.8h0.7M275.28 530.77h0.7M236.4 515.14h0.7M259.16 520.92h0.7M245.76 449.64h0.7M243.68 475.86h0.7M274.71 484.11h0.7M233.41 444.36h0.7M277.29 466.9h0.7M260.99 512.28h0.7M266.9 485.63h0.7M271.67 519.63h0.7M240.81 488.4h0.7M247.11 515.51h0.7M276.61 472.93h0.7M247.16 526.79h0.7M241.13 514.89h0.7M246.88 517.92h0.7M257.24 492.55h0.7M276.25 498.52h0.7M276.82 461.79h0.7M273.67 467.56h0.7M271.94 492.24h0.7M233.61 496.21h0.7M246.52 467.12h0.7M281.24 495.76h0.7M280.22 519.82h0.7M278.74 482.38h0.7M278.15 527.4h0.7M239.87 509.23h0.7M241.46 497.99h0.7M224.09 438.62h0.7M268.89 527.56h0.7M279.43 519.22h0.7M235.28 481.73h0.7M259.63 493.54h0.7M261.54 509.32h0.7M254.96 497.48h0.7M272.23 495.11h0.7M236.85 524.95h0.7M236.39 523.49h0.7M231.91 499.27h0.7M265.89 504.39h0.7M246.86 511.61h0.7M237.85 474.47h0.7M267.07 480.55h0.7M278.19 459.49h0.7M241.17 505.08h0.7M230.61 521.3h0.7M266.74 487.6h0.7M276.91 529.3h0.7M271.26 472.48h0.7M235.34 497.26h0.7M281.74 490.93h0.7M247.84 498.24h0.7M226.35 459.55h0.7M239.51 496.24h0.7M238.42 497.02h0.7M235.63 464.41h0.7M270.84 509.77h0.7M255.69 505.18h0.7M277.81 497.73h0.7M265.23 517.42h0.7M268.22 497.42h0.7M254.46 508.51h0.7M237.36 490.9h0.7M255.34 510.83h0.7M237.31 519.8h0.7M270.61 474.6h0.7M267.7 501.18h0.7M265.02 491.55h0.7M277.57 466.03h0.7M281.55 483.8h0.7M280.08 489.64h0.7M273.57 475.66h0.7M271.7 457.39h0.7M274.49 467.56h0.7M257.97 501.83h0.7M251.07 497.08h0.7M259.78 523.89h0.7M278.25 457.91h0.7M279.48 478.46h0.7M277.9 429.89h0.7M274.84 445.26h0.7M278.44 497.27h0.7M273.61 523.28h0.7M241.94 515.93h0.7M250.81 524.85h0.7M268.65 504.73h0.7M236.75 442.1h0.7M267.63 461.19h0.7M257.28 501.46h0.7M279.73 510.98h0.7M230.98 518.05h0.7M271.91 487.96h0.7M257.27 508.02h0.7M268.66 477.3h0.7M273.32 489.29h0.7M283.84 527.75h0.7M235.53 506.81h0.7M279.92 489.9h0.7M253.75 504.54h0.7M269.85 500.79h0.7M255.35 519.62h0.7M265.43 512.13h0.7M271.5 529.41h0.7M236.23 504.74h0.7M258.04 454.57h0.7M276.72 488.43h0.7M254.54 521.93h0.7M286.44 483.2h0.7M232.96 507.28h0.7M243.78 511.61h0.7M275.47 481.01h0.7M252.93 452.31h0.7M276.68 507.63h0.7M257.55 527.57h0.7M275.15 489.49h0.7M248.78 519.52h0.7M261.36 502h0.7M274.45 467.58h0.7M273.82 516.61h0.7M270.74 487.49h0.7M274.82 472.21h0.7M271.83 481.63h0.7M279.99 497.4h0.7M251.93 500.39h0.7M274.83 507.73h0.7M280.55 476.52h0.7M277.77 474.59h0.7M267.95 495.88h0.7M278.48 505.44h0.7M267.92 483.06h0.7M250.39 507.55h0.7M271.93 493h0.7M279.84 461.89h0.7M274.3 467.42h0.7M265.57 486.16h0.7M275.62 467.94h0.7M262.62 505.69h0.7M260.85 510.01h0.7M259.58 527.94h0.7M267.57 515.51h0.7M245.1 511.41h0.7M271.42 499.26h0.7M254.63 508.48h0.7M237.31 503.93h0.7M241.71 487.53h0.7M272.37 466.66h0.7M249.64 506.25h0.7M255.12 447.14h0.7M228.77 514.12h0.7M234.54 474.75h0.7M247.06 496.22h0.7M245.67 460.39h0.7M259.26 507.44h0.7M233.04 510.63h0.7M248.2 520h0.7M274.81 503.03h0.7M275.67 471.26h0.7M273.69 532.36h0.7M264.83 515.58h0.7M282.27 462.14h0.7M268.51 526.03h0.7M272.58 495.37h0.7M266.96 443.33h0.7M266.75 499.37h0.7M273.72 477.65h0.7M255.38 492.27h0.7M265.76 460.62h0.7M265.99 479.71h0.7M242.38 506.28h0.7M285.42 457.42h0.7M276.7 456.03h0.7M276.06 494.03h0.7M278.9 480.65h0.7M278.41 448.92h0.7M279.46 505.89h0.7M276.15 473.36h0.7M278.12 498.65h0.7M252 464.38h0.7M244.99 497.84h0.7M244.64 531.13h0.7M266.76 504.22h0.7M262.04 503.65h0.7M280.11 435.25h0.7M280.54 501.55h0.7M222.8 480.98h0.7M278.8 492.4h0.7M237.67 499.08h0.7M285.03 474.84h0.7M233.16 466.44h0.7M246.51 489.71h0.7M280.72 507.12h0.7M268.76 511.37h0.7M268.69 489.65h0.7M233.38 493.43h0.7M227.36 526.11h0.7M240.29 518.44h0.7M265.4 526.84h0.7M258.5 501.13h0.7M242.28 515.3h0.7M239.78 515.27h0.7M247.42 460.4h0.7M284.8 496.43h0.7M242.47 481.69h0.7M255.5 472.54h0.7M237.16 520.01h0.7M268.55 524.82h0.7M265.57 490.23h0.7M268.83 486.87h0.7M269.1 507.72h0.7M279.78 468.91h0.7M276.12 491.34h0.7M276.39 482.96h0.7M279.59 478.18h0.7M274.73 483.89h0.7M275.38 520.12h0.7M283.97 474.29h0.7M265.21 497.88h0.7M268.45 526.17h0.7M251.26 474.49h0.7M228.78 482.04h0.7M235.93 497.98h0.7M274.98 496.45h0.7M234.51 477.32h0.7M266.64 496.12h0.7M253.55 520.52h0.7M283.82 517.37h0.7M270.69 467.08h0.7M265.39 527.13h0.7M232.86 524.94h0.7M275.28 435.99h0.7M252.98 527.56h0.7M253.84 532.29h0.7M270.95 511.18h0.7M262.49 457.88h0.7M268.95 482.93h0.7M265.69 493.88h0.7M273.04 494.63h0.7M231.11 509h0.7M266.77 485.08h0.7M266.41 516.15h0.7M243.24 491.8h0.7M271.55 511.93h0.7M242.3 526.06h0.7M262.41 514.57h0.7M269.03 491.58h0.7M262.66 501.16h0.7M275.57 503.36h0.7M248.02 492.69h0.7M267.01 488.5h0.7M273.84 448.55h0.7M279.01 475.76h0.7M266.67 532.59h0.7M252.13 490.27h0.7M244.26 508.75h0.7M246.87 464.11h0.7M263.31 480.54h0.7M278.49 504.25h0.7M278.76 489.55h0.7M251.85 496.88h0.7M274.03 484.47h0.7M254.34 518.39h0.7M241.42 456.24h0.7M242.29 505.27h0.7M277.17 427.59h0.7M268.37 509.16h0.7M262.6 509.66h0.7M230.56 496.9h0.7M258.21 501.93h0.7M272.61 436.79h0.7M281.59 468.67h0.7M269.01 428.41h0.7M254.65 530.68h0.7M232.04 532.01h0.7M267.18 436.71h0.7M259.16 529.63h0.7M274.46 481.35h0.7M248.33 521.22h0.7M266.31 502.38h0.7M233.58 530.8h0.7M244.04 519.36h0.7M255.8 449.4h0.7M240.98 501.75h0.7M272.31 490.04h0.7M238.31 523.34h0.7M277.28 479.88h0.7M247.76 508.64h0.7M261.43 488.33h0.7M254.31 518.92h0.7M274.45 489.19h0.7M249.74 495.62h0.7M275.91 494.1h0.7M255.85 485.69h0.7M273.47 518.7h0.7M272.95 481.07h0.7M262.06 497.61h0.7M280.67 509.57h0.7M243.34 440.06h0.7M261.15 520.15h0.7M260.94 501.12h0.7M252.76 531.68h0.7M269.7 493.71h0.7M267.99 520.17h0.7M274.41 442.63h0.7M247.88 515.6h0.7M251.83 501.49h0.7M270.53 510.54h0.7M210.04 464.23h0.7M224.5 469.02h0.7M262.88 524.35h0.7M234.05 445.16h0.7M260.38 530.2h0.7M270.26 496.58h0.7M272.07 473.48h0.7M279.03 492.83h0.7M240.51 514.74h0.7M248.74 521.12h0.7M260.25 518.08h0.7M278.19 470.25h0.7M270.55 488.93h0.7M281.14 489.92h0.7M277.01 454.74h0.7M282.8 457.8h0.7M274.84 454.79h0.7M270.55 501.21h0.7M236.35 444.74h0.7M262.41 486.85h0.7M265.47 525.73h0.7M259.02 529.09h0.7M277.96 506.17h0.7M271.34 510.93h0.7M255.62 518.07h0.7M256.51 522.74h0.7M241.24 455.31h0.7M236.34 504.65h0.7M281.59 525.76h0.7M247.01 486.55h0.7M261.12 493.5h0.7M256.95 487.26h0.7M240.61 528.54h0.7M243.57 491.61h0.7M256.31 450.02h0.7M253.68 486.8h0.7M271.14 490.64h0.7M250.45 490.29h0.7M270.25 485.02h0.7M273.23 489.76h0.7M270.61 472.99h0.7M238.42 454.72h0.7M232.12 507.36h0.7M246.88 486.49h0.7M235.63 473.59h0.7M275.41 513.02h0.7M270.85 485.83h0.7M256.89 524.42h0.7M264.81 491.17h0.7M260.03 499.51h0.7M257.12 520.54h0.7M262.26 531.54h0.7M279.91 444.81h0.7M250.99 491.6h0.7M250.94 526.38h0.7M269.47 473.11h0.7M237.76 485.49h0.7M240.61 501.27h0.7M258.19 499.9h0.7M274.16 508.4h0.7M267.03 500.66h0.7M265.37 499.97h0.7M237.75 522h0.7M240.6 515.2h0.7M272.58 460.6h0.7M278.77 455.99h0.7M268.66 470.36h0.7M242.37 486.98h0.7M233.44 530.73h0.7M221.96 445.78h0.7M270.82 486.75h0.7M262.75 524.83h0.7M276.18 507.78h0.7M259.92 518.52h0.7M214.44 486.8h0.7M233.51 500.78h0.7M221.48 476.55h0.7M276.75 485.72h0.7M269.37 496.6h0.7M275.91 467.51h0.7M260.48 504.7h0.7M239.25 506.45h0.7M257.86 525.02h0.7M256.81 462.83h0.7M278.36 493.11h0.7M270.71 489.84h0.7M250.23 483.33h0.7M274.23 476.23h0.7M260.61 523.76h0.7M275.25 486.97h0.7M229.55 443.66h0.7M256.1 497.57h0.7M280.26 460.12h0.7M266.43 470.88h0.7M261.8 517.97h0.7M266.88 451.94h0.7M277.52 470.64h0.7M275.14 488.92h0.7M237.95 518.78h0.7M254.24 529.83h0.7M259.82 502.46h0.7M236.23 453.89h0.7M271.9 482.69h0.7M269.16 510.7h0.7M274.77 476.08h0.7M269.41 525.45h0.7M233.98 529.97h0.7M274.01 504.52h0.7M266.72 504.86h0.7M272.86 498.57h0.7M223.07 456.32h0.7M245.64 462.02h0.7M255.83 525.2h0.7M254.84 461.33h0.7M273.42 494.09h0.7M266.93 501.06h0.7M248.55 529.65h0.7M248.11 468.39h0.7M244.11 494.69h0.7M275.94 470.15h0.7M277.54 476.34h0.7M229.13 491.83h0.7M282.31 465.27h0.7M270.71 453.54h0.7M241.53 492.5h0.7M255 492.61h0.7M265.99 468.98h0.7M278.51 491.62h0.7M273.63 492.19h0.7M222.14 487.95h0.7M238.26 443.63h0.7M270.55 462.79h0.7M241.75 486.92h0.7M237.74 517.98h0.7M280.86 485.81h0.7M256.71 509.64h0.7M275.14 499.97h0.7M283.84 456.43h0.7M270.86 489.84h0.7M267.71 452.09h0.7M278.84 525.74h0.7M280.47 529.79h0.7M258.98 499.58h0.7M248.72 495.78h0.7M221.75 482.87h0.7M268.83 487.96h0.7M238.3 493.38h0.7M227.25 497.21h0.7M256.57 514.46h0.7M279.75 467.67h0.7M269.27 484h0.7M270.16 506.22h0.7M278.83 494.12h0.7M279.89 468.44h0.7M269.78 468.75h0.7M266.93 483.7h0.7M277.03 495.39h0.7M270.82 483.67h0.7M272.64 520.74h0.7M272.39 514.85h0.7M269.47 497.15h0.7M278.96 527.49h0.7M265.93 507.67h0.7M253.18 509.67h0.7M269.24 489.17h0.7M223.45 462.36h0.7M273.51 515.06h0.7M258.43 464.6h0.7M264.5 498.62h0.7M268.82 486.97h0.7M232.46 501.71h0.7M273.49 493.28h0.7M280.78 466.19h0.7M275.9 498.37h0.7M269.92 480.75h0.7M242.97 531.27h0.7M270.35 451.53h0.7M254.79 459.55h0.7M270.16 469.44h0.7M253.77 526.64h0.7M279.47 457.61h0.7M272.22 484.25h0.7M262.05 505.76h0.7M239.79 516.27h0.7M251.81 512.99h0.7M231.31 502.84h0.7M230.8 483.12h0.7M253.52 509.35h0.7M242.65 476.13h0.7M274.67 495.13h0.7M251 528.75h0.7M272.89 501.35h0.7M272.02 519.66h0.7M225.83 495.59h0.7M265.5 499.74h0.7M272.26 511.87h0.7M273.68 479.93h0.7M264.51 500.22h0.7M246.9 499.03h0.7M271.49 503.84h0.7M241.91 492.61h0.7M250.12 524.22h0.7M271.67 483.58h0.7M284.58 526.32h0.7M233.02 497.19h0.7M264.4 518.43h0.7M245.17 505.73h0.7M277.51 487.34h0.7M245.79 452.85h0.7M245.49 513.54h0.7M274.41 468.59h0.7M256.08 521.39h0.7M279.46 487.64h0.7M233.95 515.91h0.7M274.77 467.84h0.7M283.67 491.37h0.7M280.15 489.91h0.7M266.93 490.63h0.7M274.29 505h0.7M267.08 493.61h0.7M244.35 461.29h0.7M235.33 459.3h0.7M269.23 518.01h0.7M231.35 507.59h0.7M278.07 472.16h0.7M239.87 495.12h0.7M247.35 477.25h0.7M278.09 490.24h0.7M278.15 496.22h0.7M271.57 512.44h0.7M217.17 451.31h0.7M230.48 509.63h0.7M282.85 499.91h0.7M232.45 463.82h0.7M245.16 474.59h0.7M261.78 501.23h0.7M235.65 511.85h0.7M221.36 499.97h0.7M266.22 491.11h0.7M252.51 515.16h0.7M243.12 528.13h0.7M247.76 526.21h0.7M234.26 465.62h0.7M265.09 491.07h0.7M276.56 503.59h0.7M232.05 514.24h0.7M273.83 468.12h0.7M264.25 464.42h0.7M261.46 524.78h0.7M242.36 512.5h0.7M271.62 490.26h0.7M266.11 505.95h0.7M276.41 493.01h0.7M270.28 486.73h0.7M274.17 488.39h0.7M267.54 474.49h0.7M273.72 491.61h0.7M260.92 510.37h0.7M273.11 473.49h0.7M271.5 501.18h0.7M279.52 518h0.7M272.83 480h0.7M248.72 513.44h0.7M248.73 472.14h0.7M274.56 502.82h0.7M275.92 458.09h0.7M261.97 507.6h0.7M263.79 521.16h0.7M238.86 528.23h0.7M270.88 477.02h0.7M245.8 494.2h0.7M241.93 528.21h0.7M230.61 532.16h0.7M277.96 478.64h0.7M230.5 530.02h0.7M280.22 515.63h0.7M261.31 501.64h0.7M269.48 476.73h0.7M272.99 470.09h0.7M248.45 520.31h0.7M270.75 496.44h0.7M223.5 462.98h0.7M267.97 508.74h0.7M240.62 497.08h0.7M238.3 462.83h0.7M251.65 524.08h0.7M244.06 528.61h0.7M225.73 466.63h0.7M274.74 478.65h0.7M274.27 490.08h0.7M278.14 525.95h0.7M277.74 477.25h0.7M269.76 464.28h0.7M263.02 517.02h0.7M218.74 479.3h0.7M269.45 481.66h0.7M234.62 436.71h0.7M276.8 526.83h0.7M232.13 505.61h0.7M273.11 456.76h0.7M275.9 458.19h0.7M277.17 462.26h0.7M220.99 466.56h0.7M276.37 458.98h0.7M235.33 507.49h0.7M237.97 471.6h0.7M248.39 503.73h0.7M267.39 487.55h0.7M257.51 504.36h0.7M270.95 496.56h0.7M262.05 491.83h0.7M269.97 522.1h0.7M280.82 494.68h0.7M252.17 514.49h0.7M267.85 483.36h0.7M256.18 493.35h0.7M233.96 526.99h0.7M275.03 498.61h0.7M274.33 507.57h0.7M277.55 532.76h0.7M233.14 496.51h0.7M212.73 456.68h0.7M274.05 484.89h0.7M271.74 522.07h0.7M230.92 525.64h0.7M281.31 454.11h0.7M252.71 522.98h0.7M261.99 523.33h0.7M274.69 462.14h0.7M253.66 495.37h0.7M242.36 497.5h0.7M266.13 500.86h0.7M248.14 519.8h0.7M273.91 434.7h0.7M261.69 480.06h0.7M275.65 433.22h0.7M269.94 509.95h0.7M238.91 485.3h0.7M233.44 498.61h0.7M278.76 457.18h0.7M281.38 477.25h0.7M236.55 528.47h0.7M217.12 464.41h0.7M238.48 446.58h0.7M231.76 510.26h0.7M263.84 498.91h0.7M277.28 522.59h0.7M269.02 462.75h0.7M274.41 510.46h0.7M271.39 484.71h0.7M241.25 497.82h0.7M264.26 493.73h0.7M273.95 459.77h0.7M251.98 493.85h0.7M220.52 465.88h0.7M268.46 484.46h0.7M262.83 469.76h0.7M274.21 456.98h0.7M273.64 476.4h0.7M279.64 488.81h0.7M230.35 517.04h0.7M282.01 482.28h0.7M269.74 500.25h0.7M237.69 519.73h0.7M278.04 528.81h0.7M241.49 477.8h0.7M275.04 495.17h0.7M277.06 511.62h0.7M228.32 439.94h0.7M279.14 511.65h0.7M233.22 503.36h0.7M261.13 517.26h0.7M249.57 510.75h0.7M282.54 521.85h0.7M271.51 480.78h0.7M247.08 496.92h0.7M267 502.55h0.7M276.37 468.65h0.7M282.43 503.38h0.7M271.91 483.25h0.7M262.85 457.93h0.7M242.44 525.92h0.7M277.24 461.64h0.7M273.87 466.73h0.7M279.64 448.27h0.7M254.67 502.17h0.7M246.72 519.11h0.7M266.9 492.15h0.7M271.33 502.16h0.7M243.63 521.54h0.7M245.36 489.91h0.7M288.3 455.22h0.7M268.78 491.86h0.7M276.32 471.47h0.7M270.8 477.97h0.7M274.03 525.22h0.7M275.36 457.61h0.7M273.19 495.92h0.7M274.45 478.33h0.7M269.98 529.26h0.7M239.46 447.76h0.7M263.51 469.1h0.7M275.93 506.09h0.7M267.58 488.41h0.7M262.58 473.44h0.7M260.04 501.15h0.7M270.43 521.25h0.7M277.04 532.65h0.7M275.85 473.26h0.7M276.5 498.89h0.7M273.89 461.68h0.7M234.62 495.44h0.7M261.28 525.55h0.7M272.13 471.6h0.7M250.02 492.99h0.7M269.33 516.18h0.7M264.67 513.38h0.7M269.82 506h0.7M244.12 528.46h0.7M275.89 475.95h0.7M260.44 498.2h0.7M257.6 498.73h0.7M235.69 512.51h0.7M254.79 507.23h0.7M271.8 489.38h0.7M260.06 528.77h0.7M238.97 430.15h0.7M214.78 450.86h0.7M269.68 496.94h0.7M238.67 514.52h0.7M270.66 484.85h0.7M251.04 498.49h0.7M283.24 470.89h0.7M275.63 468.35h0.7M231.57 446.12h0.7M257.17 506.62h0.7M277.25 464.26h0.7M241.33 473.19h0.7M273.34 483.06h0.7M270.41 524.8h0.7M276.66 455.55h0.7" stroke="#2a2a2a" stroke-width="0.7"/>
<path d="M103.97 636.31h0.7M141.38 656.16h0.7M109.22 635.05h0.7M116.27 565.85h0.7M120.64 630.78h0.7M112.46 643.87h0.7M114.43 648.61h0.7M118.44 641.76h0.7M149.89 623.94h0.7M108.48 645.18h0.7M102.85 577.48h0.7M114.05 611.64h0.7M146.11 624.63h0.7M115.71 649.32h0.7M103.25 613.83h0.7M104.78 584.04h0.7M154.29 650.25h0.7M146.71 649.57h0.7M146.71 641.23h0.7M109.37 633.85h0.7M101.83 594.69h0.7M132.2 634.08h0.7M107.25 630.8h0.7M103.92 634h0.7M152.16 650.5h0.7M96.99 590.69h0.7M137.5 642.35h0.7M147.9 636.16h0.7M132 638.53h0.7M101.07 619.47h0.7M110.12 570.99h0.7M150.3 640.81h0.7M109.66 649.6h0.7M130.05 639.19h0.7M112.52 622.41h0.7M106.68 632.03h0.7M131.43 656.9h0.7M109.65 564.55h0.7M112.35 580.6h0.7M156.97 643.29h0.7M135.83 644.15h0.7M130.16 654.62h0.7M135.8 644.33h0.7M104.86 608.03h0.7M100.78 627.21h0.7M113.02 631.83h0.7M125.72 639.03h0.7M135.85 628.08h0.7M111.74 653.93h0.7M151.18 637.04h0.7M140.91 649.93h0.7M143.01 644.54h0.7M155.88 624.67h0.7M99.68 601.91h0.7M99.02 631.89h0.7M95.65 578.32h0.7M114.86 602.05h0.7M133.58 658.22h0.7M116.8 612.45h0.7M124.01 586.63h0.7M112.8 647.24h0.7M122.42 640.14h0.7M148.04 625.67h0.7M142.67 606.96h0.7M82.59 580.84h0.7M101.88 627.46h0.7M125.6 646.41h0.7M107.69 598.76h0.7M127.8 632.64h0.7M110.5 620.88h0.7M117.58 656.76h0.7M107.86 611.45h0.7M139.85 649.12h0.7M99.29 633.05h0.7M140.88 644.29h0.7M154.52 651.29h0.7M79.48 575.76h0.7M135.21 622.92h0.7M100.08 650.12h0.7M119.7 640.8h0.7M155.77 622.81h0.7M149.11 649.86h0.7M105.02 650.09h0.7M115.25 621.1h0.7M119.43 597.39h0.7M147.79 644.58h0.7M110.43 602.4h0.7M100.49 620.92h0.7M133.25 627.28h0.7M107.16 649.22h0.7M110.16 634.32h0.7M151.71 620.35h0.7M104.83 644.7h0.7M113.34 623.95h0.7M100.58 608.34h0.7M147.02 618.4h0.7M140.93 617.75h0.7M104.87 575.48h0.7M98.02 588.67h0.7M137.16 629.09h0.7M107.12 589.89h0.7M112.86 564.95h0.7M129.96 650.57h0.7M132.62 646.98h0.7M106.38 645.07h0.7M106.82 621.99h0.7M94.07 575.73h0.7M119.04 625.7h0.7M106.77 585.69h0.7M101.91 620.33h0.7M101.62 621.83h0.7M140.23 599.72h0.7M127.01 622.28h0.7M114.2 569.69h0.7M95.57 585.01h0.7M129.82 655.94h0.7M144.24 646.6h0.7M151.71 642.82h0.7M148.71 635.62h0.7M105.67 649.39h0.7M95.44 588.82h0.7M143.01 650.53h0.7M123.8 563.75h0.7M132.72 631.48h0.7M105.9 606.32h0.7M153.28 594.82h0.7M101.44 643.91h0.7M150.96 651.28h0.7M134.33 621.49h0.7M109.69 606.85h0.7M142.13 620.73h0.7M139.33 650.63h0.7M105.82 635.28h0.7M105.41 649.36h0.7M118.51 601.05h0.7M155.8 625.65h0.7M118.78 610.7h0.7M107.62 581.48h0.7M139.73 607.1h0.7M97.7 619.76h0.7M117.84 652.32h0.7M141.01 625.46h0.7M146.38 633.53h0.7M148.89 630.83h0.7M119.94 582.59h0.7M96.38 597.88h0.7M120.7 567h0.7M108.56 612.02h0.7M113.7 634.95h0.7M148.43 638h0.7M115.1 629.07h0.7M134.96 625.52h0.7M131.53 627.21h0.7M117.9 641.16h0.7M88.37 572.94h0.7M124.3 642.72h0.7M131.06 631.58h0.7M106.65 624.55h0.7M97.73 652.31h0.7M112.98 647.74h0.7M120.36 647.81h0.7M113.64 573.39h0.7M119.87 572.51h0.7M117.36 645.08h0.7M123.01 616.01h0.7M111.12 639.81h0.7M116.19 563.19h0.7M145.53 640.48h0.7M114.61 608.36h0.7M109.7 615.38h0.7M134.16 624.67h0.7M144.39 657.72h0.7M106.95 592.51h0.7M150.18 632.24h0.7M130.35 619.77h0.7M146.44 643.92h0.7M117.81 648.7h0.7M145.55 615.66h0.7M150.12 628.09h0.7M133.34 633h0.7M111.64 563.43h0.7M114.91 626.5h0.7M99.54 597.98h0.7M107.66 640.46h0.7M120.02 615.42h0.7M110.57 566.99h0.7M150.47 620.68h0.7M135.62 617.51h0.7M122.4 623.09h0.7M138.05 622.82h0.7M123.59 608.83h0.7M115.64 615.19h0.7M149.21 639.83h0.7M103.52 602.57h0.7M114.86 590.74h0.7M150.19 622.71h0.7M110.43 638.3h0.7M141.13 658.53h0.7M140.09 603.93h0.7M142.22 621.26h0.7M138.84 644.54h0.7M95.37 622.77h0.7M147.38 650.01h0.7M153.6 634.7h0.7M142.11 646.39h0.7M106.86 604.81h0.7M148.61 644.33h0.7M102.94 588.74h0.7M106.98 635.08h0.7M138.32 651.49h0.7M107.94 619.4h0.7M144.34 651.64h0.7M144.27 648.64h0.7M98.73 602.17h0.7M141.49 630.27h0.7M101.75 654h0.7M141.96 627.78h0.7M116.35 626.68h0.7M104.56 628.84h0.7M120.32 649.41h0.7M114.86 605.55h0.7M114.28 628.38h0.7M111.61 597.52h0.7M149.76 643.44h0.7M98.91 634.99h0.7M137.97 639.71h0.7M110.99 604.15h0.7M156 641.2h0.7M147.79 621.84h0.7M157.41 638.65h0.7M95.62 586.51h0.7M113.45 574.29h0.7M101.33 620.49h0.7M153.97 623.82h0.7M141.49 647.22h0.7M113.96 631.74h0.7M117.52 582.64h0.7M109.93 643.71h0.7M134.03 643.63h0.7M153.19 625.27h0.7M95.35 597.76h0.7M148.11 651.04h0.7M151.56 619.62h0.7M97.89 638.71h0.7M111.43 554.53h0.7M90.47 592.72h0.7M102.18 657.23h0.7M111.56 629.24h0.7M141.44 625.02h0.7M114.94 608.83h0.7M152.6 656.87h0.7M144.76 603.83h0.7M118.22 621.81h0.7M117.03 589.6h0.7M136.69 561.11h0.7M114.92 613.75h0.7M110.5 585.18h0.7M127.91 622.62h0.7M141.41 643.98h0.7M154.71 625.99h0.7M111.75 652.13h0.7M108.04 652.65h0.7M142.09 645.98h0.7M151.95 644.13h0.7M97.85 646.63h0.7M128.47 656h0.7M154.54 631.17h0.7M84.03 597.47h0.7M127.78 626.72h0.7M161.32 622.56h0.7M125.31 618.57h0.7M136.98 646.17h0.7M109.29 623.49h0.7M137.71 629.6h0.7M109.5 641.77h0.7M98.25 613h0.7M141.06 596.57h0.7M104.45 640.87h0.7M112.58 620.1h0.7M88.29 604.99h0.7M149.41 656.2h0.7M131.09 658.48h0.7M103.81 658.45h0.7M132.36 654.43h0.7M95.62 590.35h0.7M142.15 639.93h0.7M111.89 581.42h0.7M120.82 629.92h0.7M131.06 590.01h0.7M95.31 580.04h0.7M126.03 621.45h0.7M112.27 630.16h0.7M101.79 634.73h0.7M120.85 616.67h0.7M106.52 578.43h0.7M111.02 610.2h0.7M120.42 563.21h0.7M95.67 567.2h0.7M133.6 631.41h0.7M139.08 654.18h0.7M105.2 586.94h0.7M112.87 611.23h0.7M100.52 619.57h0.7M150.61 639.54h0.7M111.74 606.46h0.7M144.57 655.74h0.7M125.24 648.08h0.7M133.29 630.96h0.7M114.03 589.03h0.7M105.14 620.3h0.7M107.27 596.6h0.7M145.47 623.83h0.7M101.72 653.39h0.7M89.82 602.53h0.7M99.69 613.69h0.7M100.3 558.05h0.7M85.07 565.72h0.7M130.56 650.47h0.7M101.94 622.61h0.7M111.55 609.68h0.7M110.84 576.17h0.7M93.88 592.06h0.7M97.8 651.41h0.7M138.56 627.88h0.7M94.57 652.23h0.7M112.7 597.02h0.7M145.13 597.22h0.7M102.8 611.19h0.7M109.45 579.66h0.7M116.29 636.33h0.7M144.67 655.06h0.7M141.48 639.96h0.7M129.57 656.27h0.7M120.08 650.09h0.7M136.14 643.62h0.7M128.31 649.28h0.7M123.13 615.15h0.7M116.84 633.67h0.7M115.02 631.09h0.7M122.24 562.21h0.7M114.06 636.79h0.7M115.15 629.38h0.7M112.91 637.05h0.7M110.28 603.65h0.7M126.94 629.91h0.7M116.25 658.08h0.7M132.31 637.26h0.7M105.97 583.78h0.7M144.34 641.96h0.7M114.72 620.67h0.7M115.93 609.57h0.7M132.74 655.09h0.7M98.93 608.85h0.7M120.18 657.75h0.7M133.6 626.62h0.7M107.35 638.64h0.7M113.75 612.78h0.7M110.45 619.92h0.7M120.84 608.12h0.7M130.83 631.6h0.7M153.29 625.66h0.7M131.52 619.44h0.7M112.81 605.28h0.7M118.72 569.99h0.7M148.01 628.55h0.7M85.31 582.15h0.7M100.86 589.83h0.7M133.5 645.87h0.7M156.54 657.14h0.7M116.67 630.82h0.7M113.97 627.01h0.7M109.95 575.78h0.7M121.15 574.25h0.7M94.7 642.85h0.7M119.27 614.16h0.7M119.66 624.56h0.7M114.31 607.7h0.7M155.99 620.2h0.7M139.95 655.85h0.7M161.05 635.18h0.7M121.82 647.52h0.7M148.61 622.62h0.7M98.42 608.54h0.7M133.86 645.08h0.7M156.48 636.43h0.7M119.14 657.87h0.7M96.05 583.36h0.7M105.81 609.19h0.7M107.97 637.21h0.7M108.77 656.66h0.7M141.61 588.06h0.7M132.48 649.59h0.7M141.25 626.61h0.7M114.81 633.31h0.7M95.95 612.11h0.7M102.34 645.5h0.7M111.01 652.13h0.7M140.87 628.61h0.7M103.2 652.73h0.7M115.86 657.64h0.7M112.58 630.83h0.7M124.12 632.26h0.7M117.46 607.3h0.7M142.05 622.7h0.7M96.29 575.32h0.7M135.72 627.56h0.7M137.11 623.6h0.7M95.92 554.38h0.7M103.92 633.46h0.7M132.81 620.62h0.7M110.47 605.9h0.7M104.97 609.83h0.7M143.78 634.93h0.7M105.96 640.59h0.7M96.61 569.89h0.7M141.83 620.43h0.7M125.12 636.3h0.7M151.59 614.61h0.7M98.32 643.31h0.7M111.36 616.33h0.7M93.44 592.21h0.7M150.06 622.97h0.7M114.86 634.62h0.7M142.69 639.71h0.7M103.77 635h0.7M140.41 625.69h0.7M154.7 635.75h0.7M111.92 554.99h0.7M101.72 558.69h0.7M100.25 629.88h0.7M102.56 655.69h0.7M103.7 575h0.7M148.89 651.67h0.7M148.82 647.71h0.7M109.02 623.39h0.7M117.26 649.03h0.7M96.4 603.78h0.7M100.35 621.05h0.7M102.97 609.38h0.7M141.01 630.15h0.7M106.09 615.26h0.7M122.98 619.62h0.7M118.49 575.48h0.7M150.73 634.33h0.7M101.29 644.21h0.7M155.41 656.39h0.7M137.28 646.27h0.7M95.58 635.7h0.7M118.76 614.01h0.7M145.95 636.1h0.7M134.1 649.52h0.7M123.18 618.15h0.7M145.84 653.1h0.7M111.5 611.33h0.7M105.59 554.27h0.7M137.17 649.03h0.7M91.24 600.45h0.7M151.44 636.05h0.7M137.06 619.68h0.7M116.87 616.13h0.7M100.3 656.32h0.7M130.94 630.09h0.7M145.88 622.32h0.7M134.98 644.64h0.7M148.94 632.13h0.7M116 604.34h0.7M101.61 623.1h0.7M110.9 566.72h0.7M134.54 636.06h0.7M116.98 633.47h0.7M99.18 621.89h0.7M137.92 643.84h0.7M100.62 575.44h0.7M136.81 647.29h0.7M104.05 562.51h0.7M146 601.67h0.7M98.15 646.13h0.7M145.38 645.55h0.7M122.95 621.87h0.7M85 579.73h0.7M105.95 623.64h0.7M153.42 655.26h0.7M113.1 644.28h0.7M130.72 653h0.7M114.37 615.93h0.7M112.82 608.31h0.7M112.52 639.17h0.7M122.22 640.86h0.7M101.14 626.27h0.7M112.97 642.34h0.7M121.83 616.57h0.7M102.21 599.45h0.7M154.91 631.27h0.7M148.87 647.72h0.7M109.55 632.38h0.7M99.76 608.53h0.7M96.41 634h0.7M117.34 622.03h0.7M95.79 629.47h0.7M91.21 579.51h0.7M113.4 614.19h0.7M103.34 646.21h0.7M97.43 614.42h0.7M96.57 658.5h0.7M138.29 631.58h0.7M104.06 638.77h0.7M137.57 642.88h0.7M93.53 622.53h0.7M153.34 625.05h0.7M107.81 620.42h0.7M131.21 642.79h0.7M141 587.11h0.7M133.51 637.53h0.7M145 630.06h0.7M107.86 623.8h0.7M146.79 629.41h0.7M157.19 642.64h0.7M108.67 642.66h0.7M94.73 592.17h0.7M140.63 620.57h0.7M153.55 643.19h0.7M137.27 632.34h0.7M149.02 631h0.7M103.86 637.4h0.7M103.83 639.77h0.7M115.18 628.7h0.7M114.93 584.51h0.7M138.82 632.59h0.7M105.13 632.18h0.7M110.61 558.42h0.7M128.66 657.36h0.7M113.08 595.23h0.7M116.49 624.53h0.7M98.19 656.99h0.7M117.64 654.5h0.7M135.29 644.86h0.7M107.29 645.39h0.7M102.21 631.66h0.7M134.58 632.11h0.7M109.75 586.31h0.7M96.39 564.39h0.7M101.42 653.79h0.7M136.34 646.22h0.7M121.67 615.4h0.7M117.73 609.23h0.7M126.58 646.22h0.7M120.47 646.21h0.7M94.96 652.75h0.7M99.77 629.21h0.7M147.17 636.72h0.7M123.67 655.59h0.7M154.05 643.34h0.7M117.96 651.54h0.7M115.62 616.05h0.7M103.19 563.32h0.7M140.87 624.83h0.7M105.73 631.14h0.7M104.41 639.47h0.7M110.99 620.33h0.7M114.73 612.41h0.7M106.98 646.41h0.7M111.14 621.22h0.7M140.1 640.03h0.7M131.17 622.44h0.7M137.53 640.96h0.7M120.15 643.76h0.7M99.27 634.88h0.7M123.52 623.4h0.7M148.62 642.74h0.7M130.8 646.07h0.7M138.57 653.3h0.7M114.95 622.26h0.7M125.98 584.47h0.7M145.73 653.65h0.7M103.37 608.59h0.7M150.06 631.41h0.7M108 658.1h0.7M105.25 604.97h0.7M102.84 617.45h0.7M118.66 614.14h0.7M141.98 628.13h0.7M137.39 628.3h0.7M101.24 629.56h0.7M109.89 621.58h0.7M98.65 602.21h0.7M117.55 631.38h0.7M103.06 656.74h0.7M98.06 650.83h0.7M144.2 631.24h0.7M110.92 651.06h0.7M117.95 615.71h0.7M145.12 642.06h0.7M119.03 564.5h0.7M159 618.1h0.7M110.02 611.7h0.7M112.01 615.51h0.7M137.58 601.4h0.7M108.92 654.43h0.7M113.05 635.85h0.7M143.48 618.34h0.7M137.8 638.28h0.7M151.64 648.73h0.7M92.65 573.39h0.7M132.29 650.66h0.7M110.7 641.72h0.7M127.41 651.49h0.7M97.84 569.37h0.7M94.09 574.81h0.7M101.24 657.29h0.7M103.86 583.9h0.7M108.32 580.94h0.7M128.45 624.6h0.7M112.76 578.89h0.7M93.36 566.71h0.7M152.4 618.65h0.7M147.81 650.9h0.7M135.65 624.86h0.7M134.87 628.47h0.7M136.97 640.56h0.7M106.08 569.79h0.7M124.11 565.77h0.7M108.18 650.98h0.7M112.63 656.97h0.7M91.84 596.69h0.7M135.51 651.35h0.7M111.23 646.74h0.7M96.9 635.63h0.7M115.86 653.05h0.7M120.89 612.57h0.7M142.03 635.67h0.7M103.56 563.02h0.7M120.93 581.49h0.7M104.97 638.08h0.7M108.56 657.4h0.7M116.77 615.21h0.7M99.5 617.7h0.7M138.98 638h0.7M147.4 637.7h0.7M137.27 643.54h0.7M142.44 624.24h0.7M150.51 650.87h0.7M107.99 557.31h0.7M121.2 597.99h0.7M123.13 651.22h0.7M145.18 636.12h0.7M114.75 570.87h0.7M114.21 615.33h0.7M107.8 645.26h0.7M107.72 643.34h0.7M97.01 636.99h0.7M141.4 639.24h0.7M118.49 644.59h0.7M100.61 622.52h0.7M114.06 645.73h0.7M108.59 578.56h0.7M93.66 619.2h0.7M97.34 611.57h0.7M137.42 637.4h0.7M142.72 600.51h0.7M85.22 557.4h0.7M140.64 654.05h0.7M93.99 624.16h0.7M104.42 647h0.7M140.01 635.86h0.7M135.92 654.71h0.7M96.85 560.83h0.7M131.9 623.54h0.7M96.93 596.99h0.7M102.55 580.45h0.7M101.61 622.6h0.7M106.21 652.92h0.7M138.91 599.53h0.7M100.43 635.46h0.7M102.18 629.61h0.7M96.63 622.57h0.7M138.69 631.65h0.7M145.3 607.25h0.7M117.74 624.57h0.7M111.3 652.06h0.7M152.04 625.26h0.7M111.91 613.18h0.7M112.47 630.86h0.7M117.11 641.55h0.7M110.2 608.79h0.7M113.16 620.55h0.7M104.03 587.37h0.7M138.87 650.57h0.7M94.12 630.02h0.7M138.63 644.04h0.7M109 630.23h0.7M134 634.55h0.7M115.51 650.88h0.7M109.71 592.68h0.7M112.2 657.23h0.7M93.7 609.03h0.7M129 638.37h0.7M105.08 585.25h0.7M115.86 623.88h0.7M146.74 595.73h0.7M142.43 603.1h0.7M139.93 625.62h0.7M95.59 561.13h0.7M133.79 647.68h0.7M139.72 599.38h0.7M114.98 623.55h0.7M111.41 602.09h0.7M110.98 633.86h0.7M111.53 628.45h0.7M150.04 654.72h0.7M104.53 609.09h0.7M109.2 610.89h0.7M139.36 652.67h0.7M130.54 655.45h0.7M146.56 640.83h0.7M121.9 612.33h0.7M135.35 650.6h0.7M123.65 637.03h0.7M110.34 626.52h0.7M153.54 626.29h0.7M101.67 604.2h0.7M138.33 622.06h0.7M115.19 656.63h0.7M108.18 600.82h0.7M138.1 656.58h0.7M103.46 608.51h0.7M142.66 630.31h0.7M105 630.41h0.7M144.38 634.58h0.7M100.13 622.48h0.7M143.72 597.82h0.7M156.49 651.69h0.7M105.88 639.97h0.7M126.56 630.31h0.7M143.94 585.52h0.7M116.62 625.42h0.7M149.51 634.98h0.7M157.36 652.69h0.7M99.31 568.57h0.7M115.63 652.27h0.7M139.15 631.6h0.7M135.5 629.49h0.7M99.9 612.19h0.7M149.75 623.43h0.7M119.87 654h0.7M138.11 647.82h0.7M102.23 594h0.7M108.91 608.44h0.7M122.32 640.87h0.7M108.56 626.48h0.7M109.73 630.18h0.7M130.6 644.09h0.7M106.22 627.96h0.7M115.67 614.85h0.7M153.1 619.72h0.7M128.74 635.7h0.7M103.84 578.03h0.7M109.31 639.77h0.7M99.79 626.62h0.7M109.96 647.18h0.7M127.88 623.6h0.7M110.35 577.5h0.7M148.55 632.24h0.7M118.99 622.4h0.7M116.01 613.18h0.7M146.42 658.5h0.7M148.47 644.85h0.7M151.74 618.9h0.7M94.05 632.66h0.7M94.37 583.57h0.7M118.19 605.91h0.7M102.39 569.6h0.7M111.24 658.33h0.7M147.53 626.51h0.7M137.96 653.9h0.7M102.41 630.71h0.7M109.87 645.34h0.7M157.34 646.11h0.7M122.19 646.85h0.7M135.38 649.44h0.7M98 626.03h0.7M121.43 594.6h0.7M113.57 604.19h0.7M140.77 596.89h0.7M152.5 628.94h0.7M137.35 641.17h0.7M147.13 657.22h0.7M78.93 604.96h0.7M132.9 653.72h0.7M130.54 647.96h0.7M100.58 631.56h0.7M135.11 642.6h0.7M114.4 658.33h0.7M147.66 646.99h0.7M136.4 629.19h0.7M100.77 620.47h0.7M101.02 633.92h0.7M154.93 653.09h0.7M120.34 642.43h0.7M155.9 653.67h0.7M107.86 604.6h0.7M132.28 631.55h0.7M102.76 644.4h0.7M132.87 638.63h0.7M107.79 631.87h0.7M99.86 617.44h0.7M100.41 566.33h0.7M146.97 606.68h0.7M132.43 625.6h0.7M142.88 596.86h0.7M130.17 619.17h0.7M108.17 602.8h0.7M118.62 633.63h0.7M111.73 598.85h0.7M120.38 640.1h0.7M140.7 636.37h0.7M120.13 626.01h0.7M145.29 604.88h0.7M103.71 619.9h0.7M137.05 646.13h0.7M109.67 589.95h0.7M115.77 577.5h0.7M98.15 609.72h0.7M96.63 602.32h0.7M99.94 597.8h0.7M121.92 636.37h0.7M135.68 639.37h0.7M150.91 626.05h0.7M113.01 638.86h0.7M140.77 599.73h0.7M116.73 616.52h0.7M104.76 602.23h0.7M97.4 646.39h0.7M110.67 590.42h0.7M130.83 638.82h0.7M144.99 638.26h0.7M104.02 622.13h0.7M105.61 654.87h0.7M102.71 577.58h0.7M109.39 621.89h0.7M146.5 585.6h0.7M111.58 607.56h0.7M112.17 608.02h0.7M148.49 619.42h0.7M149.89 602.95h0.7M107.32 584.37h0.7M99.46 646.6h0.7M113.31 644.99h0.7M91.73 641.74h0.7M134.58 644.95h0.7M101.41 632.7h0.7M99.91 638.41h0.7M113.73 651.51h0.7M156.84 648.19h0.7M119.46 638.58h0.7M112.3 591.31h0.7M123.85 642.5h0.7M142.71 618.82h0.7M121.01 622.3h0.7M110.83 610.61h0.7M106.8 629.91h0.7M105.85 637.92h0.7M154.13 631.38h0.7M120.98 642.05h0.7M98.61 588.32h0.7M98.56 614.2h0.7M141.15 584.25h0.7M105.32 569.19h0.7M103.11 611.17h0.7M111.42 580.96h0.7M148.32 620.48h0.7M105.6 643.36h0.7M122.82 593.68h0.7M161.57 655.28h0.7M129.59 634.04h0.7M115.95 629.52h0.7M105.59 642.13h0.7M119.25 631.22h0.7M148.04 617.53h0.7M117.08 642.7h0.7M116.04 568.36h0.7M111.6 622.6h0.7M151.7 650.74h0.7M94.69 628.59h0.7M135.52 652.97h0.7M105.41 648.68h0.7M135.35 649.49h0.7M141.13 630.07h0.7M117.39 612.35h0.7M143.6 616.66h0.7M161.19 625.91h0.7M119.83 575.49h0.7M125.23 602.48h0.7M99.77 639.25h0.7M122.07 626.2h0.7M142.11 643.41h0.7M138.29 657.62h0.7M96.95 584.98h0.7M110.56 633.24h0.7M126.69 652.43h0.7M136.24 632.57h0.7M119.33 588.57h0.7M129.84 644.58h0.7M149.62 631.81h0.7M105.9 609.72h0.7M105.84 631.9h0.7M108.28 588.46h0.7M120.74 640.13h0.7M97.29 627.43h0.7M157.77 653.91h0.7M134.48 643.04h0.7M102.56 584.08h0.7M103.43 631.5h0.7M106.04 625.02h0.7M94.01 597.29h0.7M144.42 622.32h0.7M146.31 629.44h0.7M109.65 618.48h0.7M129.49 649.03h0.7M130.76 619.98h0.7M141.59 601.03h0.7" stroke="#333" stroke-width="0.7"/>
<path d="M247.9 636.6h0.7M235.87 644.22h0.7M252.9 605.18h0.7M263.22 592.74h0.7M233.47 627.95h0.7M245.36 625.27h0.7M235.88 581.48h0.7M225.83 659.6h0.7M234.83 658.26h0.7M266.87 629.71h0.7M240.93 655.38h0.7M244.32 598.64h0.7M238.05 626.71h0.7M284.07 637.23h0.7M278.04 621.22h0.7M229.12 629.5h0.7M234.37 563h0.7M225.18 609.1h0.7M241 578.22h0.7M237.32 603.31h0.7M236.1 604.08h0.7M284.56 620.17h0.7M246.22 610.97h0.7M246.83 613.51h0.7M236.98 564.27h0.7M233.98 646.46h0.7M232.71 638.42h0.7M238.21 655.8h0.7M242.55 661.37h0.7M238.44 623.79h0.7M228.57 592h0.7M285.83 644.44h0.7M280.01 591.72h0.7M245.06 651.73h0.7M233.92 621.85h0.7M235.42 654.99h0.7M238.3 624.05h0.7M288.4 658.82h0.7M258.61 635.44h0.7M231.17 608.1h0.7M271.4 659.06h0.7M252.82 613.53h0.7M296.42 631.57h0.7M240.95 600.2h0.7M231.31 569.77h0.7M220.06 574.51h0.7M278.55 585.99h0.7M233.24 560.42h0.7M247.54 563.44h0.7M233.22 640.49h0.7M235.59 652.18h0.7M283.65 604.02h0.7M233.21 637.99h0.7M242.16 578.41h0.7M232.72 623.95h0.7M252.63 624.08h0.7M233.36 607.95h0.7M281.54 631.4h0.7M238.2 566.23h0.7M228.1 607.95h0.7M226.32 586.54h0.7M231.42 618.9h0.7M267.14 653.36h0.7M239.53 578.65h0.7M248.25 582.68h0.7M233.17 618.5h0.7M236.54 574.77h0.7M239.13 620.61h0.7M240.13 642.33h0.7M246.33 616.03h0.7M231.59 603.68h0.7M235.06 581.19h0.7M233.44 567.38h0.7M226.26 612.13h0.7M240.54 562.47h0.7M272.28 649.54h0.7M238.18 592.76h0.7M248.6 569.2h0.7M230.87 571.22h0.7M239.42 632.73h0.7M231.23 579.04h0.7M276.51 633.79h0.7M237.64 627.1h0.7M233.94 591.06h0.7M229 602.23h0.7M234.95 564.98h0.7M220.53 601.18h0.7M228.54 570.95h0.7M232.88 619.32h0.7M241.88 615.35h0.7M272.14 589.66h0.7M236.26 619.67h0.7M244.23 595.71h0.7M272.46 628.48h0.7M234.63 597.34h0.7M243.41 580.83h0.7M237.82 584.54h0.7M233.27 560.43h0.7M227.67 634.9h0.7M243.58 604.47h0.7M271.53 651.18h0.7M272.21 648.39h0.7M231.59 568.9h0.7M275.96 654.07h0.7M233.82 617.4h0.7M259.82 639.44h0.7M232.99 580.87h0.7M223.43 626.31h0.7M234.45 601.51h0.7M230.58 644.15h0.7M224.98 637.52h0.7M229.08 618.3h0.7M273.52 578h0.7M274.13 588.63h0.7M237.34 633.86h0.7M237.75 651.62h0.7M226.12 620.53h0.7M255.39 621.7h0.7M251.13 626.48h0.7M220.24 561.95h0.7M238.95 614.91h0.7M231.06 618.81h0.7M245.87 614.35h0.7M267.76 634.54h0.7M236.14 633.35h0.7M232.3 567.68h0.7M229.47 571.93h0.7M274.07 649.26h0.7M234.09 568.39h0.7M223.27 588.3h0.7M236.44 607.41h0.7M252.58 643.12h0.7M229.8 622.38h0.7M255.06 574.31h0.7M264.94 651.3h0.7M235.13 595.88h0.7M241.11 577.22h0.7M233.69 655.99h0.7M229.9 591.15h0.7M257.72 633.25h0.7M232.46 570.53h0.7M243.21 657.6h0.7M239.63 588.7h0.7M238.31 599.52h0.7M254.34 597.4h0.7M239.69 617.63h0.7M234.24 624.84h0.7M268.88 654.43h0.7M283.19 656.11h0.7M241.81 616.52h0.7M234.58 580.69h0.7M224.7 655.59h0.7M261.26 586.36h0.7M238.1 613.23h0.7M282.96 625.56h0.7M254.22 571.47h0.7M238.02 577.11h0.7M283.24 619.08h0.7M237.8 640.78h0.7M263.51 644.59h0.7M285.39 651.88h0.7M237.96 610.63h0.7M270.21 604.42h0.7M221.34 635.85h0.7M275.29 632.97h0.7M232.69 595.17h0.7M245.52 606.93h0.7M228.35 598.65h0.7M236.01 572.46h0.7M247.56 618.78h0.7M233.35 644.33h0.7M231.75 640.68h0.7M254.45 619.99h0.7M239.66 640.26h0.7M234.03 598.53h0.7M223.44 646.39h0.7M229.3 650.27h0.7M277.19 621.25h0.7M260.82 621.86h0.7M218.26 633.2h0.7M276.89 641.13h0.7M275.61 567.19h0.7M221.89 608.77h0.7M247.51 573.27h0.7M225.67 631.17h0.7M261.3 618.7h0.7M237.95 564.82h0.7M238.29 594.95h0.7M227.85 598.72h0.7M234.84 586.99h0.7M237.73 636.22h0.7M254.65 642.95h0.7M235.08 566.42h0.7M277.44 619.08h0.7M237.94 578.74h0.7M273.2 613.81h0.7M236.41 654.68h0.7M234.29 623.61h0.7M242 605.57h0.7M236.27 592.09h0.7M217.29 554.45h0.7M237.99 566.22h0.7M249.42 620.22h0.7M242.08 578.71h0.7M231.74 602.42h0.7M236.95 626.5h0.7M224.6 626.36h0.7M234.66 617.61h0.7M261.52 644.52h0.7M293.62 644.65h0.7M234.86 569.56h0.7M232.51 588.47h0.7M251.96 606.93h0.7M231.47 597.45h0.7M243.96 575.36h0.7M264.8 642.3h0.7M222.96 639.66h0.7M276.53 627.63h0.7M249.68 608.56h0.7M248.63 649.01h0.7M232.66 591.05h0.7M238.75 595.81h0.7M241.44 611.86h0.7M233.26 635.48h0.7M244.04 618.52h0.7M256.35 630.63h0.7M235.8 575.7h0.7M263.25 655.15h0.7M241.01 616.28h0.7M232.9 610.19h0.7M224.97 577.59h0.7M232.75 634.76h0.7M227.97 655.91h0.7M227.1 607.97h0.7M226.43 637.72h0.7M230.17 646.68h0.7M251.31 645.61h0.7M240.68 582.61h0.7M222.63 648.63h0.7M233.34 583.02h0.7M225.07 628.7h0.7M240.07 604.66h0.7M265.34 625.71h0.7M233.22 595.39h0.7M231.42 617.16h0.7M220.43 597.52h0.7M233.06 594.56h0.7M277.17 661.41h0.7M240.72 639.25h0.7M242.33 590.11h0.7M246.82 644.16h0.7M221.64 641.02h0.7M235.55 614.46h0.7M262.01 625.89h0.7M231.13 581.36h0.7M224.58 581.48h0.7M245.1 595.32h0.7M251.17 617.93h0.7M233.97 650.59h0.7M240.19 639.89h0.7M253.79 591.78h0.7M257.44 595.39h0.7M242.32 557.1h0.7M233.32 612.95h0.7M266.69 634.98h0.7M227.76 611.97h0.7M228.58 596.47h0.7M250.84 615.52h0.7M237.32 610.19h0.7M252.12 574.48h0.7M257.78 594.01h0.7M238.73 631.99h0.7M235.48 654.51h0.7M225.61 555.5h0.7M234.53 640.25h0.7M230.5 561.07h0.7M233.58 645.03h0.7M275.22 618.89h0.7M243.17 612.5h0.7M257.72 596.46h0.7M237.02 558.5h0.7M247.59 622.62h0.7M245.83 559.7h0.7M229.39 568.59h0.7M257.89 600.21h0.7M237.37 661.03h0.7M224.69 589.46h0.7M247.74 625.51h0.7M226.1 600.12h0.7M239.93 569.71h0.7M232.8 638h0.7M239.48 556.98h0.7M238.18 623.65h0.7M235.14 650.95h0.7M236.47 598.33h0.7M260.16 620.81h0.7M233.16 568.58h0.7M229.14 613.5h0.7M234.41 598.45h0.7M241.41 647.99h0.7M223.11 585.81h0.7M231.52 648.05h0.7M240.15 601.3h0.7M271.68 619.9h0.7M237.99 616.93h0.7M270.02 653.9h0.7M229.58 640.49h0.7M236.77 634.08h0.7M242.41 626.65h0.7M235.54 576.11h0.7M272.78 651.57h0.7M273.46 645.65h0.7M242.41 633.92h0.7M267.22 582.73h0.7M223.73 604.03h0.7M250.93 576.52h0.7M254.97 599.96h0.7M257.08 630.13h0.7M275.26 636.01h0.7M260.27 620.63h0.7M236.39 587.64h0.7M241.73 598.3h0.7M235.27 615.28h0.7M230.57 613.51h0.7M234.63 572.08h0.7M228.05 649.37h0.7M283.14 569.92h0.7M237.52 610.18h0.7M230.71 598.99h0.7M226.85 589.52h0.7M238.75 652.56h0.7M236.97 646.59h0.7M242.73 631.75h0.7M221.8 628.78h0.7M286.8 634.44h0.7M240.13 579.25h0.7M238.68 560.78h0.7M272.7 639.94h0.7M244.71 644.04h0.7M229.73 650.24h0.7M272.49 583.88h0.7M230.53 636.36h0.7M241.98 568.02h0.7M234.71 632.69h0.7M275.23 649.17h0.7M240.11 562.89h0.7M237.08 626.95h0.7M253.79 608.69h0.7M244.06 563.99h0.7M233.63 575.89h0.7M236.53 572.03h0.7M233.84 584.13h0.7M233.04 582.02h0.7M234.72 595.03h0.7M229.79 660.99h0.7M268.58 647.41h0.7M238.86 648.03h0.7M236.7 585.92h0.7M236.24 571.35h0.7M230.87 639.94h0.7M231.03 569.95h0.7M236.11 650.27h0.7M237.86 561.47h0.7M261.54 635.57h0.7M235.83 639.78h0.7M233.91 570.5h0.7M244.89 595.66h0.7M264.89 654.78h0.7M237.33 616.35h0.7M221.87 568h0.7M285.68 623.71h0.7M230.9 605.01h0.7M285.6 650.25h0.7M233.67 557.41h0.7M227.85 657.25h0.7M237.77 604.32h0.7M275.43 621.3h0.7M277.26 649.3h0.7M231.27 655.53h0.7M242.82 631.73h0.7M243.61 636.72h0.7M244.35 603.36h0.7M226.8 639.76h0.7M244.98 647.73h0.7M224.95 609.35h0.7M232.51 578.24h0.7M242.79 585.34h0.7M233.05 633.76h0.7M229.63 580.23h0.7M239.71 658.93h0.7M279.14 657.12h0.7M261.08 582.15h0.7M235.79 655.7h0.7M284.72 661.86h0.7M234.82 637.21h0.7M232.57 558.76h0.7M233.77 624.24h0.7M275.9 648.9h0.7M232.24 580.59h0.7M242.55 567.52h0.7M271.37 582.51h0.7M224.33 562.23h0.7M242.38 637.41h0.7M222.07 565.93h0.7M243.61 584.95h0.7M246.19 621.42h0.7M241.75 612.98h0.7M251.57 641.68h0.7M237.62 570.42h0.7M239.29 632.87h0.7M229.92 566.97h0.7M227.17 593.71h0.7M221.89 655.86h0.7M261.53 596.77h0.7M238.94 644.5h0.7M248.85 565.22h0.7M221.53 652.46h0.7M234.74 593.48h0.7M228.7 597.39h0.7M247.31 583.98h0.7M261.67 586.67h0.7M274.59 626.23h0.7M229.58 624.8h0.7M231.84 564.17h0.7M259.39 649.87h0.7M235.09 566.13h0.7M233.05 607.14h0.7M232.51 650.41h0.7M237.37 645.95h0.7M230.55 577.95h0.7M240.33 614.87h0.7M234.85 640.24h0.7M273.85 645.74h0.7M269.4 657.98h0.7M237.84 637.34h0.7M249.35 575.23h0.7M272.66 623.64h0.7M243.69 594.71h0.7M276.09 626.72h0.7M230.38 554.57h0.7M242.45 569.01h0.7M243.76 609.07h0.7M240.55 614.12h0.7M238.17 630.42h0.7M241.65 569.43h0.7M235.11 600.25h0.7M271.17 647.88h0.7M293.16 658.68h0.7M245.8 590.29h0.7M269.32 637.1h0.7M234.84 614.27h0.7M274.57 569.46h0.7M231.25 569.02h0.7M237.02 588.85h0.7M276.94 629.49h0.7M235.49 622.15h0.7M231.92 645.62h0.7M240.76 655.07h0.7M226.47 555.88h0.7M238.6 617.57h0.7M262.34 597.94h0.7M272.47 622.4h0.7M247.41 609.89h0.7M249.36 594.24h0.7M262.75 603.94h0.7M261.89 646.14h0.7M273.53 587.53h0.7M236.85 556.93h0.7M235.11 646.01h0.7M258.54 641.55h0.7M232.51 625.42h0.7M228.45 605.86h0.7M237.03 568.44h0.7M233.9 615.14h0.7M228.38 620.61h0.7M239.89 620.18h0.7M276.72 596.52h0.7M287.51 644.49h0.7M231.25 584.07h0.7M240.04 637.34h0.7M246.8 598.27h0.7M261.33 646.68h0.7M233.77 645.89h0.7M239.9 642.28h0.7M263.51 570.97h0.7M242.47 641.21h0.7M235.72 601.39h0.7M241.94 607.8h0.7M268.48 661.14h0.7M232.56 568.41h0.7M227.03 645.52h0.7M240.5 610.77h0.7M276.6 658.64h0.7M244.32 640.99h0.7M263.21 612.42h0.7M239.09 619.64h0.7M241.88 569.24h0.7M231.33 579.56h0.7M234.76 579.35h0.7M244.65 625.62h0.7M237.64 636.3h0.7M238.67 653.98h0.7M277.79 628.08h0.7M241.47 596.59h0.7M236.8 610.46h0.7M233.92 637.65h0.7M245.05 641.44h0.7M277.26 661.88h0.7M225.9 608.01h0.7M278.66 648.91h0.7M223.27 640.61h0.7M234.95 591.67h0.7M245.1 651.24h0.7M237.32 628.84h0.7M234.52 656.14h0.7M226.6 610.91h0.7M225.66 598.17h0.7M238.96 561.64h0.7M234.41 601.6h0.7M273.79 658.84h0.7M240.79 657.46h0.7M242.22 639.83h0.7M230.26 577.7h0.7M235.05 655.46h0.7M253.73 616.23h0.7M245.18 577.29h0.7M229.88 592.71h0.7M248.77 574.37h0.7M221.98 579.44h0.7M243.72 589.47h0.7M268.66 655.03h0.7M235.08 626.8h0.7M227.42 573.03h0.7M231.86 628.44h0.7M242.32 605.79h0.7M245.34 564.64h0.7M228.25 567.52h0.7M234.26 580.67h0.7M227.56 620.24h0.7M232.4 594.65h0.7M232.41 573.86h0.7M231.66 613.36h0.7M220.21 595.67h0.7M228.52 583.4h0.7M228.44 630.26h0.7M249.99 624.03h0.7M228.73 598.28h0.7M234.59 568.01h0.7M273.8 629.28h0.7M247.3 583.92h0.7M275.38 645.9h0.7M240.07 565.39h0.7M275.09 592h0.7M234.25 560.08h0.7M237.27 589.79h0.7M279.61 592.23h0.7M241.51 563.57h0.7M238.1 571.48h0.7M230.32 642.06h0.7M286.32 624.84h0.7M240.36 659.25h0.7M276.79 628.3h0.7M241.54 624.15h0.7M230.92 658.23h0.7M225.56 557.97h0.7M223.84 570.46h0.7M238.36 620.3h0.7M224.79 576.68h0.7M287.74 577.32h0.7M232.59 644.36h0.7M231.41 655.28h0.7M242.81 660.91h0.7M234.87 622.36h0.7M283.99 638.89h0.7M272.51 659.43h0.7M263.88 660.19h0.7M224.43 596.97h0.7M253.52 641.53h0.7M234.9 614.52h0.7M235.38 566.04h0.7M235.25 642.84h0.7M233.52 655.47h0.7M226.99 630.89h0.7M239.8 614.32h0.7M230.39 591.65h0.7M276.06 582.06h0.7M234.71 584.83h0.7M234.8 645.57h0.7M231.13 606.29h0.7M248.55 585.59h0.7M237.16 569.36h0.7M232.67 568.83h0.7M218.9 642.29h0.7M279.19 655.43h0.7M239.11 577.02h0.7M240.19 573.3h0.7M236.85 646.21h0.7M235.49 567.62h0.7M281.13 625.66h0.7M230.09 582.35h0.7M233.99 658.4h0.7M235.08 622.27h0.7M241.51 582.85h0.7M233.43 565.64h0.7M239.9 645.58h0.7M260.6 604.14h0.7M229.54 604.42h0.7M286.47 586.8h0.7M238.8 601.28h0.7M237.91 620.39h0.7M224.77 631.95h0.7M226.52 633.3h0.7M267.95 631.02h0.7M252.1 589.88h0.7M267.52 657.18h0.7M236.9 584.62h0.7M238.39 637.57h0.7M269.76 582.57h0.7M237.95 634.31h0.7M231.86 607.7h0.7M276.89 651.38h0.7M291.78 636.85h0.7M257.93 638.61h0.7M281.4 583.65h0.7M262.03 636.87h0.7M234.24 580.73h0.7M275.71 620.14h0.7M278.8 584.23h0.7M223.71 564.48h0.7M263 644.76h0.7M241.07 656.96h0.7M238.01 642.75h0.7M231.34 650.57h0.7M237.95 576.38h0.7M248.87 601.91h0.7M253.48 602.3h0.7M264.72 581.96h0.7M234.37 579.23h0.7M258.94 652.66h0.7M233.61 612.14h0.7M258.77 654.76h0.7M235.8 642.37h0.7M274.29 589.01h0.7M288.41 641.1h0.7M276.87 605.45h0.7M229.45 598.45h0.7M235.55 659.69h0.7M264.07 654.53h0.7M246.31 628h0.7M232.98 655.95h0.7M257.66 616.94h0.7M230.75 559.61h0.7M242.1 570.42h0.7M231.16 580.11h0.7M239.63 634.88h0.7M226.13 580.25h0.7M234.58 566.81h0.7M233.9 583.84h0.7M242.19 644.48h0.7M268.49 655.45h0.7M233.08 608.23h0.7M242.95 590.77h0.7M248.49 604.61h0.7M232.27 616.48h0.7M243.65 598.19h0.7M280.98 637.98h0.7M257.57 640.99h0.7M240.89 574.56h0.7M237.3 609.99h0.7M234.51 636.15h0.7M241.43 560.42h0.7M239.93 587.51h0.7M242.75 559.83h0.7M242.17 586.4h0.7M228.77 556.91h0.7M225.16 598.35h0.7M222.19 634.31h0.7M287.34 653.13h0.7M246.32 558.1h0.7M278.29 654.44h0.7M232.39 599.38h0.7M257.13 620.86h0.7M240.71 567.57h0.7M247.55 588.99h0.7M235.98 605.82h0.7M283.55 644.28h0.7M242.65 628.29h0.7M237.74 614.74h0.7M256.86 613.6h0.7M233.5 580.02h0.7M237.46 579.36h0.7M237.98 625.96h0.7M261.43 626.34h0.7M232.12 569.31h0.7M225.81 598.08h0.7M232.83 653.91h0.7M249.08 570.07h0.7M286.89 620.27h0.7M238.77 656.18h0.7M230.79 596.26h0.7M233.66 589.42h0.7M235.02 570.57h0.7M228.97 592.39h0.7M234.25 631.09h0.7M271.94 561.34h0.7M285.54 627.21h0.7M273.92 625.04h0.7M236.11 591.65h0.7M227.13 561.22h0.7M290.75 627.24h0.7M242.6 589.85h0.7M234.06 606.79h0.7M238.43 614.16h0.7M236.39 654.52h0.7M231.66 591.4h0.7M240.24 608.55h0.7M234.23 633.75h0.7M227.26 622.74h0.7M258.12 597.27h0.7M236.43 601.93h0.7M233.3 603.15h0.7M231.78 658.78h0.7M235.46 637.29h0.7M262.06 598.68h0.7M288.56 653.56h0.7M286.67 625.97h0.7M237.17 579.67h0.7M245.52 598.29h0.7M238.54 582.96h0.7M279.31 648.63h0.7M275.71 631.81h0.7M249.83 591.44h0.7M276.97 644.99h0.7M240.19 558.42h0.7M271.03 661.77h0.7M247.9 572.78h0.7M237.76 623.1h0.7M257.15 632.92h0.7M265.96 620.36h0.7M269.15 623.41h0.7M275.74 578.26h0.7M278.58 660.71h0.7M240.51 583.97h0.7M238.34 651.73h0.7M222.72 623.22h0.7M231.46 622.15h0.7M223.49 567.09h0.7M237.71 580.76h0.7M229.74 570.86h0.7M248.24 593.06h0.7M243.33 630.81h0.7M236.81 603.01h0.7M244.41 577.73h0.7M220.58 652.3h0.7M237.02 647.89h0.7M239.1 644.09h0.7M243.85 593.47h0.7M240.89 630.21h0.7M276.68 628.92h0.7M249.22 585.8h0.7M235.55 641.97h0.7M250.5 598.18h0.7M227.06 593.72h0.7M239.84 559.1h0.7M244.03 598.37h0.7M228.58 639.93h0.7M229.67 650.24h0.7M241.34 592.86h0.7M284.3 652.71h0.7M235.1 595.71h0.7M230.67 611.38h0.7M234.81 555.03h0.7M234.09 570.57h0.7M258.24 658.12h0.7M229.61 643.43h0.7M227.66 622.88h0.7M230.67 579.83h0.7M241.77 585.92h0.7M229.55 591.4h0.7M223.92 560.65h0.7M233.17 611.91h0.7M238.73 573.31h0.7M283.69 632.61h0.7M238.16 583.52h0.7M234.42 606.86h0.7M245.96 570.63h0.7M241.17 567.48h0.7M235.82 587.55h0.7M244.03 619.9h0.7M275.18 645.6h0.7M233.11 642.4h0.7M232.17 583.17h0.7M236.72 646.82h0.7M234.77 642.63h0.7M238.92 584.04h0.7M253.21 623.63h0.7M232.9 643.99h0.7M244.29 563.66h0.7M281.93 638.81h0.7M272.89 644.37h0.7M243.49 629.06h0.7M241.98 645.85h0.7M237.27 572.42h0.7M238.96 646.51h0.7M235.85 560.7h0.7M249.14 637.21h0.7M281.04 635.45h0.7M233.32 639.93h0.7M252.3 587.74h0.7M234.36 626.6h0.7M222.36 604.97h0.7M220.56 579.12h0.7M223.98 614.42h0.7M231.69 650.5h0.7M229.22 658.55h0.7M235.55 638.77h0.7M247.47 578.4h0.7M234.5 584.6h0.7M260.16 647.43h0.7M237.1 640.26h0.7M237.82 612.93h0.7M235.94 636.09h0.7M286.91 622.52h0.7M261.05 653.31h0.7M235.96 609.44h0.7M229.35 616.57h0.7M264.99 657.93h0.7M242.73 617.58h0.7M271.96 647.77h0.7M240.89 604.24h0.7M238.39 626.34h0.7M232.33 643.15h0.7M279.75 639.01h0.7M287.09 646.94h0.7M222.65 628.31h0.7M248.08 640.11h0.7M236.26 630.19h0.7M234.55 605.23h0.7M234.34 570.05h0.7M236.6 615.49h0.7M232.87 616.74h0.7M234.46 557.95h0.7M268.43 628.62h0.7M234.34 570.69h0.7M229.86 564.53h0.7M267.69 624.94h0.7M228.6 611.44h0.7M246.8 608.13h0.7M276.48 594.28h0.7M223.65 577.58h0.7M245.71 588.56h0.7M240 618.63h0.7M232.74 646.78h0.7M230.39 576.8h0.7M231.45 563.02h0.7M227.96 571.96h0.7M235.25 660.88h0.7M233.49 574.09h0.7M245.79 568.15h0.7M276.12 652.2h0.7M231.64 567.59h0.7M255.44 614.87h0.7M253.97 625.9h0.7M234.83 648.17h0.7M227.65 588.02h0.7M240.85 600.29h0.7M264.21 615.02h0.7M238.9 626.7h0.7M238.79 650.23h0.7M231.32 604.12h0.7M244.62 631.93h0.7M282.91 649.38h0.7M277.76 654.98h0.7M232.75 618.75h0.7M272.87 633.6h0.7M261.83 555.46h0.7M225.21 648.33h0.7M237.61 637.97h0.7M265.46 659.99h0.7M263.21 660.53h0.7M248.78 594.43h0.7M232.56 614.97h0.7M241.6 626.33h0.7M236.21 604.66h0.7M229.81 643.08h0.7M233.4 648.94h0.7M250.88 652.31h0.7M217.68 649.31h0.7M233.8 599.16h0.7M239.41 597.9h0.7M246.27 605.21h0.7M234.36 623.97h0.7M228.22 651.54h0.7M231.07 565.27h0.7M243.71 648.62h0.7M231.09 618.29h0.7M223.94 585.17h0.7M239.75 639.18h0.7M262.98 634.17h0.7M243.31 598.89h0.7M233.98 600.04h0.7M228.11 573.76h0.7M280.07 643.9h0.7M254.37 588.96h0.7M237.41 637.65h0.7M258.63 631.47h0.7M226.85 624.83h0.7M280.28 640.79h0.7M226.89 583.13h0.7M229.67 565.42h0.7M274.43 585.88h0.7M280.06 635.72h0.7M241.11 631.98h0.7M241.3 581.1h0.7M233.63 613.21h0.7M240.21 588.15h0.7M226.23 601.61h0.7M276.57 635.76h0.7M232.05 623.28h0.7M223.5 581.21h0.7M239.62 644.53h0.7M286.38 638.75h0.7M234.69 615.13h0.7M261.51 624.02h0.7M225.86 573.48h0.7M278.67 657.5h0.7M246.93 630.35h0.7M234.09 591.38h0.7M234.98 568.78h0.7M236.99 579.93h0.7M232.19 632.19h0.7M234.85 562.03h0.7M243.28 575.44h0.7M233 590.04h0.7M230.59 635.14h0.7M270.87 637.82h0.7M237.91 621.52h0.7M235.62 656.82h0.7M239.53 576.9h0.7M231.88 643.65h0.7M232.88 570.1h0.7M265.73 608.23h0.7M288.32 578.9h0.7M252.14 630.16h0.7M245.33 644.52h0.7M222 633.95h0.7M244.33 647.67h0.7M249.72 584.79h0.7M233.33 579.64h0.7M235.11 595.64h0.7M258.92 650.81h0.7M278.7 649.13h0.7M232.19 586.87h0.7M232.75 594.88h0.7M248.64 591.16h0.7M219.94 636.32h0.7M232.69 574.69h0.7M276.35 584.16h0.7M242.06 642.41h0.7M238.83 633.47h0.7M273.05 629.46h0.7M223.7 585.14h0.7M221.52 614.91h0.7M225.3 566.79h0.7M230.22 601.36h0.7M260.35 636.85h0.7M246.98 595.09h0.7M227.69 570.3h0.7M241.18 598.8h0.7M243.01 624.78h0.7M228.09 582.98h0.7M240.81 632.22h0.7M222.59 583.57h0.7M235.45 566.89h0.7M244.52 578.86h0.7M239.86 558.33h0.7M248.43 627.87h0.7M277.77 622.82h0.7M261.56 652.19h0.7M254.89 627.64h0.7M236.34 561.33h0.7M232.56 624.91h0.7M230.6 640.93h0.7M231.32 604.18h0.7M239.23 592.74h0.7M259.72 647.49h0.7M228.02 576.88h0.7M237.31 574.77h0.7M234.06 570.94h0.7M249.79 608.21h0.7M229.44 585.21h0.7M236.62 570.42h0.7M227.54 636.78h0.7M250.5 656.79h0.7M227.48 618.48h0.7M250.85 586.72h0.7M289.95 656.99h0.7M265.3 656.4h0.7M231.47 612.65h0.7M280.65 650.11h0.7" stroke="#3a3a3a" stroke-width="0.7"/>
<rect x="133.5" y="432.5" width="27" height="43" fill="none" stroke="#555" stroke-width="0.8"/>
<rect x="129.5" y="489.5" width="32" height="43" fill="none" stroke="#555" stroke-width="0.8"/>
<rect x="261.5" y="432.5" width="27" height="43" fill="none" stroke="#555" stroke-width="0.8"/>
<rect x="257.5" y="489.5" width="33" height="43" fill="none" stroke="#555" stroke-width="0.8"/>
<rect x="130.5" y="558.5" width="27" height="43" fill="none" stroke="#555" stroke-width="0.8"/>
<rect x="126.5" y="615.5" width="33" height="43" fill="none" stroke="#555" stroke-width="0.8"/>
<rect x="262.5" y="561.5" width="26" height="43" fill="none" stroke="#555" stroke-width="0.8"/>
<rect x="257.5" y="617.5" width="33" height="44" fill="none" stroke="#555" stroke-width="0.8"/>
<text x="164.65" y="459.2" font-size="9.4">3.4</text>
<text x="164.65" y="515.5" font-size="9.4">46.4</text>
<text x="292.15" y="459.2" font-size="9.4">6.93</text>
<text x="292.15" y="515.3" font-size="9.4">46.4</text>
<text x="162.65" y="585.6" font-size="9.4">2.45</text>
<text x="162.65" y="640.6" font-size="9.4">37.9</text>
<text x="292.05" y="587" font-size="9.4">3.31</text>
<text x="292.95" y="643.3" font-size="9.4">19.5</text>
<path d="M59.2 679.3L59.2 624.5" stroke="#111" stroke-width="1.5"/>
<path d="M57 625L59.2 620.6L61.4 625Z" fill="#111"/>
<path d="M59.2 679.3L113.5 679.3" stroke="#111" stroke-width="1.5"/>
<path d="M113 677.1L117.3 679.3L113 681.5Z" fill="#111"/>
<text x="51.7" y="650.2" font-size="9.2" text-anchor="middle" transform="rotate(-90 51.7 650.2)">Sca-1</text>
<text x="78.5" y="692" font-size="9.8">c-Kit</text>
<circle cx="373.7" cy="16.1" r="2.6" fill="#111"/>
<circle cx="373.7" cy="31.6" r="2.3" fill="#fff" stroke="#111" stroke-width="1.3"/>
<text x="380" y="19.3" font-size="8.4">Empty-RV</text>
<text x="380" y="34.5" font-size="8.3">miR139T-RV</text>
<path d="M372.5 46.2L372.5 162.7" stroke="#111" stroke-width="1.25"/>
<path d="M368.2 162.5L372 162.5" stroke="#111" stroke-width="1.1"/>
<text x="365.1" y="165.1" font-size="8.7" text-anchor="end">0</text>
<path d="M368.2 133.5L372 133.5" stroke="#111" stroke-width="1.1"/>
<text x="365.1" y="136.82" font-size="8.7" text-anchor="end">20</text>
<path d="M368.2 105.5L372 105.5" stroke="#111" stroke-width="1.1"/>
<text x="365.1" y="108.54" font-size="8.7" text-anchor="end">40</text>
<path d="M368.2 77.5L372 77.5" stroke="#111" stroke-width="1.1"/>
<text x="365.1" y="80.26" font-size="8.7" text-anchor="end">60</text>
<path d="M368.2 48.5L372 48.5" stroke="#111" stroke-width="1.1"/>
<text x="365.1" y="51.98" font-size="8.7" text-anchor="end">80</text>
<path d="M371.4 162.5L512.4 162.5" stroke="#1a1a1a" stroke-width="1.2"/>
<path d="M381.5 162.1L381.5 165.5" stroke="#1a1a1a" stroke-width="1"/>
<path d="M400.5 162.1L400.5 165.5" stroke="#1a1a1a" stroke-width="1"/>
<path d="M432.5 162.1L432.5 165.5" stroke="#1a1a1a" stroke-width="1"/>
<path d="M451.5 162.1L451.5 165.5" stroke="#1a1a1a" stroke-width="1"/>
<path d="M483.5 162.1L483.5 165.5" stroke="#1a1a1a" stroke-width="1"/>
<path d="M502.5 162.1L502.5 165.5" stroke="#1a1a1a" stroke-width="1"/>
<text x="391.3" y="177.3" font-size="8.9" text-anchor="middle">CMP</text>
<text x="442.2" y="177.3" font-size="8.9" text-anchor="middle">GMP</text>
<text x="492.7" y="177.3" font-size="8.9" text-anchor="middle">MEP</text>
<text x="336.4" y="104.6" font-size="9.9" text-anchor="middle" transform="rotate(-90 336.4 104.6)">% of cells</text>
<text x="349.2" y="104.3" font-size="9.3" text-anchor="middle" transform="rotate(-90 349.2 104.3)">(gated on GFP+)</text>
<circle cx="381.5" cy="137.64" r="2.35" fill="#111"/>
<circle cx="377.5" cy="144.28" r="2.35" fill="#111"/>
<circle cx="385.5" cy="144.71" r="2.35" fill="#111"/>
<circle cx="379" cy="147.39" r="2.35" fill="#111"/>
<circle cx="384" cy="148.24" r="2.35" fill="#111"/>
<circle cx="388" cy="144.57" r="2.35" fill="#111"/>
<path d="M375 144.5L388 144.5" stroke="#1a1a1a" stroke-width="1.1"/>
<path d="M381.5 146.83L381.5 142.59" stroke="#1a1a1a" stroke-width="1"/>
<path d="M378.9 146.5L384.1 146.5" stroke="#1a1a1a" stroke-width="1"/>
<path d="M378.9 142.5L384.1 142.5" stroke="#1a1a1a" stroke-width="1"/>
<circle cx="400.8" cy="137.78" r="2.2" fill="#fff" stroke="#111" stroke-width="1.2"/>
<circle cx="397.5" cy="144.71" r="2.2" fill="#fff" stroke="#111" stroke-width="1.2"/>
<circle cx="403.5" cy="149.66" r="2.2" fill="#fff" stroke="#111" stroke-width="1.2"/>
<circle cx="407.5" cy="148.95" r="2.2" fill="#fff" stroke="#111" stroke-width="1.2"/>
<circle cx="397.5" cy="155.6" r="2.2" fill="#fff" stroke="#111" stroke-width="1.2"/>
<path d="M394.3 147.5L407.3 147.5" stroke="#1a1a1a" stroke-width="1.1"/>
<path d="M400.5 151.21L400.5 144.14" stroke="#1a1a1a" stroke-width="1"/>
<path d="M398.2 151.5L403.4 151.5" stroke="#1a1a1a" stroke-width="1"/>
<path d="M398.2 144.5L403.4 144.5" stroke="#1a1a1a" stroke-width="1"/>
<circle cx="434.4" cy="107.24" r="2.35" fill="#111"/>
<circle cx="430" cy="110.77" r="2.35" fill="#111"/>
<circle cx="435" cy="115.72" r="2.35" fill="#111"/>
<circle cx="429" cy="120.67" r="2.35" fill="#111"/>
<circle cx="432" cy="113.74" r="2.35" fill="#111"/>
<path d="M425.5 113.5L438.5 113.5" stroke="#1a1a1a" stroke-width="1.1"/>
<path d="M432.5 115.72L432.5 110.06" stroke="#1a1a1a" stroke-width="1"/>
<path d="M429.4 115.5L434.6 115.5" stroke="#1a1a1a" stroke-width="1"/>
<path d="M429.4 110.5L434.6 110.5" stroke="#1a1a1a" stroke-width="1"/>
<circle cx="451" cy="80.09" r="2.2" fill="#fff" stroke="#111" stroke-width="1.2"/>
<circle cx="447" cy="92.67" r="2.2" fill="#fff" stroke="#111" stroke-width="1.2"/>
<circle cx="456" cy="91.26" r="2.2" fill="#fff" stroke="#111" stroke-width="1.2"/>
<circle cx="451.5" cy="95.64" r="2.2" fill="#fff" stroke="#111" stroke-width="1.2"/>
<circle cx="447.5" cy="95.92" r="2.2" fill="#fff" stroke="#111" stroke-width="1.2"/>
<path d="M445 92.5L458 92.5" stroke="#1a1a1a" stroke-width="1.1"/>
<path d="M451.5 94.79L451.5 88.15" stroke="#1a1a1a" stroke-width="1"/>
<path d="M448.9 94.5L454.1 94.5" stroke="#1a1a1a" stroke-width="1"/>
<path d="M448.9 88.5L454.1 88.5" stroke="#1a1a1a" stroke-width="1"/>
<circle cx="482.9" cy="93.95" r="2.35" fill="#111"/>
<circle cx="485" cy="101.3" r="2.35" fill="#111"/>
<circle cx="482.9" cy="106.67" r="2.35" fill="#111"/>
<circle cx="482.9" cy="117.56" r="2.35" fill="#111"/>
<path d="M476.8 105.5L489.8 105.5" stroke="#1a1a1a" stroke-width="1.1"/>
<path d="M483.5 110.21L483.5 100.31" stroke="#1a1a1a" stroke-width="1"/>
<path d="M480.7 110.5L485.9 110.5" stroke="#1a1a1a" stroke-width="1"/>
<path d="M480.7 100.5L485.9 100.5" stroke="#1a1a1a" stroke-width="1"/>
<circle cx="501.8" cy="109.92" r="2.2" fill="#fff" stroke="#111" stroke-width="1.2"/>
<circle cx="498.8" cy="119.82" r="2.2" fill="#fff" stroke="#111" stroke-width="1.2"/>
<circle cx="508.4" cy="121.8" r="2.2" fill="#fff" stroke="#111" stroke-width="1.2"/>
<circle cx="504.8" cy="126.18" r="2.2" fill="#fff" stroke="#111" stroke-width="1.2"/>
<circle cx="498.8" cy="130.85" r="2.2" fill="#fff" stroke="#111" stroke-width="1.2"/>
<path d="M496.3 122.5L509.3 122.5" stroke="#1a1a1a" stroke-width="1.1"/>
<path d="M502.5 125.62L502.5 118.27" stroke="#1a1a1a" stroke-width="1"/>
<path d="M500.2 125.5L505.4 125.5" stroke="#1a1a1a" stroke-width="1"/>
<path d="M500.2 118.5L505.4 118.5" stroke="#1a1a1a" stroke-width="1"/>
<path d="M382.5 130.1V126.5H408.5V130.1" fill="none" stroke="#1a1a1a" stroke-width="1"/>
<text x="395.5" y="120.7" font-size="8.6" text-anchor="middle">N.S</text>
<path d="M426.5 71.5V67.5H452.5V71.5" fill="none" stroke="#1a1a1a" stroke-width="1"/>
<text x="439.5" y="65.5" font-size="9" text-anchor="middle" style="stroke-width:0.45px">***</text>
<path d="M483.5 85.5V81.5H508.5V85.5" fill="none" stroke="#1a1a1a" stroke-width="1"/>
<text x="496" y="79.1" font-size="9" text-anchor="middle" style="stroke-width:0.45px">*</text>
<path d="M372.5 210.4L372.5 326.4" stroke="#111" stroke-width="1.25"/>
<path d="M368.6 325.5L372.4 325.5" stroke="#111" stroke-width="1.1"/>
<text x="365.5" y="328.8" font-size="8.7" text-anchor="end">0</text>
<path d="M368.6 297.5L372.4 297.5" stroke="#111" stroke-width="1.1"/>
<text x="365.5" y="300.8" font-size="8.7" text-anchor="end">20</text>
<path d="M368.6 269.5L372.4 269.5" stroke="#111" stroke-width="1.1"/>
<text x="365.5" y="272.8" font-size="8.7" text-anchor="end">40</text>
<path d="M368.6 241.5L372.4 241.5" stroke="#111" stroke-width="1.1"/>
<text x="365.5" y="244.8" font-size="8.7" text-anchor="end">60</text>
<path d="M368.6 213.5L372.4 213.5" stroke="#111" stroke-width="1.1"/>
<text x="365.5" y="216.8" font-size="8.7" text-anchor="end">80</text>
<path d="M371.8 325.5L512.2 325.5" stroke="#1a1a1a" stroke-width="1.2"/>
<path d="M389.5 325.8L389.5 329.2" stroke="#1a1a1a" stroke-width="1"/>
<path d="M424.5 325.8L424.5 329.2" stroke="#1a1a1a" stroke-width="1"/>
<path d="M459.5 325.8L459.5 329.2" stroke="#1a1a1a" stroke-width="1"/>
<path d="M494.5 325.8L494.5 329.2" stroke="#1a1a1a" stroke-width="1"/>
<text x="406.8" y="341.2" font-size="8.8" text-anchor="middle">GFP<tspan font-size="5.5" dy="-3.2">+</tspan></text>
<text x="476.8" y="341.2" font-size="8.8" text-anchor="middle">GFP<tspan font-size="5.5" dy="-3.2">&#8722;</tspan></text>
<text x="349.2" y="268.8" font-size="9.6" text-anchor="middle" transform="rotate(-90 349.2 268.8)">% of GMP</text>
<circle cx="394.2" cy="261.7" r="2.35" fill="#111"/>
<circle cx="385.7" cy="266" r="2.35" fill="#111"/>
<circle cx="381.6" cy="271.5" r="2.35" fill="#111"/>
<circle cx="397" cy="270.9" r="2.35" fill="#111"/>
<circle cx="389.5" cy="276.2" r="2.35" fill="#111"/>
<circle cx="390" cy="284.8" r="2.35" fill="#111"/>
<path d="M380.5 272.5L398.5 272.5" stroke="#1a1a1a" stroke-width="1.1"/>
<path d="M389.5 268.8L389.5 275.8" stroke="#1a1a1a" stroke-width="1"/>
<path d="M386.3 268.5L392.7 268.5" stroke="#1a1a1a" stroke-width="1"/>
<path d="M386.3 275.5L392.7 275.5" stroke="#1a1a1a" stroke-width="1"/>
<circle cx="424.5" cy="235.2" r="2.2" fill="#fff" stroke="#111" stroke-width="1.2"/>
<circle cx="432.5" cy="247.4" r="2.2" fill="#fff" stroke="#111" stroke-width="1.2"/>
<circle cx="417.5" cy="251.7" r="2.2" fill="#fff" stroke="#111" stroke-width="1.2"/>
<circle cx="428.8" cy="257" r="2.2" fill="#fff" stroke="#111" stroke-width="1.2"/>
<circle cx="420.3" cy="260.7" r="2.2" fill="#fff" stroke="#111" stroke-width="1.2"/>
<circle cx="424.5" cy="251" r="2.2" fill="#fff" stroke="#111" stroke-width="1.2"/>
<path d="M413.5 251.5L435.5 251.5" stroke="#1a1a1a" stroke-width="1.1"/>
<path d="M424.5 247.4L424.5 254.9" stroke="#1a1a1a" stroke-width="1"/>
<path d="M421.3 247.5L427.7 247.5" stroke="#1a1a1a" stroke-width="1"/>
<path d="M421.3 254.5L427.7 254.5" stroke="#1a1a1a" stroke-width="1"/>
<circle cx="459.6" cy="263.4" r="2.35" fill="#111"/>
<circle cx="459.6" cy="275.8" r="2.35" fill="#111"/>
<circle cx="453.8" cy="276.3" r="2.35" fill="#111"/>
<circle cx="466.7" cy="276.3" r="2.35" fill="#111"/>
<circle cx="459.6" cy="282.7" r="2.35" fill="#111"/>
<path d="M448.6 275.5L470.6 275.5" stroke="#1a1a1a" stroke-width="1.1"/>
<path d="M459.5 270.5L459.5 280.5" stroke="#1a1a1a" stroke-width="1"/>
<path d="M456.4 270.5L462.8 270.5" stroke="#1a1a1a" stroke-width="1"/>
<path d="M456.4 280.5L462.8 280.5" stroke="#1a1a1a" stroke-width="1"/>
<circle cx="494.5" cy="269.2" r="2.2" fill="#fff" stroke="#111" stroke-width="1.2"/>
<circle cx="490.2" cy="274.6" r="2.2" fill="#fff" stroke="#111" stroke-width="1.2"/>
<circle cx="503" cy="278" r="2.2" fill="#fff" stroke="#111" stroke-width="1.2"/>
<circle cx="498.8" cy="282.3" r="2.2" fill="#fff" stroke="#111" stroke-width="1.2"/>
<circle cx="490.2" cy="288.5" r="2.2" fill="#fff" stroke="#111" stroke-width="1.2"/>
<path d="M483.8 278.5L505.2 278.5" stroke="#1a1a1a" stroke-width="1.1"/>
<path d="M494.5 274.6L494.5 281.6" stroke="#1a1a1a" stroke-width="1"/>
<path d="M491.3 274.5L497.7 274.5" stroke="#1a1a1a" stroke-width="1"/>
<path d="M491.3 281.5L497.7 281.5" stroke="#1a1a1a" stroke-width="1"/>
<path d="M385.5 226.7V223.5H421.5V226.7" fill="none" stroke="#1a1a1a" stroke-width="1"/>
<text x="403.5" y="221.3" font-size="9" text-anchor="middle" style="stroke-width:0.45px">**</text>
<path d="M423.5 214.1V210.5H490.5V214.1" fill="none" stroke="#1a1a1a" stroke-width="1"/>
<text x="457" y="208.3" font-size="9" text-anchor="middle" style="stroke-width:0.45px">***</text>
<path d="M459.5 247.9V244.5H494.5V247.9" fill="none" stroke="#1a1a1a" stroke-width="1"/>
<text x="477" y="238.6" font-size="8.6" text-anchor="middle">N.S</text>
<circle cx="372.6" cy="476.8" r="2.7" fill="#111"/>
<circle cx="372.6" cy="491.7" r="2.35" fill="#fff" stroke="#111" stroke-width="1.35"/>
<text x="378.4" y="479.9" font-size="8.6">Empty-RV</text>
<text x="378.4" y="495.2" font-size="8.6">miR139T-RV</text>
<path d="M372.5 521.7L372.5 659.1" stroke="#111" stroke-width="1.25"/>
<path d="M368.5 658.5L372.3 658.5" stroke="#111" stroke-width="1.1"/>
<text x="365.4" y="661.5" font-size="8.7" text-anchor="end">0</text>
<path d="M368.5 631.5L372.3 631.5" stroke="#111" stroke-width="1.1"/>
<text x="365.4" y="634.66" font-size="8.7" text-anchor="end">2</text>
<path d="M368.5 604.5L372.3 604.5" stroke="#111" stroke-width="1.1"/>
<text x="365.4" y="607.82" font-size="8.7" text-anchor="end">4</text>
<path d="M368.5 577.5L372.3 577.5" stroke="#111" stroke-width="1.1"/>
<text x="365.4" y="580.98" font-size="8.7" text-anchor="end">6</text>
<path d="M368.5 551.5L372.3 551.5" stroke="#111" stroke-width="1.1"/>
<text x="365.4" y="554.14" font-size="8.7" text-anchor="end">8</text>
<path d="M368.5 524.5L372.3 524.5" stroke="#111" stroke-width="1.1"/>
<text x="365.4" y="527.3" font-size="8.7" text-anchor="end">10</text>
<path d="M371.7 658.5L512.2 658.5" stroke="#1a1a1a" stroke-width="1.2"/>
<path d="M389.5 658.5L389.5 661.9" stroke="#1a1a1a" stroke-width="1"/>
<path d="M424.5 658.5L424.5 661.9" stroke="#1a1a1a" stroke-width="1"/>
<path d="M459.5 658.5L459.5 661.9" stroke="#1a1a1a" stroke-width="1"/>
<path d="M494.5 658.5L494.5 661.9" stroke="#1a1a1a" stroke-width="1"/>
<text x="407.3" y="673.4" font-size="9.1" text-anchor="middle">GFP<tspan font-size="5.6" dy="-3.3">+</tspan></text>
<text x="477.6" y="673.4" font-size="9.1" text-anchor="middle">GFP<tspan font-size="5.6" dy="-3.3">&#8722;</tspan></text>
<text x="349.2" y="589.6" font-size="9.8" text-anchor="middle" transform="rotate(-90 349.2 589.6)">% of LSK</text>
<circle cx="389.5" cy="582.6" r="2.6" fill="#111"/>
<circle cx="385.6" cy="613" r="2.6" fill="#111"/>
<circle cx="398" cy="617.3" r="2.6" fill="#111"/>
<circle cx="385.6" cy="625.8" r="2.6" fill="#111"/>
<circle cx="394.1" cy="625" r="2.6" fill="#111"/>
<path d="M378 613.5L401 613.5" stroke="#1a1a1a" stroke-width="1.1"/>
<path d="M389.5 604.7L389.5 620.7" stroke="#1a1a1a" stroke-width="1"/>
<path d="M383.7 604.5L395.3 604.5" stroke="#1a1a1a" stroke-width="1"/>
<path d="M383.7 620.5L395.3 620.5" stroke="#1a1a1a" stroke-width="1"/>
<circle cx="424.5" cy="551.8" r="2.35" fill="#fff" stroke="#111" stroke-width="1.3"/>
<circle cx="419.8" cy="566.2" r="2.35" fill="#fff" stroke="#111" stroke-width="1.3"/>
<circle cx="428.8" cy="566.7" r="2.35" fill="#fff" stroke="#111" stroke-width="1.3"/>
<circle cx="424.5" cy="582.6" r="2.35" fill="#fff" stroke="#111" stroke-width="1.3"/>
<path d="M413.1 566.5L435.9 566.5" stroke="#1a1a1a" stroke-width="1.1"/>
<path d="M424.5 560.3L424.5 573.1" stroke="#1a1a1a" stroke-width="1"/>
<path d="M418.6 560.5L430.4 560.5" stroke="#1a1a1a" stroke-width="1"/>
<path d="M418.6 573.5L430.4 573.5" stroke="#1a1a1a" stroke-width="1"/>
<circle cx="459.5" cy="602.7" r="2.6" fill="#111"/>
<circle cx="455.4" cy="625" r="2.6" fill="#111"/>
<circle cx="463.8" cy="629.2" r="2.6" fill="#111"/>
<circle cx="459.5" cy="638.7" r="2.6" fill="#111"/>
<path d="M448.2 624.5L470.8 624.5" stroke="#1a1a1a" stroke-width="1.1"/>
<path d="M459.5 616.8L459.5 631.5" stroke="#1a1a1a" stroke-width="1"/>
<path d="M454 616.5L465 616.5" stroke="#1a1a1a" stroke-width="1"/>
<path d="M454 631.5L465 631.5" stroke="#1a1a1a" stroke-width="1"/>
<circle cx="485.7" cy="613.5" r="2.35" fill="#fff" stroke="#111" stroke-width="1.3"/>
<circle cx="491.6" cy="617.3" r="2.35" fill="#fff" stroke="#111" stroke-width="1.3"/>
<circle cx="497.3" cy="616.3" r="2.35" fill="#fff" stroke="#111" stroke-width="1.3"/>
<circle cx="503.7" cy="613" r="2.35" fill="#fff" stroke="#111" stroke-width="1.3"/>
<path d="M483.2 614.5L505.2 614.5" stroke="#1a1a1a" stroke-width="1.1"/>
<path d="M494.5 613.5L494.5 616.2" stroke="#1a1a1a" stroke-width="1"/>
<path d="M491.2 613.5L497.2 613.5" stroke="#1a1a1a" stroke-width="1"/>
<path d="M491.2 616.5L497.2 616.5" stroke="#1a1a1a" stroke-width="1"/>
<path d="M384.5 537.9V533.5H419.5V537.9" fill="none" stroke="#1a1a1a" stroke-width="1"/>
<text x="402" y="531.6" font-size="9" text-anchor="middle" style="stroke-width:0.45px">**</text>
<path d="M424.5 525.1V521.5H491.5V525.1" fill="none" stroke="#1a1a1a" stroke-width="1"/>
<text x="458" y="519.5" font-size="9" text-anchor="middle" style="stroke-width:0.45px">***</text>
<path d="M459.5 559.1V555.5H494.5V559.1" fill="none" stroke="#1a1a1a" stroke-width="1"/>
<text x="477" y="549.4" font-size="8.6" text-anchor="middle">N.S</text>
</svg>
</body></html>
